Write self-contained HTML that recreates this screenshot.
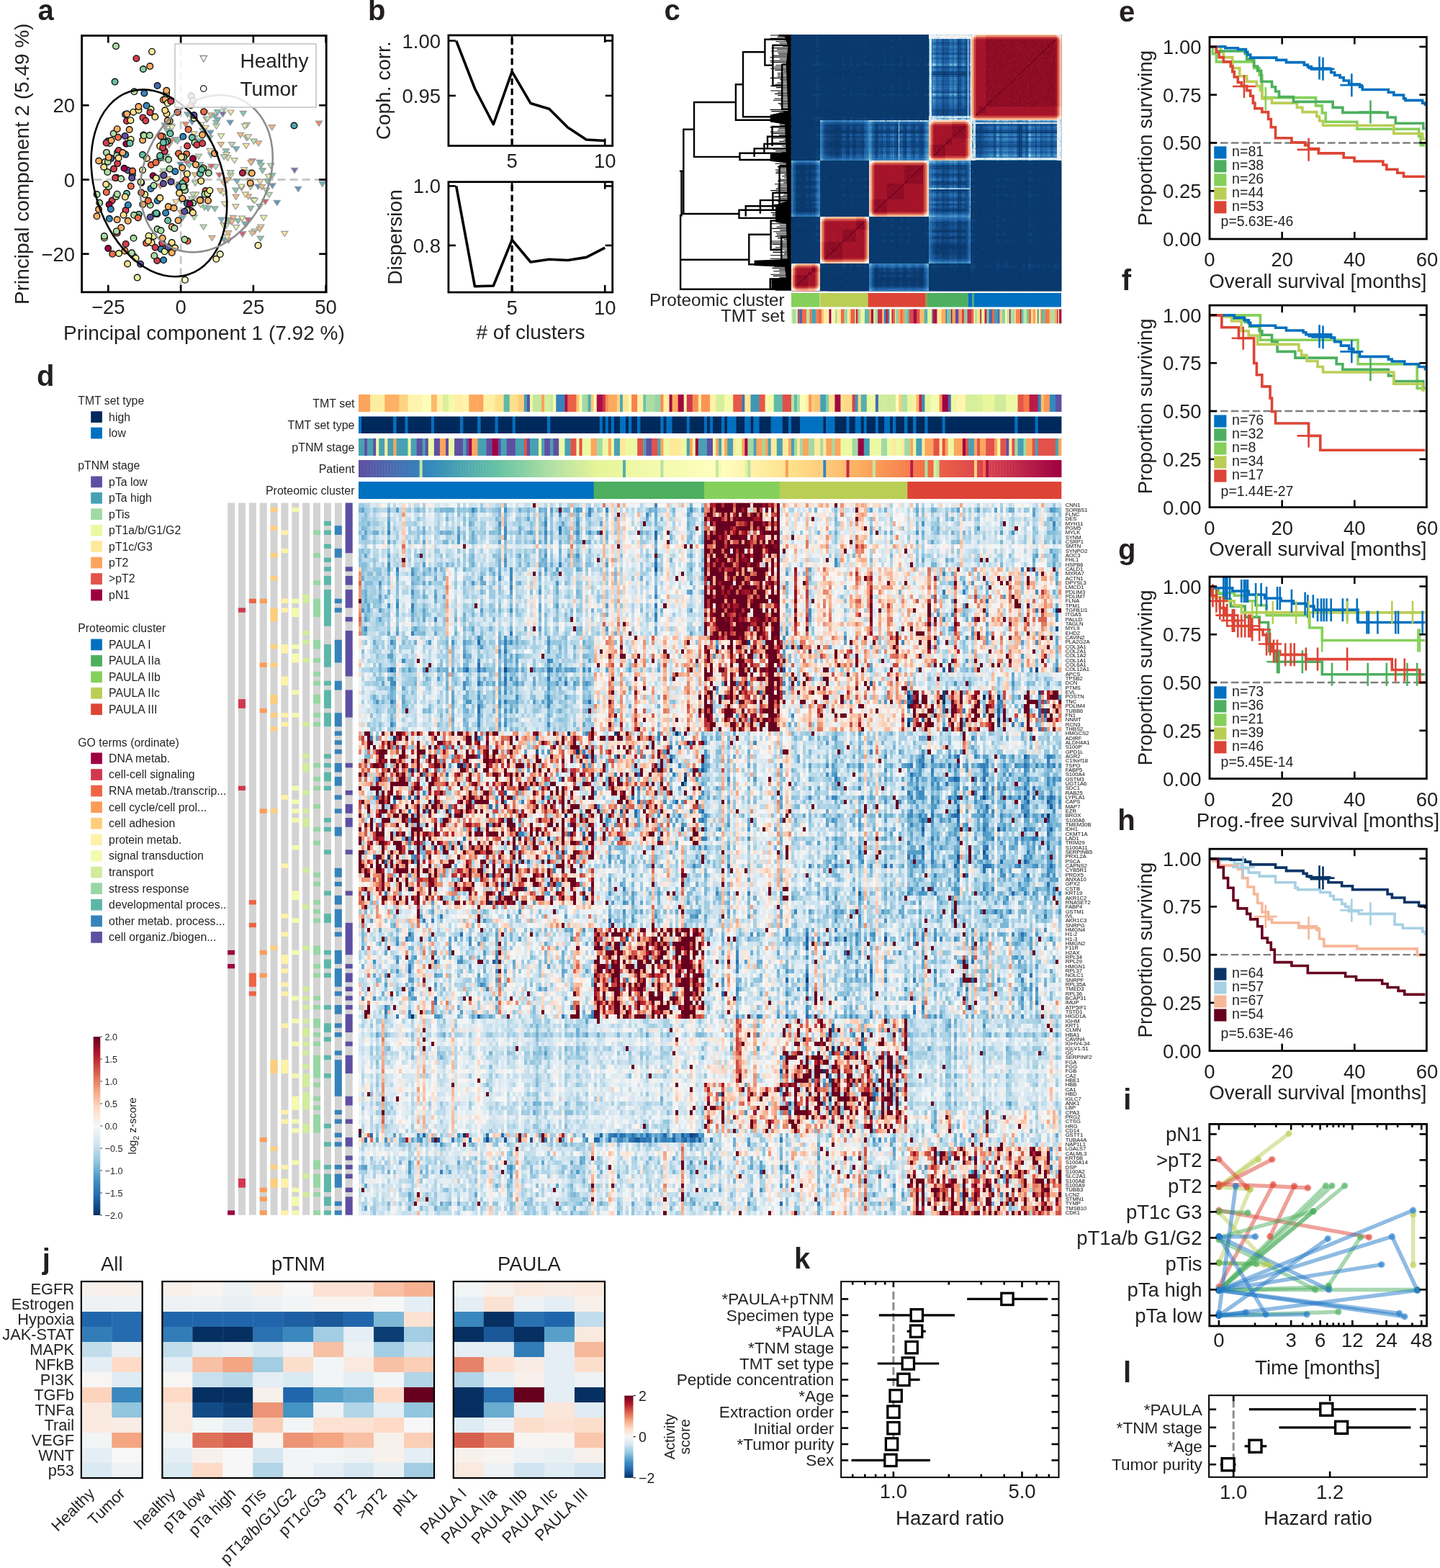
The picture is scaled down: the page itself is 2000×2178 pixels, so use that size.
<!DOCTYPE html>
<html><head><meta charset="utf-8"><title>Figure</title>
<style>html,body{margin:0;padding:0;background:#fff;}#wrap{position:relative;width:2000px;height:2178px;overflow:hidden;}
#wrap>svg{position:absolute;left:0;top:0;}</style></head>
<body><div id="wrap">
<svg width="2000" height="2178" viewBox="0 0 2000 2178" font-family='"Liberation Sans", Arial, Helvetica, sans-serif' fill="#231f20"><text x="52.6" y="27.7" font-size="40" font-weight="bold">a</text><svg x="113.6" y="49.5" width="339.6" height="356.3" viewBox="113.6 49.5 339.6 356.3" overflow="hidden"><line x1="251.10" y1="49.50" x2="251.10" y2="405.80" stroke="#c8c8c8" stroke-width="3" stroke-dasharray="11,6"/><line x1="113.60" y1="249.50" x2="453.20" y2="249.50" stroke="#c8c8c8" stroke-width="3" stroke-dasharray="11,6"/><g opacity="0.85"><path d="M315.0 167.1L324.2 167.1L319.6 174.2Z" fill="#3288bd" stroke="#8a8a8a" stroke-width="1.2"/><path d="M339.9 302.4L349.1 302.4L344.5 309.6Z" fill="#d53e4f" stroke="#8a8a8a" stroke-width="1.2"/><path d="M261.2 158.5L270.4 158.5L265.8 165.6Z" fill="#e6f598" stroke="#8a8a8a" stroke-width="1.2"/><path d="M343.5 256.6L352.7 256.6L348.1 263.7Z" fill="#abdda4" stroke="#8a8a8a" stroke-width="1.2"/><path d="M261.7 273.1L270.9 273.1L266.3 280.2Z" fill="#abdda4" stroke="#8a8a8a" stroke-width="1.2"/><path d="M253.7 239.1L262.9 239.1L258.3 246.2Z" fill="#f46d43" stroke="#8a8a8a" stroke-width="1.2"/><path d="M295.0 228.3L304.2 228.3L299.6 235.5Z" fill="#abdda4" stroke="#8a8a8a" stroke-width="1.2"/><path d="M247.1 292.3L256.3 292.3L251.7 299.4Z" fill="#fdae61" stroke="#8a8a8a" stroke-width="1.2"/><path d="M312.9 330.7L322.1 330.7L317.5 337.8Z" fill="#fdae61" stroke="#8a8a8a" stroke-width="1.2"/><path d="M217.4 216.8L226.6 216.8L222.0 224.0Z" fill="#4ca5b1" stroke="#8a8a8a" stroke-width="1.2"/><path d="M288.7 156.8L297.9 156.8L293.3 164.0Z" fill="#fdae61" stroke="#8a8a8a" stroke-width="1.2"/><path d="M315.7 240.9L324.9 240.9L320.3 248.1Z" fill="#e6f598" stroke="#8a8a8a" stroke-width="1.2"/><path d="M293.8 286.9L303.0 286.9L298.4 294.0Z" fill="#66c2a5" stroke="#8a8a8a" stroke-width="1.2"/><path d="M326.1 303.8L335.3 303.8L330.7 310.9Z" fill="#66c2a5" stroke="#8a8a8a" stroke-width="1.2"/><path d="M348.9 318.2L358.1 318.2L353.5 325.4Z" fill="#abdda4" stroke="#8a8a8a" stroke-width="1.2"/><path d="M255.8 155.9L265.0 155.9L260.4 163.0Z" fill="#4ca5b1" stroke="#8a8a8a" stroke-width="1.2"/><path d="M295.9 172.1L305.1 172.1L300.5 179.2Z" fill="#e6f598" stroke="#8a8a8a" stroke-width="1.2"/><path d="M317.4 197.6L326.6 197.6L322.0 204.7Z" fill="#abdda4" stroke="#8a8a8a" stroke-width="1.2"/><path d="M226.6 214.0L235.8 214.0L231.2 221.2Z" fill="#4ca5b1" stroke="#8a8a8a" stroke-width="1.2"/><path d="M295.6 167.3L304.8 167.3L300.2 174.5Z" fill="#66c2a5" stroke="#8a8a8a" stroke-width="1.2"/><path d="M271.3 214.0L280.5 214.0L275.9 221.1Z" fill="#abdda4" stroke="#8a8a8a" stroke-width="1.2"/><path d="M221.3 242.3L230.5 242.3L225.9 249.4Z" fill="#e6f598" stroke="#8a8a8a" stroke-width="1.2"/><path d="M265.0 298.6L274.2 298.6L269.6 305.7Z" fill="#abdda4" stroke="#8a8a8a" stroke-width="1.2"/><path d="M346.7 274.4L355.9 274.4L351.3 281.5Z" fill="#e6f598" stroke="#8a8a8a" stroke-width="1.2"/><path d="M373.6 240.5L382.8 240.5L378.2 247.6Z" fill="#66c2a5" stroke="#8a8a8a" stroke-width="1.2"/><path d="M311.7 216.1L320.9 216.1L316.3 223.3Z" fill="#fee08b" stroke="#8a8a8a" stroke-width="1.2"/><path d="M323.5 312.7L332.7 312.7L328.1 319.9Z" fill="#e6f598" stroke="#8a8a8a" stroke-width="1.2"/><path d="M284.4 286.1L293.6 286.1L289.0 293.3Z" fill="#66c2a5" stroke="#8a8a8a" stroke-width="1.2"/><path d="M278.1 312.1L287.3 312.1L282.7 319.2Z" fill="#abdda4" stroke="#8a8a8a" stroke-width="1.2"/><path d="M322.7 283.8L331.9 283.8L327.3 290.9Z" fill="#fee08b" stroke="#8a8a8a" stroke-width="1.2"/><path d="M356.2 222.3L365.4 222.3L360.8 229.5Z" fill="#4ca5b1" stroke="#8a8a8a" stroke-width="1.2"/><path d="M305.8 309.5L315.0 309.5L310.4 316.6Z" fill="#fee08b" stroke="#8a8a8a" stroke-width="1.2"/><path d="M303.0 302.0L312.2 302.0L307.6 309.1Z" fill="#4ca5b1" stroke="#8a8a8a" stroke-width="1.2"/><path d="M357.9 226.7L367.1 226.7L362.5 233.8Z" fill="#66c2a5" stroke="#8a8a8a" stroke-width="1.2"/><path d="M305.8 265.1L315.0 265.1L310.4 272.2Z" fill="#e6f598" stroke="#8a8a8a" stroke-width="1.2"/><path d="M279.5 285.0L288.7 285.0L284.1 292.1Z" fill="#66c2a5" stroke="#8a8a8a" stroke-width="1.2"/><path d="M288.9 228.0L298.1 228.0L293.5 235.1Z" fill="#d53e4f" stroke="#8a8a8a" stroke-width="1.2"/><path d="M264.8 182.9L274.0 182.9L269.4 190.0Z" fill="#fee08b" stroke="#8a8a8a" stroke-width="1.2"/><path d="M215.7 243.9L224.9 243.9L220.3 251.0Z" fill="#4ca5b1" stroke="#8a8a8a" stroke-width="1.2"/><path d="M371.6 227.0L380.8 227.0L376.2 234.1Z" fill="#abdda4" stroke="#8a8a8a" stroke-width="1.2"/><path d="M282.4 231.0L291.6 231.0L287.0 238.1Z" fill="#abdda4" stroke="#8a8a8a" stroke-width="1.2"/><path d="M356.0 283.5L365.2 283.5L360.6 290.6Z" fill="#66c2a5" stroke="#8a8a8a" stroke-width="1.2"/><path d="M309.2 206.8L318.4 206.8L313.8 213.9Z" fill="#66c2a5" stroke="#8a8a8a" stroke-width="1.2"/><path d="M270.3 228.9L279.5 228.9L274.9 236.1Z" fill="#abdda4" stroke="#8a8a8a" stroke-width="1.2"/><path d="M338.2 170.4L347.4 170.4L342.8 177.6Z" fill="#e6f598" stroke="#8a8a8a" stroke-width="1.2"/><path d="M345.7 320.9L354.9 320.9L350.3 328.0Z" fill="#fdae61" stroke="#8a8a8a" stroke-width="1.2"/><path d="M280.9 174.5L290.1 174.5L285.5 181.7Z" fill="#fee08b" stroke="#8a8a8a" stroke-width="1.2"/><path d="M342.8 247.8L352.0 247.8L347.4 254.9Z" fill="#fee08b" stroke="#8a8a8a" stroke-width="1.2"/><path d="M331.7 300.2L340.9 300.2L336.3 307.3Z" fill="#e6f598" stroke="#8a8a8a" stroke-width="1.2"/><path d="M244.4 252.6L253.6 252.6L249.0 259.7Z" fill="#5e4fa2" stroke="#8a8a8a" stroke-width="1.2"/><path d="M241.2 255.1L250.4 255.1L245.8 262.2Z" fill="#fee08b" stroke="#8a8a8a" stroke-width="1.2"/><path d="M368.5 242.4L377.7 242.4L373.1 249.6Z" fill="#e6f598" stroke="#8a8a8a" stroke-width="1.2"/><path d="M267.8 275.9L277.0 275.9L272.4 283.1Z" fill="#fee08b" stroke="#8a8a8a" stroke-width="1.2"/><path d="M369.1 267.4L378.3 267.4L373.7 274.5Z" fill="#abdda4" stroke="#8a8a8a" stroke-width="1.2"/><path d="M373.8 254.9L383.0 254.9L378.4 262.0Z" fill="#3288bd" stroke="#8a8a8a" stroke-width="1.2"/><path d="M297.8 163.0L307.0 163.0L302.4 170.1Z" fill="#4ca5b1" stroke="#8a8a8a" stroke-width="1.2"/><path d="M334.5 232.7L343.7 232.7L339.1 239.9Z" fill="#fee08b" stroke="#8a8a8a" stroke-width="1.2"/><path d="M282.1 162.7L291.3 162.7L286.7 169.9Z" fill="#fdae61" stroke="#8a8a8a" stroke-width="1.2"/><path d="M279.7 153.5L288.9 153.5L284.3 160.7Z" fill="#4ca5b1" stroke="#8a8a8a" stroke-width="1.2"/><path d="M222.9 234.5L232.1 234.5L227.5 241.6Z" fill="#abdda4" stroke="#8a8a8a" stroke-width="1.2"/><path d="M297.5 152.5L306.7 152.5L302.1 159.6Z" fill="#66c2a5" stroke="#8a8a8a" stroke-width="1.2"/><path d="M253.1 169.5L262.3 169.5L257.7 176.6Z" fill="#f46d43" stroke="#8a8a8a" stroke-width="1.2"/><path d="M323.5 203.8L332.7 203.8L328.1 210.9Z" fill="#4ca5b1" stroke="#8a8a8a" stroke-width="1.2"/><path d="M315.8 153.0L325.0 153.0L320.4 160.1Z" fill="#fee08b" stroke="#8a8a8a" stroke-width="1.2"/><path d="M266.6 251.3L275.8 251.3L271.2 258.4Z" fill="#abdda4" stroke="#8a8a8a" stroke-width="1.2"/><path d="M311.5 246.6L320.7 246.6L316.1 253.8Z" fill="#fdae61" stroke="#8a8a8a" stroke-width="1.2"/><path d="M310.0 211.6L319.2 211.6L314.6 218.8Z" fill="#e6f598" stroke="#8a8a8a" stroke-width="1.2"/><path d="M288.6 212.4L297.8 212.4L293.2 219.5Z" fill="#4ca5b1" stroke="#8a8a8a" stroke-width="1.2"/><path d="M316.7 304.7L325.9 304.7L321.3 311.8Z" fill="#4ca5b1" stroke="#8a8a8a" stroke-width="1.2"/><path d="M221.7 237.8L230.9 237.8L226.3 244.9Z" fill="#e6f598" stroke="#8a8a8a" stroke-width="1.2"/><path d="M338.0 188.5L347.2 188.5L342.6 195.6Z" fill="#66c2a5" stroke="#8a8a8a" stroke-width="1.2"/><path d="M332.4 322.1L341.6 322.1L337.0 329.3Z" fill="#e6f598" stroke="#8a8a8a" stroke-width="1.2"/><path d="M356.8 249.2L366.0 249.2L361.4 256.3Z" fill="#fee08b" stroke="#8a8a8a" stroke-width="1.2"/><path d="M253.3 276.8L262.5 276.8L257.9 284.0Z" fill="#abdda4" stroke="#8a8a8a" stroke-width="1.2"/><path d="M242.5 212.9L251.7 212.9L247.1 220.1Z" fill="#fdae61" stroke="#8a8a8a" stroke-width="1.2"/><path d="M217.9 202.4L227.1 202.4L222.5 209.6Z" fill="#fee08b" stroke="#8a8a8a" stroke-width="1.2"/><path d="M239.0 190.7L248.2 190.7L243.6 197.9Z" fill="#66c2a5" stroke="#8a8a8a" stroke-width="1.2"/><path d="M366.9 248.8L376.1 248.8L371.5 255.9Z" fill="#66c2a5" stroke="#8a8a8a" stroke-width="1.2"/><path d="M345.9 220.6L355.1 220.6L350.5 227.8Z" fill="#f46d43" stroke="#8a8a8a" stroke-width="1.2"/><path d="M312.6 302.3L321.8 302.3L317.2 309.4Z" fill="#66c2a5" stroke="#8a8a8a" stroke-width="1.2"/><path d="M306.6 330.0L315.8 330.0L311.2 337.1Z" fill="#4ca5b1" stroke="#8a8a8a" stroke-width="1.2"/><path d="M267.6 266.9L276.8 266.9L272.2 274.1Z" fill="#e6f598" stroke="#8a8a8a" stroke-width="1.2"/><path d="M230.2 198.4L239.4 198.4L234.8 205.6Z" fill="#f46d43" stroke="#8a8a8a" stroke-width="1.2"/><path d="M343.5 286.3L352.7 286.3L348.1 293.4Z" fill="#66c2a5" stroke="#8a8a8a" stroke-width="1.2"/><path d="M354.4 195.9L363.6 195.9L359.0 203.1Z" fill="#fdae61" stroke="#8a8a8a" stroke-width="1.2"/><path d="M232.9 172.1L242.1 172.1L237.5 179.3Z" fill="#abdda4" stroke="#8a8a8a" stroke-width="1.2"/><path d="M357.7 312.1L366.9 312.1L362.3 319.3Z" fill="#fee08b" stroke="#8a8a8a" stroke-width="1.2"/><path d="M306.5 214.7L315.7 214.7L311.1 221.9Z" fill="#abdda4" stroke="#8a8a8a" stroke-width="1.2"/><path d="M312.4 320.5L321.6 320.5L317.0 327.7Z" fill="#fdae61" stroke="#8a8a8a" stroke-width="1.2"/><path d="M321.0 219.6L330.2 219.6L325.6 226.7Z" fill="#e6f598" stroke="#8a8a8a" stroke-width="1.2"/><path d="M347.9 193.1L357.1 193.1L352.5 200.3Z" fill="#abdda4" stroke="#8a8a8a" stroke-width="1.2"/><path d="M265.7 188.7L274.9 188.7L270.3 195.9Z" fill="#abdda4" stroke="#8a8a8a" stroke-width="1.2"/><path d="M319.3 299.4L328.5 299.4L323.9 306.5Z" fill="#fdae61" stroke="#8a8a8a" stroke-width="1.2"/><path d="M304.8 155.4L314.0 155.4L309.4 162.6Z" fill="#5e4fa2" stroke="#8a8a8a" stroke-width="1.2"/><path d="M274.3 281.1L283.5 281.1L278.9 288.3Z" fill="#fee08b" stroke="#8a8a8a" stroke-width="1.2"/><path d="M287.1 206.4L296.3 206.4L291.7 213.6Z" fill="#fee08b" stroke="#8a8a8a" stroke-width="1.2"/><path d="M228.2 245.3L237.4 245.3L232.8 252.4Z" fill="#fdae61" stroke="#8a8a8a" stroke-width="1.2"/><path d="M233.6 192.4L242.8 192.4L238.2 199.5Z" fill="#f46d43" stroke="#8a8a8a" stroke-width="1.2"/><path d="M349.0 275.5L358.2 275.5L353.6 282.6Z" fill="#e6f598" stroke="#8a8a8a" stroke-width="1.2"/><path d="M273.0 225.7L282.2 225.7L277.6 232.8Z" fill="#66c2a5" stroke="#8a8a8a" stroke-width="1.2"/><path d="M247.1 275.5L256.3 275.5L251.7 282.7Z" fill="#66c2a5" stroke="#8a8a8a" stroke-width="1.2"/><path d="M266.1 239.8L275.3 239.8L270.7 246.9Z" fill="#fdae61" stroke="#8a8a8a" stroke-width="1.2"/><path d="M225.0 172.9L234.2 172.9L229.6 180.1Z" fill="#fdae61" stroke="#8a8a8a" stroke-width="1.2"/><path d="M307.4 280.2L316.6 280.2L312.0 287.3Z" fill="#fee08b" stroke="#8a8a8a" stroke-width="1.2"/><path d="M224.3 170.8L233.5 170.8L228.9 177.9Z" fill="#66c2a5" stroke="#8a8a8a" stroke-width="1.2"/><path d="M361.6 299.2L370.8 299.2L366.2 306.4Z" fill="#e6f598" stroke="#8a8a8a" stroke-width="1.2"/><path d="M262.2 166.6L271.4 166.6L266.8 173.7Z" fill="#3288bd" stroke="#8a8a8a" stroke-width="1.2"/><path d="M314.1 303.5L323.3 303.5L318.7 310.6Z" fill="#66c2a5" stroke="#8a8a8a" stroke-width="1.2"/><path d="M283.5 162.0L292.7 162.0L288.1 169.1Z" fill="#abdda4" stroke="#8a8a8a" stroke-width="1.2"/><path d="M273.7 192.8L282.9 192.8L278.3 200.0Z" fill="#66c2a5" stroke="#8a8a8a" stroke-width="1.2"/><path d="M227.5 178.4L236.7 178.4L232.1 185.6Z" fill="#66c2a5" stroke="#8a8a8a" stroke-width="1.2"/><path d="M340.1 186.9L349.3 186.9L344.7 194.1Z" fill="#fee08b" stroke="#8a8a8a" stroke-width="1.2"/><path d="M323.1 270.3L332.3 270.3L327.7 277.5Z" fill="#fdae61" stroke="#8a8a8a" stroke-width="1.2"/><path d="M222.1 217.2L231.3 217.2L226.7 224.4Z" fill="#e6f598" stroke="#8a8a8a" stroke-width="1.2"/><path d="M336.9 308.3L346.1 308.3L341.5 315.4Z" fill="#e6f598" stroke="#8a8a8a" stroke-width="1.2"/><path d="M255.6 222.1L264.8 222.1L260.2 229.2Z" fill="#fdae61" stroke="#8a8a8a" stroke-width="1.2"/><path d="M335.4 172.2L344.6 172.2L340.0 179.3Z" fill="#e6f598" stroke="#8a8a8a" stroke-width="1.2"/><path d="M232.3 284.1L241.5 284.1L236.9 291.2Z" fill="#abdda4" stroke="#8a8a8a" stroke-width="1.2"/><path d="M343.9 222.7L353.1 222.7L348.5 229.9Z" fill="#fdae61" stroke="#8a8a8a" stroke-width="1.2"/><path d="M340.2 269.8L349.4 269.8L344.8 277.0Z" fill="#fdae61" stroke="#8a8a8a" stroke-width="1.2"/><path d="M317.7 304.8L326.9 304.8L322.3 312.0Z" fill="#fdae61" stroke="#8a8a8a" stroke-width="1.2"/><path d="M337.3 199.3L346.5 199.3L341.9 206.5Z" fill="#fee08b" stroke="#8a8a8a" stroke-width="1.2"/><path d="M330.9 258.0L340.1 258.0L335.5 265.1Z" fill="#5e4fa2" stroke="#8a8a8a" stroke-width="1.2"/><path d="M274.1 249.0L283.3 249.0L278.7 256.1Z" fill="#d53e4f" stroke="#8a8a8a" stroke-width="1.2"/><path d="M301.3 261.8L310.5 261.8L305.9 268.9Z" fill="#fdae61" stroke="#8a8a8a" stroke-width="1.2"/><path d="M302.2 197.7L311.4 197.7L306.8 204.9Z" fill="#fdae61" stroke="#8a8a8a" stroke-width="1.2"/><path d="M274.7 170.0L283.9 170.0L279.3 177.2Z" fill="#e6f598" stroke="#8a8a8a" stroke-width="1.2"/><path d="M363.8 277.0L373.0 277.0L368.4 284.2Z" fill="#d53e4f" stroke="#8a8a8a" stroke-width="1.2"/><path d="M234.3 173.7L243.5 173.7L238.9 180.9Z" fill="#e6f598" stroke="#8a8a8a" stroke-width="1.2"/><path d="M329.5 184.4L338.7 184.4L334.1 191.6Z" fill="#fdae61" stroke="#8a8a8a" stroke-width="1.2"/><path d="M306.7 251.8L315.9 251.8L311.3 258.9Z" fill="#fdae61" stroke="#8a8a8a" stroke-width="1.2"/><path d="M335.8 308.1L345.0 308.1L340.4 315.2Z" fill="#4ca5b1" stroke="#8a8a8a" stroke-width="1.2"/><path d="M289.9 327.3L299.1 327.3L294.5 334.4Z" fill="#fdae61" stroke="#8a8a8a" stroke-width="1.2"/><path d="M263.5 267.0L272.7 267.0L268.1 274.2Z" fill="#abdda4" stroke="#8a8a8a" stroke-width="1.2"/><path d="M330.7 256.0L339.9 256.0L335.3 263.1Z" fill="#e6f598" stroke="#8a8a8a" stroke-width="1.2"/><path d="M252.3 248.6L261.5 248.6L256.9 255.7Z" fill="#e6f598" stroke="#8a8a8a" stroke-width="1.2"/><path d="M249.1 299.6L258.3 299.6L253.7 306.7Z" fill="#4ca5b1" stroke="#8a8a8a" stroke-width="1.2"/><path d="M217.0 218.9L226.2 218.9L221.6 226.1Z" fill="#fdae61" stroke="#8a8a8a" stroke-width="1.2"/><path d="M231.9 285.5L241.1 285.5L236.5 292.6Z" fill="#3288bd" stroke="#8a8a8a" stroke-width="1.2"/><path d="M354.0 256.0L363.2 256.0L358.6 263.2Z" fill="#3288bd" stroke="#8a8a8a" stroke-width="1.2"/><path d="M241.9 193.0L251.1 193.0L246.5 200.1Z" fill="#66c2a5" stroke="#8a8a8a" stroke-width="1.2"/><path d="M255.5 223.8L264.7 223.8L260.1 230.9Z" fill="#d53e4f" stroke="#8a8a8a" stroke-width="1.2"/><path d="M258.3 226.6L267.5 226.6L262.9 233.7Z" fill="#66c2a5" stroke="#8a8a8a" stroke-width="1.2"/><path d="M315.6 236.7L324.8 236.7L320.2 243.8Z" fill="#abdda4" stroke="#8a8a8a" stroke-width="1.2"/><path d="M277.0 178.3L286.2 178.3L281.6 185.4Z" fill="#66c2a5" stroke="#8a8a8a" stroke-width="1.2"/><path d="M356.1 315.2L365.3 315.2L360.7 322.3Z" fill="#fdae61" stroke="#8a8a8a" stroke-width="1.2"/><path d="M245.9 225.4L255.1 225.4L250.5 232.5Z" fill="#3288bd" stroke="#8a8a8a" stroke-width="1.2"/><path d="M293.9 158.5L303.1 158.5L298.5 165.6Z" fill="#4ca5b1" stroke="#8a8a8a" stroke-width="1.2"/><path d="M218.2 255.4L227.4 255.4L222.8 262.5Z" fill="#f46d43" stroke="#8a8a8a" stroke-width="1.2"/><path d="M310.8 325.9L320.0 325.9L315.4 333.0Z" fill="#fee08b" stroke="#8a8a8a" stroke-width="1.2"/><path d="M332.1 321.9L341.3 321.9L336.7 329.0Z" fill="#d53e4f" stroke="#8a8a8a" stroke-width="1.2"/><path d="M324.7 248.6L333.9 248.6L329.3 255.7Z" fill="#4ca5b1" stroke="#8a8a8a" stroke-width="1.2"/><path d="M380.1 278.4L389.3 278.4L384.7 285.5Z" fill="#3288bd" stroke="#8a8a8a" stroke-width="1.2"/><path d="M404.5 233.4L413.7 233.4L409.1 240.6Z" fill="#5e4fa2" stroke="#8a8a8a" stroke-width="1.2"/><path d="M306.4 147.8L315.6 147.8L311.0 154.9Z" fill="#abdda4" stroke="#8a8a8a" stroke-width="1.2"/><path d="M360.0 233.8L369.2 233.8L364.6 241.0Z" fill="#66c2a5" stroke="#8a8a8a" stroke-width="1.2"/><path d="M322.8 261.2L332.0 261.2L327.4 268.3Z" fill="#66c2a5" stroke="#8a8a8a" stroke-width="1.2"/><path d="M309.5 310.4L318.7 310.4L314.1 317.5Z" fill="#abdda4" stroke="#8a8a8a" stroke-width="1.2"/><path d="M409.6 259.3L418.8 259.3L414.2 266.4Z" fill="#3288bd" stroke="#8a8a8a" stroke-width="1.2"/><path d="M340.3 236.2L349.5 236.2L344.9 243.3Z" fill="#abdda4" stroke="#8a8a8a" stroke-width="1.2"/><path d="M239.9 277.3L249.1 277.3L244.5 284.5Z" fill="#fee08b" stroke="#8a8a8a" stroke-width="1.2"/><path d="M365.3 261.3L374.5 261.3L369.9 268.4Z" fill="#abdda4" stroke="#8a8a8a" stroke-width="1.2"/><path d="M300.0 240.1L309.2 240.1L304.6 247.2Z" fill="#d53e4f" stroke="#8a8a8a" stroke-width="1.2"/><path d="M286.4 188.5L295.6 188.5L291.0 195.7Z" fill="#66c2a5" stroke="#8a8a8a" stroke-width="1.2"/><path d="M357.1 328.1L366.3 328.1L361.7 335.2Z" fill="#66c2a5" stroke="#8a8a8a" stroke-width="1.2"/><path d="M302.5 185.9L311.7 185.9L307.1 193.0Z" fill="#e6f598" stroke="#8a8a8a" stroke-width="1.2"/><path d="M443.2 252.2L452.4 252.2L447.8 259.3Z" fill="#4ca5b1" stroke="#8a8a8a" stroke-width="1.2"/><path d="M333.2 154.3L342.4 154.3L337.8 161.5Z" fill="#66c2a5" stroke="#8a8a8a" stroke-width="1.2"/><path d="M336.2 266.8L345.4 266.8L340.8 274.0Z" fill="#fee08b" stroke="#8a8a8a" stroke-width="1.2"/><path d="M438.4 168.2L447.6 168.2L443.0 175.3Z" fill="#f46d43" stroke="#8a8a8a" stroke-width="1.2"/><path d="M373.2 173.7L382.4 173.7L377.8 180.8Z" fill="#fdae61" stroke="#8a8a8a" stroke-width="1.2"/><path d="M359.0 256.5L368.2 256.5L363.6 263.6Z" fill="#fdae61" stroke="#8a8a8a" stroke-width="1.2"/><path d="M390.7 321.3L399.9 321.3L395.3 328.5Z" fill="#fee08b" stroke="#8a8a8a" stroke-width="1.2"/><path d="M252.5 256.3L261.7 256.3L257.1 263.4Z" fill="#e6f598" stroke="#8a8a8a" stroke-width="1.2"/><path d="M287.6 181.1L296.8 181.1L292.2 188.3Z" fill="#3288bd" stroke="#8a8a8a" stroke-width="1.2"/></g><circle cx="176.0" cy="168.0" r="4.3" fill="#d53e4f" stroke="#111" stroke-width="1.4"/><circle cx="246.5" cy="155.9" r="4.3" fill="#f46d43" stroke="#111" stroke-width="1.4"/><circle cx="265.2" cy="292.8" r="4.3" fill="#d53e4f" stroke="#111" stroke-width="1.4"/><circle cx="152.1" cy="198.9" r="4.3" fill="#abdda4" stroke="#111" stroke-width="1.4"/><circle cx="247.5" cy="306.2" r="4.3" fill="#fdae61" stroke="#111" stroke-width="1.4"/><circle cx="174.1" cy="159.0" r="4.3" fill="#3288bd" stroke="#111" stroke-width="1.4"/><circle cx="174.3" cy="214.6" r="4.3" fill="#3288bd" stroke="#111" stroke-width="1.4"/><circle cx="149.9" cy="196.0" r="4.3" fill="#3288bd" stroke="#111" stroke-width="1.4"/><circle cx="147.8" cy="266.9" r="4.3" fill="#f46d43" stroke="#111" stroke-width="1.4"/><circle cx="175.3" cy="199.7" r="4.3" fill="#9e0142" stroke="#111" stroke-width="1.4"/><circle cx="233.8" cy="287.0" r="4.3" fill="#fdae61" stroke="#111" stroke-width="1.4"/><circle cx="237.5" cy="252.5" r="4.3" fill="#5e4fa2" stroke="#111" stroke-width="1.4"/><circle cx="278.4" cy="277.4" r="4.3" fill="#66c2a5" stroke="#111" stroke-width="1.4"/><circle cx="260.1" cy="202.7" r="4.3" fill="#d53e4f" stroke="#111" stroke-width="1.4"/><circle cx="257.0" cy="264.2" r="4.3" fill="#abdda4" stroke="#111" stroke-width="1.4"/><circle cx="254.3" cy="189.8" r="4.3" fill="#3288bd" stroke="#111" stroke-width="1.4"/><circle cx="195.1" cy="366.7" r="4.3" fill="#5e4fa2" stroke="#111" stroke-width="1.4"/><circle cx="163.1" cy="211.6" r="4.3" fill="#abdda4" stroke="#111" stroke-width="1.4"/><circle cx="176.0" cy="268.8" r="4.3" fill="#66c2a5" stroke="#111" stroke-width="1.4"/><circle cx="278.0" cy="241.1" r="4.3" fill="#66c2a5" stroke="#111" stroke-width="1.4"/><circle cx="177.7" cy="306.8" r="4.3" fill="#fdae61" stroke="#111" stroke-width="1.4"/><circle cx="174.7" cy="338.9" r="4.3" fill="#d53e4f" stroke="#111" stroke-width="1.4"/><circle cx="138.2" cy="281.8" r="4.3" fill="#abdda4" stroke="#111" stroke-width="1.4"/><circle cx="164.8" cy="209.1" r="4.3" fill="#d53e4f" stroke="#111" stroke-width="1.4"/><circle cx="289.0" cy="278.7" r="4.3" fill="#fdae61" stroke="#111" stroke-width="1.4"/><circle cx="227.5" cy="243.5" r="4.3" fill="#5e4fa2" stroke="#111" stroke-width="1.4"/><circle cx="282.3" cy="233.5" r="4.3" fill="#e6f598" stroke="#111" stroke-width="1.4"/><circle cx="231.5" cy="158.0" r="4.3" fill="#fee08b" stroke="#111" stroke-width="1.4"/><circle cx="218.7" cy="278.7" r="4.3" fill="#3288bd" stroke="#111" stroke-width="1.4"/><circle cx="260.5" cy="334.8" r="4.3" fill="#f46d43" stroke="#111" stroke-width="1.4"/><circle cx="173.6" cy="188.9" r="4.3" fill="#5e4fa2" stroke="#111" stroke-width="1.4"/><circle cx="209.5" cy="261.9" r="4.3" fill="#3288bd" stroke="#111" stroke-width="1.4"/><circle cx="134.5" cy="300.3" r="4.3" fill="#fdae61" stroke="#111" stroke-width="1.4"/><circle cx="226.8" cy="138.7" r="4.3" fill="#fdae61" stroke="#111" stroke-width="1.4"/><circle cx="228.8" cy="210.1" r="4.3" fill="#d53e4f" stroke="#111" stroke-width="1.4"/><circle cx="183.9" cy="242.4" r="4.3" fill="#3288bd" stroke="#111" stroke-width="1.4"/><circle cx="259.1" cy="213.9" r="4.3" fill="#f46d43" stroke="#111" stroke-width="1.4"/><circle cx="268.0" cy="220.2" r="4.3" fill="#9e0142" stroke="#111" stroke-width="1.4"/><circle cx="161.9" cy="246.7" r="4.3" fill="#3288bd" stroke="#111" stroke-width="1.4"/><circle cx="213.3" cy="328.1" r="4.3" fill="#e6f598" stroke="#111" stroke-width="1.4"/><circle cx="235.8" cy="168.0" r="4.3" fill="#abdda4" stroke="#111" stroke-width="1.4"/><circle cx="150.9" cy="259.2" r="4.3" fill="#abdda4" stroke="#111" stroke-width="1.4"/><circle cx="255.8" cy="258.8" r="4.3" fill="#9e0142" stroke="#111" stroke-width="1.4"/><circle cx="174.5" cy="292.1" r="4.3" fill="#d53e4f" stroke="#111" stroke-width="1.4"/><circle cx="222.2" cy="202.9" r="4.3" fill="#fee08b" stroke="#111" stroke-width="1.4"/><circle cx="225.2" cy="338.1" r="4.3" fill="#d53e4f" stroke="#111" stroke-width="1.4"/><circle cx="144.9" cy="330.5" r="4.3" fill="#fee08b" stroke="#111" stroke-width="1.4"/><circle cx="157.6" cy="185.5" r="4.3" fill="#abdda4" stroke="#111" stroke-width="1.4"/><circle cx="185.5" cy="330.8" r="4.3" fill="#abdda4" stroke="#111" stroke-width="1.4"/><circle cx="209.5" cy="151.8" r="4.3" fill="#e6f598" stroke="#111" stroke-width="1.4"/><circle cx="212.6" cy="244.2" r="4.3" fill="#9e0142" stroke="#111" stroke-width="1.4"/><circle cx="257.9" cy="249.9" r="4.3" fill="#f46d43" stroke="#111" stroke-width="1.4"/><circle cx="151.9" cy="303.8" r="4.3" fill="#3288bd" stroke="#111" stroke-width="1.4"/><circle cx="147.6" cy="198.4" r="4.3" fill="#d53e4f" stroke="#111" stroke-width="1.4"/><circle cx="181.7" cy="193.7" r="4.3" fill="#e6f598" stroke="#111" stroke-width="1.4"/><circle cx="155.6" cy="278.6" r="4.3" fill="#d53e4f" stroke="#111" stroke-width="1.4"/><circle cx="243.2" cy="238.2" r="4.3" fill="#3288bd" stroke="#111" stroke-width="1.4"/><circle cx="156.2" cy="352.8" r="4.3" fill="#f46d43" stroke="#111" stroke-width="1.4"/><circle cx="177.1" cy="366.5" r="4.3" fill="#fee08b" stroke="#111" stroke-width="1.4"/><circle cx="165.1" cy="352.0" r="4.3" fill="#e6f598" stroke="#111" stroke-width="1.4"/><circle cx="208.7" cy="284.8" r="4.3" fill="#abdda4" stroke="#111" stroke-width="1.4"/><circle cx="230.1" cy="295.7" r="4.3" fill="#3288bd" stroke="#111" stroke-width="1.4"/><circle cx="259.6" cy="292.1" r="4.3" fill="#abdda4" stroke="#111" stroke-width="1.4"/><circle cx="198.1" cy="194.6" r="4.3" fill="#fdae61" stroke="#111" stroke-width="1.4"/><circle cx="198.5" cy="163.4" r="4.3" fill="#d53e4f" stroke="#111" stroke-width="1.4"/><circle cx="288.2" cy="270.1" r="4.3" fill="#abdda4" stroke="#111" stroke-width="1.4"/><circle cx="256.2" cy="293.8" r="4.3" fill="#5e4fa2" stroke="#111" stroke-width="1.4"/><circle cx="151.6" cy="284.1" r="4.3" fill="#9e0142" stroke="#111" stroke-width="1.4"/><circle cx="232.8" cy="141.0" r="4.3" fill="#66c2a5" stroke="#111" stroke-width="1.4"/><circle cx="152.7" cy="219.2" r="4.3" fill="#f46d43" stroke="#111" stroke-width="1.4"/><circle cx="210.6" cy="337.1" r="4.3" fill="#fee08b" stroke="#111" stroke-width="1.4"/><circle cx="185.3" cy="155.7" r="4.3" fill="#fee08b" stroke="#111" stroke-width="1.4"/><circle cx="234.4" cy="344.6" r="4.3" fill="#e6f598" stroke="#111" stroke-width="1.4"/><circle cx="226.9" cy="255.0" r="4.3" fill="#5e4fa2" stroke="#111" stroke-width="1.4"/><circle cx="226.1" cy="189.8" r="4.3" fill="#abdda4" stroke="#111" stroke-width="1.4"/><circle cx="154.6" cy="195.0" r="4.3" fill="#fdae61" stroke="#111" stroke-width="1.4"/><circle cx="199.3" cy="187.6" r="4.3" fill="#abdda4" stroke="#111" stroke-width="1.4"/><circle cx="173.8" cy="273.4" r="4.3" fill="#fee08b" stroke="#111" stroke-width="1.4"/><circle cx="192.6" cy="152.9" r="4.3" fill="#fee08b" stroke="#111" stroke-width="1.4"/><circle cx="198.3" cy="283.9" r="4.3" fill="#fdae61" stroke="#111" stroke-width="1.4"/><circle cx="259.9" cy="241.4" r="4.3" fill="#fee08b" stroke="#111" stroke-width="1.4"/><circle cx="205.8" cy="278.8" r="4.3" fill="#f46d43" stroke="#111" stroke-width="1.4"/><circle cx="203.1" cy="337.6" r="4.3" fill="#f46d43" stroke="#111" stroke-width="1.4"/><circle cx="226.2" cy="205.1" r="4.3" fill="#d53e4f" stroke="#111" stroke-width="1.4"/><circle cx="267.9" cy="295.5" r="4.3" fill="#fee08b" stroke="#111" stroke-width="1.4"/><circle cx="168.2" cy="316.3" r="4.3" fill="#fdae61" stroke="#111" stroke-width="1.4"/><circle cx="180.5" cy="198.9" r="4.3" fill="#66c2a5" stroke="#111" stroke-width="1.4"/><circle cx="192.8" cy="297.8" r="4.3" fill="#66c2a5" stroke="#111" stroke-width="1.4"/><circle cx="238.8" cy="315.1" r="4.3" fill="#fdae61" stroke="#111" stroke-width="1.4"/><circle cx="145.8" cy="225.0" r="4.3" fill="#e6f598" stroke="#111" stroke-width="1.4"/><circle cx="259.8" cy="282.5" r="4.3" fill="#3288bd" stroke="#111" stroke-width="1.4"/><circle cx="238.7" cy="350.9" r="4.3" fill="#fdae61" stroke="#111" stroke-width="1.4"/><circle cx="198.1" cy="236.2" r="4.3" fill="#e6f598" stroke="#111" stroke-width="1.4"/><circle cx="171.6" cy="298.7" r="4.3" fill="#fee08b" stroke="#111" stroke-width="1.4"/><circle cx="234.1" cy="221.8" r="4.3" fill="#abdda4" stroke="#111" stroke-width="1.4"/><circle cx="154.2" cy="220.1" r="4.3" fill="#5e4fa2" stroke="#111" stroke-width="1.4"/><circle cx="162.7" cy="323.8" r="4.3" fill="#d53e4f" stroke="#111" stroke-width="1.4"/><circle cx="177.4" cy="236.4" r="4.3" fill="#5e4fa2" stroke="#111" stroke-width="1.4"/><circle cx="134.6" cy="270.0" r="4.3" fill="#abdda4" stroke="#111" stroke-width="1.4"/><circle cx="232.6" cy="195.9" r="4.3" fill="#66c2a5" stroke="#111" stroke-width="1.4"/><circle cx="186.1" cy="298.8" r="4.3" fill="#abdda4" stroke="#111" stroke-width="1.4"/><circle cx="223.6" cy="346.0" r="4.3" fill="#3288bd" stroke="#111" stroke-width="1.4"/><circle cx="162.7" cy="305.1" r="4.3" fill="#fdae61" stroke="#111" stroke-width="1.4"/><circle cx="289.7" cy="240.3" r="4.3" fill="#abdda4" stroke="#111" stroke-width="1.4"/><circle cx="163.1" cy="216.8" r="4.3" fill="#f46d43" stroke="#111" stroke-width="1.4"/><circle cx="238.7" cy="337.1" r="4.3" fill="#fee08b" stroke="#111" stroke-width="1.4"/><circle cx="149.3" cy="238.9" r="4.3" fill="#abdda4" stroke="#111" stroke-width="1.4"/><circle cx="285.5" cy="265.1" r="4.3" fill="#f46d43" stroke="#111" stroke-width="1.4"/><circle cx="185.6" cy="355.7" r="4.3" fill="#d53e4f" stroke="#111" stroke-width="1.4"/><circle cx="266.8" cy="191.0" r="4.3" fill="#66c2a5" stroke="#111" stroke-width="1.4"/><circle cx="223.1" cy="218.8" r="4.3" fill="#66c2a5" stroke="#111" stroke-width="1.4"/><circle cx="144.8" cy="328.0" r="4.3" fill="#abdda4" stroke="#111" stroke-width="1.4"/><circle cx="229.5" cy="138.2" r="4.3" fill="#fdae61" stroke="#111" stroke-width="1.4"/><circle cx="270.5" cy="198.2" r="4.3" fill="#abdda4" stroke="#111" stroke-width="1.4"/><circle cx="218.2" cy="362.0" r="4.3" fill="#d53e4f" stroke="#111" stroke-width="1.4"/><circle cx="149.8" cy="224.7" r="4.3" fill="#abdda4" stroke="#111" stroke-width="1.4"/><circle cx="269.6" cy="164.2" r="4.3" fill="#e6f598" stroke="#111" stroke-width="1.4"/><circle cx="206.5" cy="327.7" r="4.3" fill="#e6f598" stroke="#111" stroke-width="1.4"/><circle cx="279.1" cy="251.4" r="4.3" fill="#fee08b" stroke="#111" stroke-width="1.4"/><circle cx="181.8" cy="258.6" r="4.3" fill="#f46d43" stroke="#111" stroke-width="1.4"/><circle cx="162.2" cy="216.2" r="4.3" fill="#abdda4" stroke="#111" stroke-width="1.4"/><circle cx="215.3" cy="162.3" r="4.3" fill="#fee08b" stroke="#111" stroke-width="1.4"/><circle cx="284.4" cy="269.8" r="4.3" fill="#abdda4" stroke="#111" stroke-width="1.4"/><circle cx="176.3" cy="158.3" r="4.3" fill="#fdae61" stroke="#111" stroke-width="1.4"/><circle cx="215.6" cy="343.7" r="4.3" fill="#d53e4f" stroke="#111" stroke-width="1.4"/><circle cx="228.7" cy="349.3" r="4.3" fill="#e6f598" stroke="#111" stroke-width="1.4"/><circle cx="216.8" cy="247.5" r="4.3" fill="#e6f598" stroke="#111" stroke-width="1.4"/><circle cx="203.5" cy="146.8" r="4.3" fill="#3288bd" stroke="#111" stroke-width="1.4"/><circle cx="153.8" cy="290.5" r="4.3" fill="#3288bd" stroke="#111" stroke-width="1.4"/><circle cx="273.4" cy="201.2" r="4.3" fill="#d53e4f" stroke="#111" stroke-width="1.4"/><circle cx="255.2" cy="218.3" r="4.3" fill="#66c2a5" stroke="#111" stroke-width="1.4"/><circle cx="164.0" cy="190.8" r="4.3" fill="#f46d43" stroke="#111" stroke-width="1.4"/><circle cx="161.2" cy="273.2" r="4.3" fill="#abdda4" stroke="#111" stroke-width="1.4"/><circle cx="298.2" cy="213.2" r="4.3" fill="#fdae61" stroke="#111" stroke-width="1.4"/><circle cx="137.1" cy="290.8" r="4.3" fill="#fdae61" stroke="#111" stroke-width="1.4"/><circle cx="243.0" cy="344.3" r="4.3" fill="#fee08b" stroke="#111" stroke-width="1.4"/><circle cx="221.9" cy="274.7" r="4.3" fill="#e6f598" stroke="#111" stroke-width="1.4"/><circle cx="215.5" cy="296.9" r="4.3" fill="#abdda4" stroke="#111" stroke-width="1.4"/><circle cx="242.4" cy="317.1" r="4.3" fill="#abdda4" stroke="#111" stroke-width="1.4"/><circle cx="213.6" cy="257.7" r="4.3" fill="#abdda4" stroke="#111" stroke-width="1.4"/><circle cx="277.9" cy="278.2" r="4.3" fill="#fdae61" stroke="#111" stroke-width="1.4"/><circle cx="268.0" cy="282.0" r="4.3" fill="#abdda4" stroke="#111" stroke-width="1.4"/><circle cx="253.4" cy="275.7" r="4.3" fill="#fdae61" stroke="#111" stroke-width="1.4"/><circle cx="232.9" cy="143.3" r="4.3" fill="#e6f598" stroke="#111" stroke-width="1.4"/><circle cx="222.2" cy="275.2" r="4.3" fill="#fee08b" stroke="#111" stroke-width="1.4"/><circle cx="188.6" cy="358.7" r="4.3" fill="#e6f598" stroke="#111" stroke-width="1.4"/><circle cx="172.5" cy="233.8" r="4.3" fill="#9e0142" stroke="#111" stroke-width="1.4"/><circle cx="144.3" cy="232.0" r="4.3" fill="#fee08b" stroke="#111" stroke-width="1.4"/><circle cx="283.1" cy="155.2" r="4.3" fill="#f46d43" stroke="#111" stroke-width="1.4"/><circle cx="162.7" cy="179.2" r="4.3" fill="#fdae61" stroke="#111" stroke-width="1.4"/><circle cx="281.1" cy="199.2" r="4.3" fill="#d53e4f" stroke="#111" stroke-width="1.4"/><circle cx="218.6" cy="318.3" r="4.3" fill="#abdda4" stroke="#111" stroke-width="1.4"/><circle cx="218.3" cy="297.2" r="4.3" fill="#3288bd" stroke="#111" stroke-width="1.4"/><circle cx="173.4" cy="348.4" r="4.3" fill="#fdae61" stroke="#111" stroke-width="1.4"/><circle cx="160.2" cy="247.1" r="4.3" fill="#d53e4f" stroke="#111" stroke-width="1.4"/><circle cx="201.2" cy="270.1" r="4.3" fill="#e6f598" stroke="#111" stroke-width="1.4"/><circle cx="163.2" cy="227.1" r="4.3" fill="#d53e4f" stroke="#111" stroke-width="1.4"/><circle cx="177.9" cy="284.7" r="4.3" fill="#3288bd" stroke="#111" stroke-width="1.4"/><circle cx="208.4" cy="156.2" r="4.3" fill="#d53e4f" stroke="#111" stroke-width="1.4"/><circle cx="170.4" cy="212.1" r="4.3" fill="#fdae61" stroke="#111" stroke-width="1.4"/><circle cx="181.4" cy="167.2" r="4.3" fill="#fee08b" stroke="#111" stroke-width="1.4"/><circle cx="196.3" cy="253.9" r="4.3" fill="#d53e4f" stroke="#111" stroke-width="1.4"/><circle cx="281.0" cy="187.3" r="4.3" fill="#fdae61" stroke="#111" stroke-width="1.4"/><circle cx="209.9" cy="229.0" r="4.3" fill="#f46d43" stroke="#111" stroke-width="1.4"/><circle cx="183.0" cy="351.3" r="4.3" fill="#abdda4" stroke="#111" stroke-width="1.4"/><circle cx="269.4" cy="160.1" r="4.3" fill="#5e4fa2" stroke="#111" stroke-width="1.4"/><circle cx="225.7" cy="330.8" r="4.3" fill="#fdae61" stroke="#111" stroke-width="1.4"/><circle cx="222.2" cy="216.3" r="4.3" fill="#66c2a5" stroke="#111" stroke-width="1.4"/><circle cx="202.3" cy="167.7" r="4.3" fill="#d53e4f" stroke="#111" stroke-width="1.4"/><circle cx="195.6" cy="252.8" r="4.3" fill="#e6f598" stroke="#111" stroke-width="1.4"/><circle cx="147.2" cy="256.0" r="4.3" fill="#fee08b" stroke="#111" stroke-width="1.4"/><circle cx="261.6" cy="179.8" r="4.3" fill="#f46d43" stroke="#111" stroke-width="1.4"/><circle cx="253.4" cy="254.7" r="4.3" fill="#66c2a5" stroke="#111" stroke-width="1.4"/><circle cx="199.9" cy="188.3" r="4.3" fill="#abdda4" stroke="#111" stroke-width="1.4"/><circle cx="158.0" cy="234.6" r="4.3" fill="#d53e4f" stroke="#111" stroke-width="1.4"/><circle cx="253.2" cy="233.0" r="4.3" fill="#fdae61" stroke="#111" stroke-width="1.4"/><circle cx="280.3" cy="235.5" r="4.3" fill="#66c2a5" stroke="#111" stroke-width="1.4"/><circle cx="208.7" cy="301.7" r="4.3" fill="#5e4fa2" stroke="#111" stroke-width="1.4"/><circle cx="288.4" cy="268.7" r="4.3" fill="#e6f598" stroke="#111" stroke-width="1.4"/><circle cx="249.1" cy="259.4" r="4.3" fill="#3288bd" stroke="#111" stroke-width="1.4"/><circle cx="233.3" cy="343.3" r="4.3" fill="#5e4fa2" stroke="#111" stroke-width="1.4"/><circle cx="214.3" cy="355.2" r="4.3" fill="#abdda4" stroke="#111" stroke-width="1.4"/><circle cx="223.4" cy="320.3" r="4.3" fill="#abdda4" stroke="#111" stroke-width="1.4"/><circle cx="191.7" cy="302.5" r="4.3" fill="#f46d43" stroke="#111" stroke-width="1.4"/><circle cx="232.8" cy="167.6" r="4.3" fill="#fdae61" stroke="#111" stroke-width="1.4"/><circle cx="291.4" cy="264.7" r="4.3" fill="#e6f598" stroke="#111" stroke-width="1.4"/><circle cx="227.1" cy="361.3" r="4.3" fill="#3288bd" stroke="#111" stroke-width="1.4"/><circle cx="192.4" cy="148.1" r="4.3" fill="#fdae61" stroke="#111" stroke-width="1.4"/><circle cx="241.6" cy="289.0" r="4.3" fill="#fdae61" stroke="#111" stroke-width="1.4"/><circle cx="263.6" cy="283.0" r="4.3" fill="#9e0142" stroke="#111" stroke-width="1.4"/><circle cx="148.0" cy="211.9" r="4.3" fill="#abdda4" stroke="#111" stroke-width="1.4"/><circle cx="205.9" cy="334.8" r="4.3" fill="#fee08b" stroke="#111" stroke-width="1.4"/><circle cx="217.2" cy="296.1" r="4.3" fill="#66c2a5" stroke="#111" stroke-width="1.4"/><circle cx="223.5" cy="189.1" r="4.3" fill="#f46d43" stroke="#111" stroke-width="1.4"/><circle cx="231.1" cy="130.3" r="4.3" fill="#abdda4" stroke="#111" stroke-width="1.4"/><circle cx="207.8" cy="188.1" r="4.3" fill="#abdda4" stroke="#111" stroke-width="1.4"/><circle cx="229.2" cy="153.3" r="4.3" fill="#fee08b" stroke="#111" stroke-width="1.4"/><circle cx="265.2" cy="146.2" r="4.3" fill="#f46d43" stroke="#111" stroke-width="1.4"/><circle cx="137.2" cy="223.5" r="4.3" fill="#fdae61" stroke="#111" stroke-width="1.4"/><circle cx="161.7" cy="321.2" r="4.3" fill="#abdda4" stroke="#111" stroke-width="1.4"/><circle cx="184.1" cy="237.6" r="4.3" fill="#f46d43" stroke="#111" stroke-width="1.4"/><circle cx="237.3" cy="140.6" r="4.3" fill="#d53e4f" stroke="#111" stroke-width="1.4"/><circle cx="249.0" cy="268.1" r="4.3" fill="#fee08b" stroke="#111" stroke-width="1.4"/><circle cx="248.1" cy="213.2" r="4.3" fill="#f46d43" stroke="#111" stroke-width="1.4"/><circle cx="230.3" cy="197.5" r="4.3" fill="#66c2a5" stroke="#111" stroke-width="1.4"/><circle cx="198.1" cy="215.0" r="4.3" fill="#66c2a5" stroke="#111" stroke-width="1.4"/><circle cx="200.4" cy="129.5" r="4.3" fill="#3288bd" stroke="#111" stroke-width="1.4"/><circle cx="265.6" cy="133.3" r="4.3" fill="#66c2a5" stroke="#111" stroke-width="1.4"/><circle cx="168.1" cy="248.3" r="4.3" fill="#abdda4" stroke="#111" stroke-width="1.4"/><circle cx="196.2" cy="267.6" r="4.3" fill="#f46d43" stroke="#111" stroke-width="1.4"/><circle cx="233.1" cy="306.3" r="4.3" fill="#66c2a5" stroke="#111" stroke-width="1.4"/><circle cx="254.8" cy="259.7" r="4.3" fill="#abdda4" stroke="#111" stroke-width="1.4"/><circle cx="186.4" cy="127.3" r="4.3" fill="#abdda4" stroke="#111" stroke-width="1.4"/><circle cx="256.4" cy="332.6" r="4.3" fill="#abdda4" stroke="#111" stroke-width="1.4"/><circle cx="226.8" cy="197.9" r="4.3" fill="#66c2a5" stroke="#111" stroke-width="1.4"/><circle cx="349.8" cy="240.6" r="4.3" fill="#fdae61" stroke="#111" stroke-width="1.4"/><circle cx="268.1" cy="140.0" r="4.3" fill="#abdda4" stroke="#111" stroke-width="1.4"/><circle cx="252.1" cy="218.1" r="4.3" fill="#fee08b" stroke="#111" stroke-width="1.4"/><circle cx="150.8" cy="218.6" r="4.3" fill="#fdae61" stroke="#111" stroke-width="1.4"/><circle cx="179.7" cy="180.0" r="4.3" fill="#fdae61" stroke="#111" stroke-width="1.4"/><circle cx="216.4" cy="225.7" r="4.3" fill="#f46d43" stroke="#111" stroke-width="1.4"/><circle cx="203.9" cy="220.0" r="4.3" fill="#fee08b" stroke="#111" stroke-width="1.4"/><circle cx="271.9" cy="228.6" r="4.3" fill="#fdae61" stroke="#111" stroke-width="1.4"/><circle cx="164.6" cy="219.5" r="4.3" fill="#fee08b" stroke="#111" stroke-width="1.4"/><circle cx="236.4" cy="185.4" r="4.3" fill="#66c2a5" stroke="#111" stroke-width="1.4"/><circle cx="162.8" cy="269.7" r="4.3" fill="#abdda4" stroke="#111" stroke-width="1.4"/><circle cx="235.7" cy="234.7" r="4.3" fill="#abdda4" stroke="#111" stroke-width="1.4"/><circle cx="183.2" cy="247.1" r="4.3" fill="#5e4fa2" stroke="#111" stroke-width="1.4"/><ellipse cx="220.9" cy="254.3" rx="133.4" ry="89.3" transform="rotate(72.20 220.9 254.3)" fill="none" stroke="#000" stroke-width="2.6"/><ellipse cx="286.8" cy="241.2" rx="113.5" ry="86.6" transform="rotate(115.01 286.8 241.2)" fill="none" stroke="#8c8c8c" stroke-width="2.6"/><circle cx="161.0" cy="64.1" r="4.3" fill="#abdda4" stroke="#111" stroke-width="1.4"/><circle cx="211.0" cy="71.7" r="4.3" fill="#fef0a5" stroke="#111" stroke-width="1.4"/><circle cx="189.4" cy="81.2" r="4.3" fill="#d53e4f" stroke="#111" stroke-width="1.4"/><circle cx="208.3" cy="92.0" r="4.3" fill="#fdae61" stroke="#111" stroke-width="1.4"/><circle cx="198.9" cy="96.0" r="4.3" fill="#88d0a4" stroke="#111" stroke-width="1.4"/><circle cx="159.6" cy="113.6" r="4.3" fill="#66c2a5" stroke="#111" stroke-width="1.4"/><circle cx="218.6" cy="119.0" r="4.3" fill="#486cb0" stroke="#111" stroke-width="1.4"/><circle cx="231.3" cy="125.8" r="4.3" fill="#fdae61" stroke="#111" stroke-width="1.4"/><circle cx="408.5" cy="174.5" r="4.3" fill="#4ca5b1" stroke="#111" stroke-width="1.4"/><circle cx="336.9" cy="240.3" r="4.3" fill="#ba2048" stroke="#111" stroke-width="1.4"/><circle cx="347.7" cy="254.3" r="4.3" fill="#fdae61" stroke="#111" stroke-width="1.4"/><circle cx="358.5" cy="340.9" r="4.3" fill="#fef0a5" stroke="#111" stroke-width="1.4"/><circle cx="300.3" cy="359.8" r="4.3" fill="#fef0a5" stroke="#111" stroke-width="1.4"/><circle cx="305.7" cy="353.1" r="4.3" fill="#ffffbf" stroke="#111" stroke-width="1.4"/><circle cx="257.0" cy="388.8" r="4.3" fill="#ffffbf" stroke="#111" stroke-width="1.4"/><circle cx="190.7" cy="385.6" r="4.3" fill="#e6f598" stroke="#111" stroke-width="1.4"/><circle cx="150.2" cy="345.0" r="4.3" fill="#9e0142" stroke="#111" stroke-width="1.4"/><rect x="243" y="61" width="196" height="88" fill="#fff" fill-opacity="0.8" stroke="#cccccc" stroke-width="1.8"/><path d="M278 77.5L287.5 77.5L282.7 86Z" fill="#fff" stroke="#8a8a8a" stroke-width="1.3"/><circle cx="282.7" cy="123.1" r="4.2" fill="#fff" stroke="#111" stroke-width="1.2"/></svg><text x="333.5" y="93.6" font-size="28">Healthy</text><text x="333.5" y="132.8" font-size="28">Tumor</text><rect x="113.60" y="49.50" width="339.60" height="356.30" fill="none" stroke="#000" stroke-width="2.8"/><line x1="150.35" y1="405.80" x2="150.35" y2="395.80" stroke="#000" stroke-width="2.6"/><line x1="150.35" y1="49.50" x2="150.35" y2="59.50" stroke="#000" stroke-width="2.6"/><line x1="251.10" y1="405.80" x2="251.10" y2="395.80" stroke="#000" stroke-width="2.6"/><line x1="251.10" y1="49.50" x2="251.10" y2="59.50" stroke="#000" stroke-width="2.6"/><line x1="351.85" y1="405.80" x2="351.85" y2="395.80" stroke="#000" stroke-width="2.6"/><line x1="351.85" y1="49.50" x2="351.85" y2="59.50" stroke="#000" stroke-width="2.6"/><line x1="452.60" y1="405.80" x2="452.60" y2="395.80" stroke="#000" stroke-width="2.6"/><line x1="452.60" y1="49.50" x2="452.60" y2="59.50" stroke="#000" stroke-width="2.6"/><line x1="113.60" y1="352.70" x2="123.60" y2="352.70" stroke="#000" stroke-width="2.6"/><line x1="453.20" y1="352.70" x2="443.20" y2="352.70" stroke="#000" stroke-width="2.6"/><line x1="113.60" y1="249.50" x2="123.60" y2="249.50" stroke="#000" stroke-width="2.6"/><line x1="453.20" y1="249.50" x2="443.20" y2="249.50" stroke="#000" stroke-width="2.6"/><line x1="113.60" y1="146.30" x2="123.60" y2="146.30" stroke="#000" stroke-width="2.6"/><line x1="453.20" y1="146.30" x2="443.20" y2="146.30" stroke="#000" stroke-width="2.6"/><text x="150.3" y="436.0" font-size="27.5" text-anchor="middle">−25</text><text x="251.1" y="436.0" font-size="27.5" text-anchor="middle">0</text><text x="351.9" y="436.0" font-size="27.5" text-anchor="middle">25</text><text x="452.6" y="436.0" font-size="27.5" text-anchor="middle">50</text><text x="104.0" y="362.7" font-size="27.5" text-anchor="end">−20</text><text x="104.0" y="259.5" font-size="27.5" text-anchor="end">0</text><text x="104.0" y="156.3" font-size="27.5" text-anchor="end">20</text><text x="283.4" y="472.0" font-size="28" text-anchor="middle">Principal component 1 (7.92 %)</text><text x="40.0" y="227.7" font-size="28" text-anchor="middle" transform="rotate(-90 40.0 227.7)">Principal component 2 (5.49 %)</text><text x="511.0" y="28.2" font-size="40" font-weight="bold">b</text><line x1="711.10" y1="53.00" x2="711.10" y2="202.50" stroke="#000" stroke-width="3.2" stroke-dasharray="9,5"/><polyline points="633.64,56.60 659.46,122.98 685.28,172.73 711.10,99.33 736.92,143.43 762.74,151.21 788.56,177.00 814.38,193.94 840.20,195.47" stroke="#000" stroke-width="3.6" fill="none" stroke-linejoin="round"/><rect x="622.90" y="49.00" width="227.80" height="153.50" fill="none" stroke="#000" stroke-width="2.8"/><line x1="622.90" y1="56.60" x2="632.90" y2="56.60" stroke="#000" stroke-width="2.6"/><line x1="850.70" y1="56.60" x2="840.70" y2="56.60" stroke="#000" stroke-width="2.6"/><line x1="622.90" y1="132.90" x2="632.90" y2="132.90" stroke="#000" stroke-width="2.6"/><line x1="850.70" y1="132.90" x2="840.70" y2="132.90" stroke="#000" stroke-width="2.6"/><line x1="711.10" y1="202.50" x2="711.10" y2="192.50" stroke="#000" stroke-width="2.6"/><line x1="711.10" y1="49.00" x2="711.10" y2="59.00" stroke="#000" stroke-width="2.6"/><line x1="840.20" y1="202.50" x2="840.20" y2="192.50" stroke="#000" stroke-width="2.6"/><line x1="840.20" y1="49.00" x2="840.20" y2="59.00" stroke="#000" stroke-width="2.6"/><text x="612.0" y="66.6" font-size="27.5" text-anchor="end">1.00</text><text x="612.0" y="142.9" font-size="27.5" text-anchor="end">0.95</text><text x="711.1" y="233.0" font-size="27.5" text-anchor="middle">5</text><text x="840.2" y="233.0" font-size="27.5" text-anchor="middle">10</text><text x="542.0" y="125.8" font-size="28" text-anchor="middle" transform="rotate(-90 542.0 125.8)">Coph. corr.</text><line x1="711.10" y1="256.70" x2="711.10" y2="406.00" stroke="#000" stroke-width="3.2" stroke-dasharray="9,5"/><polyline points="633.64,258.40 659.46,397.82 685.28,397.00 711.10,333.06 736.92,364.00 762.74,360.29 788.56,361.52 814.38,357.40 840.20,344.20" stroke="#000" stroke-width="3.6" fill="none" stroke-linejoin="round"/><rect x="622.90" y="252.70" width="227.80" height="153.30" fill="none" stroke="#000" stroke-width="2.8"/><line x1="622.90" y1="258.40" x2="632.90" y2="258.40" stroke="#000" stroke-width="2.6"/><line x1="850.70" y1="258.40" x2="840.70" y2="258.40" stroke="#000" stroke-width="2.6"/><line x1="622.90" y1="340.90" x2="632.90" y2="340.90" stroke="#000" stroke-width="2.6"/><line x1="850.70" y1="340.90" x2="840.70" y2="340.90" stroke="#000" stroke-width="2.6"/><line x1="711.10" y1="406.00" x2="711.10" y2="396.00" stroke="#000" stroke-width="2.6"/><line x1="711.10" y1="252.70" x2="711.10" y2="262.70" stroke="#000" stroke-width="2.6"/><line x1="840.20" y1="406.00" x2="840.20" y2="396.00" stroke="#000" stroke-width="2.6"/><line x1="840.20" y1="252.70" x2="840.20" y2="262.70" stroke="#000" stroke-width="2.6"/><text x="612.0" y="268.4" font-size="27.5" text-anchor="end">1.0</text><text x="612.0" y="350.9" font-size="27.5" text-anchor="end">0.8</text><text x="711.1" y="437.0" font-size="27.5" text-anchor="middle">5</text><text x="840.2" y="437.0" font-size="27.5" text-anchor="middle">10</text><text x="558.0" y="329.4" font-size="28" text-anchor="middle" transform="rotate(-90 558.0 329.4)">Dispersion</text><text x="737.0" y="471.0" font-size="28" text-anchor="middle"># of clusters</text><text x="922.6" y="28.2" font-size="40" font-weight="bold">c</text><path d="M945.1 299.2L945.1 401.8M946.5 237.6L946.5 299.2M949.3 179.7L949.3 297.0M964.0 142.0L964.0 217.9M1021.9 117.2L1021.9 166.8M1032.0 72.2L1032.0 162.2M1062.4 54.7L1062.4 90.6M1073.4 63.0L1073.4 119.0M1086.2 89.6L1086.2 152.1M1027.4 212.8L1027.4 222.0M1026.5 291.8L1026.5 302.9M1035.7 286.3L1035.7 299.2M1055.9 278.1L1055.9 295.5M1073.4 267.9L1073.4 290.0M1082.6 231.2L1082.6 284.5M1040.3 325.8L1040.3 367.2M1070.6 306.5L1070.6 347.0M1085.3 328.6L1085.3 360.8M1047.6 206.4L1047.6 216.5M1061.4 199.9L1061.4 212.8M1066.0 189.8L1066.0 205.4M1072.5 176.0L1072.5 201.8M1069.7 387.4L1069.7 401.8M945.1 401.8L1098.8 401.8M945.1 360.8L1040.3 360.8M946.5 297.0L1026.5 297.0M949.3 179.7L964.0 179.7M964.0 142.0L1021.9 142.0M964.0 217.9L1027.4 217.9M1021.9 117.2L1032.0 117.2M1021.9 166.8L1098.8 166.8M1032.0 72.2L1062.4 72.2M1032.0 162.2L1098.8 162.2M1062.4 54.7L1098.8 54.7M1062.4 90.6L1073.4 90.6M1073.4 63.0L1098.8 63.0M1073.4 119.0L1086.2 119.0M1040.3 325.8L1070.6 325.8M1040.3 367.2L1098.8 367.2M1070.6 306.5L1098.8 306.5M1070.6 347.0L1085.3 347.0M945.1 237.6L948.4 237.6M1027.4 212.8L1098.8 212.8M1027.4 222.0L1098.8 222.0M1026.5 291.8L1098.8 291.8M1026.5 302.9L1098.8 302.9M1035.7 286.3L1098.8 286.3M1055.9 278.1L1098.8 278.1M1073.4 267.9L1098.8 267.9M1082.6 231.2L1098.8 231.2M1047.6 206.4L1098.8 206.4M1061.4 199.9L1098.8 199.9M1066.0 189.8L1098.8 189.8M1072.5 176.0L1098.8 176.0M1086.2 152.1L1098.8 152.1M1086.2 89.6L1098.8 89.6M1082.6 49.2L1098.8 49.2M1069.7 387.4L1098.8 387.4M1085.3 328.6L1098.8 328.6M1085.3 360.8L1098.8 360.8" stroke="#000" stroke-width="2.4" stroke-linecap="square" fill="none"/><path d="M1098.8 48.3 L1082.6 48.3 L1089.9 51.0 L1094.5 63.9 L1091.8 89.6 L1094.5 154.0 L1069.7 159.5 L1069.7 169.6 L1089.9 172.4 L1091.8 211.0 L1069.7 213.7 L1069.7 223.8 L1091.8 226.6 L1093.6 279.0 L1077.1 284.5 L1077.1 308.4 L1091.8 311.1 L1093.6 359.9 L1047.6 361.7 L1047.6 369.0 L1089.9 370.9 L1091.8 385.6 L1071.5 387.4 L1071.5 401.8 L1098.8 401.8 Z" fill="#000"/><path d="M1070.1 49.0L1098.8 49.0M1079.6 51.2L1098.8 51.2M1069.3 53.4L1098.8 53.4M1089.0 55.6L1098.8 55.6M1077.4 57.8L1098.8 57.8M1082.5 60.0L1098.8 60.0M1073.2 62.2L1098.8 62.2M1087.0 64.4L1098.8 64.4M1071.6 66.6L1098.8 66.6M1078.8 68.8L1098.8 68.8M1071.0 71.0L1098.8 71.0M1080.3 73.2L1098.8 73.2M1081.3 75.4L1098.8 75.4M1073.4 77.6L1098.8 77.6M1069.1 79.8L1098.8 79.8M1082.7 82.0L1098.8 82.0M1069.5 84.2L1098.8 84.2M1070.4 86.4L1098.8 86.4M1086.9 88.6L1098.8 88.6M1077.4 90.8L1098.8 90.8M1075.3 93.0L1098.8 93.0M1070.1 95.2L1098.8 95.2M1076.2 97.4L1098.8 97.4M1087.9 99.6L1098.8 99.6M1079.8 101.8L1098.8 101.8M1079.9 104.0L1098.8 104.0M1079.8 106.2L1098.8 106.2M1069.7 108.4L1098.8 108.4M1083.1 110.6L1098.8 110.6M1085.9 112.8L1098.8 112.8M1079.3 115.0L1098.8 115.0M1076.7 117.2L1098.8 117.2M1070.1 119.4L1098.8 119.4M1078.0 121.6L1098.8 121.6M1084.9 123.8L1098.8 123.8M1070.3 126.0L1098.8 126.0M1080.0 128.2L1098.8 128.2M1075.9 130.4L1098.8 130.4M1080.3 132.6L1098.8 132.6M1086.0 134.8L1098.8 134.8M1075.6 137.0L1098.8 137.0M1073.8 139.2L1098.8 139.2M1086.6 141.4L1098.8 141.4M1080.7 143.6L1098.8 143.6M1082.8 145.8L1098.8 145.8M1087.0 148.0L1098.8 148.0M1085.9 150.2L1098.8 150.2M1069.6 152.4L1098.8 152.4M1071.3 154.6L1098.8 154.6M1082.4 156.8L1098.8 156.8M1074.5 159.0L1098.8 159.0M1089.9 161.2L1098.8 161.2M1070.7 163.4L1098.8 163.4M1079.0 165.6L1098.8 165.6M1072.8 167.8L1098.8 167.8M1084.7 170.0L1098.8 170.0M1082.5 172.2L1098.8 172.2M1083.1 174.4L1098.8 174.4M1069.4 176.6L1098.8 176.6M1081.4 178.8L1098.8 178.8M1079.8 181.0L1098.8 181.0M1069.8 183.2L1098.8 183.2M1070.9 185.4L1098.8 185.4M1082.1 187.6L1098.8 187.6M1084.0 189.8L1098.8 189.8M1073.0 192.0L1098.8 192.0M1088.4 194.2L1098.8 194.2M1082.2 196.4L1098.8 196.4M1071.5 198.6L1098.8 198.6M1070.6 200.8L1098.8 200.8M1085.7 203.0L1098.8 203.0M1089.1 205.2L1098.8 205.2M1073.5 207.4L1098.8 207.4M1077.1 209.6L1098.8 209.6M1085.6 211.8L1098.8 211.8M1079.7 214.0L1098.8 214.0M1089.2 216.2L1098.8 216.2M1075.4 218.4L1098.8 218.4M1079.2 220.6L1098.8 220.6M1075.3 222.8L1098.8 222.8M1088.9 225.0L1098.8 225.0M1076.6 227.2L1098.8 227.2M1082.7 229.4L1098.8 229.4M1079.8 231.6L1098.8 231.6M1083.4 233.8L1098.8 233.8M1076.9 236.0L1098.8 236.0M1078.3 238.2L1098.8 238.2M1077.2 240.4L1098.8 240.4M1089.4 242.6L1098.8 242.6M1085.8 244.8L1098.8 244.8M1089.2 247.0L1098.8 247.0M1082.4 249.2L1098.8 249.2M1080.2 251.4L1098.8 251.4M1088.3 253.6L1098.8 253.6M1076.1 255.8L1098.8 255.8M1080.1 258.0L1098.8 258.0M1079.8 260.2L1098.8 260.2M1077.7 262.4L1098.8 262.4M1070.2 264.6L1098.8 264.6M1077.8 266.8L1098.8 266.8M1088.7 269.0L1098.8 269.0M1087.6 271.2L1098.8 271.2M1075.5 273.4L1098.8 273.4M1083.7 275.6L1098.8 275.6M1074.2 277.8L1098.8 277.8M1079.6 280.0L1098.8 280.0M1082.4 282.2L1098.8 282.2M1074.5 284.4L1098.8 284.4M1086.8 286.6L1098.8 286.6M1084.5 288.8L1098.8 288.8M1084.4 291.0L1098.8 291.0M1081.7 293.2L1098.8 293.2M1070.8 295.4L1098.8 295.4M1072.9 297.6L1098.8 297.6M1072.7 299.8L1098.8 299.8M1076.9 302.0L1098.8 302.0M1090.6 304.2L1098.8 304.2M1084.5 306.4L1098.8 306.4M1079.8 308.6L1098.8 308.6M1071.0 310.8L1098.8 310.8M1082.8 313.0L1098.8 313.0M1078.7 315.2L1098.8 315.2M1072.1 317.4L1098.8 317.4M1083.3 319.6L1098.8 319.6M1074.3 321.8L1098.8 321.8M1077.7 324.0L1098.8 324.0M1079.2 326.2L1098.8 326.2M1076.9 328.4L1098.8 328.4M1080.1 330.6L1098.8 330.6M1088.3 332.8L1098.8 332.8M1071.1 335.0L1098.8 335.0M1069.5 337.2L1098.8 337.2M1072.5 339.4L1098.8 339.4M1083.0 341.6L1098.8 341.6M1076.9 343.8L1098.8 343.8M1073.8 346.0L1098.8 346.0M1089.4 348.2L1098.8 348.2M1073.4 350.4L1098.8 350.4M1088.9 352.6L1098.8 352.6M1070.1 354.8L1098.8 354.8M1085.5 357.0L1098.8 357.0M1069.6 359.2L1098.8 359.2M1085.7 361.4L1098.8 361.4M1079.0 363.6L1098.8 363.6M1072.5 365.8L1098.8 365.8M1069.1 368.0L1098.8 368.0M1075.3 370.2L1098.8 370.2M1072.4 372.4L1098.8 372.4M1082.2 374.6L1098.8 374.6M1074.3 376.8L1098.8 376.8M1082.3 379.0L1098.8 379.0M1070.3 381.2L1098.8 381.2M1073.8 383.4L1098.8 383.4M1082.5 385.6L1098.8 385.6M1073.5 387.8L1098.8 387.8M1089.3 390.0L1098.8 390.0M1070.4 392.2L1098.8 392.2M1075.6 394.4L1098.8 394.4M1083.6 396.6L1098.8 396.6M1076.6 398.8L1098.8 398.8M1073.5 401.0L1098.8 401.0M1077.0 403.2L1098.8 403.2" stroke="#000" stroke-width="1.1" fill="none"/><text x="1089.7" y="425.0" font-size="24.3" text-anchor="end">Proteomic cluster</text><text x="1089.7" y="447.0" font-size="24.3" text-anchor="end">TMT set</text><rect x="1099.00" y="407.00" width="39.50" height="19.50" fill="#85d05a"/><rect x="1138.50" y="407.00" width="1.00" height="19.50" fill="#a8cf56"/><rect x="1139.50" y="407.00" width="66.00" height="19.50" fill="#bace55"/><rect x="1205.50" y="407.00" width="79.70" height="19.50" fill="#dd4435"/><rect x="1285.20" y="407.00" width="2.60" height="19.50" fill="#9a8a3a"/><rect x="1287.80" y="407.00" width="56.70" height="19.50" fill="#4daf5f"/><rect x="1344.50" y="407.00" width="6.10" height="19.50" fill="#0070c0"/><rect x="1350.60" y="407.00" width="2.40" height="19.50" fill="#4daf5f"/><rect x="1353.00" y="407.00" width="121.00" height="19.50" fill="#0070c0"/><rect x="1099.00" y="429.4" width="1.80" height="19.9" fill="#e3f499"/><rect x="1100.50" y="429.4" width="4.80" height="19.9" fill="#a4daa4"/><rect x="1105.00" y="429.4" width="3.30" height="19.9" fill="#d4ee9c"/><rect x="1108.00" y="429.4" width="1.80" height="19.9" fill="#565aa7"/><rect x="1109.50" y="429.4" width="1.80" height="19.9" fill="#d9444e"/><rect x="1111.00" y="429.4" width="3.30" height="19.9" fill="#4c67ad"/><rect x="1114.00" y="429.4" width="6.30" height="19.9" fill="#f36c43"/><rect x="1120.00" y="429.4" width="4.80" height="19.9" fill="#bbe4a1"/><rect x="1124.50" y="429.4" width="3.30" height="19.9" fill="#f57346"/><rect x="1127.50" y="429.4" width="6.30" height="19.9" fill="#4aa3b2"/><rect x="1133.50" y="429.4" width="3.30" height="19.9" fill="#f67b4a"/><rect x="1136.50" y="429.4" width="4.80" height="19.9" fill="#ef6645"/><rect x="1141.00" y="429.4" width="3.30" height="19.9" fill="#fdc272"/><rect x="1144.00" y="429.4" width="6.30" height="19.9" fill="#feeda1"/><rect x="1150.00" y="429.4" width="1.80" height="19.9" fill="#feeca0"/><rect x="1151.50" y="429.4" width="3.30" height="19.9" fill="#9e0142"/><rect x="1154.50" y="429.4" width="6.30" height="19.9" fill="#fff6b1"/><rect x="1160.50" y="429.4" width="1.80" height="19.9" fill="#81cca5"/><rect x="1162.00" y="429.4" width="6.30" height="19.9" fill="#fee99b"/><rect x="1168.00" y="429.4" width="3.30" height="19.9" fill="#f16944"/><rect x="1171.00" y="429.4" width="1.80" height="19.9" fill="#f06745"/><rect x="1172.50" y="429.4" width="4.80" height="19.9" fill="#9bd7a4"/><rect x="1177.00" y="429.4" width="1.80" height="19.9" fill="#f2faab"/><rect x="1178.50" y="429.4" width="3.30" height="19.9" fill="#fed884"/><rect x="1181.50" y="429.4" width="6.30" height="19.9" fill="#eb5f47"/><rect x="1187.50" y="429.4" width="1.80" height="19.9" fill="#ceeb9d"/><rect x="1189.00" y="429.4" width="1.80" height="19.9" fill="#a60a44"/><rect x="1190.50" y="429.4" width="1.80" height="19.9" fill="#f26a44"/><rect x="1192.00" y="429.4" width="3.30" height="19.9" fill="#a3daa4"/><rect x="1195.00" y="429.4" width="6.30" height="19.9" fill="#ebf7a0"/><rect x="1201.00" y="429.4" width="6.30" height="19.9" fill="#5db8a9"/><rect x="1207.00" y="429.4" width="3.30" height="19.9" fill="#fa9656"/><rect x="1210.00" y="429.4" width="3.30" height="19.9" fill="#a50844"/><rect x="1213.00" y="429.4" width="3.30" height="19.9" fill="#cbea9d"/><rect x="1216.00" y="429.4" width="3.30" height="19.9" fill="#a5dba4"/><rect x="1219.00" y="429.4" width="6.30" height="19.9" fill="#c8304c"/><rect x="1225.00" y="429.4" width="3.30" height="19.9" fill="#fdb668"/><rect x="1228.00" y="429.4" width="3.30" height="19.9" fill="#3b7db8"/><rect x="1231.00" y="429.4" width="1.80" height="19.9" fill="#a50844"/><rect x="1232.50" y="429.4" width="1.80" height="19.9" fill="#d33c4f"/><rect x="1234.00" y="429.4" width="1.80" height="19.9" fill="#3b92b9"/><rect x="1235.50" y="429.4" width="3.30" height="19.9" fill="#eff9a6"/><rect x="1238.50" y="429.4" width="1.80" height="19.9" fill="#b61c48"/><rect x="1240.00" y="429.4" width="3.30" height="19.9" fill="#ec6146"/><rect x="1243.00" y="429.4" width="1.80" height="19.9" fill="#d6ee9b"/><rect x="1244.50" y="429.4" width="3.30" height="19.9" fill="#87cfa5"/><rect x="1247.50" y="429.4" width="3.30" height="19.9" fill="#fba15b"/><rect x="1250.50" y="429.4" width="3.30" height="19.9" fill="#ee6345"/><rect x="1253.50" y="429.4" width="3.30" height="19.9" fill="#f99154"/><rect x="1256.50" y="429.4" width="3.30" height="19.9" fill="#82cda5"/><rect x="1259.50" y="429.4" width="3.30" height="19.9" fill="#64c0a6"/><rect x="1262.50" y="429.4" width="6.30" height="19.9" fill="#dc484c"/><rect x="1268.50" y="429.4" width="4.80" height="19.9" fill="#a60a44"/><rect x="1273.00" y="429.4" width="4.80" height="19.9" fill="#e04f4b"/><rect x="1277.50" y="429.4" width="6.30" height="19.9" fill="#fdb96a"/><rect x="1283.50" y="429.4" width="4.80" height="19.9" fill="#58b2ac"/><rect x="1288.00" y="429.4" width="1.80" height="19.9" fill="#ceeb9d"/><rect x="1289.50" y="429.4" width="4.80" height="19.9" fill="#e6f598"/><rect x="1294.00" y="429.4" width="1.80" height="19.9" fill="#55afad"/><rect x="1295.50" y="429.4" width="6.30" height="19.9" fill="#ae1346"/><rect x="1301.50" y="429.4" width="6.30" height="19.9" fill="#feea9b"/><rect x="1307.50" y="429.4" width="6.30" height="19.9" fill="#fdab60"/><rect x="1313.50" y="429.4" width="1.80" height="19.9" fill="#3a7db8"/><rect x="1315.00" y="429.4" width="6.30" height="19.9" fill="#79c9a5"/><rect x="1321.00" y="429.4" width="1.80" height="19.9" fill="#a40743"/><rect x="1322.50" y="429.4" width="4.80" height="19.9" fill="#fb9f5a"/><rect x="1327.00" y="429.4" width="4.80" height="19.9" fill="#5d50a2"/><rect x="1331.50" y="429.4" width="4.80" height="19.9" fill="#fba15b"/><rect x="1336.00" y="429.4" width="3.30" height="19.9" fill="#d9444d"/><rect x="1339.00" y="429.4" width="4.80" height="19.9" fill="#8ad0a4"/><rect x="1343.50" y="429.4" width="6.30" height="19.9" fill="#c9304c"/><rect x="1349.50" y="429.4" width="3.30" height="19.9" fill="#ed6246"/><rect x="1352.50" y="429.4" width="1.80" height="19.9" fill="#fff6b1"/><rect x="1354.00" y="429.4" width="3.30" height="19.9" fill="#b2e0a2"/><rect x="1357.00" y="429.4" width="1.80" height="19.9" fill="#e7f599"/><rect x="1358.50" y="429.4" width="3.30" height="19.9" fill="#fed481"/><rect x="1361.50" y="429.4" width="1.80" height="19.9" fill="#a20543"/><rect x="1363.00" y="429.4" width="4.80" height="19.9" fill="#e9f69c"/><rect x="1367.50" y="429.4" width="3.30" height="19.9" fill="#be244a"/><rect x="1370.50" y="429.4" width="3.30" height="19.9" fill="#7ecca5"/><rect x="1373.50" y="429.4" width="4.80" height="19.9" fill="#486baf"/><rect x="1378.00" y="429.4" width="3.30" height="19.9" fill="#f06745"/><rect x="1381.00" y="429.4" width="4.80" height="19.9" fill="#449cb5"/><rect x="1385.50" y="429.4" width="3.30" height="19.9" fill="#456fb1"/><rect x="1388.50" y="429.4" width="3.30" height="19.9" fill="#fec877"/><rect x="1391.50" y="429.4" width="4.80" height="19.9" fill="#8dd1a4"/><rect x="1396.00" y="429.4" width="3.30" height="19.9" fill="#f6fcb2"/><rect x="1399.00" y="429.4" width="3.30" height="19.9" fill="#b8e2a1"/><rect x="1402.00" y="429.4" width="1.80" height="19.9" fill="#a30643"/><rect x="1403.50" y="429.4" width="6.30" height="19.9" fill="#abdda4"/><rect x="1409.50" y="429.4" width="1.80" height="19.9" fill="#fed380"/><rect x="1411.00" y="429.4" width="6.30" height="19.9" fill="#f7854e"/><rect x="1417.00" y="429.4" width="1.80" height="19.9" fill="#af1346"/><rect x="1418.50" y="429.4" width="3.30" height="19.9" fill="#63bfa6"/><rect x="1421.50" y="429.4" width="4.80" height="19.9" fill="#c0e6a0"/><rect x="1426.00" y="429.4" width="3.30" height="19.9" fill="#74c7a5"/><rect x="1429.00" y="429.4" width="3.30" height="19.9" fill="#f16844"/><rect x="1432.00" y="429.4" width="1.80" height="19.9" fill="#fee594"/><rect x="1433.50" y="429.4" width="1.80" height="19.9" fill="#fecf7d"/><rect x="1435.00" y="429.4" width="3.30" height="19.9" fill="#fba05a"/><rect x="1438.00" y="429.4" width="3.30" height="19.9" fill="#fee899"/><rect x="1441.00" y="429.4" width="1.80" height="19.9" fill="#4371b2"/><rect x="1442.50" y="429.4" width="3.30" height="19.9" fill="#e6f598"/><rect x="1445.50" y="429.4" width="1.80" height="19.9" fill="#f47044"/><rect x="1447.00" y="429.4" width="4.80" height="19.9" fill="#63bea7"/><rect x="1451.50" y="429.4" width="6.30" height="19.9" fill="#f57748"/><rect x="1457.50" y="429.4" width="1.80" height="19.9" fill="#fdb466"/><rect x="1459.00" y="429.4" width="6.30" height="19.9" fill="#b1dfa3"/><rect x="1465.00" y="429.4" width="3.30" height="19.9" fill="#fca95f"/><rect x="1468.00" y="429.4" width="1.80" height="19.9" fill="#c1284a"/><rect x="1469.50" y="429.4" width="1.80" height="19.9" fill="#fee390"/><rect x="1471.00" y="429.4" width="1.80" height="19.9" fill="#ad1246"/><rect x="1472.50" y="429.4" width="1.80" height="19.9" fill="#a40743"/><svg x="1680.0" y="51.5" width="301.4" height="280.5" viewBox="1680.0 51.5 301.4 280.5" overflow="hidden"><line x1="1680.00" y1="198.45" x2="1981.40" y2="198.45" stroke="#7f7f7f" stroke-width="2.4" stroke-dasharray="10.6,4.3"/><polyline points="1680.65,64.72 1684.39,64.72 1684.39,74.68 1689.37,74.68 1689.37,85.88 1741.64,85.88 1741.64,94.60 1749.11,94.60 1749.11,104.56 1752.85,104.56 1752.85,135.67 1827.53,135.67 1827.53,146.88 1836.24,146.88 1836.24,156.83 1841.22,156.83 1841.22,169.28 1884.78,169.28 1884.78,179.24 1970.67,179.24 1970.67,189.20 1973.16,189.20 1973.16,201.64 1979.38,201.64" stroke="#85d05a" stroke-width="3.6" fill="none"/><polyline points="1680.65,64.72 1695.59,64.72 1695.59,72.19 1699.32,72.19 1699.32,79.66 1711.77,79.66 1711.77,94.60 1721.73,94.60 1721.73,105.80 1731.69,105.80 1731.69,113.27 1745.38,113.27 1745.38,119.49 1750.36,119.49 1750.36,125.72 1752.85,125.72 1752.85,136.92 1766.54,136.92 1766.54,143.14 1801.39,143.14 1801.39,149.37 1808.86,149.37 1808.86,155.59 1828.77,155.59 1828.77,161.81 1832.51,161.81 1832.51,168.04 1837.49,168.04 1837.49,174.26 1935.82,174.26 1935.82,185.46 1975.65,185.46 1975.65,192.93 1979.38,192.93" stroke="#bace55" stroke-width="3.6" fill="none"/><polyline points="1680.65,64.72 1689.37,64.72 1689.37,70.95 1729.20,70.95 1729.20,74.68 1731.69,74.68 1731.69,82.15 1741.64,82.15 1741.64,92.11 1746.62,92.11 1746.62,98.33 1751.60,98.33 1751.60,113.27 1766.54,113.27 1766.54,120.74 1771.52,120.74 1771.52,126.96 1776.49,126.96 1776.49,134.43 1796.41,134.43 1796.41,141.40 1851.18,141.40 1851.18,149.37 1864.87,149.37 1864.87,156.34 1927.10,156.34 1927.10,163.06 1938.31,163.06 1938.31,171.27 1976.89,171.27 1976.89,178.74 1979.38,178.74" stroke="#4daf5f" stroke-width="3.6" fill="none"/><polyline points="1680.65,64.72 1701.81,64.72 1701.81,66.72 1719.24,66.72 1719.24,68.46 1730.44,68.46 1730.44,72.19 1732.93,72.19 1732.93,75.93 1736.66,75.93 1736.66,80.16 1772.76,80.16 1772.76,83.40 1786.45,83.40 1786.45,86.63 1811.35,86.63 1811.35,90.12 1816.33,90.12 1816.33,92.61 1821.30,92.61 1821.30,95.84 1848.69,95.84 1848.69,100.82 1853.67,100.82 1853.67,104.56 1861.14,104.56 1861.14,107.79 1866.11,107.79 1866.11,112.02 1873.58,112.02 1873.58,117.00 1888.52,117.00 1888.52,120.74 1892.25,120.74 1892.25,124.47 1928.35,124.47 1928.35,128.21 1935.82,128.21 1935.82,131.94 1949.51,131.94 1949.51,136.92 1952.00,136.92 1952.00,139.41 1975.65,139.41 1975.65,143.14 1979.38,143.14 1979.38,146.88" stroke="#0070c0" stroke-width="3.6" fill="none"/><polyline points="1680.65,64.72 1689.37,64.72 1689.37,72.19 1693.10,72.19 1693.10,79.66 1699.32,79.66 1699.32,85.88 1709.28,85.88 1709.28,92.11 1711.77,92.11 1711.77,99.58 1714.26,99.58 1714.26,107.05 1719.24,107.05 1719.24,114.51 1724.22,114.51 1724.22,119.49 1731.69,119.49 1731.69,125.72 1736.66,125.72 1736.66,133.18 1740.40,133.18 1740.40,143.14 1742.89,143.14 1742.89,150.61 1752.85,150.61 1752.85,155.59 1761.56,155.59 1761.56,165.55 1765.29,165.55 1765.29,176.75 1771.52,176.75 1771.52,191.69 1793.92,191.69 1793.92,197.91 1812.59,197.91 1812.59,201.64 1817.57,201.64 1817.57,206.62 1831.26,206.62 1831.26,212.85 1866.11,212.85 1866.11,219.07 1881.05,219.07 1881.05,224.05 1920.88,224.05 1920.88,229.03 1925.86,229.03 1925.86,235.25 1940.80,235.25 1940.80,240.23 1949.51,240.23 1949.51,245.21 1979.38,245.21" stroke="#dd4435" stroke-width="3.6" fill="none"/><line x1="1832.51" y1="78.60" x2="1832.51" y2="110.60" stroke="#0070c0" stroke-width="2.6"/><line x1="1816.51" y1="94.60" x2="1848.51" y2="94.60" stroke="#0070c0" stroke-width="2.6"/><line x1="1837.49" y1="79.84" x2="1837.49" y2="111.84" stroke="#0070c0" stroke-width="2.6"/><line x1="1821.49" y1="95.84" x2="1853.49" y2="95.84" stroke="#0070c0" stroke-width="2.6"/><line x1="1877.32" y1="102.25" x2="1877.32" y2="134.25" stroke="#0070c0" stroke-width="2.6"/><line x1="1861.32" y1="118.25" x2="1893.32" y2="118.25" stroke="#0070c0" stroke-width="2.6"/><line x1="1903.46" y1="139.59" x2="1903.46" y2="171.59" stroke="#4daf5f" stroke-width="2.6"/><line x1="1887.46" y1="155.59" x2="1919.46" y2="155.59" stroke="#4daf5f" stroke-width="2.6"/><line x1="1757.82" y1="120.92" x2="1757.82" y2="152.92" stroke="#85d05a" stroke-width="2.6"/><line x1="1727.95" y1="103.99" x2="1727.95" y2="135.99" stroke="#dd4435" stroke-width="2.6"/><line x1="1711.95" y1="119.99" x2="1743.95" y2="119.99" stroke="#dd4435" stroke-width="2.6"/><line x1="1817.57" y1="191.87" x2="1817.57" y2="223.87" stroke="#dd4435" stroke-width="2.6"/><line x1="1801.57" y1="207.87" x2="1833.57" y2="207.87" stroke="#dd4435" stroke-width="2.6"/></svg><rect x="1680.00" y="51.50" width="301.40" height="280.50" fill="none" stroke="#000" stroke-width="2.8"/><line x1="1680.00" y1="265.23" x2="1690.00" y2="265.23" stroke="#000" stroke-width="2.6"/><line x1="1981.40" y1="265.23" x2="1971.40" y2="265.23" stroke="#000" stroke-width="2.6"/><line x1="1680.00" y1="198.45" x2="1690.00" y2="198.45" stroke="#000" stroke-width="2.6"/><line x1="1981.40" y1="198.45" x2="1971.40" y2="198.45" stroke="#000" stroke-width="2.6"/><line x1="1680.00" y1="131.67" x2="1690.00" y2="131.67" stroke="#000" stroke-width="2.6"/><line x1="1981.40" y1="131.67" x2="1971.40" y2="131.67" stroke="#000" stroke-width="2.6"/><line x1="1680.00" y1="64.90" x2="1690.00" y2="64.90" stroke="#000" stroke-width="2.6"/><line x1="1981.40" y1="64.90" x2="1971.40" y2="64.90" stroke="#000" stroke-width="2.6"/><line x1="1780.66" y1="332.00" x2="1780.66" y2="322.00" stroke="#000" stroke-width="2.6"/><line x1="1780.66" y1="51.50" x2="1780.66" y2="61.50" stroke="#000" stroke-width="2.6"/><line x1="1881.32" y1="332.00" x2="1881.32" y2="322.00" stroke="#000" stroke-width="2.6"/><line x1="1881.32" y1="51.50" x2="1881.32" y2="61.50" stroke="#000" stroke-width="2.6"/><text x="1668.5" y="342.0" font-size="27.5" text-anchor="end">0.00</text><text x="1668.5" y="275.2" font-size="27.5" text-anchor="end">0.25</text><text x="1668.5" y="208.4" font-size="27.5" text-anchor="end">0.50</text><text x="1668.5" y="141.7" font-size="27.5" text-anchor="end">0.75</text><text x="1668.5" y="74.9" font-size="27.5" text-anchor="end">1.00</text><text x="1680.0" y="370.0" font-size="27.5" text-anchor="middle">0</text><text x="1780.7" y="370.0" font-size="27.5" text-anchor="middle">20</text><text x="1881.3" y="370.0" font-size="27.5" text-anchor="middle">40</text><text x="1982.0" y="370.0" font-size="27.5" text-anchor="middle">60</text><text x="1830.4" y="399.5" font-size="27.6" text-anchor="middle">Overall survival [months]</text><text x="1600.0" y="191.8" font-size="27.6" text-anchor="middle" transform="rotate(-90 1600.0 191.8)">Proportion surviving</text><text x="1554.0" y="29.5" font-size="40" font-weight="bold">e</text><rect x="1686.20" y="203.30" width="17.20" height="17.10" fill="#0070c0"/><text x="1711.1" y="216.7" font-size="19.6">n=81</text><rect x="1686.20" y="222.30" width="17.20" height="17.10" fill="#4daf5f"/><text x="1711.1" y="235.7" font-size="19.6">n=38</text><rect x="1686.20" y="241.30" width="17.20" height="17.10" fill="#85d05a"/><text x="1711.1" y="254.7" font-size="19.6">n=26</text><rect x="1686.20" y="260.30" width="17.20" height="17.10" fill="#bace55"/><text x="1711.1" y="273.7" font-size="19.6">n=44</text><rect x="1686.20" y="279.30" width="17.20" height="17.10" fill="#dd4435"/><text x="1711.1" y="292.7" font-size="19.6">n=53</text><text x="1695.6" y="313.7" font-size="19.4">p=5.63E-46</text><svg x="1680.0" y="424.1" width="301.4" height="280.5" viewBox="1680.0 424.1 301.4 280.5" overflow="hidden"><line x1="1680.00" y1="571.05" x2="1981.40" y2="571.05" stroke="#7f7f7f" stroke-width="2.4" stroke-dasharray="10.6,4.3"/><polyline points="1680.65,437.84 1750.36,437.84 1750.36,472.19 1886.03,472.19 1886.03,505.80 1968.18,505.80 1968.18,539.41 1979.38,539.41" stroke="#85d05a" stroke-width="3.6" fill="none"/><polyline points="1680.65,437.84 1711.77,437.84 1711.77,442.32 1729.20,442.32 1729.20,447.30 1735.42,447.30 1735.42,453.52 1749.11,453.52 1749.11,459.75 1752.85,459.75 1752.85,465.22 1766.54,465.22 1766.54,474.68 1774.01,474.68 1774.01,488.37 1798.90,488.37 1798.90,497.09 1856.16,497.09 1856.16,505.80 1864.87,505.80 1864.87,513.27 1928.35,513.27 1928.35,521.98 1935.82,521.98 1935.82,529.45 1976.89,529.45 1976.89,539.41 1979.38,539.41" stroke="#4daf5f" stroke-width="3.6" fill="none"/><polyline points="1680.65,437.84 1699.32,437.84 1699.32,439.83 1710.53,439.83 1710.53,446.05 1724.22,446.05 1724.22,459.75 1734.17,459.75 1734.17,465.97 1746.62,465.97 1746.62,478.42 1803.88,478.42 1803.88,487.13 1807.61,487.13 1807.61,493.35 1815.08,493.35 1815.08,501.57 1830.02,501.57 1830.02,509.53 1837.49,509.53 1837.49,517.00 1935.82,517.00 1935.82,533.18 1975.65,533.18 1975.65,541.90 1979.38,541.90" stroke="#bace55" stroke-width="3.6" fill="none"/><polyline points="1680.65,437.84 1714.26,437.84 1714.26,441.08 1727.95,441.08 1727.95,444.81 1734.17,444.81 1734.17,448.54 1736.66,448.54 1736.66,452.28 1771.52,452.28 1771.52,455.27 1786.45,455.27 1786.45,459.00 1810.10,459.00 1810.10,461.74 1813.84,461.74 1813.84,464.72 1848.69,464.72 1848.69,468.96 1853.67,468.96 1853.67,474.68 1862.38,474.68 1862.38,480.16 1873.58,480.16 1873.58,484.64 1879.81,484.64 1879.81,489.12 1888.52,489.12 1888.52,495.34 1928.35,495.34 1928.35,499.08 1933.33,499.08 1933.33,502.07 1950.75,502.07 1950.75,505.80 1970.67,505.80 1970.67,509.53 1979.38,509.53 1979.38,514.51" stroke="#0070c0" stroke-width="3.6" fill="none"/><polyline points="1680.65,437.84 1696.83,437.84 1696.83,454.77 1720.48,454.77 1720.48,469.70 1741.64,469.70 1741.64,504.56 1745.38,504.56 1745.38,520.74 1752.85,520.74 1752.85,536.92 1764.05,536.92 1764.05,553.10 1766.54,553.10 1766.54,571.77 1771.52,571.77 1771.52,587.95 1817.57,587.95 1817.57,605.38 1833.75,605.38 1833.75,625.29 1979.38,625.29" stroke="#dd4435" stroke-width="3.6" fill="none"/><line x1="1832.51" y1="451.21" x2="1832.51" y2="483.21" stroke="#0070c0" stroke-width="2.6"/><line x1="1816.51" y1="467.21" x2="1848.51" y2="467.21" stroke="#0070c0" stroke-width="2.6"/><line x1="1837.49" y1="452.46" x2="1837.49" y2="484.46" stroke="#0070c0" stroke-width="2.6"/><line x1="1821.49" y1="468.46" x2="1853.49" y2="468.46" stroke="#0070c0" stroke-width="2.6"/><line x1="1877.32" y1="472.37" x2="1877.32" y2="504.37" stroke="#0070c0" stroke-width="2.6"/><line x1="1861.32" y1="488.37" x2="1893.32" y2="488.37" stroke="#0070c0" stroke-width="2.6"/><line x1="1903.46" y1="497.27" x2="1903.46" y2="529.27" stroke="#4daf5f" stroke-width="2.6"/><line x1="1726.71" y1="453.70" x2="1726.71" y2="485.70" stroke="#dd4435" stroke-width="2.6"/><line x1="1710.71" y1="469.70" x2="1742.71" y2="469.70" stroke="#dd4435" stroke-width="2.6"/><line x1="1817.57" y1="589.38" x2="1817.57" y2="621.38" stroke="#dd4435" stroke-width="2.6"/><line x1="1801.57" y1="605.38" x2="1833.57" y2="605.38" stroke="#dd4435" stroke-width="2.6"/></svg><rect x="1680.00" y="424.10" width="301.40" height="280.50" fill="none" stroke="#000" stroke-width="2.8"/><line x1="1680.00" y1="637.83" x2="1690.00" y2="637.83" stroke="#000" stroke-width="2.6"/><line x1="1981.40" y1="637.83" x2="1971.40" y2="637.83" stroke="#000" stroke-width="2.6"/><line x1="1680.00" y1="571.05" x2="1690.00" y2="571.05" stroke="#000" stroke-width="2.6"/><line x1="1981.40" y1="571.05" x2="1971.40" y2="571.05" stroke="#000" stroke-width="2.6"/><line x1="1680.00" y1="504.27" x2="1690.00" y2="504.27" stroke="#000" stroke-width="2.6"/><line x1="1981.40" y1="504.27" x2="1971.40" y2="504.27" stroke="#000" stroke-width="2.6"/><line x1="1680.00" y1="437.50" x2="1690.00" y2="437.50" stroke="#000" stroke-width="2.6"/><line x1="1981.40" y1="437.50" x2="1971.40" y2="437.50" stroke="#000" stroke-width="2.6"/><line x1="1780.66" y1="704.60" x2="1780.66" y2="694.60" stroke="#000" stroke-width="2.6"/><line x1="1780.66" y1="424.10" x2="1780.66" y2="434.10" stroke="#000" stroke-width="2.6"/><line x1="1881.32" y1="704.60" x2="1881.32" y2="694.60" stroke="#000" stroke-width="2.6"/><line x1="1881.32" y1="424.10" x2="1881.32" y2="434.10" stroke="#000" stroke-width="2.6"/><text x="1668.5" y="714.6" font-size="27.5" text-anchor="end">0.00</text><text x="1668.5" y="647.8" font-size="27.5" text-anchor="end">0.25</text><text x="1668.5" y="581.0" font-size="27.5" text-anchor="end">0.50</text><text x="1668.5" y="514.3" font-size="27.5" text-anchor="end">0.75</text><text x="1668.5" y="447.5" font-size="27.5" text-anchor="end">1.00</text><text x="1680.0" y="742.6" font-size="27.5" text-anchor="middle">0</text><text x="1780.7" y="742.6" font-size="27.5" text-anchor="middle">20</text><text x="1881.3" y="742.6" font-size="27.5" text-anchor="middle">40</text><text x="1982.0" y="742.6" font-size="27.5" text-anchor="middle">60</text><text x="1830.4" y="772.1" font-size="27.6" text-anchor="middle">Overall survival [months]</text><text x="1600.0" y="564.4" font-size="27.6" text-anchor="middle" transform="rotate(-90 1600.0 564.4)">Proportion surviving</text><text x="1557.7" y="402.6" font-size="40" font-weight="bold">f</text><rect x="1686.20" y="576.45" width="17.20" height="17.10" fill="#0070c0"/><text x="1711.1" y="589.8" font-size="19.6">n=76</text><rect x="1686.20" y="595.45" width="17.20" height="17.10" fill="#4daf5f"/><text x="1711.1" y="608.8" font-size="19.6">n=32</text><rect x="1686.20" y="614.45" width="17.20" height="17.10" fill="#85d05a"/><text x="1711.1" y="627.8" font-size="19.6">n=8</text><rect x="1686.20" y="633.45" width="17.20" height="17.10" fill="#bace55"/><text x="1711.1" y="646.8" font-size="19.6">n=34</text><rect x="1686.20" y="652.45" width="17.20" height="17.10" fill="#dd4435"/><text x="1711.1" y="665.8" font-size="19.6">n=17</text><text x="1695.6" y="688.8" font-size="19.4">p=1.44E-27</text><svg x="1680.0" y="801.1" width="301.4" height="280.5" viewBox="1680.0 801.1 301.4 280.5" overflow="hidden"><line x1="1680.00" y1="948.05" x2="1981.40" y2="948.05" stroke="#7f7f7f" stroke-width="2.4" stroke-dasharray="10.6,4.3"/><polyline points="1680.65,816.76 1691.85,816.76 1691.85,824.72 1699.32,824.72 1699.32,832.19 1709.28,832.19 1709.28,842.15 1729.20,842.15 1729.20,857.09 1749.11,857.09 1749.11,864.56 1761.56,864.56 1761.56,877.00 1762.80,877.00 1762.80,904.39 1771.52,904.39 1771.52,919.32 1836.24,919.32 1836.24,936.75 1979.38,936.75" stroke="#4daf5f" stroke-width="3.6" fill="none"/><polyline points="1680.65,816.76 1689.37,816.76 1689.37,823.48 1714.26,823.48 1714.26,827.21 1731.69,827.21 1731.69,834.68 1744.13,834.68 1744.13,840.91 1759.07,840.91 1759.07,854.60 1818.82,854.60 1818.82,872.02 1836.24,872.02 1836.24,889.45 1979.38,889.45" stroke="#85d05a" stroke-width="3.6" fill="none"/><polyline points="1680.65,816.76 1684.39,816.76 1684.39,829.70 1699.32,829.70 1699.32,834.68 1714.26,834.68 1714.26,840.91 1724.22,840.91 1724.22,850.86 1979.38,850.86" stroke="#bace55" stroke-width="3.6" fill="none"/><polyline points="1680.65,816.76 1711.77,816.76 1711.77,820.99 1734.17,820.99 1734.17,825.97 1756.58,825.97 1756.58,830.95 1778.98,830.95 1778.98,834.68 1796.41,834.68 1796.41,838.42 1813.84,838.42 1813.84,842.15 1825.04,842.15 1825.04,847.13 1886.03,847.13 1886.03,864.56 1979.38,864.56" stroke="#0070c0" stroke-width="3.6" fill="none"/><polyline points="1680.65,816.76 1683.14,816.76 1683.14,827.21 1689.37,827.21 1689.37,834.68 1694.34,834.68 1694.34,844.64 1701.81,844.64 1701.81,854.60 1711.77,854.60 1711.77,862.07 1719.24,862.07 1719.24,869.53 1739.15,869.53 1739.15,874.51 1754.09,874.51 1754.09,881.98 1759.07,881.98 1759.07,894.43 1766.54,894.43 1766.54,904.39 1777.74,904.39 1777.74,909.37 1813.84,909.37 1813.84,915.59 1933.33,915.59 1933.33,930.53 1971.91,930.53 1971.91,947.95 1979.38,947.95" stroke="#dd4435" stroke-width="3.6" fill="none"/><line x1="1699.32" y1="800.76" x2="1699.32" y2="832.76" stroke="#0070c0" stroke-width="2.6"/><line x1="1701.81" y1="800.76" x2="1701.81" y2="832.76" stroke="#0070c0" stroke-width="2.6"/><line x1="1704.30" y1="800.76" x2="1704.30" y2="832.76" stroke="#0070c0" stroke-width="2.6"/><line x1="1708.04" y1="800.76" x2="1708.04" y2="832.76" stroke="#0070c0" stroke-width="2.6"/><line x1="1724.22" y1="804.99" x2="1724.22" y2="836.99" stroke="#0070c0" stroke-width="2.6"/><line x1="1727.95" y1="804.99" x2="1727.95" y2="836.99" stroke="#0070c0" stroke-width="2.6"/><line x1="1730.44" y1="804.99" x2="1730.44" y2="836.99" stroke="#0070c0" stroke-width="2.6"/><line x1="1732.93" y1="804.99" x2="1732.93" y2="836.99" stroke="#0070c0" stroke-width="2.6"/><line x1="1744.13" y1="809.97" x2="1744.13" y2="841.97" stroke="#0070c0" stroke-width="2.6"/><line x1="1751.60" y1="809.97" x2="1751.60" y2="841.97" stroke="#0070c0" stroke-width="2.6"/><line x1="1759.07" y1="814.95" x2="1759.07" y2="846.95" stroke="#0070c0" stroke-width="2.6"/><line x1="1774.01" y1="814.95" x2="1774.01" y2="846.95" stroke="#0070c0" stroke-width="2.6"/><line x1="1777.74" y1="814.95" x2="1777.74" y2="846.95" stroke="#0070c0" stroke-width="2.6"/><line x1="1793.92" y1="818.68" x2="1793.92" y2="850.68" stroke="#0070c0" stroke-width="2.6"/><line x1="1812.59" y1="822.42" x2="1812.59" y2="854.42" stroke="#0070c0" stroke-width="2.6"/><line x1="1816.33" y1="826.15" x2="1816.33" y2="858.15" stroke="#0070c0" stroke-width="2.6"/><line x1="1823.79" y1="826.15" x2="1823.79" y2="858.15" stroke="#0070c0" stroke-width="2.6"/><line x1="1830.02" y1="831.13" x2="1830.02" y2="863.13" stroke="#0070c0" stroke-width="2.6"/><line x1="1835.00" y1="831.13" x2="1835.00" y2="863.13" stroke="#0070c0" stroke-width="2.6"/><line x1="1838.73" y1="831.13" x2="1838.73" y2="863.13" stroke="#0070c0" stroke-width="2.6"/><line x1="1842.46" y1="831.13" x2="1842.46" y2="863.13" stroke="#0070c0" stroke-width="2.6"/><line x1="1848.69" y1="831.13" x2="1848.69" y2="863.13" stroke="#0070c0" stroke-width="2.6"/><line x1="1864.87" y1="831.13" x2="1864.87" y2="863.13" stroke="#0070c0" stroke-width="2.6"/><line x1="1871.09" y1="831.13" x2="1871.09" y2="863.13" stroke="#0070c0" stroke-width="2.6"/><line x1="1884.78" y1="831.13" x2="1884.78" y2="863.13" stroke="#0070c0" stroke-width="2.6"/><line x1="1898.48" y1="848.56" x2="1898.48" y2="880.56" stroke="#0070c0" stroke-width="2.6"/><line x1="1900.97" y1="848.56" x2="1900.97" y2="880.56" stroke="#0070c0" stroke-width="2.6"/><line x1="1913.41" y1="848.56" x2="1913.41" y2="880.56" stroke="#0070c0" stroke-width="2.6"/><line x1="1938.31" y1="848.56" x2="1938.31" y2="880.56" stroke="#0070c0" stroke-width="2.6"/><line x1="1942.04" y1="848.56" x2="1942.04" y2="880.56" stroke="#0070c0" stroke-width="2.6"/><line x1="1975.65" y1="848.56" x2="1975.65" y2="880.56" stroke="#0070c0" stroke-width="2.6"/><line x1="1774.01" y1="903.32" x2="1774.01" y2="935.32" stroke="#4daf5f" stroke-width="2.6"/><line x1="1776.49" y1="903.32" x2="1776.49" y2="935.32" stroke="#4daf5f" stroke-width="2.6"/><line x1="1808.86" y1="903.32" x2="1808.86" y2="935.32" stroke="#4daf5f" stroke-width="2.6"/><line x1="1849.93" y1="920.75" x2="1849.93" y2="952.75" stroke="#4daf5f" stroke-width="2.6"/><line x1="1899.72" y1="920.75" x2="1899.72" y2="952.75" stroke="#4daf5f" stroke-width="2.6"/><line x1="1925.86" y1="920.75" x2="1925.86" y2="952.75" stroke="#4daf5f" stroke-width="2.6"/><line x1="1954.49" y1="920.75" x2="1954.49" y2="952.75" stroke="#4daf5f" stroke-width="2.6"/><line x1="1968.18" y1="920.75" x2="1968.18" y2="952.75" stroke="#4daf5f" stroke-width="2.6"/><line x1="1775.25" y1="903.32" x2="1775.25" y2="935.32" stroke="#4daf5f" stroke-width="2.6"/><line x1="1759.25" y1="919.32" x2="1791.25" y2="919.32" stroke="#4daf5f" stroke-width="2.6"/><line x1="1739.15" y1="834.86" x2="1739.15" y2="866.86" stroke="#bace55" stroke-width="2.6"/><line x1="1767.78" y1="834.86" x2="1767.78" y2="866.86" stroke="#bace55" stroke-width="2.6"/><line x1="1800.14" y1="834.86" x2="1800.14" y2="866.86" stroke="#bace55" stroke-width="2.6"/><line x1="1817.57" y1="834.86" x2="1817.57" y2="866.86" stroke="#bace55" stroke-width="2.6"/><line x1="1871.09" y1="834.86" x2="1871.09" y2="866.86" stroke="#bace55" stroke-width="2.6"/><line x1="1933.33" y1="834.86" x2="1933.33" y2="866.86" stroke="#bace55" stroke-width="2.6"/><line x1="1961.96" y1="834.86" x2="1961.96" y2="866.86" stroke="#bace55" stroke-width="2.6"/><line x1="1745.38" y1="824.91" x2="1745.38" y2="856.91" stroke="#85d05a" stroke-width="2.6"/><line x1="1836.24" y1="873.45" x2="1836.24" y2="905.45" stroke="#85d05a" stroke-width="2.6"/><line x1="1969.42" y1="873.45" x2="1969.42" y2="905.45" stroke="#85d05a" stroke-width="2.6"/><line x1="1971.91" y1="873.45" x2="1971.91" y2="905.45" stroke="#85d05a" stroke-width="2.6"/><line x1="1684.39" y1="811.21" x2="1684.39" y2="843.21" stroke="#dd4435" stroke-width="2.6"/><line x1="1689.37" y1="818.68" x2="1689.37" y2="850.68" stroke="#dd4435" stroke-width="2.6"/><line x1="1673.37" y1="834.68" x2="1705.37" y2="834.68" stroke="#dd4435" stroke-width="2.6"/><line x1="1694.34" y1="828.64" x2="1694.34" y2="860.64" stroke="#dd4435" stroke-width="2.6"/><line x1="1699.32" y1="828.64" x2="1699.32" y2="860.64" stroke="#dd4435" stroke-width="2.6"/><line x1="1704.30" y1="838.60" x2="1704.30" y2="870.60" stroke="#dd4435" stroke-width="2.6"/><line x1="1688.30" y1="854.60" x2="1720.30" y2="854.60" stroke="#dd4435" stroke-width="2.6"/><line x1="1711.77" y1="846.07" x2="1711.77" y2="878.07" stroke="#dd4435" stroke-width="2.6"/><line x1="1695.77" y1="862.07" x2="1727.77" y2="862.07" stroke="#dd4435" stroke-width="2.6"/><line x1="1714.26" y1="846.07" x2="1714.26" y2="878.07" stroke="#dd4435" stroke-width="2.6"/><line x1="1719.24" y1="853.53" x2="1719.24" y2="885.53" stroke="#dd4435" stroke-width="2.6"/><line x1="1703.24" y1="869.53" x2="1735.24" y2="869.53" stroke="#dd4435" stroke-width="2.6"/><line x1="1724.22" y1="853.53" x2="1724.22" y2="885.53" stroke="#dd4435" stroke-width="2.6"/><line x1="1729.20" y1="853.53" x2="1729.20" y2="885.53" stroke="#dd4435" stroke-width="2.6"/><line x1="1734.17" y1="853.53" x2="1734.17" y2="885.53" stroke="#dd4435" stroke-width="2.6"/><line x1="1718.17" y1="869.53" x2="1750.17" y2="869.53" stroke="#dd4435" stroke-width="2.6"/><line x1="1736.66" y1="853.53" x2="1736.66" y2="885.53" stroke="#dd4435" stroke-width="2.6"/><line x1="1739.15" y1="858.51" x2="1739.15" y2="890.51" stroke="#dd4435" stroke-width="2.6"/><line x1="1749.11" y1="858.51" x2="1749.11" y2="890.51" stroke="#dd4435" stroke-width="2.6"/><line x1="1733.11" y1="874.51" x2="1765.11" y2="874.51" stroke="#dd4435" stroke-width="2.6"/><line x1="1759.07" y1="878.43" x2="1759.07" y2="910.43" stroke="#dd4435" stroke-width="2.6"/><line x1="1764.05" y1="878.43" x2="1764.05" y2="910.43" stroke="#dd4435" stroke-width="2.6"/><line x1="1748.05" y1="894.43" x2="1780.05" y2="894.43" stroke="#dd4435" stroke-width="2.6"/><line x1="1769.03" y1="888.39" x2="1769.03" y2="920.39" stroke="#dd4435" stroke-width="2.6"/><line x1="1774.01" y1="888.39" x2="1774.01" y2="920.39" stroke="#dd4435" stroke-width="2.6"/><line x1="1785.21" y1="893.37" x2="1785.21" y2="925.37" stroke="#dd4435" stroke-width="2.6"/><line x1="1792.68" y1="893.37" x2="1792.68" y2="925.37" stroke="#dd4435" stroke-width="2.6"/><line x1="1797.65" y1="893.37" x2="1797.65" y2="925.37" stroke="#dd4435" stroke-width="2.6"/><line x1="1781.65" y1="909.37" x2="1813.65" y2="909.37" stroke="#dd4435" stroke-width="2.6"/><line x1="1813.84" y1="899.59" x2="1813.84" y2="931.59" stroke="#dd4435" stroke-width="2.6"/><line x1="1830.02" y1="899.59" x2="1830.02" y2="931.59" stroke="#dd4435" stroke-width="2.6"/><line x1="1871.09" y1="899.59" x2="1871.09" y2="931.59" stroke="#dd4435" stroke-width="2.6"/><line x1="1938.31" y1="914.53" x2="1938.31" y2="946.53" stroke="#dd4435" stroke-width="2.6"/><line x1="1950.75" y1="914.53" x2="1950.75" y2="946.53" stroke="#dd4435" stroke-width="2.6"/><line x1="1934.75" y1="930.53" x2="1966.75" y2="930.53" stroke="#dd4435" stroke-width="2.6"/></svg><rect x="1680.00" y="801.10" width="301.40" height="280.50" fill="none" stroke="#000" stroke-width="2.8"/><line x1="1680.00" y1="1014.82" x2="1690.00" y2="1014.82" stroke="#000" stroke-width="2.6"/><line x1="1981.40" y1="1014.82" x2="1971.40" y2="1014.82" stroke="#000" stroke-width="2.6"/><line x1="1680.00" y1="948.05" x2="1690.00" y2="948.05" stroke="#000" stroke-width="2.6"/><line x1="1981.40" y1="948.05" x2="1971.40" y2="948.05" stroke="#000" stroke-width="2.6"/><line x1="1680.00" y1="881.27" x2="1690.00" y2="881.27" stroke="#000" stroke-width="2.6"/><line x1="1981.40" y1="881.27" x2="1971.40" y2="881.27" stroke="#000" stroke-width="2.6"/><line x1="1680.00" y1="814.50" x2="1690.00" y2="814.50" stroke="#000" stroke-width="2.6"/><line x1="1981.40" y1="814.50" x2="1971.40" y2="814.50" stroke="#000" stroke-width="2.6"/><line x1="1780.66" y1="1081.60" x2="1780.66" y2="1071.60" stroke="#000" stroke-width="2.6"/><line x1="1780.66" y1="801.10" x2="1780.66" y2="811.10" stroke="#000" stroke-width="2.6"/><line x1="1881.32" y1="1081.60" x2="1881.32" y2="1071.60" stroke="#000" stroke-width="2.6"/><line x1="1881.32" y1="801.10" x2="1881.32" y2="811.10" stroke="#000" stroke-width="2.6"/><text x="1668.5" y="1091.6" font-size="27.5" text-anchor="end">0.00</text><text x="1668.5" y="1024.8" font-size="27.5" text-anchor="end">0.25</text><text x="1668.5" y="958.0" font-size="27.5" text-anchor="end">0.50</text><text x="1668.5" y="891.3" font-size="27.5" text-anchor="end">0.75</text><text x="1668.5" y="824.5" font-size="27.5" text-anchor="end">1.00</text><text x="1680.0" y="1119.6" font-size="27.5" text-anchor="middle">0</text><text x="1780.7" y="1119.6" font-size="27.5" text-anchor="middle">20</text><text x="1881.3" y="1119.6" font-size="27.5" text-anchor="middle">40</text><text x="1982.0" y="1119.6" font-size="27.5" text-anchor="middle">60</text><text x="1830.4" y="1149.1" font-size="27.6" text-anchor="middle">Prog.-free survival [months]</text><text x="1600.0" y="941.3" font-size="27.6" text-anchor="middle" transform="rotate(-90 1600.0 941.3)">Proportion surviving</text><text x="1553.0" y="777.3" font-size="40" font-weight="bold">g</text><rect x="1686.20" y="953.37" width="17.20" height="17.10" fill="#0070c0"/><text x="1711.1" y="966.8" font-size="19.6">n=73</text><rect x="1686.20" y="972.37" width="17.20" height="17.10" fill="#4daf5f"/><text x="1711.1" y="985.8" font-size="19.6">n=36</text><rect x="1686.20" y="991.37" width="17.20" height="17.10" fill="#85d05a"/><text x="1711.1" y="1004.8" font-size="19.6">n=21</text><rect x="1686.20" y="1010.37" width="17.20" height="17.10" fill="#bace55"/><text x="1711.1" y="1023.8" font-size="19.6">n=39</text><rect x="1686.20" y="1029.37" width="17.20" height="17.10" fill="#dd4435"/><text x="1711.1" y="1042.8" font-size="19.6">n=46</text><text x="1695.6" y="1065.0" font-size="19.4">p=5.45E-14</text><svg x="1680.0" y="1179.2" width="301.4" height="280.5" viewBox="1680.0 1179.2 301.4 280.5" overflow="hidden"><line x1="1680.00" y1="1326.15" x2="1981.40" y2="1326.15" stroke="#7f7f7f" stroke-width="2.4" stroke-dasharray="10.6,4.3"/><polyline points="1680.65,1192.94 1684.39,1192.94 1684.39,1195.93 1694.34,1195.93 1694.34,1202.15 1719.24,1202.15 1719.24,1207.13 1725.46,1207.13 1725.46,1219.58 1732.93,1219.58 1732.93,1232.02 1741.64,1232.02 1741.64,1241.98 1746.62,1241.98 1746.62,1254.43 1752.85,1254.43 1752.85,1266.88 1761.56,1266.88 1761.56,1276.83 1766.54,1276.83 1766.54,1281.81 1803.88,1281.81 1803.88,1286.79 1828.77,1286.79 1828.77,1291.77 1832.51,1291.77 1832.51,1304.22 1838.73,1304.22 1838.73,1314.17 1884.78,1314.17 1884.78,1317.91 1968.18,1317.91 1968.18,1326.62 1979.38,1326.62" stroke="#f7b799" stroke-width="3.6" fill="none"/><polyline points="1680.65,1192.94 1694.34,1192.94 1694.34,1194.68 1714.26,1194.68 1714.26,1199.66 1724.22,1199.66 1724.22,1205.88 1734.17,1205.88 1734.17,1212.11 1749.11,1212.11 1749.11,1217.09 1771.52,1217.09 1771.52,1225.80 1798.90,1225.80 1798.90,1233.27 1802.63,1233.27 1802.63,1235.76 1833.75,1235.76 1833.75,1239.49 1847.44,1239.49 1847.44,1244.47 1852.42,1244.47 1852.42,1249.45 1863.62,1249.45 1863.62,1255.67 1868.60,1255.67 1868.60,1259.41 1873.58,1259.41 1873.58,1265.63 1887.27,1265.63 1887.27,1269.37 1937.06,1269.37 1937.06,1284.30 1948.26,1284.30 1948.26,1289.28 1975.65,1289.28 1975.65,1294.26 1979.38,1294.26 1979.38,1299.24" stroke="#a7d0e4" stroke-width="3.6" fill="none"/><polyline points="1680.65,1192.94 1709.28,1192.94 1709.28,1194.18 1729.20,1194.18 1729.20,1197.17 1736.66,1197.17 1736.66,1200.91 1771.52,1200.91 1771.52,1205.14 1786.45,1205.14 1786.45,1209.62 1810.10,1209.62 1810.10,1213.35 1815.08,1213.35 1815.08,1217.09 1821.30,1217.09 1821.30,1220.82 1844.95,1220.82 1844.95,1225.80 1863.62,1225.80 1863.62,1230.78 1878.56,1230.78 1878.56,1235.76 1927.10,1235.76 1927.10,1241.98 1933.33,1241.98 1933.33,1246.96 1950.75,1246.96 1950.75,1253.18 1970.67,1253.18 1970.67,1258.16 1979.38,1258.16 1979.38,1261.90" stroke="#0b3466" stroke-width="3.6" fill="none"/><polyline points="1680.65,1192.94 1691.85,1192.94 1691.85,1204.64 1699.32,1204.64 1699.32,1219.58 1705.55,1219.58 1705.55,1233.27 1713.01,1233.27 1713.01,1250.69 1719.24,1250.69 1719.24,1261.90 1731.69,1261.90 1731.69,1269.37 1736.66,1269.37 1736.66,1276.83 1746.62,1276.83 1746.62,1286.79 1752.85,1286.79 1752.85,1302.97 1760.31,1302.97 1760.31,1309.20 1765.29,1309.20 1765.29,1319.15 1770.27,1319.15 1770.27,1336.58 1793.92,1336.58 1793.92,1341.56 1816.33,1341.56 1816.33,1351.52 1868.60,1351.52 1868.60,1356.49 1883.54,1356.49 1883.54,1361.47 1919.64,1361.47 1919.64,1366.45 1927.10,1366.45 1927.10,1371.43 1942.04,1371.43 1942.04,1376.41 1950.75,1376.41 1950.75,1381.39 1979.38,1381.39" stroke="#67001f" stroke-width="3.6" fill="none"/><line x1="1832.51" y1="1202.33" x2="1832.51" y2="1234.33" stroke="#0b3466" stroke-width="2.6"/><line x1="1816.51" y1="1218.33" x2="1848.51" y2="1218.33" stroke="#0b3466" stroke-width="2.6"/><line x1="1837.49" y1="1203.58" x2="1837.49" y2="1235.58" stroke="#0b3466" stroke-width="2.6"/><line x1="1821.49" y1="1219.58" x2="1853.49" y2="1219.58" stroke="#0b3466" stroke-width="2.6"/><line x1="1726.71" y1="1188.64" x2="1726.71" y2="1220.64" stroke="#a7d0e4" stroke-width="2.6"/><line x1="1710.71" y1="1204.64" x2="1742.71" y2="1204.64" stroke="#a7d0e4" stroke-width="2.6"/><line x1="1877.32" y1="1248.39" x2="1877.32" y2="1280.39" stroke="#a7d0e4" stroke-width="2.6"/><line x1="1861.32" y1="1264.39" x2="1893.32" y2="1264.39" stroke="#a7d0e4" stroke-width="2.6"/><line x1="1903.46" y1="1253.37" x2="1903.46" y2="1285.37" stroke="#a7d0e4" stroke-width="2.6"/><line x1="1757.82" y1="1257.10" x2="1757.82" y2="1289.10" stroke="#f7b799" stroke-width="2.6"/><line x1="1741.82" y1="1273.10" x2="1773.82" y2="1273.10" stroke="#f7b799" stroke-width="2.6"/><line x1="1817.57" y1="1273.28" x2="1817.57" y2="1305.28" stroke="#f7b799" stroke-width="2.6"/><line x1="1801.57" y1="1289.28" x2="1833.57" y2="1289.28" stroke="#f7b799" stroke-width="2.6"/></svg><rect x="1680.00" y="1179.20" width="301.40" height="280.50" fill="none" stroke="#000" stroke-width="2.8"/><line x1="1680.00" y1="1392.92" x2="1690.00" y2="1392.92" stroke="#000" stroke-width="2.6"/><line x1="1981.40" y1="1392.92" x2="1971.40" y2="1392.92" stroke="#000" stroke-width="2.6"/><line x1="1680.00" y1="1326.15" x2="1690.00" y2="1326.15" stroke="#000" stroke-width="2.6"/><line x1="1981.40" y1="1326.15" x2="1971.40" y2="1326.15" stroke="#000" stroke-width="2.6"/><line x1="1680.00" y1="1259.38" x2="1690.00" y2="1259.38" stroke="#000" stroke-width="2.6"/><line x1="1981.40" y1="1259.38" x2="1971.40" y2="1259.38" stroke="#000" stroke-width="2.6"/><line x1="1680.00" y1="1192.60" x2="1690.00" y2="1192.60" stroke="#000" stroke-width="2.6"/><line x1="1981.40" y1="1192.60" x2="1971.40" y2="1192.60" stroke="#000" stroke-width="2.6"/><line x1="1780.66" y1="1459.70" x2="1780.66" y2="1449.70" stroke="#000" stroke-width="2.6"/><line x1="1780.66" y1="1179.20" x2="1780.66" y2="1189.20" stroke="#000" stroke-width="2.6"/><line x1="1881.32" y1="1459.70" x2="1881.32" y2="1449.70" stroke="#000" stroke-width="2.6"/><line x1="1881.32" y1="1179.20" x2="1881.32" y2="1189.20" stroke="#000" stroke-width="2.6"/><text x="1668.5" y="1469.7" font-size="27.5" text-anchor="end">0.00</text><text x="1668.5" y="1402.9" font-size="27.5" text-anchor="end">0.25</text><text x="1668.5" y="1336.2" font-size="27.5" text-anchor="end">0.50</text><text x="1668.5" y="1269.4" font-size="27.5" text-anchor="end">0.75</text><text x="1668.5" y="1202.6" font-size="27.5" text-anchor="end">1.00</text><text x="1680.0" y="1497.7" font-size="27.5" text-anchor="middle">0</text><text x="1780.7" y="1497.7" font-size="27.5" text-anchor="middle">20</text><text x="1881.3" y="1497.7" font-size="27.5" text-anchor="middle">40</text><text x="1982.0" y="1497.7" font-size="27.5" text-anchor="middle">60</text><text x="1830.4" y="1527.2" font-size="27.6" text-anchor="middle">Overall survival [months]</text><text x="1600.0" y="1319.5" font-size="27.6" text-anchor="middle" transform="rotate(-90 1600.0 1319.5)">Proportion surviving</text><text x="1552.2" y="1153.4" font-size="40" font-weight="bold">h</text><rect x="1686.20" y="1344.49" width="17.20" height="17.10" fill="#0b3466"/><text x="1711.1" y="1357.9" font-size="19.6">n=64</text><rect x="1686.20" y="1363.49" width="17.20" height="17.10" fill="#a7d0e4"/><text x="1711.1" y="1376.9" font-size="19.6">n=57</text><rect x="1686.20" y="1382.49" width="17.20" height="17.10" fill="#f7b799"/><text x="1711.1" y="1395.9" font-size="19.6">n=67</text><rect x="1686.20" y="1401.49" width="17.20" height="17.10" fill="#67001f"/><text x="1711.1" y="1414.9" font-size="19.6">n=54</text><text x="1695.6" y="1442.4" font-size="19.4">p=5.63E-46</text><text x="1560.3" y="1541.0" font-size="40" font-weight="bold">i</text><polyline points="1692.9,1648.5 1790.2,1574.5" stroke="#bace55" stroke-width="5.5" fill="none" stroke-opacity="0.5" stroke-linecap="round"/><polyline points="1692.9,1648.5 1747.8,1610.5" stroke="#bace55" stroke-width="5.5" fill="none" stroke-opacity="0.5" stroke-linecap="round"/><polyline points="1692.9,1648.5 1736.2,1652.0" stroke="#bace55" stroke-width="5.5" fill="none" stroke-opacity="0.5" stroke-linecap="round"/><polyline points="1962.6,1687.0 1962.6,1757.2" stroke="#bace55" stroke-width="5.5" fill="none" stroke-opacity="0.5" stroke-linecap="round"/><polyline points="1692.9,1754.2 1756.6,1756.6" stroke="#bace55" stroke-width="5.5" fill="none" stroke-opacity="0.5" stroke-linecap="round"/><polyline points="1692.9,1684.1 1763.9,1757.2" stroke="#bace55" stroke-width="5.5" fill="none" stroke-opacity="0.5" stroke-linecap="round"/><polyline points="1692.9,1754.2 1736.2,1652.0" stroke="#bace55" stroke-width="5.5" fill="none" stroke-opacity="0.5" stroke-linecap="round"/><polyline points="1692.9,1610.2 1731.8,1649.0" stroke="#dd4435" stroke-width="5.5" fill="none" stroke-opacity="0.5" stroke-linecap="round"/><polyline points="1692.9,1644.7 1816.5,1649.9" stroke="#dd4435" stroke-width="5.5" fill="none" stroke-opacity="0.5" stroke-linecap="round"/><polyline points="1692.9,1681.2 1901.3,1718.6" stroke="#dd4435" stroke-width="5.5" fill="none" stroke-opacity="0.5" stroke-linecap="round"/><polyline points="1692.9,1787.8 1768.3,1645.2" stroke="#dd4435" stroke-width="5.5" fill="none" stroke-opacity="0.5" stroke-linecap="round"/><polyline points="1763.9,1717.7 1797.5,1647.6" stroke="#dd4435" stroke-width="5.5" fill="none" stroke-opacity="0.5" stroke-linecap="round"/><polyline points="1692.9,1648.5 1766.8,1610.5" stroke="#dd4435" stroke-width="5.5" fill="none" stroke-opacity="0.5" stroke-linecap="round"/><polyline points="1692.9,1682.6 1733.2,1684.7" stroke="#4daf5f" stroke-width="5.5" fill="none" stroke-opacity="0.5" stroke-linecap="round"/><polyline points="1692.9,1792.2 1841.4,1647.0" stroke="#4daf5f" stroke-width="5.5" fill="none" stroke-opacity="0.5" stroke-linecap="round"/><polyline points="1692.9,1792.2 1850.1,1647.0" stroke="#4daf5f" stroke-width="5.5" fill="none" stroke-opacity="0.5" stroke-linecap="round"/><polyline points="1692.9,1792.2 1867.7,1647.0" stroke="#4daf5f" stroke-width="5.5" fill="none" stroke-opacity="0.5" stroke-linecap="round"/><polyline points="1692.9,1719.2 1823.8,1682.6" stroke="#4daf5f" stroke-width="5.5" fill="none" stroke-opacity="0.5" stroke-linecap="round"/><polyline points="1692.9,1791.4 1968.5,1791.4" stroke="#4daf5f" stroke-width="5.5" fill="none" stroke-opacity="0.5" stroke-linecap="round"/><polyline points="1692.9,1792.2 1845.7,1787.8" stroke="#4daf5f" stroke-width="5.5" fill="none" stroke-opacity="0.5" stroke-linecap="round"/><polyline points="1844.9,1786.1 1889.6,1718.6" stroke="#4daf5f" stroke-width="5.5" fill="none" stroke-opacity="0.5" stroke-linecap="round"/><polyline points="1692.9,1754.2 1744.9,1755.7" stroke="#4daf5f" stroke-width="5.5" fill="none" stroke-opacity="0.5" stroke-linecap="round"/><polyline points="1692.9,1827.3 1858.9,1822.3" stroke="#4daf5f" stroke-width="5.5" fill="none" stroke-opacity="0.5" stroke-linecap="round"/><polyline points="1692.9,1722.1 1826.7,1791.4" stroke="#4daf5f" stroke-width="5.5" fill="none" stroke-opacity="0.5" stroke-linecap="round"/><polyline points="1692.9,1792.2 1823.8,1682.6" stroke="#4daf5f" stroke-width="5.5" fill="none" stroke-opacity="0.5" stroke-linecap="round"/><polyline points="1692.9,1827.3 1815.1,1825.8" stroke="#1f78c8" stroke-width="5.5" fill="none" stroke-opacity="0.5" stroke-linecap="round"/><polyline points="1692.9,1792.2 1962.6,1681.2" stroke="#1f78c8" stroke-width="5.5" fill="none" stroke-opacity="0.5" stroke-linecap="round"/><polyline points="1692.9,1792.2 1933.4,1717.7 1968.5,1792.2" stroke="#1f78c8" stroke-width="5.5" fill="none" stroke-opacity="0.5" stroke-linecap="round"/><polyline points="1692.9,1792.2 1918.8,1756.6" stroke="#1f78c8" stroke-width="5.5" fill="none" stroke-opacity="0.5" stroke-linecap="round"/><polyline points="1692.9,1792.2 1943.6,1824.4" stroke="#1f78c8" stroke-width="5.5" fill="none" stroke-opacity="0.5" stroke-linecap="round"/><polyline points="1692.9,1792.2 1950.9,1828.8" stroke="#1f78c8" stroke-width="5.5" fill="none" stroke-opacity="0.5" stroke-linecap="round"/><polyline points="1692.9,1827.3 1844.3,1720.6" stroke="#1f78c8" stroke-width="5.5" fill="none" stroke-opacity="0.5" stroke-linecap="round"/><polyline points="1692.9,1717.7 1758.1,1825.8" stroke="#1f78c8" stroke-width="5.5" fill="none" stroke-opacity="0.5" stroke-linecap="round"/><polyline points="1692.9,1824.4 1716.3,1647.6" stroke="#1f78c8" stroke-width="5.5" fill="none" stroke-opacity="0.5" stroke-linecap="round"/><polyline points="1692.9,1717.7 1743.5,1717.7" stroke="#1f78c8" stroke-width="5.5" fill="none" stroke-opacity="0.5" stroke-linecap="round"/><polyline points="1692.9,1827.3 1968.5,1792.2" stroke="#1f78c8" stroke-width="5.5" fill="none" stroke-opacity="0.5" stroke-linecap="round"/><polyline points="1692.9,1717.7 1845.7,1791.4" stroke="#1f78c8" stroke-width="5.5" fill="none" stroke-opacity="0.5" stroke-linecap="round"/><polyline points="1692.9,1827.3 1730.3,1822.9" stroke="#1f78c8" stroke-width="5.5" fill="none" stroke-opacity="0.5" stroke-linecap="round"/><circle cx="1692.9" cy="1648.5" r="4.6" fill="#bace55" fill-opacity="0.6"/><circle cx="1790.2" cy="1574.5" r="4.6" fill="#bace55" fill-opacity="0.6"/><circle cx="1692.9" cy="1648.5" r="4.6" fill="#bace55" fill-opacity="0.6"/><circle cx="1747.8" cy="1610.5" r="4.6" fill="#bace55" fill-opacity="0.6"/><circle cx="1692.9" cy="1648.5" r="4.6" fill="#bace55" fill-opacity="0.6"/><circle cx="1736.2" cy="1652.0" r="4.6" fill="#bace55" fill-opacity="0.6"/><circle cx="1962.6" cy="1687.0" r="4.6" fill="#bace55" fill-opacity="0.6"/><circle cx="1962.6" cy="1757.2" r="4.6" fill="#bace55" fill-opacity="0.6"/><circle cx="1692.9" cy="1754.2" r="4.6" fill="#bace55" fill-opacity="0.6"/><circle cx="1756.6" cy="1756.6" r="4.6" fill="#bace55" fill-opacity="0.6"/><circle cx="1692.9" cy="1684.1" r="4.6" fill="#bace55" fill-opacity="0.6"/><circle cx="1763.9" cy="1757.2" r="4.6" fill="#bace55" fill-opacity="0.6"/><circle cx="1692.9" cy="1754.2" r="4.6" fill="#bace55" fill-opacity="0.6"/><circle cx="1736.2" cy="1652.0" r="4.6" fill="#bace55" fill-opacity="0.6"/><circle cx="1692.9" cy="1610.2" r="4.6" fill="#dd4435" fill-opacity="0.6"/><circle cx="1731.8" cy="1649.0" r="4.6" fill="#dd4435" fill-opacity="0.6"/><circle cx="1692.9" cy="1644.7" r="4.6" fill="#dd4435" fill-opacity="0.6"/><circle cx="1816.5" cy="1649.9" r="4.6" fill="#dd4435" fill-opacity="0.6"/><circle cx="1692.9" cy="1681.2" r="4.6" fill="#dd4435" fill-opacity="0.6"/><circle cx="1901.3" cy="1718.6" r="4.6" fill="#dd4435" fill-opacity="0.6"/><circle cx="1692.9" cy="1787.8" r="4.6" fill="#dd4435" fill-opacity="0.6"/><circle cx="1768.3" cy="1645.2" r="4.6" fill="#dd4435" fill-opacity="0.6"/><circle cx="1763.9" cy="1717.7" r="4.6" fill="#dd4435" fill-opacity="0.6"/><circle cx="1797.5" cy="1647.6" r="4.6" fill="#dd4435" fill-opacity="0.6"/><circle cx="1692.9" cy="1648.5" r="4.6" fill="#dd4435" fill-opacity="0.6"/><circle cx="1766.8" cy="1610.5" r="4.6" fill="#dd4435" fill-opacity="0.6"/><circle cx="1692.9" cy="1682.6" r="4.6" fill="#4daf5f" fill-opacity="0.6"/><circle cx="1733.2" cy="1684.7" r="4.6" fill="#4daf5f" fill-opacity="0.6"/><circle cx="1692.9" cy="1792.2" r="4.6" fill="#4daf5f" fill-opacity="0.6"/><circle cx="1841.4" cy="1647.0" r="4.6" fill="#4daf5f" fill-opacity="0.6"/><circle cx="1692.9" cy="1792.2" r="4.6" fill="#4daf5f" fill-opacity="0.6"/><circle cx="1850.1" cy="1647.0" r="4.6" fill="#4daf5f" fill-opacity="0.6"/><circle cx="1692.9" cy="1792.2" r="4.6" fill="#4daf5f" fill-opacity="0.6"/><circle cx="1867.7" cy="1647.0" r="4.6" fill="#4daf5f" fill-opacity="0.6"/><circle cx="1692.9" cy="1719.2" r="4.6" fill="#4daf5f" fill-opacity="0.6"/><circle cx="1823.8" cy="1682.6" r="4.6" fill="#4daf5f" fill-opacity="0.6"/><circle cx="1692.9" cy="1791.4" r="4.6" fill="#4daf5f" fill-opacity="0.6"/><circle cx="1968.5" cy="1791.4" r="4.6" fill="#4daf5f" fill-opacity="0.6"/><circle cx="1692.9" cy="1792.2" r="4.6" fill="#4daf5f" fill-opacity="0.6"/><circle cx="1845.7" cy="1787.8" r="4.6" fill="#4daf5f" fill-opacity="0.6"/><circle cx="1844.9" cy="1786.1" r="4.6" fill="#4daf5f" fill-opacity="0.6"/><circle cx="1889.6" cy="1718.6" r="4.6" fill="#4daf5f" fill-opacity="0.6"/><circle cx="1692.9" cy="1754.2" r="4.6" fill="#4daf5f" fill-opacity="0.6"/><circle cx="1744.9" cy="1755.7" r="4.6" fill="#4daf5f" fill-opacity="0.6"/><circle cx="1692.9" cy="1827.3" r="4.6" fill="#4daf5f" fill-opacity="0.6"/><circle cx="1858.9" cy="1822.3" r="4.6" fill="#4daf5f" fill-opacity="0.6"/><circle cx="1692.9" cy="1722.1" r="4.6" fill="#4daf5f" fill-opacity="0.6"/><circle cx="1826.7" cy="1791.4" r="4.6" fill="#4daf5f" fill-opacity="0.6"/><circle cx="1692.9" cy="1792.2" r="4.6" fill="#4daf5f" fill-opacity="0.6"/><circle cx="1823.8" cy="1682.6" r="4.6" fill="#4daf5f" fill-opacity="0.6"/><circle cx="1692.9" cy="1827.3" r="4.6" fill="#1f78c8" fill-opacity="0.6"/><circle cx="1815.1" cy="1825.8" r="4.6" fill="#1f78c8" fill-opacity="0.6"/><circle cx="1692.9" cy="1792.2" r="4.6" fill="#1f78c8" fill-opacity="0.6"/><circle cx="1962.6" cy="1681.2" r="4.6" fill="#1f78c8" fill-opacity="0.6"/><circle cx="1692.9" cy="1792.2" r="4.6" fill="#1f78c8" fill-opacity="0.6"/><circle cx="1933.4" cy="1717.7" r="4.6" fill="#1f78c8" fill-opacity="0.6"/><circle cx="1968.5" cy="1792.2" r="4.6" fill="#1f78c8" fill-opacity="0.6"/><circle cx="1692.9" cy="1792.2" r="4.6" fill="#1f78c8" fill-opacity="0.6"/><circle cx="1918.8" cy="1756.6" r="4.6" fill="#1f78c8" fill-opacity="0.6"/><circle cx="1692.9" cy="1792.2" r="4.6" fill="#1f78c8" fill-opacity="0.6"/><circle cx="1943.6" cy="1824.4" r="4.6" fill="#1f78c8" fill-opacity="0.6"/><circle cx="1692.9" cy="1792.2" r="4.6" fill="#1f78c8" fill-opacity="0.6"/><circle cx="1950.9" cy="1828.8" r="4.6" fill="#1f78c8" fill-opacity="0.6"/><circle cx="1692.9" cy="1827.3" r="4.6" fill="#1f78c8" fill-opacity="0.6"/><circle cx="1844.3" cy="1720.6" r="4.6" fill="#1f78c8" fill-opacity="0.6"/><circle cx="1692.9" cy="1717.7" r="4.6" fill="#1f78c8" fill-opacity="0.6"/><circle cx="1758.1" cy="1825.8" r="4.6" fill="#1f78c8" fill-opacity="0.6"/><circle cx="1692.9" cy="1824.4" r="4.6" fill="#1f78c8" fill-opacity="0.6"/><circle cx="1716.3" cy="1647.6" r="4.6" fill="#1f78c8" fill-opacity="0.6"/><circle cx="1692.9" cy="1717.7" r="4.6" fill="#1f78c8" fill-opacity="0.6"/><circle cx="1743.5" cy="1717.7" r="4.6" fill="#1f78c8" fill-opacity="0.6"/><circle cx="1692.9" cy="1827.3" r="4.6" fill="#1f78c8" fill-opacity="0.6"/><circle cx="1968.5" cy="1792.2" r="4.6" fill="#1f78c8" fill-opacity="0.6"/><circle cx="1692.9" cy="1717.7" r="4.6" fill="#1f78c8" fill-opacity="0.6"/><circle cx="1845.7" cy="1791.4" r="4.6" fill="#1f78c8" fill-opacity="0.6"/><circle cx="1692.9" cy="1827.3" r="4.6" fill="#1f78c8" fill-opacity="0.6"/><circle cx="1730.3" cy="1822.9" r="4.6" fill="#1f78c8" fill-opacity="0.6"/><rect x="1679.80" y="1561.40" width="301.80" height="280.50" fill="none" stroke="#000" stroke-width="2.8"/><line x1="1679.80" y1="1827.30" x2="1689.80" y2="1827.30" stroke="#000" stroke-width="2.6"/><line x1="1981.60" y1="1827.30" x2="1971.60" y2="1827.30" stroke="#000" stroke-width="2.6"/><line x1="1679.80" y1="1791.31" x2="1689.80" y2="1791.31" stroke="#000" stroke-width="2.6"/><line x1="1981.60" y1="1791.31" x2="1971.60" y2="1791.31" stroke="#000" stroke-width="2.6"/><line x1="1679.80" y1="1755.32" x2="1689.80" y2="1755.32" stroke="#000" stroke-width="2.6"/><line x1="1981.60" y1="1755.32" x2="1971.60" y2="1755.32" stroke="#000" stroke-width="2.6"/><line x1="1679.80" y1="1719.33" x2="1689.80" y2="1719.33" stroke="#000" stroke-width="2.6"/><line x1="1981.60" y1="1719.33" x2="1971.60" y2="1719.33" stroke="#000" stroke-width="2.6"/><line x1="1679.80" y1="1683.34" x2="1689.80" y2="1683.34" stroke="#000" stroke-width="2.6"/><line x1="1981.60" y1="1683.34" x2="1971.60" y2="1683.34" stroke="#000" stroke-width="2.6"/><line x1="1679.80" y1="1647.35" x2="1689.80" y2="1647.35" stroke="#000" stroke-width="2.6"/><line x1="1981.60" y1="1647.35" x2="1971.60" y2="1647.35" stroke="#000" stroke-width="2.6"/><line x1="1679.80" y1="1611.36" x2="1689.80" y2="1611.36" stroke="#000" stroke-width="2.6"/><line x1="1981.60" y1="1611.36" x2="1971.60" y2="1611.36" stroke="#000" stroke-width="2.6"/><line x1="1679.80" y1="1575.37" x2="1689.80" y2="1575.37" stroke="#000" stroke-width="2.6"/><line x1="1981.60" y1="1575.37" x2="1971.60" y2="1575.37" stroke="#000" stroke-width="2.6"/><line x1="1692.90" y1="1841.90" x2="1692.90" y2="1833.90" stroke="#000" stroke-width="2.6"/><line x1="1692.90" y1="1561.40" x2="1692.90" y2="1569.40" stroke="#000" stroke-width="2.6"/><line x1="1793.13" y1="1841.90" x2="1793.13" y2="1833.90" stroke="#000" stroke-width="2.6"/><line x1="1793.13" y1="1561.40" x2="1793.13" y2="1569.40" stroke="#000" stroke-width="2.6"/><line x1="1833.59" y1="1841.90" x2="1833.59" y2="1833.90" stroke="#000" stroke-width="2.6"/><line x1="1833.59" y1="1561.40" x2="1833.59" y2="1569.40" stroke="#000" stroke-width="2.6"/><line x1="1878.35" y1="1841.90" x2="1878.35" y2="1833.90" stroke="#000" stroke-width="2.6"/><line x1="1878.35" y1="1561.40" x2="1878.35" y2="1569.40" stroke="#000" stroke-width="2.6"/><line x1="1925.62" y1="1841.90" x2="1925.62" y2="1833.90" stroke="#000" stroke-width="2.6"/><line x1="1925.62" y1="1561.40" x2="1925.62" y2="1569.40" stroke="#000" stroke-width="2.6"/><line x1="1974.28" y1="1841.90" x2="1974.28" y2="1833.90" stroke="#000" stroke-width="2.6"/><line x1="1974.28" y1="1561.40" x2="1974.28" y2="1569.40" stroke="#000" stroke-width="2.6"/><line x1="1743.01" y1="1841.90" x2="1743.01" y2="1837.40" stroke="#000" stroke-width="2.6"/><line x1="1743.01" y1="1561.40" x2="1743.01" y2="1565.90" stroke="#000" stroke-width="2.6"/><line x1="1772.33" y1="1841.90" x2="1772.33" y2="1837.40" stroke="#000" stroke-width="2.6"/><line x1="1772.33" y1="1561.40" x2="1772.33" y2="1565.90" stroke="#000" stroke-width="2.6"/><line x1="1809.26" y1="1841.90" x2="1809.26" y2="1837.40" stroke="#000" stroke-width="2.6"/><line x1="1809.26" y1="1561.40" x2="1809.26" y2="1565.90" stroke="#000" stroke-width="2.6"/><line x1="1822.44" y1="1841.90" x2="1822.44" y2="1837.40" stroke="#000" stroke-width="2.6"/><line x1="1822.44" y1="1561.40" x2="1822.44" y2="1565.90" stroke="#000" stroke-width="2.6"/><line x1="1843.24" y1="1841.90" x2="1843.24" y2="1837.40" stroke="#000" stroke-width="2.6"/><line x1="1843.24" y1="1561.40" x2="1843.24" y2="1565.90" stroke="#000" stroke-width="2.6"/><line x1="1851.76" y1="1841.90" x2="1851.76" y2="1837.40" stroke="#000" stroke-width="2.6"/><line x1="1851.76" y1="1561.40" x2="1851.76" y2="1565.90" stroke="#000" stroke-width="2.6"/><line x1="1859.38" y1="1841.90" x2="1859.38" y2="1837.40" stroke="#000" stroke-width="2.6"/><line x1="1859.38" y1="1561.40" x2="1859.38" y2="1565.90" stroke="#000" stroke-width="2.6"/><line x1="1866.27" y1="1841.90" x2="1866.27" y2="1837.40" stroke="#000" stroke-width="2.6"/><line x1="1866.27" y1="1561.40" x2="1866.27" y2="1565.90" stroke="#000" stroke-width="2.6"/><line x1="1913.02" y1="1841.90" x2="1913.02" y2="1837.40" stroke="#000" stroke-width="2.6"/><line x1="1913.02" y1="1561.40" x2="1913.02" y2="1565.90" stroke="#000" stroke-width="2.6"/><line x1="1941.18" y1="1841.90" x2="1941.18" y2="1837.40" stroke="#000" stroke-width="2.6"/><line x1="1941.18" y1="1561.40" x2="1941.18" y2="1565.90" stroke="#000" stroke-width="2.6"/><line x1="1961.39" y1="1841.90" x2="1961.39" y2="1837.40" stroke="#000" stroke-width="2.6"/><line x1="1961.39" y1="1561.40" x2="1961.39" y2="1565.90" stroke="#000" stroke-width="2.6"/><text x="1669.5" y="1837.3" font-size="27.5" text-anchor="end">pTa low</text><text x="1669.5" y="1801.3" font-size="27.5" text-anchor="end">pTa high</text><text x="1669.5" y="1765.3" font-size="27.5" text-anchor="end">pTis</text><text x="1669.5" y="1729.3" font-size="27.5" text-anchor="end">pT1a/b G1/G2</text><text x="1669.5" y="1693.3" font-size="27.5" text-anchor="end">pT1c G3</text><text x="1669.5" y="1657.3" font-size="27.5" text-anchor="end">pT2</text><text x="1669.5" y="1621.4" font-size="27.5" text-anchor="end">&gt;pT2</text><text x="1669.5" y="1585.4" font-size="27.5" text-anchor="end">pN1</text><text x="1692.9" y="1871.0" font-size="27.5" text-anchor="middle">0</text><text x="1793.1" y="1871.0" font-size="27.5" text-anchor="middle">3</text><text x="1833.6" y="1871.0" font-size="27.5" text-anchor="middle">6</text><text x="1878.3" y="1871.0" font-size="27.5" text-anchor="middle">12</text><text x="1925.6" y="1871.0" font-size="27.5" text-anchor="middle">24</text><text x="1974.3" y="1871.0" font-size="27.5" text-anchor="middle">48</text><text x="1830.0" y="1908.5" font-size="27.6" text-anchor="middle">Time [months]</text><text x="58.7" y="1763.0" font-size="40" font-weight="bold">j</text><rect x="112.90" y="1780.00" width="42.80" height="21.40" fill="#f8f0eb"/><rect x="155.30" y="1780.00" width="42.80" height="21.40" fill="#f8f0eb"/><rect x="112.90" y="1801.00" width="42.80" height="21.40" fill="#eef2f5"/><rect x="155.30" y="1801.00" width="42.80" height="21.40" fill="#eef2f5"/><rect x="112.90" y="1822.00" width="42.80" height="21.40" fill="#2166ac"/><rect x="155.30" y="1822.00" width="42.80" height="21.40" fill="#256caf"/><rect x="112.90" y="1843.00" width="42.80" height="21.40" fill="#327db8"/><rect x="155.30" y="1843.00" width="42.80" height="21.40" fill="#256caf"/><rect x="112.90" y="1864.00" width="42.80" height="21.40" fill="#c1ddec"/><rect x="155.30" y="1864.00" width="42.80" height="21.40" fill="#e9f0f4"/><rect x="112.90" y="1885.00" width="42.80" height="21.40" fill="#e4eef4"/><rect x="155.30" y="1885.00" width="42.80" height="21.40" fill="#fddbc7"/><rect x="112.90" y="1906.00" width="42.80" height="21.40" fill="#f7f6f5"/><rect x="155.30" y="1906.00" width="42.80" height="21.40" fill="#dfecf3"/><rect x="112.90" y="1927.00" width="42.80" height="21.40" fill="#fcd4be"/><rect x="155.30" y="1927.00" width="42.80" height="21.40" fill="#3a88bd"/><rect x="112.90" y="1948.00" width="42.80" height="21.40" fill="#fae9df"/><rect x="155.30" y="1948.00" width="42.80" height="21.40" fill="#92c5de"/><rect x="112.90" y="1969.00" width="42.80" height="21.40" fill="#fae9df"/><rect x="155.30" y="1969.00" width="42.80" height="21.40" fill="#f9ece5"/><rect x="112.90" y="1990.00" width="42.80" height="21.40" fill="#f2f5f6"/><rect x="155.30" y="1990.00" width="42.80" height="21.40" fill="#f4a582"/><rect x="112.90" y="2011.00" width="42.80" height="21.40" fill="#e4eef4"/><rect x="155.30" y="2011.00" width="42.80" height="21.40" fill="#f7f7f7"/><rect x="112.90" y="2032.00" width="42.80" height="21.40" fill="#daeaf2"/><rect x="155.30" y="2032.00" width="42.80" height="21.40" fill="#eef2f5"/><rect x="112.90" y="1780.00" width="84.80" height="273.00" fill="none" stroke="#000" stroke-width="2.2"/><text x="155.3" y="1764.5" font-size="27.4" text-anchor="middle">All</text><text x="132.6" y="2076.0" font-size="21.8" text-anchor="end" transform="rotate(-45 132.6 2076.0)">Healthy</text><text x="175.0" y="2076.0" font-size="21.8" text-anchor="end" transform="rotate(-45 175.0 2076.0)">Tumor</text><rect x="225.40" y="1780.00" width="42.36" height="21.40" fill="#f8f0eb"/><rect x="267.36" y="1780.00" width="42.36" height="21.40" fill="#f8f4f1"/><rect x="309.31" y="1780.00" width="42.36" height="21.40" fill="#eef2f5"/><rect x="351.27" y="1780.00" width="42.36" height="21.40" fill="#f8f0eb"/><rect x="393.22" y="1780.00" width="42.36" height="21.40" fill="#f7f7f7"/><rect x="435.18" y="1780.00" width="42.36" height="21.40" fill="#fce2d3"/><rect x="477.13" y="1780.00" width="42.36" height="21.40" fill="#fce2d3"/><rect x="519.09" y="1780.00" width="42.36" height="21.40" fill="#f8c0a4"/><rect x="561.04" y="1780.00" width="42.36" height="21.40" fill="#f6b293"/><rect x="225.40" y="1801.00" width="42.36" height="21.40" fill="#eef2f5"/><rect x="267.36" y="1801.00" width="42.36" height="21.40" fill="#eef2f5"/><rect x="309.31" y="1801.00" width="42.36" height="21.40" fill="#e9f0f4"/><rect x="351.27" y="1801.00" width="42.36" height="21.40" fill="#eef2f5"/><rect x="393.22" y="1801.00" width="42.36" height="21.40" fill="#f2f5f6"/><rect x="435.18" y="1801.00" width="42.36" height="21.40" fill="#f8f4f1"/><rect x="477.13" y="1801.00" width="42.36" height="21.40" fill="#f8f4f1"/><rect x="519.09" y="1801.00" width="42.36" height="21.40" fill="#f7f7f7"/><rect x="561.04" y="1801.00" width="42.36" height="21.40" fill="#e4eef4"/><rect x="225.40" y="1822.00" width="42.36" height="21.40" fill="#2166ac"/><rect x="267.36" y="1822.00" width="42.36" height="21.40" fill="#2166ac"/><rect x="309.31" y="1822.00" width="42.36" height="21.40" fill="#2166ac"/><rect x="351.27" y="1822.00" width="42.36" height="21.40" fill="#2166ac"/><rect x="393.22" y="1822.00" width="42.36" height="21.40" fill="#1e5fa3"/><rect x="435.18" y="1822.00" width="42.36" height="21.40" fill="#1a5899"/><rect x="477.13" y="1822.00" width="42.36" height="21.40" fill="#2166ac"/><rect x="519.09" y="1822.00" width="42.36" height="21.40" fill="#7eb8d7"/><rect x="561.04" y="1822.00" width="42.36" height="21.40" fill="#fce2d3"/><rect x="225.40" y="1843.00" width="42.36" height="21.40" fill="#327db8"/><rect x="267.36" y="1843.00" width="42.36" height="21.40" fill="#053061"/><rect x="309.31" y="1843.00" width="42.36" height="21.40" fill="#053061"/><rect x="351.27" y="1843.00" width="42.36" height="21.40" fill="#2a71b2"/><rect x="393.22" y="1843.00" width="42.36" height="21.40" fill="#3a88bd"/><rect x="435.18" y="1843.00" width="42.36" height="21.40" fill="#a2cde2"/><rect x="477.13" y="1843.00" width="42.36" height="21.40" fill="#e4eef4"/><rect x="519.09" y="1843.00" width="42.36" height="21.40" fill="#0c3e74"/><rect x="561.04" y="1843.00" width="42.36" height="21.40" fill="#a2cde2"/><rect x="225.40" y="1864.00" width="42.36" height="21.40" fill="#c1ddec"/><rect x="267.36" y="1864.00" width="42.36" height="21.40" fill="#dfecf3"/><rect x="309.31" y="1864.00" width="42.36" height="21.40" fill="#e4eef4"/><rect x="351.27" y="1864.00" width="42.36" height="21.40" fill="#d6e7f1"/><rect x="393.22" y="1864.00" width="42.36" height="21.40" fill="#eef2f5"/><rect x="435.18" y="1864.00" width="42.36" height="21.40" fill="#f8c0a4"/><rect x="477.13" y="1864.00" width="42.36" height="21.40" fill="#eef2f5"/><rect x="519.09" y="1864.00" width="42.36" height="21.40" fill="#a2cde2"/><rect x="561.04" y="1864.00" width="42.36" height="21.40" fill="#d1e5f0"/><rect x="225.40" y="1885.00" width="42.36" height="21.40" fill="#e4eef4"/><rect x="267.36" y="1885.00" width="42.36" height="21.40" fill="#f8c0a4"/><rect x="309.31" y="1885.00" width="42.36" height="21.40" fill="#f4a582"/><rect x="351.27" y="1885.00" width="42.36" height="21.40" fill="#a2cde2"/><rect x="393.22" y="1885.00" width="42.36" height="21.40" fill="#fcdecd"/><rect x="435.18" y="1885.00" width="42.36" height="21.40" fill="#f2f5f6"/><rect x="477.13" y="1885.00" width="42.36" height="21.40" fill="#fae9df"/><rect x="519.09" y="1885.00" width="42.36" height="21.40" fill="#f8c0a4"/><rect x="561.04" y="1885.00" width="42.36" height="21.40" fill="#fbceb6"/><rect x="225.40" y="1906.00" width="42.36" height="21.40" fill="#f7f6f5"/><rect x="267.36" y="1906.00" width="42.36" height="21.40" fill="#c9e1ee"/><rect x="309.31" y="1906.00" width="42.36" height="21.40" fill="#b9d9e9"/><rect x="351.27" y="1906.00" width="42.36" height="21.40" fill="#e4eef4"/><rect x="393.22" y="1906.00" width="42.36" height="21.40" fill="#daeaf2"/><rect x="435.18" y="1906.00" width="42.36" height="21.40" fill="#f2f5f6"/><rect x="477.13" y="1906.00" width="42.36" height="21.40" fill="#e4eef4"/><rect x="519.09" y="1906.00" width="42.36" height="21.40" fill="#f2f5f6"/><rect x="561.04" y="1906.00" width="42.36" height="21.40" fill="#b2d5e7"/><rect x="225.40" y="1927.00" width="42.36" height="21.40" fill="#fddbc7"/><rect x="267.36" y="1927.00" width="42.36" height="21.40" fill="#053061"/><rect x="309.31" y="1927.00" width="42.36" height="21.40" fill="#053061"/><rect x="351.27" y="1927.00" width="42.36" height="21.40" fill="#f8f0eb"/><rect x="393.22" y="1927.00" width="42.36" height="21.40" fill="#2166ac"/><rect x="435.18" y="1927.00" width="42.36" height="21.40" fill="#57a0ca"/><rect x="477.13" y="1927.00" width="42.36" height="21.40" fill="#6aacd0"/><rect x="519.09" y="1927.00" width="42.36" height="21.40" fill="#fddbc7"/><rect x="561.04" y="1927.00" width="42.36" height="21.40" fill="#67001f"/><rect x="225.40" y="1948.00" width="42.36" height="21.40" fill="#fae9df"/><rect x="267.36" y="1948.00" width="42.36" height="21.40" fill="#134b86"/><rect x="309.31" y="1948.00" width="42.36" height="21.40" fill="#0c3e74"/><rect x="351.27" y="1948.00" width="42.36" height="21.40" fill="#ec9475"/><rect x="393.22" y="1948.00" width="42.36" height="21.40" fill="#4393c3"/><rect x="435.18" y="1948.00" width="42.36" height="21.40" fill="#eef2f5"/><rect x="477.13" y="1948.00" width="42.36" height="21.40" fill="#b2d5e7"/><rect x="519.09" y="1948.00" width="42.36" height="21.40" fill="#e4eef4"/><rect x="561.04" y="1948.00" width="42.36" height="21.40" fill="#92c5de"/><rect x="225.40" y="1969.00" width="42.36" height="21.40" fill="#fae9df"/><rect x="267.36" y="1969.00" width="42.36" height="21.40" fill="#f2f5f6"/><rect x="309.31" y="1969.00" width="42.36" height="21.40" fill="#e4eef4"/><rect x="351.27" y="1969.00" width="42.36" height="21.40" fill="#fbceb6"/><rect x="393.22" y="1969.00" width="42.36" height="21.40" fill="#f2f5f6"/><rect x="435.18" y="1969.00" width="42.36" height="21.40" fill="#fce2d3"/><rect x="477.13" y="1969.00" width="42.36" height="21.40" fill="#fce2d3"/><rect x="519.09" y="1969.00" width="42.36" height="21.40" fill="#fddbc7"/><rect x="561.04" y="1969.00" width="42.36" height="21.40" fill="#f7f7f7"/><rect x="225.40" y="1990.00" width="42.36" height="21.40" fill="#f2f5f6"/><rect x="267.36" y="1990.00" width="42.36" height="21.40" fill="#de715a"/><rect x="309.31" y="1990.00" width="42.36" height="21.40" fill="#d6604d"/><rect x="351.27" y="1990.00" width="42.36" height="21.40" fill="#f8f4f1"/><rect x="393.22" y="1990.00" width="42.36" height="21.40" fill="#ec9475"/><rect x="435.18" y="1990.00" width="42.36" height="21.40" fill="#f4a582"/><rect x="477.13" y="1990.00" width="42.36" height="21.40" fill="#f8c0a4"/><rect x="519.09" y="1990.00" width="42.36" height="21.40" fill="#f8f0eb"/><rect x="561.04" y="1990.00" width="42.36" height="21.40" fill="#fbceb6"/><rect x="225.40" y="2011.00" width="42.36" height="21.40" fill="#e4eef4"/><rect x="267.36" y="2011.00" width="42.36" height="21.40" fill="#f8f0eb"/><rect x="309.31" y="2011.00" width="42.36" height="21.40" fill="#f7f7f7"/><rect x="351.27" y="2011.00" width="42.36" height="21.40" fill="#d6e7f1"/><rect x="393.22" y="2011.00" width="42.36" height="21.40" fill="#f2f5f6"/><rect x="435.18" y="2011.00" width="42.36" height="21.40" fill="#f2f5f6"/><rect x="477.13" y="2011.00" width="42.36" height="21.40" fill="#eef2f5"/><rect x="519.09" y="2011.00" width="42.36" height="21.40" fill="#f8f0eb"/><rect x="561.04" y="2011.00" width="42.36" height="21.40" fill="#e4eef4"/><rect x="225.40" y="2032.00" width="42.36" height="21.40" fill="#daeaf2"/><rect x="267.36" y="2032.00" width="42.36" height="21.40" fill="#fddbc7"/><rect x="309.31" y="2032.00" width="42.36" height="21.40" fill="#f7f7f7"/><rect x="351.27" y="2032.00" width="42.36" height="21.40" fill="#b2d5e7"/><rect x="393.22" y="2032.00" width="42.36" height="21.40" fill="#f2f5f6"/><rect x="435.18" y="2032.00" width="42.36" height="21.40" fill="#e4eef4"/><rect x="477.13" y="2032.00" width="42.36" height="21.40" fill="#d6e7f1"/><rect x="519.09" y="2032.00" width="42.36" height="21.40" fill="#e9f0f4"/><rect x="561.04" y="2032.00" width="42.36" height="21.40" fill="#a2cde2"/><rect x="225.40" y="1780.00" width="377.60" height="273.00" fill="none" stroke="#000" stroke-width="2.2"/><text x="414.2" y="1764.5" font-size="27.4" text-anchor="middle">pTNM</text><text x="244.9" y="2076.0" font-size="21.8" text-anchor="end" transform="rotate(-45 244.9 2076.0)">healthy</text><text x="286.8" y="2076.0" font-size="21.8" text-anchor="end" transform="rotate(-45 286.8 2076.0)">pTa low</text><text x="328.8" y="2076.0" font-size="21.8" text-anchor="end" transform="rotate(-45 328.8 2076.0)">pTa high</text><text x="370.7" y="2076.0" font-size="21.8" text-anchor="end" transform="rotate(-45 370.7 2076.0)">pTis</text><text x="412.7" y="2076.0" font-size="21.8" text-anchor="end" transform="rotate(-45 412.7 2076.0)">pT1a/b/G1/G2</text><text x="454.7" y="2076.0" font-size="21.8" text-anchor="end" transform="rotate(-45 454.7 2076.0)">pT1c/G3</text><text x="496.6" y="2076.0" font-size="21.8" text-anchor="end" transform="rotate(-45 496.6 2076.0)">pT2</text><text x="538.6" y="2076.0" font-size="21.8" text-anchor="end" transform="rotate(-45 538.6 2076.0)">&gt;pT2</text><text x="580.5" y="2076.0" font-size="21.8" text-anchor="end" transform="rotate(-45 580.5 2076.0)">pN1</text><rect x="629.80" y="1780.00" width="42.44" height="21.40" fill="#f2f5f6"/><rect x="671.84" y="1780.00" width="42.44" height="21.40" fill="#f8f0eb"/><rect x="713.88" y="1780.00" width="42.44" height="21.40" fill="#fae9df"/><rect x="755.92" y="1780.00" width="42.44" height="21.40" fill="#f9ece5"/><rect x="797.96" y="1780.00" width="42.44" height="21.40" fill="#fae9df"/><rect x="629.80" y="1801.00" width="42.44" height="21.40" fill="#e4eef4"/><rect x="671.84" y="1801.00" width="42.44" height="21.40" fill="#fce2d3"/><rect x="713.88" y="1801.00" width="42.44" height="21.40" fill="#eef2f5"/><rect x="755.92" y="1801.00" width="42.44" height="21.40" fill="#e4eef4"/><rect x="797.96" y="1801.00" width="42.44" height="21.40" fill="#f8f0eb"/><rect x="629.80" y="1822.00" width="42.44" height="21.40" fill="#3a88bd"/><rect x="671.84" y="1822.00" width="42.44" height="21.40" fill="#053061"/><rect x="713.88" y="1822.00" width="42.44" height="21.40" fill="#2a71b2"/><rect x="755.92" y="1822.00" width="42.44" height="21.40" fill="#2166ac"/><rect x="797.96" y="1822.00" width="42.44" height="21.40" fill="#c1ddec"/><rect x="629.80" y="1843.00" width="42.44" height="21.40" fill="#053061"/><rect x="671.84" y="1843.00" width="42.44" height="21.40" fill="#1a5899"/><rect x="713.88" y="1843.00" width="42.44" height="21.40" fill="#053061"/><rect x="755.92" y="1843.00" width="42.44" height="21.40" fill="#57a0ca"/><rect x="797.96" y="1843.00" width="42.44" height="21.40" fill="#fae9df"/><rect x="629.80" y="1864.00" width="42.44" height="21.40" fill="#e4eef4"/><rect x="671.84" y="1864.00" width="42.44" height="21.40" fill="#e4eef4"/><rect x="713.88" y="1864.00" width="42.44" height="21.40" fill="#327db8"/><rect x="755.92" y="1864.00" width="42.44" height="21.40" fill="#e4eef4"/><rect x="797.96" y="1864.00" width="42.44" height="21.40" fill="#f7b99c"/><rect x="629.80" y="1885.00" width="42.44" height="21.40" fill="#e58268"/><rect x="671.84" y="1885.00" width="42.44" height="21.40" fill="#fce2d3"/><rect x="713.88" y="1885.00" width="42.44" height="21.40" fill="#f9ece5"/><rect x="755.92" y="1885.00" width="42.44" height="21.40" fill="#e4eef4"/><rect x="797.96" y="1885.00" width="42.44" height="21.40" fill="#fcdecd"/><rect x="629.80" y="1906.00" width="42.44" height="21.40" fill="#b2d5e7"/><rect x="671.84" y="1906.00" width="42.44" height="21.40" fill="#e9f0f4"/><rect x="713.88" y="1906.00" width="42.44" height="21.40" fill="#f8f0eb"/><rect x="755.92" y="1906.00" width="42.44" height="21.40" fill="#e4eef4"/><rect x="797.96" y="1906.00" width="42.44" height="21.40" fill="#eef2f5"/><rect x="629.80" y="1927.00" width="42.44" height="21.40" fill="#053061"/><rect x="671.84" y="1927.00" width="42.44" height="21.40" fill="#2a71b2"/><rect x="713.88" y="1927.00" width="42.44" height="21.40" fill="#67001f"/><rect x="755.92" y="1927.00" width="42.44" height="21.40" fill="#e4eef4"/><rect x="797.96" y="1927.00" width="42.44" height="21.40" fill="#053061"/><rect x="629.80" y="1948.00" width="42.44" height="21.40" fill="#053061"/><rect x="671.84" y="1948.00" width="42.44" height="21.40" fill="#6aacd0"/><rect x="713.88" y="1948.00" width="42.44" height="21.40" fill="#e4eef4"/><rect x="755.92" y="1948.00" width="42.44" height="21.40" fill="#fbe6d9"/><rect x="797.96" y="1948.00" width="42.44" height="21.40" fill="#dfecf3"/><rect x="629.80" y="1969.00" width="42.44" height="21.40" fill="#dfecf3"/><rect x="671.84" y="1969.00" width="42.44" height="21.40" fill="#eef2f5"/><rect x="713.88" y="1969.00" width="42.44" height="21.40" fill="#fcdecd"/><rect x="755.92" y="1969.00" width="42.44" height="21.40" fill="#fce2d3"/><rect x="797.96" y="1969.00" width="42.44" height="21.40" fill="#fcdecd"/><rect x="629.80" y="1990.00" width="42.44" height="21.40" fill="#d6604d"/><rect x="671.84" y="1990.00" width="42.44" height="21.40" fill="#e58268"/><rect x="713.88" y="1990.00" width="42.44" height="21.40" fill="#f8f4f1"/><rect x="755.92" y="1990.00" width="42.44" height="21.40" fill="#f8f4f1"/><rect x="797.96" y="1990.00" width="42.44" height="21.40" fill="#fac7ad"/><rect x="629.80" y="2011.00" width="42.44" height="21.40" fill="#f8f0eb"/><rect x="671.84" y="2011.00" width="42.44" height="21.40" fill="#f8f4f1"/><rect x="713.88" y="2011.00" width="42.44" height="21.40" fill="#eef2f5"/><rect x="755.92" y="2011.00" width="42.44" height="21.40" fill="#e9f0f4"/><rect x="797.96" y="2011.00" width="42.44" height="21.40" fill="#f8f0eb"/><rect x="629.80" y="2032.00" width="42.44" height="21.40" fill="#fae9df"/><rect x="671.84" y="2032.00" width="42.44" height="21.40" fill="#eef2f5"/><rect x="713.88" y="2032.00" width="42.44" height="21.40" fill="#d1e5f0"/><rect x="755.92" y="2032.00" width="42.44" height="21.40" fill="#dfecf3"/><rect x="797.96" y="2032.00" width="42.44" height="21.40" fill="#d1e5f0"/><rect x="629.80" y="1780.00" width="210.20" height="273.00" fill="none" stroke="#000" stroke-width="2.2"/><text x="734.9" y="1764.5" font-size="27.4" text-anchor="middle">PAULA</text><text x="649.3" y="2076.0" font-size="21.8" text-anchor="end" transform="rotate(-45 649.3 2076.0)">PAULA I</text><text x="691.4" y="2076.0" font-size="21.8" text-anchor="end" transform="rotate(-45 691.4 2076.0)">PAULA IIa</text><text x="733.4" y="2076.0" font-size="21.8" text-anchor="end" transform="rotate(-45 733.4 2076.0)">PAULA IIb</text><text x="775.4" y="2076.0" font-size="21.8" text-anchor="end" transform="rotate(-45 775.4 2076.0)">PAULA IIc</text><text x="817.5" y="2076.0" font-size="21.8" text-anchor="end" transform="rotate(-45 817.5 2076.0)">PAULA III</text><text x="103.0" y="1798.3" font-size="21.8" text-anchor="end">EGFR</text><text x="103.0" y="1819.3" font-size="21.8" text-anchor="end">Estrogen</text><text x="103.0" y="1840.3" font-size="21.8" text-anchor="end">Hypoxia</text><text x="103.0" y="1861.3" font-size="21.8" text-anchor="end">JAK-STAT</text><text x="103.0" y="1882.3" font-size="21.8" text-anchor="end">MAPK</text><text x="103.0" y="1903.3" font-size="21.8" text-anchor="end">NFkB</text><text x="103.0" y="1924.3" font-size="21.8" text-anchor="end">PI3K</text><text x="103.0" y="1945.3" font-size="21.8" text-anchor="end">TGFb</text><text x="103.0" y="1966.3" font-size="21.8" text-anchor="end">TNFa</text><text x="103.0" y="1987.3" font-size="21.8" text-anchor="end">Trail</text><text x="103.0" y="2008.3" font-size="21.8" text-anchor="end">VEGF</text><text x="103.0" y="2029.3" font-size="21.8" text-anchor="end">WNT</text><text x="103.0" y="2050.3" font-size="21.8" text-anchor="end">p53</text><defs><linearGradient id="cbj" x1="0" y1="0" x2="0" y2="1"><stop offset="0.000" stop-color="#67001f"/><stop offset="0.100" stop-color="#b2182b"/><stop offset="0.200" stop-color="#d6604d"/><stop offset="0.300" stop-color="#f4a582"/><stop offset="0.400" stop-color="#fddbc7"/><stop offset="0.500" stop-color="#f7f7f7"/><stop offset="0.600" stop-color="#d1e5f0"/><stop offset="0.700" stop-color="#92c5de"/><stop offset="0.800" stop-color="#4393c3"/><stop offset="0.900" stop-color="#2166ac"/><stop offset="1.000" stop-color="#053061"/></linearGradient></defs><rect x="867.3" y="1938.6" width="12.2" height="114.2" fill="url(#cbj)"/><line x1="879.50" y1="1938.60" x2="883.00" y2="1938.60" stroke="#000" stroke-width="1"/><text x="887.0" y="1945.6" font-size="19.5">2</text><line x1="879.50" y1="1995.70" x2="883.00" y2="1995.70" stroke="#000" stroke-width="1"/><text x="887.0" y="2002.7" font-size="19.5">0</text><line x1="879.50" y1="2052.80" x2="883.00" y2="2052.80" stroke="#000" stroke-width="1"/><text x="887.0" y="2059.8" font-size="19.5">−2</text><text x="937.0" y="1995.7" font-size="20" text-anchor="middle" transform="rotate(-90 937.0 1995.7)">Activity</text><text x="958.0" y="1995.7" font-size="20" text-anchor="middle" transform="rotate(-90 958.0 1995.7)">score</text><text x="1103.0" y="1762.0" font-size="40" font-weight="bold">k</text><line x1="1240.90" y1="1794.10" x2="1240.90" y2="2012.10" stroke="#8c8c8c" stroke-width="3" stroke-dasharray="11,4"/><line x1="1343.20" y1="1804.40" x2="1455.20" y2="1804.40" stroke="#000" stroke-width="3.2"/><rect x="1390.8" y="1796.2" width="16.3" height="16.3" fill="#fff" stroke="#000" stroke-width="3.3"/><line x1="1220.80" y1="1826.80" x2="1326.00" y2="1826.80" stroke="#000" stroke-width="3.2"/><rect x="1265.2" y="1818.7" width="16.3" height="16.3" fill="#fff" stroke="#000" stroke-width="3.3"/><line x1="1259.70" y1="1849.20" x2="1285.70" y2="1849.20" stroke="#000" stroke-width="3.2"/><rect x="1264.5" y="1841.0" width="16.3" height="16.3" fill="#fff" stroke="#000" stroke-width="3.3"/><line x1="1262.00" y1="1871.60" x2="1270.00" y2="1871.60" stroke="#000" stroke-width="3.2"/><rect x="1258.0" y="1863.5" width="16.3" height="16.3" fill="#fff" stroke="#000" stroke-width="3.3"/><line x1="1218.80" y1="1894.00" x2="1304.20" y2="1894.00" stroke="#000" stroke-width="3.2"/><rect x="1253.2" y="1885.8" width="16.3" height="16.3" fill="#fff" stroke="#000" stroke-width="3.3"/><line x1="1231.80" y1="1916.40" x2="1277.60" y2="1916.40" stroke="#000" stroke-width="3.2"/><rect x="1246.8" y="1908.2" width="16.3" height="16.3" fill="#fff" stroke="#000" stroke-width="3.3"/><line x1="1240.00" y1="1938.80" x2="1248.00" y2="1938.80" stroke="#000" stroke-width="3.2"/><rect x="1236.0" y="1930.7" width="16.3" height="16.3" fill="#fff" stroke="#000" stroke-width="3.3"/><line x1="1238.00" y1="1961.20" x2="1244.00" y2="1961.20" stroke="#000" stroke-width="3.2"/><rect x="1232.8" y="1953.0" width="16.3" height="16.3" fill="#fff" stroke="#000" stroke-width="3.3"/><line x1="1238.00" y1="1983.60" x2="1244.00" y2="1983.60" stroke="#000" stroke-width="3.2"/><rect x="1232.8" y="1975.5" width="16.3" height="16.3" fill="#fff" stroke="#000" stroke-width="3.3"/><line x1="1236.00" y1="2006.00" x2="1242.00" y2="2006.00" stroke="#000" stroke-width="3.2"/><rect x="1230.4" y="1997.8" width="16.3" height="16.3" fill="#fff" stroke="#000" stroke-width="3.3"/><line x1="1182.50" y1="2028.40" x2="1291.90" y2="2028.40" stroke="#000" stroke-width="3.2"/><rect x="1228.8" y="2020.2" width="16.3" height="16.3" fill="#fff" stroke="#000" stroke-width="3.3"/><rect x="1168.20" y="1780.10" width="302.30" height="272.00" fill="none" stroke="#000" stroke-width="2"/><line x1="1168.20" y1="1804.40" x2="1178.20" y2="1804.40" stroke="#000" stroke-width="2.6"/><line x1="1470.50" y1="1804.40" x2="1460.50" y2="1804.40" stroke="#000" stroke-width="2.6"/><line x1="1168.20" y1="1826.80" x2="1178.20" y2="1826.80" stroke="#000" stroke-width="2.6"/><line x1="1470.50" y1="1826.80" x2="1460.50" y2="1826.80" stroke="#000" stroke-width="2.6"/><line x1="1168.20" y1="1849.20" x2="1178.20" y2="1849.20" stroke="#000" stroke-width="2.6"/><line x1="1470.50" y1="1849.20" x2="1460.50" y2="1849.20" stroke="#000" stroke-width="2.6"/><line x1="1168.20" y1="1871.60" x2="1178.20" y2="1871.60" stroke="#000" stroke-width="2.6"/><line x1="1470.50" y1="1871.60" x2="1460.50" y2="1871.60" stroke="#000" stroke-width="2.6"/><line x1="1168.20" y1="1894.00" x2="1178.20" y2="1894.00" stroke="#000" stroke-width="2.6"/><line x1="1470.50" y1="1894.00" x2="1460.50" y2="1894.00" stroke="#000" stroke-width="2.6"/><line x1="1168.20" y1="1916.40" x2="1178.20" y2="1916.40" stroke="#000" stroke-width="2.6"/><line x1="1470.50" y1="1916.40" x2="1460.50" y2="1916.40" stroke="#000" stroke-width="2.6"/><line x1="1168.20" y1="1938.80" x2="1178.20" y2="1938.80" stroke="#000" stroke-width="2.6"/><line x1="1470.50" y1="1938.80" x2="1460.50" y2="1938.80" stroke="#000" stroke-width="2.6"/><line x1="1168.20" y1="1961.20" x2="1178.20" y2="1961.20" stroke="#000" stroke-width="2.6"/><line x1="1470.50" y1="1961.20" x2="1460.50" y2="1961.20" stroke="#000" stroke-width="2.6"/><line x1="1168.20" y1="1983.60" x2="1178.20" y2="1983.60" stroke="#000" stroke-width="2.6"/><line x1="1470.50" y1="1983.60" x2="1460.50" y2="1983.60" stroke="#000" stroke-width="2.6"/><line x1="1168.20" y1="2006.00" x2="1178.20" y2="2006.00" stroke="#000" stroke-width="2.6"/><line x1="1470.50" y1="2006.00" x2="1460.50" y2="2006.00" stroke="#000" stroke-width="2.6"/><line x1="1168.20" y1="2028.40" x2="1178.20" y2="2028.40" stroke="#000" stroke-width="2.6"/><line x1="1470.50" y1="2028.40" x2="1460.50" y2="2028.40" stroke="#000" stroke-width="2.6"/><line x1="1240.90" y1="2052.10" x2="1240.90" y2="2044.10" stroke="#000" stroke-width="2.6"/><line x1="1240.90" y1="1780.10" x2="1240.90" y2="1788.10" stroke="#000" stroke-width="2.6"/><line x1="1419.49" y1="2052.10" x2="1419.49" y2="2044.10" stroke="#000" stroke-width="2.6"/><line x1="1419.49" y1="1780.10" x2="1419.49" y2="1788.10" stroke="#000" stroke-width="2.6"/><line x1="1184.22" y1="2052.10" x2="1184.22" y2="2047.60" stroke="#000" stroke-width="2.6"/><line x1="1184.22" y1="1780.10" x2="1184.22" y2="1784.60" stroke="#000" stroke-width="2.6"/><line x1="1201.32" y1="2052.10" x2="1201.32" y2="2047.60" stroke="#000" stroke-width="2.6"/><line x1="1201.32" y1="1780.10" x2="1201.32" y2="1784.60" stroke="#000" stroke-width="2.6"/><line x1="1216.14" y1="2052.10" x2="1216.14" y2="2047.60" stroke="#000" stroke-width="2.6"/><line x1="1216.14" y1="1780.10" x2="1216.14" y2="1784.60" stroke="#000" stroke-width="2.6"/><line x1="1229.21" y1="2052.10" x2="1229.21" y2="2047.60" stroke="#000" stroke-width="2.6"/><line x1="1229.21" y1="1780.10" x2="1229.21" y2="1784.60" stroke="#000" stroke-width="2.6"/><line x1="1317.81" y1="2052.10" x2="1317.81" y2="2047.60" stroke="#000" stroke-width="2.6"/><line x1="1317.81" y1="1780.10" x2="1317.81" y2="1784.60" stroke="#000" stroke-width="2.6"/><line x1="1362.80" y1="2052.10" x2="1362.80" y2="2047.60" stroke="#000" stroke-width="2.6"/><line x1="1362.80" y1="1780.10" x2="1362.80" y2="1784.60" stroke="#000" stroke-width="2.6"/><line x1="1394.73" y1="2052.10" x2="1394.73" y2="2047.60" stroke="#000" stroke-width="2.6"/><line x1="1394.73" y1="1780.10" x2="1394.73" y2="1784.60" stroke="#000" stroke-width="2.6"/><line x1="1439.72" y1="2052.10" x2="1439.72" y2="2047.60" stroke="#000" stroke-width="2.6"/><line x1="1439.72" y1="1780.10" x2="1439.72" y2="1784.60" stroke="#000" stroke-width="2.6"/><line x1="1456.82" y1="2052.10" x2="1456.82" y2="2047.60" stroke="#000" stroke-width="2.6"/><line x1="1456.82" y1="1780.10" x2="1456.82" y2="1784.60" stroke="#000" stroke-width="2.6"/><text x="1158.3" y="1812.4" font-size="22.6" text-anchor="end">*PAULA+pTNM</text><text x="1158.3" y="1834.8" font-size="22.6" text-anchor="end">Specimen type</text><text x="1158.3" y="1857.2" font-size="22.6" text-anchor="end">*PAULA</text><text x="1158.3" y="1879.6" font-size="22.6" text-anchor="end">*TNM stage</text><text x="1158.3" y="1902.0" font-size="22.6" text-anchor="end">TMT set type</text><text x="1158.3" y="1924.4" font-size="22.6" text-anchor="end">Peptide concentration</text><text x="1158.3" y="1946.8" font-size="22.6" text-anchor="end">*Age</text><text x="1158.3" y="1969.2" font-size="22.6" text-anchor="end">Extraction order</text><text x="1158.3" y="1991.6" font-size="22.6" text-anchor="end">Initial order</text><text x="1158.3" y="2014.0" font-size="22.6" text-anchor="end">*Tumor purity</text><text x="1158.3" y="2036.4" font-size="22.6" text-anchor="end">Sex</text><text x="1240.9" y="2081.0" font-size="27.5" text-anchor="middle">1.0</text><text x="1419.5" y="2081.0" font-size="27.5" text-anchor="middle">5.0</text><text x="1319.3" y="2117.5" font-size="27.7" text-anchor="middle">Hazard ratio</text><text x="1560.0" y="1920.0" font-size="40" font-weight="bold">l</text><line x1="1713.20" y1="1944.20" x2="1713.20" y2="2051.80" stroke="#8c8c8c" stroke-width="3" stroke-dasharray="11,4"/><line x1="1734.80" y1="1957.70" x2="1966.70" y2="1957.70" stroke="#000" stroke-width="3.2"/><rect x="1833.8" y="1949.2" width="17" height="17" fill="#fff" stroke="#000" stroke-width="3.4"/><line x1="1776.50" y1="1982.80" x2="1959.40" y2="1982.80" stroke="#000" stroke-width="3.2"/><rect x="1854.6" y="1974.3" width="17" height="17" fill="#fff" stroke="#000" stroke-width="3.4"/><line x1="1728.60" y1="2008.80" x2="1759.20" y2="2008.80" stroke="#000" stroke-width="3.2"/><rect x="1735.0" y="2000.3" width="17" height="17" fill="#fff" stroke="#000" stroke-width="3.4"/><line x1="1694.80" y1="2034.20" x2="1716.50" y2="2034.20" stroke="#000" stroke-width="3.2"/><rect x="1697.1" y="2025.7" width="17" height="17" fill="#fff" stroke="#000" stroke-width="3.4"/><rect x="1679.10" y="1938.20" width="302.80" height="113.60" fill="none" stroke="#000" stroke-width="2"/><line x1="1679.10" y1="1957.70" x2="1689.10" y2="1957.70" stroke="#000" stroke-width="2.6"/><line x1="1981.90" y1="1957.70" x2="1971.90" y2="1957.70" stroke="#000" stroke-width="2.6"/><line x1="1679.10" y1="1982.80" x2="1689.10" y2="1982.80" stroke="#000" stroke-width="2.6"/><line x1="1981.90" y1="1982.80" x2="1971.90" y2="1982.80" stroke="#000" stroke-width="2.6"/><line x1="1679.10" y1="2008.80" x2="1689.10" y2="2008.80" stroke="#000" stroke-width="2.6"/><line x1="1981.90" y1="2008.80" x2="1971.90" y2="2008.80" stroke="#000" stroke-width="2.6"/><line x1="1679.10" y1="2034.20" x2="1689.10" y2="2034.20" stroke="#000" stroke-width="2.6"/><line x1="1981.90" y1="2034.20" x2="1971.90" y2="2034.20" stroke="#000" stroke-width="2.6"/><line x1="1713.20" y1="2051.80" x2="1713.20" y2="2043.80" stroke="#000" stroke-width="2.6"/><line x1="1713.20" y1="1938.20" x2="1713.20" y2="1946.20" stroke="#000" stroke-width="2.6"/><line x1="1847.10" y1="2051.80" x2="1847.10" y2="2043.80" stroke="#000" stroke-width="2.6"/><line x1="1847.10" y1="1938.20" x2="1847.10" y2="1946.20" stroke="#000" stroke-width="2.6"/><text x="1669.9" y="1965.7" font-size="22.6" text-anchor="end">*PAULA</text><text x="1669.9" y="1990.8" font-size="22.6" text-anchor="end">*TNM stage</text><text x="1669.9" y="2016.8" font-size="22.6" text-anchor="end">*Age</text><text x="1669.9" y="2042.2" font-size="22.6" text-anchor="end">Tumor purity</text><text x="1713.2" y="2081.6" font-size="27.5" text-anchor="middle">1.0</text><text x="1847.1" y="2081.6" font-size="27.5" text-anchor="middle">1.2</text><text x="1830.6" y="2118.0" font-size="27.7" text-anchor="middle">Hazard ratio</text><text x="51.0" y="535.6" font-size="40" font-weight="bold">d</text><text x="108.3" y="562.1" font-size="15.8">TMT set type</text><rect x="126.20" y="571.30" width="15.70" height="15.70" fill="#00295c"/><text x="151.1" y="584.5" font-size="15.8">high</text><rect x="126.20" y="593.70" width="15.70" height="15.70" fill="#0070c0"/><text x="151.1" y="606.9" font-size="15.8">low</text><text x="108.3" y="652.0" font-size="15.8">pTNM stage</text><rect x="126.20" y="661.50" width="15.70" height="15.70" fill="#5e4fa2"/><text x="151.1" y="674.7" font-size="15.8">pTa low</text><rect x="126.20" y="683.95" width="15.70" height="15.70" fill="#48a1b3"/><text x="151.1" y="697.2" font-size="15.8">pTa high</text><rect x="126.20" y="706.40" width="15.70" height="15.70" fill="#a1d9a4"/><text x="151.1" y="719.6" font-size="15.8">pTis</text><rect x="126.20" y="728.85" width="15.70" height="15.70" fill="#edf8a3"/><text x="151.1" y="742.1" font-size="15.8">pT1a/b/G1/G2</text><rect x="126.20" y="751.30" width="15.70" height="15.70" fill="#fee99a"/><text x="151.1" y="764.5" font-size="15.8">pT1c/G3</text><rect x="126.20" y="773.75" width="15.70" height="15.70" fill="#fca55d"/><text x="151.1" y="787.0" font-size="15.8">pT2</text><rect x="126.20" y="796.20" width="15.70" height="15.70" fill="#e2524a"/><text x="151.1" y="809.4" font-size="15.8">&gt;pT2</text><rect x="126.20" y="818.65" width="15.70" height="15.70" fill="#9e0142"/><text x="151.1" y="831.9" font-size="15.8">pN1</text><text x="108.3" y="878.0" font-size="15.8">Proteomic cluster</text><rect x="126.20" y="887.60" width="15.70" height="15.70" fill="#0070c0"/><text x="151.1" y="900.8" font-size="15.8">PAULA I</text><rect x="126.20" y="910.05" width="15.70" height="15.70" fill="#4daf5f"/><text x="151.1" y="923.3" font-size="15.8">PAULA IIa</text><rect x="126.20" y="932.50" width="15.70" height="15.70" fill="#85d05a"/><text x="151.1" y="945.7" font-size="15.8">PAULA IIb</text><rect x="126.20" y="954.95" width="15.70" height="15.70" fill="#bace55"/><text x="151.1" y="968.2" font-size="15.8">PAULA IIc</text><rect x="126.20" y="977.40" width="15.70" height="15.70" fill="#dd4435"/><text x="151.1" y="990.6" font-size="15.8">PAULA III</text><text x="108.3" y="1037.0" font-size="15.8">GO terms (ordinate)</text><rect x="126.20" y="1045.50" width="15.70" height="15.70" fill="#9e0142"/><text x="151.1" y="1058.7" font-size="15.8">DNA metab.</text><rect x="126.20" y="1068.10" width="15.70" height="15.70" fill="#d0384e"/><text x="151.1" y="1081.3" font-size="15.8">cell-cell signaling</text><rect x="126.20" y="1090.70" width="15.70" height="15.70" fill="#ee6445"/><text x="151.1" y="1103.9" font-size="15.8">RNA metab./transcrip...</text><rect x="126.20" y="1113.30" width="15.70" height="15.70" fill="#fb9c59"/><text x="151.1" y="1126.5" font-size="15.8">cell cycle/cell prol...</text><rect x="126.20" y="1135.90" width="15.70" height="15.70" fill="#fece7c"/><text x="151.1" y="1149.1" font-size="15.8">cell adhesion</text><rect x="126.20" y="1158.50" width="15.70" height="15.70" fill="#fff1a7"/><text x="151.1" y="1171.7" font-size="15.8">protein metab.</text><rect x="126.20" y="1181.10" width="15.70" height="15.70" fill="#f4faad"/><text x="151.1" y="1194.3" font-size="15.8">signal transduction</text><rect x="126.20" y="1203.70" width="15.70" height="15.70" fill="#d1ec9c"/><text x="151.1" y="1216.9" font-size="15.8">transport</text><rect x="126.20" y="1226.30" width="15.70" height="15.70" fill="#98d6a4"/><text x="151.1" y="1239.5" font-size="15.8">stress response</text><rect x="126.20" y="1248.90" width="15.70" height="15.70" fill="#5db7a9"/><text x="151.1" y="1262.1" font-size="15.8">developmental proces...</text><rect x="126.20" y="1271.50" width="15.70" height="15.70" fill="#3683bb"/><text x="151.1" y="1284.7" font-size="15.8">other metab. process...</text><rect x="126.20" y="1294.10" width="15.70" height="15.70" fill="#5e4fa2"/><text x="151.1" y="1307.3" font-size="15.8">cell organiz./biogen...</text><defs><linearGradient id="cbd" x1="0" y1="0" x2="0" y2="1"><stop offset="0.000" stop-color="#67001f"/><stop offset="0.100" stop-color="#b2182b"/><stop offset="0.200" stop-color="#d6604d"/><stop offset="0.300" stop-color="#f4a582"/><stop offset="0.400" stop-color="#fddbc7"/><stop offset="0.500" stop-color="#f7f7f7"/><stop offset="0.600" stop-color="#d1e5f0"/><stop offset="0.700" stop-color="#92c5de"/><stop offset="0.800" stop-color="#4393c3"/><stop offset="0.900" stop-color="#2166ac"/><stop offset="1.000" stop-color="#053061"/></linearGradient></defs><rect x="129.7" y="1440" width="9.6" height="248" fill="url(#cbd)"/><line x1="139.30" y1="1440.00" x2="142.00" y2="1440.00" stroke="#000" stroke-width="0.8"/><text x="145.6" y="1444.6" font-size="12.6">2.0</text><line x1="139.30" y1="1471.00" x2="142.00" y2="1471.00" stroke="#000" stroke-width="0.8"/><text x="145.6" y="1475.6" font-size="12.6">1.5</text><line x1="139.30" y1="1502.00" x2="142.00" y2="1502.00" stroke="#000" stroke-width="0.8"/><text x="145.6" y="1506.6" font-size="12.6">1.0</text><line x1="139.30" y1="1533.00" x2="142.00" y2="1533.00" stroke="#000" stroke-width="0.8"/><text x="145.6" y="1537.6" font-size="12.6">0.5</text><line x1="139.30" y1="1564.00" x2="142.00" y2="1564.00" stroke="#000" stroke-width="0.8"/><text x="145.6" y="1568.6" font-size="12.6">0.0</text><line x1="139.30" y1="1595.00" x2="142.00" y2="1595.00" stroke="#000" stroke-width="0.8"/><text x="145.6" y="1599.6" font-size="12.6">−0.5</text><line x1="139.30" y1="1626.00" x2="142.00" y2="1626.00" stroke="#000" stroke-width="0.8"/><text x="145.6" y="1630.6" font-size="12.6">−1.0</text><line x1="139.30" y1="1657.00" x2="142.00" y2="1657.00" stroke="#000" stroke-width="0.8"/><text x="145.6" y="1661.6" font-size="12.6">−1.5</text><line x1="139.30" y1="1688.00" x2="142.00" y2="1688.00" stroke="#000" stroke-width="0.8"/><text x="145.6" y="1692.6" font-size="12.6">−2.0</text><text x="0" y="0" font-size="15" text-anchor="middle" transform="translate(189 1564) rotate(-90)">log<tspan font-size="10.5" dy="3.5">2</tspan><tspan dy="-3.5"> z-score</tspan></text><text x="492.5" y="565.5" font-size="16" text-anchor="end">TMT set</text><text x="492.5" y="595.8" font-size="16" text-anchor="end">TMT set type</text><text x="492.5" y="626.5" font-size="16" text-anchor="end">pTNM stage</text><text x="492.5" y="656.5" font-size="16" text-anchor="end">Patient</text><text x="492.5" y="686.5" font-size="16" text-anchor="end">Proteomic cluster</text><rect x="498.00" y="548" width="16.53" height="24" fill="#fca45c"/><rect x="514.13" y="548" width="20.57" height="24" fill="#feeda1"/><rect x="534.30" y="548" width="20.57" height="24" fill="#fdb164"/><rect x="554.46" y="548" width="12.50" height="24" fill="#fed380"/><rect x="566.56" y="548" width="20.57" height="24" fill="#fff4ad"/><rect x="586.73" y="548" width="12.50" height="24" fill="#fbfeb9"/><rect x="598.83" y="548" width="8.47" height="24" fill="#fdb96a"/><rect x="606.89" y="548" width="8.47" height="24" fill="#fff3ab"/><rect x="614.96" y="548" width="8.47" height="24" fill="#dbf09a"/><rect x="623.02" y="548" width="8.47" height="24" fill="#f2faaa"/><rect x="631.09" y="548" width="12.50" height="24" fill="#feefa3"/><rect x="643.19" y="548" width="8.47" height="24" fill="#fff4ac"/><rect x="651.26" y="548" width="12.50" height="24" fill="#fca95e"/><rect x="663.36" y="548" width="8.47" height="24" fill="#fca55d"/><rect x="671.42" y="548" width="16.53" height="24" fill="#feefa3"/><rect x="687.55" y="548" width="12.50" height="24" fill="#fee08b"/><rect x="699.65" y="548" width="8.47" height="24" fill="#5eb9a9"/><rect x="707.72" y="548" width="12.50" height="24" fill="#fee08c"/><rect x="719.82" y="548" width="8.47" height="24" fill="#fecb79"/><rect x="727.88" y="548" width="4.43" height="24" fill="#469eb4"/><rect x="731.92" y="548" width="4.43" height="24" fill="#5a54a4"/><rect x="735.95" y="548" width="4.43" height="24" fill="#eff8a5"/><rect x="739.98" y="548" width="8.47" height="24" fill="#c3e79f"/><rect x="748.05" y="548" width="4.43" height="24" fill="#c2e79f"/><rect x="752.08" y="548" width="4.43" height="24" fill="#fba05b"/><rect x="756.12" y="548" width="8.47" height="24" fill="#d4ee9c"/><rect x="764.18" y="548" width="4.43" height="24" fill="#c7e89e"/><rect x="768.21" y="548" width="4.43" height="24" fill="#f4fbaf"/><rect x="772.25" y="548" width="12.50" height="24" fill="#3683bb"/><rect x="784.35" y="548" width="4.43" height="24" fill="#a70c44"/><rect x="788.38" y="548" width="12.50" height="24" fill="#eb6046"/><rect x="800.48" y="548" width="4.43" height="24" fill="#fdc473"/><rect x="804.51" y="548" width="4.43" height="24" fill="#f2faab"/><rect x="808.55" y="548" width="8.47" height="24" fill="#a0d9a4"/><rect x="816.61" y="548" width="4.43" height="24" fill="#50aaaf"/><rect x="820.64" y="548" width="4.43" height="24" fill="#fdc675"/><rect x="824.68" y="548" width="4.43" height="24" fill="#feffbd"/><rect x="828.71" y="548" width="8.47" height="24" fill="#aa0e45"/><rect x="836.78" y="548" width="4.43" height="24" fill="#cc344d"/><rect x="840.81" y="548" width="4.43" height="24" fill="#f88d52"/><rect x="844.84" y="548" width="12.50" height="24" fill="#fcaa5f"/><rect x="856.94" y="548" width="4.43" height="24" fill="#fed380"/><rect x="860.98" y="548" width="4.43" height="24" fill="#4fa9af"/><rect x="865.01" y="548" width="8.47" height="24" fill="#fee593"/><rect x="873.07" y="548" width="4.43" height="24" fill="#fafdb7"/><rect x="877.11" y="548" width="8.47" height="24" fill="#f7814c"/><rect x="885.17" y="548" width="8.47" height="24" fill="#fff0a6"/><rect x="893.24" y="548" width="4.43" height="24" fill="#6ac4a5"/><rect x="897.27" y="548" width="12.50" height="24" fill="#abdda4"/><rect x="909.37" y="548" width="8.47" height="24" fill="#96d5a4"/><rect x="917.44" y="548" width="4.43" height="24" fill="#f88a50"/><rect x="921.47" y="548" width="8.47" height="24" fill="#feeda1"/><rect x="929.54" y="548" width="4.43" height="24" fill="#a40843"/><rect x="933.57" y="548" width="8.47" height="24" fill="#fdab60"/><rect x="941.64" y="548" width="8.47" height="24" fill="#a40743"/><rect x="949.70" y="548" width="4.43" height="24" fill="#eff9a7"/><rect x="953.74" y="548" width="8.47" height="24" fill="#cf384e"/><rect x="961.80" y="548" width="8.47" height="24" fill="#f88d52"/><rect x="969.87" y="548" width="4.43" height="24" fill="#feec9f"/><rect x="973.90" y="548" width="12.50" height="24" fill="#f99455"/><rect x="986.00" y="548" width="8.47" height="24" fill="#fff1a8"/><rect x="994.07" y="548" width="12.50" height="24" fill="#d7ef9b"/><rect x="1006.17" y="548" width="12.50" height="24" fill="#f4fbad"/><rect x="1018.26" y="548" width="12.50" height="24" fill="#e75948"/><rect x="1030.36" y="548" width="4.43" height="24" fill="#4274b3"/><rect x="1034.40" y="548" width="8.47" height="24" fill="#fee695"/><rect x="1042.46" y="548" width="12.50" height="24" fill="#3f97b7"/><rect x="1054.56" y="548" width="8.47" height="24" fill="#e65848"/><rect x="1062.63" y="548" width="4.43" height="24" fill="#fff7b1"/><rect x="1066.66" y="548" width="8.47" height="24" fill="#f2faaa"/><rect x="1074.73" y="548" width="12.50" height="24" fill="#5fbaa8"/><rect x="1086.83" y="548" width="12.50" height="24" fill="#e04e4b"/><rect x="1098.93" y="548" width="4.43" height="24" fill="#b9e3a1"/><rect x="1102.96" y="548" width="4.43" height="24" fill="#60bba8"/><rect x="1106.99" y="548" width="4.43" height="24" fill="#aadda4"/><rect x="1111.02" y="548" width="4.43" height="24" fill="#fafdb8"/><rect x="1115.06" y="548" width="4.43" height="24" fill="#fafdb7"/><rect x="1119.09" y="548" width="4.43" height="24" fill="#feefa4"/><rect x="1123.12" y="548" width="4.43" height="24" fill="#fa9957"/><rect x="1127.16" y="548" width="4.43" height="24" fill="#fecf7c"/><rect x="1131.19" y="548" width="8.47" height="24" fill="#fdc373"/><rect x="1139.26" y="548" width="8.47" height="24" fill="#47a0b3"/><rect x="1147.32" y="548" width="4.43" height="24" fill="#87cfa5"/><rect x="1151.36" y="548" width="8.47" height="24" fill="#fee18c"/><rect x="1159.42" y="548" width="8.47" height="24" fill="#a30743"/><rect x="1167.49" y="548" width="4.43" height="24" fill="#fee28f"/><rect x="1171.52" y="548" width="12.50" height="24" fill="#fed985"/><rect x="1183.62" y="548" width="4.43" height="24" fill="#d6404f"/><rect x="1187.65" y="548" width="4.43" height="24" fill="#3e95b8"/><rect x="1191.69" y="548" width="4.43" height="24" fill="#fedb87"/><rect x="1195.72" y="548" width="8.47" height="24" fill="#55afad"/><rect x="1203.79" y="548" width="12.50" height="24" fill="#ecf8a2"/><rect x="1215.88" y="548" width="4.43" height="24" fill="#496aaf"/><rect x="1219.92" y="548" width="12.50" height="24" fill="#d0ec9c"/><rect x="1232.02" y="548" width="12.50" height="24" fill="#ceeb9d"/><rect x="1244.12" y="548" width="4.43" height="24" fill="#fffdbc"/><rect x="1248.15" y="548" width="4.43" height="24" fill="#fecc7a"/><rect x="1252.18" y="548" width="8.47" height="24" fill="#afdfa3"/><rect x="1260.25" y="548" width="8.47" height="24" fill="#eaf79e"/><rect x="1268.31" y="548" width="4.43" height="24" fill="#fff0a6"/><rect x="1272.35" y="548" width="4.43" height="24" fill="#fdb86a"/><rect x="1276.38" y="548" width="4.43" height="24" fill="#c1284a"/><rect x="1280.41" y="548" width="4.43" height="24" fill="#368cbb"/><rect x="1284.45" y="548" width="8.47" height="24" fill="#e7f59a"/><rect x="1292.51" y="548" width="12.50" height="24" fill="#f5fbb0"/><rect x="1304.61" y="548" width="4.43" height="24" fill="#f99455"/><rect x="1308.64" y="548" width="8.47" height="24" fill="#9f0342"/><rect x="1316.71" y="548" width="4.43" height="24" fill="#4c66ad"/><rect x="1320.74" y="548" width="8.47" height="24" fill="#edf8a3"/><rect x="1328.81" y="548" width="12.50" height="24" fill="#fff5af"/><rect x="1340.91" y="548" width="16.53" height="24" fill="#d6ef9b"/><rect x="1357.04" y="548" width="8.47" height="24" fill="#dbf09a"/><rect x="1365.11" y="548" width="16.53" height="24" fill="#e9f69c"/><rect x="1381.24" y="548" width="16.53" height="24" fill="#d1ec9c"/><rect x="1397.37" y="548" width="16.53" height="24" fill="#edf8a4"/><rect x="1413.50" y="548" width="8.47" height="24" fill="#e45549"/><rect x="1421.57" y="548" width="8.47" height="24" fill="#f67949"/><rect x="1429.64" y="548" width="4.43" height="24" fill="#b61c48"/><rect x="1433.67" y="548" width="8.47" height="24" fill="#b71d48"/><rect x="1441.74" y="548" width="4.43" height="24" fill="#3683bb"/><rect x="1445.77" y="548" width="4.43" height="24" fill="#fdbf6f"/><rect x="1449.80" y="548" width="8.47" height="24" fill="#fa9756"/><rect x="1457.87" y="548" width="8.47" height="24" fill="#3389bd"/><rect x="1465.93" y="548" width="8.47" height="24" fill="#5c52a3"/><rect x="498.00" y="578.5" width="4.43" height="23.5" fill="#0070c0"/><rect x="502.03" y="578.5" width="44.76" height="23.5" fill="#00295c"/><rect x="546.40" y="578.5" width="4.43" height="23.5" fill="#0070c0"/><rect x="550.43" y="578.5" width="12.50" height="23.5" fill="#00295c"/><rect x="562.53" y="578.5" width="4.43" height="23.5" fill="#0070c0"/><rect x="566.56" y="578.5" width="32.66" height="23.5" fill="#00295c"/><rect x="598.83" y="578.5" width="4.43" height="23.5" fill="#0070c0"/><rect x="602.86" y="578.5" width="36.70" height="23.5" fill="#00295c"/><rect x="639.16" y="578.5" width="4.43" height="23.5" fill="#0070c0"/><rect x="643.19" y="578.5" width="20.57" height="23.5" fill="#00295c"/><rect x="663.36" y="578.5" width="4.43" height="23.5" fill="#0070c0"/><rect x="667.39" y="578.5" width="20.57" height="23.5" fill="#00295c"/><rect x="687.55" y="578.5" width="4.43" height="23.5" fill="#0070c0"/><rect x="691.59" y="578.5" width="20.57" height="23.5" fill="#00295c"/><rect x="711.75" y="578.5" width="4.43" height="23.5" fill="#0070c0"/><rect x="715.79" y="578.5" width="44.76" height="23.5" fill="#00295c"/><rect x="760.15" y="578.5" width="4.43" height="23.5" fill="#0070c0"/><rect x="764.18" y="578.5" width="68.96" height="23.5" fill="#00295c"/><rect x="832.74" y="578.5" width="4.43" height="23.5" fill="#0070c0"/><rect x="836.78" y="578.5" width="4.43" height="23.5" fill="#00295c"/><rect x="840.81" y="578.5" width="4.43" height="23.5" fill="#0070c0"/><rect x="844.84" y="578.5" width="4.43" height="23.5" fill="#00295c"/><rect x="848.88" y="578.5" width="4.43" height="23.5" fill="#0070c0"/><rect x="852.91" y="578.5" width="8.47" height="23.5" fill="#00295c"/><rect x="860.98" y="578.5" width="8.47" height="23.5" fill="#0070c0"/><rect x="869.04" y="578.5" width="4.43" height="23.5" fill="#00295c"/><rect x="873.07" y="578.5" width="4.43" height="23.5" fill="#0070c0"/><rect x="877.11" y="578.5" width="8.47" height="23.5" fill="#00295c"/><rect x="885.17" y="578.5" width="4.43" height="23.5" fill="#0070c0"/><rect x="889.21" y="578.5" width="28.63" height="23.5" fill="#00295c"/><rect x="917.44" y="578.5" width="4.43" height="23.5" fill="#0070c0"/><rect x="921.47" y="578.5" width="4.43" height="23.5" fill="#00295c"/><rect x="925.50" y="578.5" width="8.47" height="23.5" fill="#0070c0"/><rect x="933.57" y="578.5" width="20.57" height="23.5" fill="#00295c"/><rect x="953.74" y="578.5" width="4.43" height="23.5" fill="#0070c0"/><rect x="957.77" y="578.5" width="20.57" height="23.5" fill="#00295c"/><rect x="977.93" y="578.5" width="4.43" height="23.5" fill="#0070c0"/><rect x="981.97" y="578.5" width="4.43" height="23.5" fill="#00295c"/><rect x="986.00" y="578.5" width="4.43" height="23.5" fill="#0070c0"/><rect x="990.03" y="578.5" width="12.50" height="23.5" fill="#00295c"/><rect x="1002.13" y="578.5" width="4.43" height="23.5" fill="#0070c0"/><rect x="1006.17" y="578.5" width="4.43" height="23.5" fill="#00295c"/><rect x="1010.20" y="578.5" width="12.50" height="23.5" fill="#0070c0"/><rect x="1022.30" y="578.5" width="12.50" height="23.5" fill="#00295c"/><rect x="1034.40" y="578.5" width="8.47" height="23.5" fill="#0070c0"/><rect x="1042.46" y="578.5" width="4.43" height="23.5" fill="#00295c"/><rect x="1046.50" y="578.5" width="8.47" height="23.5" fill="#0070c0"/><rect x="1054.56" y="578.5" width="16.53" height="23.5" fill="#00295c"/><rect x="1070.69" y="578.5" width="16.53" height="23.5" fill="#0070c0"/><rect x="1086.83" y="578.5" width="8.47" height="23.5" fill="#00295c"/><rect x="1094.89" y="578.5" width="4.43" height="23.5" fill="#0070c0"/><rect x="1098.93" y="578.5" width="12.50" height="23.5" fill="#00295c"/><rect x="1111.02" y="578.5" width="32.66" height="23.5" fill="#0070c0"/><rect x="1143.29" y="578.5" width="4.43" height="23.5" fill="#00295c"/><rect x="1147.32" y="578.5" width="12.50" height="23.5" fill="#0070c0"/><rect x="1159.42" y="578.5" width="16.53" height="23.5" fill="#00295c"/><rect x="1175.55" y="578.5" width="4.43" height="23.5" fill="#0070c0"/><rect x="1179.59" y="578.5" width="8.47" height="23.5" fill="#00295c"/><rect x="1187.65" y="578.5" width="8.47" height="23.5" fill="#0070c0"/><rect x="1195.72" y="578.5" width="4.43" height="23.5" fill="#00295c"/><rect x="1199.75" y="578.5" width="4.43" height="23.5" fill="#0070c0"/><rect x="1203.79" y="578.5" width="12.50" height="23.5" fill="#00295c"/><rect x="1215.88" y="578.5" width="4.43" height="23.5" fill="#0070c0"/><rect x="1219.92" y="578.5" width="8.47" height="23.5" fill="#00295c"/><rect x="1227.98" y="578.5" width="8.47" height="23.5" fill="#0070c0"/><rect x="1236.05" y="578.5" width="4.43" height="23.5" fill="#00295c"/><rect x="1240.08" y="578.5" width="4.43" height="23.5" fill="#0070c0"/><rect x="1244.12" y="578.5" width="12.50" height="23.5" fill="#00295c"/><rect x="1256.21" y="578.5" width="4.43" height="23.5" fill="#0070c0"/><rect x="1260.25" y="578.5" width="8.47" height="23.5" fill="#00295c"/><rect x="1268.31" y="578.5" width="4.43" height="23.5" fill="#0070c0"/><rect x="1272.35" y="578.5" width="12.50" height="23.5" fill="#00295c"/><rect x="1284.45" y="578.5" width="4.43" height="23.5" fill="#0070c0"/><rect x="1288.48" y="578.5" width="20.57" height="23.5" fill="#00295c"/><rect x="1308.64" y="578.5" width="4.43" height="23.5" fill="#0070c0"/><rect x="1312.68" y="578.5" width="97.19" height="23.5" fill="#00295c"/><rect x="1409.47" y="578.5" width="4.43" height="23.5" fill="#0070c0"/><rect x="1413.50" y="578.5" width="24.60" height="23.5" fill="#00295c"/><rect x="1437.70" y="578.5" width="4.43" height="23.5" fill="#0070c0"/><rect x="1441.74" y="578.5" width="32.66" height="23.5" fill="#00295c"/><rect x="498.00" y="609" width="8.47" height="24" fill="#48a1b3"/><rect x="506.07" y="609" width="4.43" height="24" fill="#5e4fa2"/><rect x="510.10" y="609" width="8.47" height="24" fill="#48a1b3"/><rect x="518.17" y="609" width="4.43" height="24" fill="#5e4fa2"/><rect x="522.20" y="609" width="4.43" height="24" fill="#edf8a3"/><rect x="526.23" y="609" width="8.47" height="24" fill="#48a1b3"/><rect x="534.30" y="609" width="4.43" height="24" fill="#fee99a"/><rect x="538.33" y="609" width="8.47" height="24" fill="#48a1b3"/><rect x="546.40" y="609" width="4.43" height="24" fill="#fca55d"/><rect x="550.43" y="609" width="16.53" height="24" fill="#48a1b3"/><rect x="566.56" y="609" width="4.43" height="24" fill="#edf8a3"/><rect x="570.60" y="609" width="8.47" height="24" fill="#48a1b3"/><rect x="578.66" y="609" width="8.47" height="24" fill="#5e4fa2"/><rect x="586.73" y="609" width="4.43" height="24" fill="#48a1b3"/><rect x="590.76" y="609" width="4.43" height="24" fill="#5e4fa2"/><rect x="594.79" y="609" width="8.47" height="24" fill="#edf8a3"/><rect x="602.86" y="609" width="8.47" height="24" fill="#5e4fa2"/><rect x="610.93" y="609" width="8.47" height="24" fill="#fca55d"/><rect x="618.99" y="609" width="4.43" height="24" fill="#5e4fa2"/><rect x="623.02" y="609" width="8.47" height="24" fill="#edf8a3"/><rect x="631.09" y="609" width="12.50" height="24" fill="#5e4fa2"/><rect x="643.19" y="609" width="4.43" height="24" fill="#48a1b3"/><rect x="647.22" y="609" width="4.43" height="24" fill="#5e4fa2"/><rect x="651.26" y="609" width="4.43" height="24" fill="#9e0142"/><rect x="655.29" y="609" width="8.47" height="24" fill="#fca55d"/><rect x="663.36" y="609" width="12.50" height="24" fill="#48a1b3"/><rect x="675.45" y="609" width="8.47" height="24" fill="#5e4fa2"/><rect x="683.52" y="609" width="8.47" height="24" fill="#9e0142"/><rect x="691.59" y="609" width="4.43" height="24" fill="#5e4fa2"/><rect x="695.62" y="609" width="8.47" height="24" fill="#48a1b3"/><rect x="703.69" y="609" width="12.50" height="24" fill="#5e4fa2"/><rect x="715.79" y="609" width="12.50" height="24" fill="#48a1b3"/><rect x="727.88" y="609" width="4.43" height="24" fill="#e2524a"/><rect x="731.92" y="609" width="4.43" height="24" fill="#5e4fa2"/><rect x="735.95" y="609" width="12.50" height="24" fill="#48a1b3"/><rect x="748.05" y="609" width="4.43" height="24" fill="#edf8a3"/><rect x="752.08" y="609" width="4.43" height="24" fill="#48a1b3"/><rect x="756.12" y="609" width="8.47" height="24" fill="#5e4fa2"/><rect x="764.18" y="609" width="4.43" height="24" fill="#48a1b3"/><rect x="768.21" y="609" width="8.47" height="24" fill="#5e4fa2"/><rect x="776.28" y="609" width="8.47" height="24" fill="#edf8a3"/><rect x="784.35" y="609" width="8.47" height="24" fill="#48a1b3"/><rect x="792.41" y="609" width="8.47" height="24" fill="#e2524a"/><rect x="800.48" y="609" width="4.43" height="24" fill="#edf8a3"/><rect x="804.51" y="609" width="4.43" height="24" fill="#e2524a"/><rect x="808.55" y="609" width="12.50" height="24" fill="#edf8a3"/><rect x="820.64" y="609" width="8.47" height="24" fill="#fca55d"/><rect x="828.71" y="609" width="8.47" height="24" fill="#a1d9a4"/><rect x="836.78" y="609" width="8.47" height="24" fill="#edf8a3"/><rect x="844.84" y="609" width="4.43" height="24" fill="#fca55d"/><rect x="848.88" y="609" width="4.43" height="24" fill="#edf8a3"/><rect x="852.91" y="609" width="8.47" height="24" fill="#48a1b3"/><rect x="860.98" y="609" width="8.47" height="24" fill="#fee99a"/><rect x="869.04" y="609" width="16.53" height="24" fill="#edf8a3"/><rect x="885.17" y="609" width="8.47" height="24" fill="#e2524a"/><rect x="893.24" y="609" width="4.43" height="24" fill="#48a1b3"/><rect x="897.27" y="609" width="8.47" height="24" fill="#5e4fa2"/><rect x="905.34" y="609" width="8.47" height="24" fill="#e2524a"/><rect x="913.40" y="609" width="4.43" height="24" fill="#48a1b3"/><rect x="917.44" y="609" width="4.43" height="24" fill="#fca55d"/><rect x="921.47" y="609" width="8.47" height="24" fill="#edf8a3"/><rect x="929.54" y="609" width="16.53" height="24" fill="#fee99a"/><rect x="945.67" y="609" width="8.47" height="24" fill="#edf8a3"/><rect x="953.74" y="609" width="4.43" height="24" fill="#48a1b3"/><rect x="957.77" y="609" width="4.43" height="24" fill="#fca55d"/><rect x="961.80" y="609" width="4.43" height="24" fill="#edf8a3"/><rect x="965.83" y="609" width="4.43" height="24" fill="#9e0142"/><rect x="969.87" y="609" width="12.50" height="24" fill="#48a1b3"/><rect x="981.97" y="609" width="8.47" height="24" fill="#5e4fa2"/><rect x="990.03" y="609" width="4.43" height="24" fill="#edf8a3"/><rect x="994.07" y="609" width="4.43" height="24" fill="#fca55d"/><rect x="998.10" y="609" width="4.43" height="24" fill="#48a1b3"/><rect x="1002.13" y="609" width="4.43" height="24" fill="#fee99a"/><rect x="1006.17" y="609" width="4.43" height="24" fill="#fca55d"/><rect x="1010.20" y="609" width="8.47" height="24" fill="#48a1b3"/><rect x="1018.26" y="609" width="4.43" height="24" fill="#fee99a"/><rect x="1022.30" y="609" width="8.47" height="24" fill="#edf8a3"/><rect x="1030.36" y="609" width="4.43" height="24" fill="#fca55d"/><rect x="1034.40" y="609" width="4.43" height="24" fill="#9e0142"/><rect x="1038.43" y="609" width="8.47" height="24" fill="#a1d9a4"/><rect x="1046.50" y="609" width="4.43" height="24" fill="#48a1b3"/><rect x="1050.53" y="609" width="8.47" height="24" fill="#fca55d"/><rect x="1058.60" y="609" width="4.43" height="24" fill="#a1d9a4"/><rect x="1062.63" y="609" width="4.43" height="24" fill="#fca55d"/><rect x="1066.66" y="609" width="4.43" height="24" fill="#48a1b3"/><rect x="1070.69" y="609" width="8.47" height="24" fill="#fee99a"/><rect x="1078.76" y="609" width="8.47" height="24" fill="#48a1b3"/><rect x="1086.83" y="609" width="8.47" height="24" fill="#fee99a"/><rect x="1094.89" y="609" width="4.43" height="24" fill="#fca55d"/><rect x="1098.93" y="609" width="4.43" height="24" fill="#48a1b3"/><rect x="1102.96" y="609" width="4.43" height="24" fill="#a1d9a4"/><rect x="1106.99" y="609" width="4.43" height="24" fill="#fee99a"/><rect x="1111.02" y="609" width="4.43" height="24" fill="#a1d9a4"/><rect x="1115.06" y="609" width="8.47" height="24" fill="#fca55d"/><rect x="1123.12" y="609" width="8.47" height="24" fill="#a1d9a4"/><rect x="1131.19" y="609" width="8.47" height="24" fill="#fee99a"/><rect x="1139.26" y="609" width="4.43" height="24" fill="#a1d9a4"/><rect x="1143.29" y="609" width="4.43" height="24" fill="#fee99a"/><rect x="1147.32" y="609" width="8.47" height="24" fill="#fca55d"/><rect x="1155.39" y="609" width="4.43" height="24" fill="#a1d9a4"/><rect x="1159.42" y="609" width="8.47" height="24" fill="#fca55d"/><rect x="1167.49" y="609" width="16.53" height="24" fill="#edf8a3"/><rect x="1183.62" y="609" width="8.47" height="24" fill="#a1d9a4"/><rect x="1191.69" y="609" width="8.47" height="24" fill="#9e0142"/><rect x="1199.75" y="609" width="8.47" height="24" fill="#48a1b3"/><rect x="1207.82" y="609" width="16.53" height="24" fill="#edf8a3"/><rect x="1223.95" y="609" width="8.47" height="24" fill="#a1d9a4"/><rect x="1232.02" y="609" width="8.47" height="24" fill="#edf8a3"/><rect x="1240.08" y="609" width="4.43" height="24" fill="#fee99a"/><rect x="1244.12" y="609" width="8.47" height="24" fill="#edf8a3"/><rect x="1252.18" y="609" width="4.43" height="24" fill="#fee99a"/><rect x="1256.21" y="609" width="8.47" height="24" fill="#a1d9a4"/><rect x="1264.28" y="609" width="4.43" height="24" fill="#fca55d"/><rect x="1268.31" y="609" width="4.43" height="24" fill="#edf8a3"/><rect x="1272.35" y="609" width="8.47" height="24" fill="#48a1b3"/><rect x="1280.41" y="609" width="4.43" height="24" fill="#fee99a"/><rect x="1284.45" y="609" width="12.50" height="24" fill="#fca55d"/><rect x="1296.55" y="609" width="8.47" height="24" fill="#e2524a"/><rect x="1304.61" y="609" width="4.43" height="24" fill="#fee99a"/><rect x="1308.64" y="609" width="4.43" height="24" fill="#e2524a"/><rect x="1312.68" y="609" width="4.43" height="24" fill="#fca55d"/><rect x="1316.71" y="609" width="8.47" height="24" fill="#edf8a3"/><rect x="1324.78" y="609" width="12.50" height="24" fill="#fca55d"/><rect x="1336.88" y="609" width="4.43" height="24" fill="#9e0142"/><rect x="1340.91" y="609" width="4.43" height="24" fill="#e2524a"/><rect x="1344.94" y="609" width="8.47" height="24" fill="#48a1b3"/><rect x="1353.01" y="609" width="4.43" height="24" fill="#fca55d"/><rect x="1357.04" y="609" width="4.43" height="24" fill="#e2524a"/><rect x="1361.07" y="609" width="8.47" height="24" fill="#fca55d"/><rect x="1369.14" y="609" width="12.50" height="24" fill="#e2524a"/><rect x="1381.24" y="609" width="4.43" height="24" fill="#fca55d"/><rect x="1385.27" y="609" width="4.43" height="24" fill="#edf8a3"/><rect x="1389.31" y="609" width="8.47" height="24" fill="#e2524a"/><rect x="1397.37" y="609" width="4.43" height="24" fill="#5e4fa2"/><rect x="1401.40" y="609" width="4.43" height="24" fill="#fee99a"/><rect x="1405.44" y="609" width="4.43" height="24" fill="#e2524a"/><rect x="1409.47" y="609" width="4.43" height="24" fill="#a1d9a4"/><rect x="1413.50" y="609" width="8.47" height="24" fill="#48a1b3"/><rect x="1421.57" y="609" width="4.43" height="24" fill="#a1d9a4"/><rect x="1425.60" y="609" width="8.47" height="24" fill="#fca55d"/><rect x="1433.67" y="609" width="4.43" height="24" fill="#e2524a"/><rect x="1437.70" y="609" width="4.43" height="24" fill="#48a1b3"/><rect x="1441.74" y="609" width="24.60" height="24" fill="#e2524a"/><rect x="1465.93" y="609" width="4.43" height="24" fill="#48a1b3"/><rect x="1469.97" y="609" width="4.43" height="24" fill="#fca55d"/><rect x="498.00" y="639" width="4.43" height="24" fill="#5d50a3"/><rect x="502.03" y="639" width="4.43" height="24" fill="#5b53a4"/><rect x="506.07" y="639" width="4.43" height="24" fill="#5955a5"/><rect x="510.10" y="639" width="4.43" height="24" fill="#5857a6"/><rect x="514.13" y="639" width="4.43" height="24" fill="#565aa7"/><rect x="518.17" y="639" width="4.43" height="24" fill="#545ca8"/><rect x="522.20" y="639" width="4.43" height="24" fill="#525fa9"/><rect x="526.23" y="639" width="4.43" height="24" fill="#5061ab"/><rect x="530.26" y="639" width="4.43" height="24" fill="#4e63ac"/><rect x="534.30" y="639" width="4.43" height="24" fill="#4c66ad"/><rect x="538.33" y="639" width="4.43" height="24" fill="#4b68ae"/><rect x="542.36" y="639" width="4.43" height="24" fill="#496baf"/><rect x="546.40" y="639" width="4.43" height="24" fill="#476db0"/><rect x="550.43" y="639" width="4.43" height="24" fill="#456fb1"/><rect x="554.46" y="639" width="4.43" height="24" fill="#4372b2"/><rect x="558.50" y="639" width="4.43" height="24" fill="#4174b4"/><rect x="562.53" y="639" width="4.43" height="24" fill="#3f77b5"/><rect x="566.56" y="639" width="4.43" height="24" fill="#3e79b6"/><rect x="570.60" y="639" width="4.43" height="24" fill="#3c7bb7"/><rect x="574.63" y="639" width="4.43" height="24" fill="#3a7eb8"/><rect x="578.66" y="639" width="4.43" height="24" fill="#3880b9"/><rect x="582.69" y="639" width="4.43" height="24" fill="#bfe5a0"/><rect x="586.73" y="639" width="4.43" height="24" fill="#3485bc"/><rect x="590.76" y="639" width="4.43" height="24" fill="#3387bd"/><rect x="594.79" y="639" width="4.43" height="24" fill="#348abc"/><rect x="598.83" y="639" width="4.43" height="24" fill="#368cbb"/><rect x="602.86" y="639" width="4.43" height="24" fill="#388fba"/><rect x="606.89" y="639" width="4.43" height="24" fill="#3a91b9"/><rect x="610.93" y="639" width="4.43" height="24" fill="#3c93b8"/><rect x="614.96" y="639" width="4.43" height="24" fill="#3e96b7"/><rect x="618.99" y="639" width="4.43" height="24" fill="#4198b6"/><rect x="623.02" y="639" width="4.43" height="24" fill="#439bb5"/><rect x="627.06" y="639" width="4.43" height="24" fill="#459db4"/><rect x="631.09" y="639" width="4.43" height="24" fill="#47a0b3"/><rect x="635.12" y="639" width="4.43" height="24" fill="#49a2b2"/><rect x="639.16" y="639" width="4.43" height="24" fill="#4ca5b1"/><rect x="643.19" y="639" width="4.43" height="24" fill="#4ea7b0"/><rect x="647.22" y="639" width="4.43" height="24" fill="#50a9af"/><rect x="651.26" y="639" width="4.43" height="24" fill="#52acae"/><rect x="655.29" y="639" width="4.43" height="24" fill="#54aead"/><rect x="659.32" y="639" width="4.43" height="24" fill="#56b1ac"/><rect x="663.36" y="639" width="4.43" height="24" fill="#59b3ab"/><rect x="667.39" y="639" width="4.43" height="24" fill="#5bb6aa"/><rect x="671.42" y="639" width="4.43" height="24" fill="#5db8a9"/><rect x="675.45" y="639" width="4.43" height="24" fill="#5fbaa8"/><rect x="679.49" y="639" width="4.43" height="24" fill="#61bda7"/><rect x="683.52" y="639" width="4.43" height="24" fill="#64bfa6"/><rect x="687.55" y="639" width="4.43" height="24" fill="#66c2a5"/><rect x="691.59" y="639" width="4.43" height="24" fill="#6ac3a5"/><rect x="695.62" y="639" width="4.43" height="24" fill="#6ec5a5"/><rect x="699.65" y="639" width="4.43" height="24" fill="#72c7a5"/><rect x="703.69" y="639" width="4.43" height="24" fill="#75c8a5"/><rect x="707.72" y="639" width="4.43" height="24" fill="#79caa5"/><rect x="711.75" y="639" width="4.43" height="24" fill="#7dcba5"/><rect x="715.79" y="639" width="4.43" height="24" fill="#81cda5"/><rect x="719.82" y="639" width="4.43" height="24" fill="#85cea5"/><rect x="723.85" y="639" width="4.43" height="24" fill="#89d0a4"/><rect x="727.88" y="639" width="4.43" height="24" fill="#8dd1a4"/><rect x="731.92" y="639" width="4.43" height="24" fill="#91d3a4"/><rect x="735.95" y="639" width="4.43" height="24" fill="#95d5a4"/><rect x="739.98" y="639" width="4.43" height="24" fill="#99d6a4"/><rect x="744.02" y="639" width="4.43" height="24" fill="#9dd8a4"/><rect x="748.05" y="639" width="4.43" height="24" fill="#a1d9a4"/><rect x="752.08" y="639" width="4.43" height="24" fill="#a5dba4"/><rect x="756.12" y="639" width="4.43" height="24" fill="#a9dca4"/><rect x="760.15" y="639" width="4.43" height="24" fill="#addea4"/><rect x="764.18" y="639" width="4.43" height="24" fill="#b0dfa3"/><rect x="768.21" y="639" width="4.43" height="24" fill="#b4e1a2"/><rect x="772.25" y="639" width="4.43" height="24" fill="#b7e2a2"/><rect x="776.28" y="639" width="4.43" height="24" fill="#bae3a1"/><rect x="780.31" y="639" width="4.43" height="24" fill="#bee5a0"/><rect x="784.35" y="639" width="4.43" height="24" fill="#c1e69f"/><rect x="788.38" y="639" width="4.43" height="24" fill="#c5e79f"/><rect x="792.41" y="639" width="4.43" height="24" fill="#c8e99e"/><rect x="796.45" y="639" width="4.43" height="24" fill="#cbea9d"/><rect x="800.48" y="639" width="4.43" height="24" fill="#cfec9d"/><rect x="804.51" y="639" width="4.43" height="24" fill="#d2ed9c"/><rect x="808.55" y="639" width="4.43" height="24" fill="#d6ee9b"/><rect x="812.58" y="639" width="4.43" height="24" fill="#d9f09b"/><rect x="816.61" y="639" width="4.43" height="24" fill="#dcf19a"/><rect x="820.64" y="639" width="4.43" height="24" fill="#e0f299"/><rect x="824.68" y="639" width="4.43" height="24" fill="#e3f499"/><rect x="828.71" y="639" width="4.43" height="24" fill="#e6f598"/><rect x="832.74" y="639" width="4.43" height="24" fill="#e7f599"/><rect x="836.78" y="639" width="4.43" height="24" fill="#e7f69a"/><rect x="840.81" y="639" width="4.43" height="24" fill="#e8f69b"/><rect x="844.84" y="639" width="4.43" height="24" fill="#e8f69c"/><rect x="848.88" y="639" width="4.43" height="24" fill="#e9f69d"/><rect x="852.91" y="639" width="4.43" height="24" fill="#eaf69e"/><rect x="856.94" y="639" width="4.43" height="24" fill="#eaf79f"/><rect x="860.98" y="639" width="4.43" height="24" fill="#ebf7a0"/><rect x="865.01" y="639" width="4.43" height="24" fill="#55afad"/><rect x="869.04" y="639" width="4.43" height="24" fill="#ecf7a1"/><rect x="873.07" y="639" width="4.43" height="24" fill="#edf8a2"/><rect x="877.11" y="639" width="4.43" height="24" fill="#edf8a3"/><rect x="881.14" y="639" width="4.43" height="24" fill="#eef8a4"/><rect x="885.17" y="639" width="4.43" height="24" fill="#eef8a5"/><rect x="889.21" y="639" width="4.43" height="24" fill="#eff9a6"/><rect x="893.24" y="639" width="4.43" height="24" fill="#f0f9a7"/><rect x="897.27" y="639" width="4.43" height="24" fill="#f0f9a8"/><rect x="901.31" y="639" width="4.43" height="24" fill="#f1f9a9"/><rect x="905.34" y="639" width="4.43" height="24" fill="#f1faaa"/><rect x="909.37" y="639" width="4.43" height="24" fill="#f2faab"/><rect x="913.40" y="639" width="4.43" height="24" fill="#f3faac"/><rect x="917.44" y="639" width="4.43" height="24" fill="#b6e2a2"/><rect x="921.47" y="639" width="4.43" height="24" fill="#f4faad"/><rect x="925.50" y="639" width="4.43" height="24" fill="#f4fbae"/><rect x="929.54" y="639" width="4.43" height="24" fill="#f5fbaf"/><rect x="933.57" y="639" width="4.43" height="24" fill="#f6fbb0"/><rect x="937.60" y="639" width="4.43" height="24" fill="#f6fbb1"/><rect x="941.64" y="639" width="4.43" height="24" fill="#f7fcb2"/><rect x="945.67" y="639" width="4.43" height="24" fill="#f7fcb3"/><rect x="949.70" y="639" width="4.43" height="24" fill="#f8fcb4"/><rect x="953.74" y="639" width="4.43" height="24" fill="#f8fcb5"/><rect x="957.77" y="639" width="4.43" height="24" fill="#f9fdb6"/><rect x="961.80" y="639" width="4.43" height="24" fill="#fafdb7"/><rect x="965.83" y="639" width="4.43" height="24" fill="#fafdb8"/><rect x="969.87" y="639" width="4.43" height="24" fill="#fbfdb9"/><rect x="973.90" y="639" width="4.43" height="24" fill="#fbfeb9"/><rect x="977.93" y="639" width="4.43" height="24" fill="#fcfeba"/><rect x="981.97" y="639" width="4.43" height="24" fill="#fdfebb"/><rect x="986.00" y="639" width="4.43" height="24" fill="#fdfebc"/><rect x="990.03" y="639" width="4.43" height="24" fill="#feffbd"/><rect x="994.07" y="639" width="4.43" height="24" fill="#c4e79f"/><rect x="998.10" y="639" width="4.43" height="24" fill="#f8fcb4"/><rect x="1002.13" y="639" width="4.43" height="24" fill="#fffebd"/><rect x="1006.17" y="639" width="4.43" height="24" fill="#fffcbb"/><rect x="1010.20" y="639" width="4.43" height="24" fill="#fffbb9"/><rect x="1014.23" y="639" width="4.43" height="24" fill="#fffab7"/><rect x="1018.26" y="639" width="4.43" height="24" fill="#fff9b4"/><rect x="1022.30" y="639" width="4.43" height="24" fill="#fff7b2"/><rect x="1026.33" y="639" width="4.43" height="24" fill="#fff6b0"/><rect x="1030.36" y="639" width="4.43" height="24" fill="#fff5ae"/><rect x="1034.40" y="639" width="4.43" height="24" fill="#e4f498"/><rect x="1038.43" y="639" width="4.43" height="24" fill="#b5e1a2"/><rect x="1042.46" y="639" width="4.43" height="24" fill="#fff1a8"/><rect x="1046.50" y="639" width="4.43" height="24" fill="#fff0a6"/><rect x="1050.53" y="639" width="4.43" height="24" fill="#feefa4"/><rect x="1054.56" y="639" width="4.43" height="24" fill="#feeda2"/><rect x="1058.60" y="639" width="4.43" height="24" fill="#feec9f"/><rect x="1062.63" y="639" width="4.43" height="24" fill="#feeb9d"/><rect x="1066.66" y="639" width="4.43" height="24" fill="#feea9b"/><rect x="1070.69" y="639" width="4.43" height="24" fill="#fee796"/><rect x="1074.73" y="639" width="4.43" height="24" fill="#fee797"/><rect x="1078.76" y="639" width="4.43" height="24" fill="#fee695"/><rect x="1082.79" y="639" width="4.43" height="24" fill="#fee593"/><rect x="1086.83" y="639" width="4.43" height="24" fill="#fee391"/><rect x="1090.86" y="639" width="4.43" height="24" fill="#fb9f5a"/><rect x="1094.89" y="639" width="4.43" height="24" fill="#fee18d"/><rect x="1098.93" y="639" width="4.43" height="24" fill="#fee08b"/><rect x="1102.96" y="639" width="4.43" height="24" fill="#fede89"/><rect x="1106.99" y="639" width="4.43" height="24" fill="#fedb87"/><rect x="1111.02" y="639" width="4.43" height="24" fill="#fed986"/><rect x="1115.06" y="639" width="4.43" height="24" fill="#fed784"/><rect x="1119.09" y="639" width="4.43" height="24" fill="#fed582"/><rect x="1123.12" y="639" width="4.43" height="24" fill="#fed380"/><rect x="1127.16" y="639" width="4.43" height="24" fill="#fed17f"/><rect x="1131.19" y="639" width="4.43" height="24" fill="#fecf7d"/><rect x="1135.22" y="639" width="4.43" height="24" fill="#fecd7b"/><rect x="1139.26" y="639" width="4.43" height="24" fill="#fed27f"/><rect x="1143.29" y="639" width="4.43" height="24" fill="#3585bb"/><rect x="1147.32" y="639" width="4.43" height="24" fill="#fec776"/><rect x="1151.36" y="639" width="4.43" height="24" fill="#fdc574"/><rect x="1155.39" y="639" width="4.43" height="24" fill="#fdc372"/><rect x="1159.42" y="639" width="4.43" height="24" fill="#fdc171"/><rect x="1163.45" y="639" width="4.43" height="24" fill="#fdbe6f"/><rect x="1167.49" y="639" width="4.43" height="24" fill="#fdbc6d"/><rect x="1171.52" y="639" width="4.43" height="24" fill="#fdba6b"/><rect x="1175.55" y="639" width="4.43" height="24" fill="#c3294b"/><rect x="1179.59" y="639" width="4.43" height="24" fill="#fdb567"/><rect x="1183.62" y="639" width="4.43" height="24" fill="#fdb365"/><rect x="1187.65" y="639" width="4.43" height="24" fill="#fdb163"/><rect x="1191.69" y="639" width="4.43" height="24" fill="#fdae61"/><rect x="1195.72" y="639" width="4.43" height="24" fill="#fdab60"/><rect x="1199.75" y="639" width="4.43" height="24" fill="#fca85e"/><rect x="1203.79" y="639" width="4.43" height="24" fill="#fca55d"/><rect x="1207.82" y="639" width="4.43" height="24" fill="#fba25c"/><rect x="1211.85" y="639" width="4.43" height="24" fill="#c3e79f"/><rect x="1215.88" y="639" width="4.43" height="24" fill="#fb9c59"/><rect x="1219.92" y="639" width="4.43" height="24" fill="#fa9a58"/><rect x="1223.95" y="639" width="4.43" height="24" fill="#fa9756"/><rect x="1227.98" y="639" width="4.43" height="24" fill="#f99455"/><rect x="1232.02" y="639" width="4.43" height="24" fill="#f99153"/><rect x="1236.05" y="639" width="4.43" height="24" fill="#f98e52"/><rect x="1240.08" y="639" width="4.43" height="24" fill="#f88b51"/><rect x="1244.12" y="639" width="4.43" height="24" fill="#f8884f"/><rect x="1248.15" y="639" width="4.43" height="24" fill="#f7854e"/><rect x="1252.18" y="639" width="4.43" height="24" fill="#f7824d"/><rect x="1256.21" y="639" width="4.43" height="24" fill="#f67f4b"/><rect x="1260.25" y="639" width="4.43" height="24" fill="#f67c4a"/><rect x="1264.28" y="639" width="4.43" height="24" fill="#b51b48"/><rect x="1268.31" y="639" width="4.43" height="24" fill="#f57647"/><rect x="1272.35" y="639" width="4.43" height="24" fill="#f57346"/><rect x="1276.38" y="639" width="4.43" height="24" fill="#f47044"/><rect x="1280.41" y="639" width="4.43" height="24" fill="#f46d43"/><rect x="1284.45" y="639" width="4.43" height="24" fill="#abdda4"/><rect x="1288.48" y="639" width="4.43" height="24" fill="#f16944"/><rect x="1292.51" y="639" width="4.43" height="24" fill="#f06745"/><rect x="1296.55" y="639" width="4.43" height="24" fill="#d7ef9b"/><rect x="1300.58" y="639" width="4.43" height="24" fill="#bde4a0"/><rect x="1304.61" y="639" width="4.43" height="24" fill="#ec6046"/><rect x="1308.64" y="639" width="4.43" height="24" fill="#ea5e47"/><rect x="1312.68" y="639" width="4.43" height="24" fill="#e95c47"/><rect x="1316.71" y="639" width="4.43" height="24" fill="#e85a48"/><rect x="1320.74" y="639" width="4.43" height="24" fill="#e75948"/><rect x="1324.78" y="639" width="4.43" height="24" fill="#e55749"/><rect x="1328.81" y="639" width="4.43" height="24" fill="#e45549"/><rect x="1332.84" y="639" width="4.43" height="24" fill="#e3534a"/><rect x="1336.88" y="639" width="4.43" height="24" fill="#e1514a"/><rect x="1340.91" y="639" width="4.43" height="24" fill="#e04f4b"/><rect x="1344.94" y="639" width="4.43" height="24" fill="#df4d4b"/><rect x="1348.98" y="639" width="4.43" height="24" fill="#dd4b4c"/><rect x="1353.01" y="639" width="4.43" height="24" fill="#fed380"/><rect x="1357.04" y="639" width="4.43" height="24" fill="#db474d"/><rect x="1361.07" y="639" width="4.43" height="24" fill="#da454d"/><rect x="1365.11" y="639" width="4.43" height="24" fill="#f26a44"/><rect x="1369.14" y="639" width="4.43" height="24" fill="#ab0f45"/><rect x="1373.17" y="639" width="4.43" height="24" fill="#d63f4f"/><rect x="1377.21" y="639" width="4.43" height="24" fill="#d43d4f"/><rect x="1381.24" y="639" width="4.43" height="24" fill="#d23a4e"/><rect x="1385.27" y="639" width="4.43" height="24" fill="#cf384e"/><rect x="1389.31" y="639" width="4.43" height="24" fill="#cd354d"/><rect x="1393.34" y="639" width="4.43" height="24" fill="#cb334d"/><rect x="1397.37" y="639" width="4.43" height="24" fill="#c8304c"/><rect x="1401.40" y="639" width="4.43" height="24" fill="#c62e4b"/><rect x="1405.44" y="639" width="4.43" height="24" fill="#c42b4b"/><rect x="1409.47" y="639" width="4.43" height="24" fill="#c2284a"/><rect x="1413.50" y="639" width="4.43" height="24" fill="#bf264a"/><rect x="1417.54" y="639" width="4.43" height="24" fill="#bd2349"/><rect x="1421.57" y="639" width="4.43" height="24" fill="#bb2149"/><rect x="1425.60" y="639" width="4.43" height="24" fill="#b81e48"/><rect x="1429.64" y="639" width="4.43" height="24" fill="#b61c48"/><rect x="1433.67" y="639" width="4.43" height="24" fill="#b41947"/><rect x="1437.70" y="639" width="4.43" height="24" fill="#b21747"/><rect x="1441.74" y="639" width="4.43" height="24" fill="#af1446"/><rect x="1445.77" y="639" width="4.43" height="24" fill="#ad1246"/><rect x="1449.80" y="639" width="4.43" height="24" fill="#ab0f45"/><rect x="1453.83" y="639" width="4.43" height="24" fill="#a80c44"/><rect x="1457.87" y="639" width="4.43" height="24" fill="#a60a44"/><rect x="1461.90" y="639" width="4.43" height="24" fill="#a40743"/><rect x="1465.93" y="639" width="4.43" height="24" fill="#a10543"/><rect x="1469.97" y="639" width="4.43" height="24" fill="#9f0242"/><rect x="498.00" y="669.00" width="326.98" height="24.00" fill="#0070c0"/><rect x="824.68" y="669.00" width="153.56" height="24.00" fill="#4daf5f"/><rect x="977.93" y="669.00" width="105.16" height="24.00" fill="#85d05a"/><rect x="1082.79" y="669.00" width="177.75" height="24.00" fill="#bace55"/><rect x="1260.25" y="669.00" width="214.05" height="24.00" fill="#dd4435"/><rect x="316.10" y="698.50" width="10" height="989.20" fill="#d3d3d3"/><rect x="316.10" y="1319.92" width="10" height="6.34" fill="#9e0142"/><rect x="316.10" y="1338.94" width="10" height="6.34" fill="#9e0142"/><rect x="316.10" y="1681.36" width="10" height="6.34" fill="#9e0142"/><rect x="330.97" y="698.50" width="10" height="989.20" fill="#d3d3d3"/><rect x="330.97" y="844.34" width="10" height="6.34" fill="#d0384e"/><rect x="330.97" y="971.16" width="10" height="12.68" fill="#d0384e"/><rect x="330.97" y="1091.64" width="10" height="6.34" fill="#d0384e"/><rect x="330.97" y="1636.97" width="10" height="12.68" fill="#d0384e"/><rect x="345.84" y="698.50" width="10" height="989.20" fill="#d3d3d3"/><rect x="345.84" y="831.66" width="10" height="6.34" fill="#ee6445"/><rect x="345.84" y="1250.17" width="10" height="6.34" fill="#ee6445"/><rect x="345.84" y="1281.87" width="10" height="6.34" fill="#ee6445"/><rect x="345.84" y="1351.63" width="10" height="19.02" fill="#ee6445"/><rect x="345.84" y="1376.99" width="10" height="6.34" fill="#ee6445"/><rect x="360.71" y="698.50" width="10" height="989.20" fill="#d3d3d3"/><rect x="360.71" y="831.66" width="10" height="6.34" fill="#fb9c59"/><rect x="360.71" y="920.44" width="10" height="6.34" fill="#fb9c59"/><rect x="360.71" y="983.85" width="10" height="6.34" fill="#fb9c59"/><rect x="360.71" y="1123.35" width="10" height="6.34" fill="#fb9c59"/><rect x="360.71" y="1319.92" width="10" height="6.34" fill="#fb9c59"/><rect x="360.71" y="1351.63" width="10" height="6.34" fill="#fb9c59"/><rect x="360.71" y="1579.90" width="10" height="6.34" fill="#fb9c59"/><rect x="360.71" y="1649.65" width="10" height="6.34" fill="#fb9c59"/><rect x="360.71" y="1662.34" width="10" height="6.34" fill="#fb9c59"/><rect x="360.71" y="1681.36" width="10" height="6.34" fill="#fb9c59"/><rect x="375.58" y="698.50" width="10" height="989.20" fill="#d3d3d3"/><rect x="375.58" y="704.84" width="10" height="6.34" fill="#fece7c"/><rect x="375.58" y="730.21" width="10" height="6.34" fill="#fece7c"/><rect x="375.58" y="768.25" width="10" height="6.34" fill="#fece7c"/><rect x="375.58" y="799.96" width="10" height="6.34" fill="#fece7c"/><rect x="375.58" y="844.34" width="10" height="19.02" fill="#fece7c"/><rect x="375.58" y="895.07" width="10" height="6.34" fill="#fece7c"/><rect x="375.58" y="920.44" width="10" height="6.34" fill="#fece7c"/><rect x="375.58" y="964.82" width="10" height="12.68" fill="#fece7c"/><rect x="375.58" y="990.19" width="10" height="6.34" fill="#fece7c"/><rect x="375.58" y="1009.21" width="10" height="6.34" fill="#fece7c"/><rect x="375.58" y="1123.35" width="10" height="6.34" fill="#fece7c"/><rect x="375.58" y="1313.58" width="10" height="6.34" fill="#fece7c"/><rect x="375.58" y="1472.11" width="10" height="19.02" fill="#fece7c"/><rect x="375.58" y="1592.58" width="10" height="6.34" fill="#fece7c"/><rect x="375.58" y="1617.95" width="10" height="6.34" fill="#fece7c"/><rect x="375.58" y="1636.97" width="10" height="12.68" fill="#fece7c"/><rect x="390.45" y="698.50" width="10" height="989.20" fill="#d3d3d3"/><rect x="390.45" y="736.55" width="10" height="6.34" fill="#fff1a7"/><rect x="390.45" y="761.91" width="10" height="6.34" fill="#fff1a7"/><rect x="390.45" y="831.66" width="10" height="6.34" fill="#fff1a7"/><rect x="390.45" y="844.34" width="10" height="6.34" fill="#fff1a7"/><rect x="390.45" y="895.07" width="10" height="12.68" fill="#fff1a7"/><rect x="390.45" y="939.46" width="10" height="12.68" fill="#fff1a7"/><rect x="390.45" y="990.19" width="10" height="6.34" fill="#fff1a7"/><rect x="390.45" y="1002.87" width="10" height="6.34" fill="#fff1a7"/><rect x="390.45" y="1104.33" width="10" height="6.34" fill="#fff1a7"/><rect x="390.45" y="1199.44" width="10" height="6.34" fill="#fff1a7"/><rect x="390.45" y="1269.19" width="10" height="6.34" fill="#fff1a7"/><rect x="390.45" y="1294.56" width="10" height="6.34" fill="#fff1a7"/><rect x="390.45" y="1326.26" width="10" height="12.68" fill="#fff1a7"/><rect x="390.45" y="1345.28" width="10" height="6.34" fill="#fff1a7"/><rect x="390.45" y="1364.31" width="10" height="6.34" fill="#fff1a7"/><rect x="390.45" y="1376.99" width="10" height="6.34" fill="#fff1a7"/><rect x="390.45" y="1421.38" width="10" height="6.34" fill="#fff1a7"/><rect x="390.45" y="1472.11" width="10" height="19.02" fill="#fff1a7"/><rect x="390.45" y="1541.86" width="10" height="6.34" fill="#fff1a7"/><rect x="390.45" y="1554.54" width="10" height="6.34" fill="#fff1a7"/><rect x="390.45" y="1617.95" width="10" height="6.34" fill="#fff1a7"/><rect x="390.45" y="1636.97" width="10" height="12.68" fill="#fff1a7"/><rect x="390.45" y="1681.36" width="10" height="6.34" fill="#fff1a7"/><rect x="405.32" y="698.50" width="10" height="989.20" fill="#d3d3d3"/><rect x="405.32" y="704.84" width="10" height="6.34" fill="#f4faad"/><rect x="405.32" y="831.66" width="10" height="6.34" fill="#f4faad"/><rect x="405.32" y="844.34" width="10" height="12.68" fill="#f4faad"/><rect x="405.32" y="895.07" width="10" height="6.34" fill="#f4faad"/><rect x="405.32" y="907.75" width="10" height="12.68" fill="#f4faad"/><rect x="405.32" y="958.48" width="10" height="6.34" fill="#f4faad"/><rect x="405.32" y="990.19" width="10" height="6.34" fill="#f4faad"/><rect x="405.32" y="1091.64" width="10" height="6.34" fill="#f4faad"/><rect x="405.32" y="1110.67" width="10" height="6.34" fill="#f4faad"/><rect x="405.32" y="1123.35" width="10" height="6.34" fill="#f4faad"/><rect x="405.32" y="1136.03" width="10" height="6.34" fill="#f4faad"/><rect x="405.32" y="1174.08" width="10" height="6.34" fill="#f4faad"/><rect x="405.32" y="1237.49" width="10" height="12.68" fill="#f4faad"/><rect x="405.32" y="1275.53" width="10" height="6.34" fill="#f4faad"/><rect x="405.32" y="1319.92" width="10" height="6.34" fill="#f4faad"/><rect x="405.32" y="1383.33" width="10" height="6.34" fill="#f4faad"/><rect x="405.32" y="1415.04" width="10" height="6.34" fill="#f4faad"/><rect x="405.32" y="1446.74" width="10" height="6.34" fill="#f4faad"/><rect x="405.32" y="1491.13" width="10" height="6.34" fill="#f4faad"/><rect x="405.32" y="1522.83" width="10" height="19.02" fill="#f4faad"/><rect x="405.32" y="1554.54" width="10" height="6.34" fill="#f4faad"/><rect x="405.32" y="1567.22" width="10" height="6.34" fill="#f4faad"/><rect x="405.32" y="1611.61" width="10" height="6.34" fill="#f4faad"/><rect x="405.32" y="1649.65" width="10" height="6.34" fill="#f4faad"/><rect x="405.32" y="1662.34" width="10" height="12.68" fill="#f4faad"/><rect x="405.32" y="1681.36" width="10" height="6.34" fill="#f4faad"/><rect x="420.19" y="698.50" width="10" height="989.20" fill="#d3d3d3"/><rect x="420.19" y="825.32" width="10" height="12.68" fill="#d1ec9c"/><rect x="420.19" y="876.05" width="10" height="6.34" fill="#d1ec9c"/><rect x="420.19" y="888.73" width="10" height="6.34" fill="#d1ec9c"/><rect x="420.19" y="914.09" width="10" height="6.34" fill="#d1ec9c"/><rect x="420.19" y="1002.87" width="10" height="6.34" fill="#d1ec9c"/><rect x="420.19" y="1047.26" width="10" height="6.34" fill="#d1ec9c"/><rect x="420.19" y="1059.94" width="10" height="12.68" fill="#d1ec9c"/><rect x="420.19" y="1097.98" width="10" height="6.34" fill="#d1ec9c"/><rect x="420.19" y="1123.35" width="10" height="6.34" fill="#d1ec9c"/><rect x="420.19" y="1136.03" width="10" height="12.68" fill="#d1ec9c"/><rect x="420.19" y="1205.78" width="10" height="6.34" fill="#d1ec9c"/><rect x="420.19" y="1256.51" width="10" height="6.34" fill="#d1ec9c"/><rect x="420.19" y="1313.58" width="10" height="6.34" fill="#d1ec9c"/><rect x="420.19" y="1370.65" width="10" height="6.34" fill="#d1ec9c"/><rect x="420.19" y="1383.33" width="10" height="6.34" fill="#d1ec9c"/><rect x="420.19" y="1396.01" width="10" height="6.34" fill="#d1ec9c"/><rect x="420.19" y="1415.04" width="10" height="6.34" fill="#d1ec9c"/><rect x="420.19" y="1427.72" width="10" height="12.68" fill="#d1ec9c"/><rect x="420.19" y="1446.74" width="10" height="6.34" fill="#d1ec9c"/><rect x="420.19" y="1459.42" width="10" height="6.34" fill="#d1ec9c"/><rect x="420.19" y="1478.45" width="10" height="6.34" fill="#d1ec9c"/><rect x="420.19" y="1491.13" width="10" height="19.02" fill="#d1ec9c"/><rect x="420.19" y="1516.49" width="10" height="25.36" fill="#d1ec9c"/><rect x="420.19" y="1560.88" width="10" height="12.68" fill="#d1ec9c"/><rect x="420.19" y="1630.63" width="10" height="6.34" fill="#d1ec9c"/><rect x="420.19" y="1655.99" width="10" height="6.34" fill="#d1ec9c"/><rect x="435.06" y="698.50" width="10" height="989.20" fill="#d3d3d3"/><rect x="435.06" y="736.55" width="10" height="6.34" fill="#98d6a4"/><rect x="435.06" y="768.25" width="10" height="6.34" fill="#98d6a4"/><rect x="435.06" y="806.30" width="10" height="6.34" fill="#98d6a4"/><rect x="435.06" y="831.66" width="10" height="25.36" fill="#98d6a4"/><rect x="435.06" y="888.73" width="10" height="12.68" fill="#98d6a4"/><rect x="435.06" y="914.09" width="10" height="6.34" fill="#98d6a4"/><rect x="435.06" y="933.12" width="10" height="6.34" fill="#98d6a4"/><rect x="435.06" y="945.80" width="10" height="6.34" fill="#98d6a4"/><rect x="435.06" y="964.82" width="10" height="12.68" fill="#98d6a4"/><rect x="435.06" y="990.19" width="10" height="6.34" fill="#98d6a4"/><rect x="435.06" y="1002.87" width="10" height="6.34" fill="#98d6a4"/><rect x="435.06" y="1059.94" width="10" height="6.34" fill="#98d6a4"/><rect x="435.06" y="1078.96" width="10" height="6.34" fill="#98d6a4"/><rect x="435.06" y="1091.64" width="10" height="6.34" fill="#98d6a4"/><rect x="435.06" y="1117.01" width="10" height="6.34" fill="#98d6a4"/><rect x="435.06" y="1148.71" width="10" height="6.34" fill="#98d6a4"/><rect x="435.06" y="1167.74" width="10" height="6.34" fill="#98d6a4"/><rect x="435.06" y="1212.12" width="10" height="6.34" fill="#98d6a4"/><rect x="435.06" y="1224.81" width="10" height="6.34" fill="#98d6a4"/><rect x="435.06" y="1250.17" width="10" height="6.34" fill="#98d6a4"/><rect x="435.06" y="1262.85" width="10" height="6.34" fill="#98d6a4"/><rect x="435.06" y="1275.53" width="10" height="6.34" fill="#98d6a4"/><rect x="435.06" y="1313.58" width="10" height="12.68" fill="#98d6a4"/><rect x="435.06" y="1338.94" width="10" height="6.34" fill="#98d6a4"/><rect x="435.06" y="1351.63" width="10" height="6.34" fill="#98d6a4"/><rect x="435.06" y="1383.33" width="10" height="6.34" fill="#98d6a4"/><rect x="435.06" y="1396.01" width="10" height="6.34" fill="#98d6a4"/><rect x="435.06" y="1415.04" width="10" height="12.68" fill="#98d6a4"/><rect x="435.06" y="1434.06" width="10" height="6.34" fill="#98d6a4"/><rect x="435.06" y="1446.74" width="10" height="6.34" fill="#98d6a4"/><rect x="435.06" y="1465.76" width="10" height="31.71" fill="#98d6a4"/><rect x="435.06" y="1503.81" width="10" height="6.34" fill="#98d6a4"/><rect x="435.06" y="1522.83" width="10" height="6.34" fill="#98d6a4"/><rect x="435.06" y="1535.52" width="10" height="6.34" fill="#98d6a4"/><rect x="435.06" y="1548.20" width="10" height="25.36" fill="#98d6a4"/><rect x="435.06" y="1611.61" width="10" height="12.68" fill="#98d6a4"/><rect x="435.06" y="1630.63" width="10" height="19.02" fill="#98d6a4"/><rect x="435.06" y="1655.99" width="10" height="6.34" fill="#98d6a4"/><rect x="435.06" y="1681.36" width="10" height="6.34" fill="#98d6a4"/><rect x="449.93" y="698.50" width="10" height="989.20" fill="#d3d3d3"/><rect x="449.93" y="723.86" width="10" height="6.34" fill="#5db7a9"/><rect x="449.93" y="736.55" width="10" height="6.34" fill="#5db7a9"/><rect x="449.93" y="755.57" width="10" height="6.34" fill="#5db7a9"/><rect x="449.93" y="774.59" width="10" height="6.34" fill="#5db7a9"/><rect x="449.93" y="787.27" width="10" height="6.34" fill="#5db7a9"/><rect x="449.93" y="799.96" width="10" height="12.68" fill="#5db7a9"/><rect x="449.93" y="818.98" width="10" height="50.73" fill="#5db7a9"/><rect x="449.93" y="895.07" width="10" height="31.71" fill="#5db7a9"/><rect x="449.93" y="945.80" width="10" height="6.34" fill="#5db7a9"/><rect x="449.93" y="958.48" width="10" height="25.36" fill="#5db7a9"/><rect x="449.93" y="990.19" width="10" height="19.02" fill="#5db7a9"/><rect x="449.93" y="1047.26" width="10" height="6.34" fill="#5db7a9"/><rect x="449.93" y="1059.94" width="10" height="6.34" fill="#5db7a9"/><rect x="449.93" y="1072.62" width="10" height="12.68" fill="#5db7a9"/><rect x="449.93" y="1091.64" width="10" height="6.34" fill="#5db7a9"/><rect x="449.93" y="1136.03" width="10" height="6.34" fill="#5db7a9"/><rect x="449.93" y="1148.71" width="10" height="6.34" fill="#5db7a9"/><rect x="449.93" y="1180.42" width="10" height="6.34" fill="#5db7a9"/><rect x="449.93" y="1237.49" width="10" height="6.34" fill="#5db7a9"/><rect x="449.93" y="1269.19" width="10" height="12.68" fill="#5db7a9"/><rect x="449.93" y="1319.92" width="10" height="6.34" fill="#5db7a9"/><rect x="449.93" y="1332.60" width="10" height="12.68" fill="#5db7a9"/><rect x="449.93" y="1351.63" width="10" height="6.34" fill="#5db7a9"/><rect x="449.93" y="1396.01" width="10" height="6.34" fill="#5db7a9"/><rect x="449.93" y="1421.38" width="10" height="12.68" fill="#5db7a9"/><rect x="449.93" y="1440.40" width="10" height="6.34" fill="#5db7a9"/><rect x="449.93" y="1465.76" width="10" height="6.34" fill="#5db7a9"/><rect x="449.93" y="1491.13" width="10" height="6.34" fill="#5db7a9"/><rect x="449.93" y="1560.88" width="10" height="6.34" fill="#5db7a9"/><rect x="449.93" y="1586.24" width="10" height="6.34" fill="#5db7a9"/><rect x="449.93" y="1617.95" width="10" height="6.34" fill="#5db7a9"/><rect x="449.93" y="1630.63" width="10" height="25.36" fill="#5db7a9"/><rect x="449.93" y="1662.34" width="10" height="12.68" fill="#5db7a9"/><rect x="449.93" y="1681.36" width="10" height="6.34" fill="#5db7a9"/><rect x="464.80" y="698.50" width="10" height="989.20" fill="#d3d3d3"/><rect x="464.80" y="730.21" width="10" height="12.68" fill="#3683bb"/><rect x="464.80" y="761.91" width="10" height="12.68" fill="#3683bb"/><rect x="464.80" y="831.66" width="10" height="6.34" fill="#3683bb"/><rect x="464.80" y="844.34" width="10" height="6.34" fill="#3683bb"/><rect x="464.80" y="888.73" width="10" height="31.71" fill="#3683bb"/><rect x="464.80" y="945.80" width="10" height="12.68" fill="#3683bb"/><rect x="464.80" y="990.19" width="10" height="19.02" fill="#3683bb"/><rect x="464.80" y="1015.55" width="10" height="6.34" fill="#3683bb"/><rect x="464.80" y="1028.23" width="10" height="6.34" fill="#3683bb"/><rect x="464.80" y="1040.92" width="10" height="6.34" fill="#3683bb"/><rect x="464.80" y="1059.94" width="10" height="12.68" fill="#3683bb"/><rect x="464.80" y="1078.96" width="10" height="12.68" fill="#3683bb"/><rect x="464.80" y="1104.33" width="10" height="6.34" fill="#3683bb"/><rect x="464.80" y="1123.35" width="10" height="6.34" fill="#3683bb"/><rect x="464.80" y="1148.71" width="10" height="12.68" fill="#3683bb"/><rect x="464.80" y="1205.78" width="10" height="12.68" fill="#3683bb"/><rect x="464.80" y="1224.81" width="10" height="6.34" fill="#3683bb"/><rect x="464.80" y="1243.83" width="10" height="12.68" fill="#3683bb"/><rect x="464.80" y="1262.85" width="10" height="25.36" fill="#3683bb"/><rect x="464.80" y="1294.56" width="10" height="6.34" fill="#3683bb"/><rect x="464.80" y="1319.92" width="10" height="19.02" fill="#3683bb"/><rect x="464.80" y="1345.28" width="10" height="25.36" fill="#3683bb"/><rect x="464.80" y="1376.99" width="10" height="6.34" fill="#3683bb"/><rect x="464.80" y="1396.01" width="10" height="12.68" fill="#3683bb"/><rect x="464.80" y="1421.38" width="10" height="6.34" fill="#3683bb"/><rect x="464.80" y="1434.06" width="10" height="6.34" fill="#3683bb"/><rect x="464.80" y="1459.42" width="10" height="6.34" fill="#3683bb"/><rect x="464.80" y="1472.11" width="10" height="50.73" fill="#3683bb"/><rect x="464.80" y="1541.86" width="10" height="6.34" fill="#3683bb"/><rect x="464.80" y="1554.54" width="10" height="6.34" fill="#3683bb"/><rect x="464.80" y="1573.56" width="10" height="6.34" fill="#3683bb"/><rect x="464.80" y="1586.24" width="10" height="6.34" fill="#3683bb"/><rect x="464.80" y="1617.95" width="10" height="6.34" fill="#3683bb"/><rect x="464.80" y="1630.63" width="10" height="19.02" fill="#3683bb"/><rect x="464.80" y="1668.68" width="10" height="6.34" fill="#3683bb"/><rect x="464.80" y="1681.36" width="10" height="6.34" fill="#3683bb"/><rect x="479.67" y="698.50" width="10" height="989.20" fill="#d3d3d3"/><rect x="479.67" y="698.50" width="10" height="69.75" fill="#5e4fa2"/><rect x="479.67" y="787.27" width="10" height="6.34" fill="#5e4fa2"/><rect x="479.67" y="799.96" width="10" height="12.68" fill="#5e4fa2"/><rect x="479.67" y="818.98" width="10" height="25.36" fill="#5e4fa2"/><rect x="479.67" y="857.03" width="10" height="6.34" fill="#5e4fa2"/><rect x="479.67" y="876.05" width="10" height="63.41" fill="#5e4fa2"/><rect x="479.67" y="958.48" width="10" height="38.05" fill="#5e4fa2"/><rect x="479.67" y="1059.94" width="10" height="6.34" fill="#5e4fa2"/><rect x="479.67" y="1097.98" width="10" height="6.34" fill="#5e4fa2"/><rect x="479.67" y="1117.01" width="10" height="12.68" fill="#5e4fa2"/><rect x="479.67" y="1136.03" width="10" height="12.68" fill="#5e4fa2"/><rect x="479.67" y="1180.42" width="10" height="6.34" fill="#5e4fa2"/><rect x="479.67" y="1237.49" width="10" height="6.34" fill="#5e4fa2"/><rect x="479.67" y="1281.87" width="10" height="44.39" fill="#5e4fa2"/><rect x="479.67" y="1338.94" width="10" height="6.34" fill="#5e4fa2"/><rect x="479.67" y="1351.63" width="10" height="12.68" fill="#5e4fa2"/><rect x="479.67" y="1370.65" width="10" height="6.34" fill="#5e4fa2"/><rect x="479.67" y="1383.33" width="10" height="6.34" fill="#5e4fa2"/><rect x="479.67" y="1396.01" width="10" height="6.34" fill="#5e4fa2"/><rect x="479.67" y="1408.69" width="10" height="25.36" fill="#5e4fa2"/><rect x="479.67" y="1446.74" width="10" height="6.34" fill="#5e4fa2"/><rect x="479.67" y="1465.76" width="10" height="25.36" fill="#5e4fa2"/><rect x="479.67" y="1522.83" width="10" height="12.68" fill="#5e4fa2"/><rect x="479.67" y="1554.54" width="10" height="6.34" fill="#5e4fa2"/><rect x="479.67" y="1579.90" width="10" height="12.68" fill="#5e4fa2"/><rect x="479.67" y="1605.27" width="10" height="6.34" fill="#5e4fa2"/><rect x="479.67" y="1617.95" width="10" height="6.34" fill="#5e4fa2"/><rect x="479.67" y="1630.63" width="10" height="6.34" fill="#5e4fa2"/><rect x="479.67" y="1649.65" width="10" height="6.34" fill="#5e4fa2"/><rect x="479.67" y="1662.34" width="10" height="25.36" fill="#5e4fa2"/><rect x="498.0" y="698.5" width="44.9" height="51.2" fill="#aed2e4"/><rect x="542.4" y="698.5" width="44.9" height="51.2" fill="#c6dee4"/><rect x="586.7" y="698.5" width="44.9" height="51.2" fill="#c0d8ea"/><rect x="631.1" y="698.5" width="89.2" height="51.2" fill="#b4d2e4"/><rect x="719.8" y="698.5" width="44.9" height="51.2" fill="#aeccde"/><rect x="764.2" y="698.5" width="44.9" height="51.2" fill="#a8c6d8"/><rect x="808.5" y="698.5" width="44.9" height="51.2" fill="#c6d2de"/><rect x="852.9" y="698.5" width="44.9" height="51.2" fill="#d2d8d8"/><rect x="897.3" y="698.5" width="44.9" height="51.2" fill="#c0d2de"/><rect x="941.6" y="698.5" width="44.9" height="51.2" fill="#c0c0cc"/><rect x="986.0" y="698.5" width="44.9" height="51.2" fill="#902436"/><rect x="1030.4" y="698.5" width="44.9" height="51.2" fill="#a2424e"/><rect x="1074.7" y="698.5" width="44.9" height="51.2" fill="#d8c6c6"/><rect x="1119.1" y="698.5" width="44.9" height="51.2" fill="#ded8d8"/><rect x="1163.5" y="698.5" width="44.9" height="51.2" fill="#e4d2cc"/><rect x="1207.8" y="698.5" width="44.9" height="51.2" fill="#d8dee4"/><rect x="1252.2" y="698.5" width="44.9" height="51.2" fill="#c6deea"/><rect x="1296.5" y="698.5" width="44.9" height="51.2" fill="#c6d8e4"/><rect x="1340.9" y="698.5" width="44.9" height="51.2" fill="#cce4ea"/><rect x="1385.3" y="698.5" width="44.9" height="51.2" fill="#ccdeea"/><rect x="1429.6" y="698.5" width="44.9" height="51.2" fill="#bad2e4"/><rect x="498.0" y="749.2" width="44.9" height="51.2" fill="#b4d2e4"/><rect x="542.4" y="749.2" width="44.9" height="51.2" fill="#c0d2de"/><rect x="586.7" y="749.2" width="89.2" height="51.2" fill="#c0d8e4"/><rect x="675.5" y="749.2" width="44.9" height="51.2" fill="#bad8e4"/><rect x="719.8" y="749.2" width="44.9" height="51.2" fill="#b4d2de"/><rect x="764.2" y="749.2" width="44.9" height="51.2" fill="#aeccde"/><rect x="808.5" y="749.2" width="44.9" height="51.2" fill="#ccd8d8"/><rect x="852.9" y="749.2" width="44.9" height="51.2" fill="#d8dee4"/><rect x="897.3" y="749.2" width="44.9" height="51.2" fill="#c6d8de"/><rect x="941.6" y="749.2" width="44.9" height="51.2" fill="#bab4c0"/><rect x="986.0" y="749.2" width="44.9" height="51.2" fill="#8a1e30"/><rect x="1030.4" y="749.2" width="44.9" height="51.2" fill="#9c3c48"/><rect x="1074.7" y="749.2" width="44.9" height="51.2" fill="#d2c0c0"/><rect x="1119.1" y="749.2" width="44.9" height="51.2" fill="#ded8d2"/><rect x="1163.5" y="749.2" width="44.9" height="51.2" fill="#e4ccc0"/><rect x="1207.8" y="749.2" width="44.9" height="51.2" fill="#e4dede"/><rect x="1252.2" y="749.2" width="89.2" height="51.2" fill="#d2d8de"/><rect x="1340.9" y="749.2" width="44.9" height="51.2" fill="#d2d8e4"/><rect x="1385.3" y="749.2" width="44.9" height="51.2" fill="#d8dee4"/><rect x="1429.6" y="749.2" width="44.9" height="51.2" fill="#c0d2d8"/><rect x="498.0" y="800.0" width="44.9" height="51.2" fill="#a2c6d8"/><rect x="542.4" y="800.0" width="44.9" height="51.2" fill="#c0d8ea"/><rect x="586.7" y="800.0" width="44.9" height="51.2" fill="#c0d2de"/><rect x="631.1" y="800.0" width="89.2" height="51.2" fill="#bad8e4"/><rect x="719.8" y="800.0" width="44.9" height="51.2" fill="#ccdeea"/><rect x="764.2" y="800.0" width="44.9" height="51.2" fill="#c0d8ea"/><rect x="808.5" y="800.0" width="44.9" height="51.2" fill="#d8dede"/><rect x="852.9" y="800.0" width="44.9" height="51.2" fill="#dedee4"/><rect x="897.3" y="800.0" width="44.9" height="51.2" fill="#d2dee4"/><rect x="941.6" y="800.0" width="44.9" height="51.2" fill="#c6c0cc"/><rect x="986.0" y="800.0" width="44.9" height="51.2" fill="#841e30"/><rect x="1030.4" y="800.0" width="44.9" height="51.2" fill="#963642"/><rect x="1074.7" y="800.0" width="44.9" height="51.2" fill="#ccaeae"/><rect x="1119.1" y="800.0" width="44.9" height="51.2" fill="#e4c6c0"/><rect x="1163.5" y="800.0" width="44.9" height="51.2" fill="#e4ccc6"/><rect x="1207.8" y="800.0" width="44.9" height="51.2" fill="#e4c0ba"/><rect x="1252.2" y="800.0" width="44.9" height="51.2" fill="#eaccc6"/><rect x="1296.5" y="800.0" width="44.9" height="51.2" fill="#c6c0c6"/><rect x="1340.9" y="800.0" width="44.9" height="51.2" fill="#d2c6cc"/><rect x="1385.3" y="800.0" width="44.9" height="51.2" fill="#d8b4ae"/><rect x="1429.6" y="800.0" width="44.9" height="51.2" fill="#d8c6c0"/><rect x="498.0" y="850.7" width="44.9" height="51.2" fill="#b4d2de"/><rect x="542.4" y="850.7" width="44.9" height="51.2" fill="#bad8e4"/><rect x="586.7" y="850.7" width="44.9" height="51.2" fill="#c0d8e4"/><rect x="631.1" y="850.7" width="44.9" height="51.2" fill="#aed2e4"/><rect x="675.5" y="850.7" width="44.9" height="51.2" fill="#b4d2e4"/><rect x="719.8" y="850.7" width="44.9" height="51.2" fill="#c0d8e4"/><rect x="764.2" y="850.7" width="44.9" height="51.2" fill="#bad2e4"/><rect x="808.5" y="850.7" width="44.9" height="51.2" fill="#d8d8d8"/><rect x="852.9" y="850.7" width="44.9" height="51.2" fill="#ded2d2"/><rect x="897.3" y="850.7" width="44.9" height="51.2" fill="#d8dede"/><rect x="941.6" y="850.7" width="44.9" height="51.2" fill="#d2c6cc"/><rect x="986.0" y="850.7" width="44.9" height="51.2" fill="#9c3c48"/><rect x="1030.4" y="850.7" width="44.9" height="51.2" fill="#a24854"/><rect x="1074.7" y="850.7" width="44.9" height="51.2" fill="#c09ca2"/><rect x="1119.1" y="850.7" width="44.9" height="51.2" fill="#e4c6c0"/><rect x="1163.5" y="850.7" width="44.9" height="51.2" fill="#e4d2cc"/><rect x="1207.8" y="850.7" width="44.9" height="51.2" fill="#d8b4ae"/><rect x="1252.2" y="850.7" width="44.9" height="51.2" fill="#debab4"/><rect x="1296.5" y="850.7" width="44.9" height="51.2" fill="#c0bac0"/><rect x="1340.9" y="850.7" width="44.9" height="51.2" fill="#d2c6c6"/><rect x="1385.3" y="850.7" width="44.9" height="51.2" fill="#dec0b4"/><rect x="1429.6" y="850.7" width="44.9" height="51.2" fill="#d8c6c0"/><rect x="498.0" y="901.4" width="44.9" height="51.2" fill="#c0d8ea"/><rect x="542.4" y="901.4" width="44.9" height="51.2" fill="#b4d2e4"/><rect x="586.7" y="901.4" width="44.9" height="51.2" fill="#b4ccde"/><rect x="631.1" y="901.4" width="44.9" height="51.2" fill="#a8cce4"/><rect x="675.5" y="901.4" width="44.9" height="51.2" fill="#96c0d8"/><rect x="719.8" y="901.4" width="44.9" height="51.2" fill="#aeccde"/><rect x="764.2" y="901.4" width="44.9" height="51.2" fill="#a8cce4"/><rect x="808.5" y="901.4" width="44.9" height="51.2" fill="#c6c0c6"/><rect x="852.9" y="901.4" width="44.9" height="51.2" fill="#d8c6c0"/><rect x="897.3" y="901.4" width="44.9" height="51.2" fill="#d8cccc"/><rect x="941.6" y="901.4" width="44.9" height="51.2" fill="#d8aea8"/><rect x="986.0" y="901.4" width="44.9" height="51.2" fill="#c68a8a"/><rect x="1030.4" y="901.4" width="44.9" height="51.2" fill="#ae5a60"/><rect x="1074.7" y="901.4" width="44.9" height="51.2" fill="#ba9ca2"/><rect x="1119.1" y="901.4" width="44.9" height="51.2" fill="#d8baba"/><rect x="1163.5" y="901.4" width="44.9" height="51.2" fill="#debaae"/><rect x="1207.8" y="901.4" width="44.9" height="51.2" fill="#d2c0c0"/><rect x="1252.2" y="901.4" width="44.9" height="51.2" fill="#ded2cc"/><rect x="1296.5" y="901.4" width="44.9" height="51.2" fill="#c6c6cc"/><rect x="1340.9" y="901.4" width="44.9" height="51.2" fill="#ccccd2"/><rect x="1385.3" y="901.4" width="44.9" height="51.2" fill="#d8cccc"/><rect x="1429.6" y="901.4" width="44.9" height="51.2" fill="#c6ccd2"/><rect x="498.0" y="952.1" width="44.9" height="51.2" fill="#c6deea"/><rect x="542.4" y="952.1" width="44.9" height="51.2" fill="#bad8e4"/><rect x="586.7" y="952.1" width="44.9" height="51.2" fill="#c0d8e4"/><rect x="631.1" y="952.1" width="44.9" height="51.2" fill="#aed2e4"/><rect x="675.5" y="952.1" width="44.9" height="51.2" fill="#a2ccde"/><rect x="719.8" y="952.1" width="44.9" height="51.2" fill="#b4d8ea"/><rect x="764.2" y="952.1" width="44.9" height="51.2" fill="#bad8e4"/><rect x="808.5" y="952.1" width="44.9" height="51.2" fill="#ccc0c6"/><rect x="852.9" y="952.1" width="44.9" height="51.2" fill="#dec6c0"/><rect x="897.3" y="952.1" width="44.9" height="51.2" fill="#ded8d2"/><rect x="941.6" y="952.1" width="44.9" height="51.2" fill="#d8aea8"/><rect x="986.0" y="952.1" width="44.9" height="51.2" fill="#b4848a"/><rect x="1030.4" y="952.1" width="44.9" height="51.2" fill="#ae6066"/><rect x="1074.7" y="952.1" width="44.9" height="51.2" fill="#d2aeae"/><rect x="1119.1" y="952.1" width="44.9" height="51.2" fill="#deb4ae"/><rect x="1163.5" y="952.1" width="44.9" height="51.2" fill="#debab4"/><rect x="1207.8" y="952.1" width="44.9" height="51.2" fill="#e4d2cc"/><rect x="1252.2" y="952.1" width="44.9" height="51.2" fill="#a88490"/><rect x="1296.5" y="952.1" width="44.9" height="51.2" fill="#ba969c"/><rect x="1340.9" y="952.1" width="44.9" height="51.2" fill="#c09696"/><rect x="1385.3" y="952.1" width="44.9" height="51.2" fill="#a8a8b4"/><rect x="1429.6" y="952.1" width="44.9" height="51.2" fill="#b49096"/><rect x="498.0" y="1002.9" width="44.9" height="51.2" fill="#c0a2a8"/><rect x="542.4" y="1002.9" width="44.9" height="51.2" fill="#c09ca2"/><rect x="586.7" y="1002.9" width="44.9" height="51.2" fill="#c0a2a8"/><rect x="631.1" y="1002.9" width="44.9" height="51.2" fill="#ba96a2"/><rect x="675.5" y="1002.9" width="44.9" height="51.2" fill="#c69c9c"/><rect x="719.8" y="1002.9" width="44.9" height="51.2" fill="#ccc0c0"/><rect x="764.2" y="1002.9" width="44.9" height="51.2" fill="#c6a2a2"/><rect x="808.5" y="1002.9" width="44.9" height="51.2" fill="#c0a8ae"/><rect x="852.9" y="1002.9" width="44.9" height="51.2" fill="#cca8a8"/><rect x="897.3" y="1002.9" width="44.9" height="51.2" fill="#c0b4ba"/><rect x="941.6" y="1002.9" width="44.9" height="51.2" fill="#ccbaba"/><rect x="986.0" y="1002.9" width="44.9" height="51.2" fill="#c0bac6"/><rect x="1030.4" y="1002.9" width="44.9" height="51.2" fill="#d2c6c6"/><rect x="1074.7" y="1002.9" width="44.9" height="51.2" fill="#ccccd2"/><rect x="1119.1" y="1002.9" width="44.9" height="51.2" fill="#c6d2d8"/><rect x="1163.5" y="1002.9" width="44.9" height="51.2" fill="#c6ccd2"/><rect x="1207.8" y="1002.9" width="44.9" height="51.2" fill="#ccd8de"/><rect x="1252.2" y="1002.9" width="44.9" height="51.2" fill="#b4bac6"/><rect x="1296.5" y="1002.9" width="44.9" height="51.2" fill="#babac6"/><rect x="1340.9" y="1002.9" width="44.9" height="51.2" fill="#c0c0cc"/><rect x="1385.3" y="1002.9" width="44.9" height="51.2" fill="#baccde"/><rect x="1429.6" y="1002.9" width="44.9" height="51.2" fill="#baccd8"/><rect x="498.0" y="1053.6" width="44.9" height="51.2" fill="#c68a8a"/><rect x="542.4" y="1053.6" width="44.9" height="51.2" fill="#b47278"/><rect x="586.7" y="1053.6" width="44.9" height="51.2" fill="#c09090"/><rect x="631.1" y="1053.6" width="44.9" height="51.2" fill="#c69696"/><rect x="675.5" y="1053.6" width="44.9" height="51.2" fill="#c67e7e"/><rect x="719.8" y="1053.6" width="44.9" height="51.2" fill="#c08a90"/><rect x="764.2" y="1053.6" width="44.9" height="51.2" fill="#c69c9c"/><rect x="808.5" y="1053.6" width="44.9" height="51.2" fill="#ba9ca2"/><rect x="852.9" y="1053.6" width="44.9" height="51.2" fill="#c6a8a8"/><rect x="897.3" y="1053.6" width="44.9" height="51.2" fill="#c0a8a8"/><rect x="941.6" y="1053.6" width="44.9" height="51.2" fill="#b4b4c0"/><rect x="986.0" y="1053.6" width="44.9" height="51.2" fill="#ccd8de"/><rect x="1030.4" y="1053.6" width="44.9" height="51.2" fill="#d8dee4"/><rect x="1074.7" y="1053.6" width="44.9" height="51.2" fill="#ccd2d8"/><rect x="1119.1" y="1053.6" width="44.9" height="51.2" fill="#aed2e4"/><rect x="1163.5" y="1053.6" width="44.9" height="51.2" fill="#bad2de"/><rect x="1207.8" y="1053.6" width="44.9" height="51.2" fill="#c0d2de"/><rect x="1252.2" y="1053.6" width="44.9" height="51.2" fill="#8abad8"/><rect x="1296.5" y="1053.6" width="44.9" height="51.2" fill="#96c0d8"/><rect x="1340.9" y="1053.6" width="44.9" height="51.2" fill="#9cbad2"/><rect x="1385.3" y="1053.6" width="44.9" height="51.2" fill="#84bad8"/><rect x="1429.6" y="1053.6" width="44.9" height="51.2" fill="#96c0de"/><rect x="498.0" y="1104.3" width="44.9" height="51.2" fill="#ba848a"/><rect x="542.4" y="1104.3" width="44.9" height="51.2" fill="#b4848a"/><rect x="586.7" y="1104.3" width="44.9" height="51.2" fill="#c69c9c"/><rect x="631.1" y="1104.3" width="44.9" height="51.2" fill="#c68484"/><rect x="675.5" y="1104.3" width="44.9" height="51.2" fill="#c08a8a"/><rect x="719.8" y="1104.3" width="44.9" height="51.2" fill="#c69696"/><rect x="764.2" y="1104.3" width="44.9" height="51.2" fill="#ba848a"/><rect x="808.5" y="1104.3" width="44.9" height="51.2" fill="#c0a2a8"/><rect x="852.9" y="1104.3" width="44.9" height="51.2" fill="#baa8ae"/><rect x="897.3" y="1104.3" width="44.9" height="51.2" fill="#c6aeb4"/><rect x="941.6" y="1104.3" width="44.9" height="51.2" fill="#b4bac6"/><rect x="986.0" y="1104.3" width="44.9" height="51.2" fill="#c6d2de"/><rect x="1030.4" y="1104.3" width="44.9" height="51.2" fill="#d2d8de"/><rect x="1074.7" y="1104.3" width="44.9" height="51.2" fill="#c6ccd2"/><rect x="1119.1" y="1104.3" width="44.9" height="51.2" fill="#b4d2e4"/><rect x="1163.5" y="1104.3" width="44.9" height="51.2" fill="#b4ccde"/><rect x="1207.8" y="1104.3" width="44.9" height="51.2" fill="#b4ccd8"/><rect x="1252.2" y="1104.3" width="44.9" height="51.2" fill="#84b4d8"/><rect x="1296.5" y="1104.3" width="44.9" height="51.2" fill="#96b4d2"/><rect x="1340.9" y="1104.3" width="44.9" height="51.2" fill="#96bad8"/><rect x="1385.3" y="1104.3" width="44.9" height="51.2" fill="#84b4d2"/><rect x="1429.6" y="1104.3" width="44.9" height="51.2" fill="#8abad8"/><rect x="498.0" y="1155.1" width="44.9" height="51.2" fill="#ba7e84"/><rect x="542.4" y="1155.1" width="44.9" height="51.2" fill="#a8787e"/><rect x="586.7" y="1155.1" width="44.9" height="51.2" fill="#c08a90"/><rect x="631.1" y="1155.1" width="44.9" height="51.2" fill="#c69c9c"/><rect x="675.5" y="1155.1" width="44.9" height="51.2" fill="#ba8a8a"/><rect x="719.8" y="1155.1" width="44.9" height="51.2" fill="#c0a2a2"/><rect x="764.2" y="1155.1" width="44.9" height="51.2" fill="#ba9096"/><rect x="808.5" y="1155.1" width="44.9" height="51.2" fill="#c0b4ba"/><rect x="852.9" y="1155.1" width="44.9" height="51.2" fill="#c0c6cc"/><rect x="897.3" y="1155.1" width="44.9" height="51.2" fill="#c6c0c6"/><rect x="941.6" y="1155.1" width="44.9" height="51.2" fill="#bac0cc"/><rect x="986.0" y="1155.1" width="44.9" height="51.2" fill="#ccd8de"/><rect x="1030.4" y="1155.1" width="44.9" height="51.2" fill="#dee4ea"/><rect x="1074.7" y="1155.1" width="44.9" height="51.2" fill="#ccd2d8"/><rect x="1119.1" y="1155.1" width="44.9" height="51.2" fill="#bad8e4"/><rect x="1163.5" y="1155.1" width="44.9" height="51.2" fill="#b4ccde"/><rect x="1207.8" y="1155.1" width="44.9" height="51.2" fill="#b4c6d8"/><rect x="1252.2" y="1155.1" width="44.9" height="51.2" fill="#90bad8"/><rect x="1296.5" y="1155.1" width="44.9" height="51.2" fill="#9cc0d8"/><rect x="1340.9" y="1155.1" width="44.9" height="51.2" fill="#9cbad2"/><rect x="1385.3" y="1155.1" width="44.9" height="51.2" fill="#96c0d8"/><rect x="1429.6" y="1155.1" width="44.9" height="51.2" fill="#90bad2"/><rect x="498.0" y="1205.8" width="44.9" height="51.2" fill="#cc8a84"/><rect x="542.4" y="1205.8" width="44.9" height="51.2" fill="#c0848a"/><rect x="586.7" y="1205.8" width="44.9" height="51.2" fill="#c69c9c"/><rect x="631.1" y="1205.8" width="44.9" height="51.2" fill="#c68a8a"/><rect x="675.5" y="1205.8" width="44.9" height="51.2" fill="#ae7278"/><rect x="719.8" y="1205.8" width="44.9" height="51.2" fill="#c69090"/><rect x="764.2" y="1205.8" width="44.9" height="51.2" fill="#c09096"/><rect x="808.5" y="1205.8" width="44.9" height="51.2" fill="#c6c0cc"/><rect x="852.9" y="1205.8" width="44.9" height="51.2" fill="#c0d8e4"/><rect x="897.3" y="1205.8" width="44.9" height="51.2" fill="#ccd2d8"/><rect x="941.6" y="1205.8" width="44.9" height="51.2" fill="#baccd8"/><rect x="986.0" y="1205.8" width="44.9" height="51.2" fill="#ccd2d8"/><rect x="1030.4" y="1205.8" width="44.9" height="51.2" fill="#d8dede"/><rect x="1074.7" y="1205.8" width="44.9" height="51.2" fill="#ccd2d8"/><rect x="1119.1" y="1205.8" width="44.9" height="51.2" fill="#bad2e4"/><rect x="1163.5" y="1205.8" width="44.9" height="51.2" fill="#c0d8e4"/><rect x="1207.8" y="1205.8" width="44.9" height="51.2" fill="#c6d8e4"/><rect x="1252.2" y="1205.8" width="89.2" height="51.2" fill="#a2c6d8"/><rect x="1340.9" y="1205.8" width="44.9" height="51.2" fill="#aeccde"/><rect x="1385.3" y="1205.8" width="44.9" height="51.2" fill="#9cc6de"/><rect x="1429.6" y="1205.8" width="44.9" height="51.2" fill="#9cc0d8"/><rect x="498.0" y="1256.5" width="44.9" height="51.2" fill="#d2cccc"/><rect x="542.4" y="1256.5" width="44.9" height="51.2" fill="#c6c6d2"/><rect x="586.7" y="1256.5" width="44.9" height="51.2" fill="#ccd8e4"/><rect x="631.1" y="1256.5" width="44.9" height="51.2" fill="#c6d2d8"/><rect x="675.5" y="1256.5" width="44.9" height="51.2" fill="#ccd8de"/><rect x="719.8" y="1256.5" width="44.9" height="51.2" fill="#d2dede"/><rect x="764.2" y="1256.5" width="44.9" height="51.2" fill="#d2d2d8"/><rect x="808.5" y="1256.5" width="44.9" height="51.2" fill="#ccc0c6"/><rect x="852.9" y="1256.5" width="44.9" height="51.2" fill="#bab4c0"/><rect x="897.3" y="1256.5" width="44.9" height="51.2" fill="#c6b4ba"/><rect x="941.6" y="1256.5" width="44.9" height="51.2" fill="#aea2ae"/><rect x="986.0" y="1256.5" width="44.9" height="51.2" fill="#ccd2d8"/><rect x="1030.4" y="1256.5" width="44.9" height="51.2" fill="#d2dee4"/><rect x="1074.7" y="1256.5" width="44.9" height="51.2" fill="#c0d2de"/><rect x="1119.1" y="1256.5" width="44.9" height="51.2" fill="#b4d2e4"/><rect x="1163.5" y="1256.5" width="44.9" height="51.2" fill="#aeccde"/><rect x="1207.8" y="1256.5" width="44.9" height="51.2" fill="#bad2e4"/><rect x="1252.2" y="1256.5" width="44.9" height="51.2" fill="#b4d2de"/><rect x="1296.5" y="1256.5" width="44.9" height="51.2" fill="#aec6d8"/><rect x="1340.9" y="1256.5" width="44.9" height="51.2" fill="#b4d2de"/><rect x="1385.3" y="1256.5" width="44.9" height="51.2" fill="#aed2e4"/><rect x="1429.6" y="1256.5" width="44.9" height="51.2" fill="#bad2e4"/><rect x="498.0" y="1307.2" width="44.9" height="51.2" fill="#d2d8de"/><rect x="542.4" y="1307.2" width="44.9" height="51.2" fill="#c0d2de"/><rect x="586.7" y="1307.2" width="44.9" height="51.2" fill="#ccccd2"/><rect x="631.1" y="1307.2" width="44.9" height="51.2" fill="#c0d2de"/><rect x="675.5" y="1307.2" width="44.9" height="51.2" fill="#c6ccd8"/><rect x="719.8" y="1307.2" width="44.9" height="51.2" fill="#d8dee4"/><rect x="764.2" y="1307.2" width="44.9" height="51.2" fill="#d2d8d8"/><rect x="808.5" y="1307.2" width="44.9" height="51.2" fill="#b48a96"/><rect x="852.9" y="1307.2" width="44.9" height="51.2" fill="#ba6c72"/><rect x="897.3" y="1307.2" width="44.9" height="51.2" fill="#ae6066"/><rect x="941.6" y="1307.2" width="44.9" height="51.2" fill="#a8606c"/><rect x="986.0" y="1307.2" width="44.9" height="51.2" fill="#ccd8de"/><rect x="1030.4" y="1307.2" width="44.9" height="51.2" fill="#d8e4e4"/><rect x="1074.7" y="1307.2" width="44.9" height="51.2" fill="#c0deea"/><rect x="1119.1" y="1307.2" width="44.9" height="51.2" fill="#c0ccd8"/><rect x="1163.5" y="1307.2" width="44.9" height="51.2" fill="#b4ccde"/><rect x="1207.8" y="1307.2" width="44.9" height="51.2" fill="#ccd8de"/><rect x="1252.2" y="1307.2" width="44.9" height="51.2" fill="#c0d2de"/><rect x="1296.5" y="1307.2" width="44.9" height="51.2" fill="#c6d2de"/><rect x="1340.9" y="1307.2" width="44.9" height="51.2" fill="#c0c6d2"/><rect x="1385.3" y="1307.2" width="44.9" height="51.2" fill="#bad2e4"/><rect x="1429.6" y="1307.2" width="44.9" height="51.2" fill="#ccd8e4"/><rect x="498.0" y="1358.0" width="44.9" height="51.2" fill="#c6ccd8"/><rect x="542.4" y="1358.0" width="44.9" height="51.2" fill="#c6d2d8"/><rect x="586.7" y="1358.0" width="44.9" height="51.2" fill="#d2d2d8"/><rect x="631.1" y="1358.0" width="44.9" height="51.2" fill="#ccd8de"/><rect x="675.5" y="1358.0" width="44.9" height="51.2" fill="#d2d2d2"/><rect x="719.8" y="1358.0" width="44.9" height="51.2" fill="#d2d8e4"/><rect x="764.2" y="1358.0" width="44.9" height="51.2" fill="#ded2d2"/><rect x="808.5" y="1358.0" width="44.9" height="51.2" fill="#c69096"/><rect x="852.9" y="1358.0" width="44.9" height="51.2" fill="#b4666c"/><rect x="897.3" y="1358.0" width="44.9" height="51.2" fill="#ba7e7e"/><rect x="941.6" y="1358.0" width="44.9" height="51.2" fill="#a86672"/><rect x="986.0" y="1358.0" width="44.9" height="51.2" fill="#c6ccd8"/><rect x="1030.4" y="1358.0" width="44.9" height="51.2" fill="#d2dee4"/><rect x="1074.7" y="1358.0" width="44.9" height="51.2" fill="#c6d8ea"/><rect x="1119.1" y="1358.0" width="44.9" height="51.2" fill="#c0c6d2"/><rect x="1163.5" y="1358.0" width="44.9" height="51.2" fill="#bad8e4"/><rect x="1207.8" y="1358.0" width="44.9" height="51.2" fill="#ccdee4"/><rect x="1252.2" y="1358.0" width="44.9" height="51.2" fill="#c6d2de"/><rect x="1296.5" y="1358.0" width="44.9" height="51.2" fill="#c0d2de"/><rect x="1340.9" y="1358.0" width="44.9" height="51.2" fill="#bac6cc"/><rect x="1385.3" y="1358.0" width="44.9" height="51.2" fill="#c0d8e4"/><rect x="1429.6" y="1358.0" width="44.9" height="51.2" fill="#c6d8e4"/><rect x="498.0" y="1408.7" width="44.9" height="51.2" fill="#ccd8e4"/><rect x="542.4" y="1408.7" width="44.9" height="51.2" fill="#d8e4e4"/><rect x="586.7" y="1408.7" width="44.9" height="51.2" fill="#d2d8de"/><rect x="631.1" y="1408.7" width="44.9" height="51.2" fill="#d2e4ea"/><rect x="675.5" y="1408.7" width="44.9" height="51.2" fill="#ccdeea"/><rect x="719.8" y="1408.7" width="44.9" height="51.2" fill="#c0d8ea"/><rect x="764.2" y="1408.7" width="44.9" height="51.2" fill="#c0d8e4"/><rect x="808.5" y="1408.7" width="44.9" height="51.2" fill="#c6d2e4"/><rect x="852.9" y="1408.7" width="44.9" height="51.2" fill="#ccccd8"/><rect x="897.3" y="1408.7" width="44.9" height="51.2" fill="#ccd2d8"/><rect x="941.6" y="1408.7" width="44.9" height="51.2" fill="#d2d2d8"/><rect x="986.0" y="1408.7" width="44.9" height="51.2" fill="#d8cccc"/><rect x="1030.4" y="1408.7" width="44.9" height="51.2" fill="#ded2d2"/><rect x="1074.7" y="1408.7" width="44.9" height="51.2" fill="#d2c0c0"/><rect x="1119.1" y="1408.7" width="44.9" height="51.2" fill="#c0a2a8"/><rect x="1163.5" y="1408.7" width="44.9" height="51.2" fill="#c0c0c6"/><rect x="1207.8" y="1408.7" width="44.9" height="51.2" fill="#ccc0c6"/><rect x="1252.2" y="1408.7" width="44.9" height="51.2" fill="#b4c0d2"/><rect x="1296.5" y="1408.7" width="44.9" height="51.2" fill="#bad8ea"/><rect x="1340.9" y="1408.7" width="89.2" height="51.2" fill="#c6deea"/><rect x="1429.6" y="1408.7" width="44.9" height="51.2" fill="#c0d2de"/><rect x="498.0" y="1459.4" width="44.9" height="51.2" fill="#d8dee4"/><rect x="542.4" y="1459.4" width="44.9" height="51.2" fill="#deeaea"/><rect x="586.7" y="1459.4" width="44.9" height="51.2" fill="#d8dede"/><rect x="631.1" y="1459.4" width="44.9" height="51.2" fill="#deeaf0"/><rect x="675.5" y="1459.4" width="44.9" height="51.2" fill="#cce4f0"/><rect x="719.8" y="1459.4" width="44.9" height="51.2" fill="#c0deea"/><rect x="764.2" y="1459.4" width="44.9" height="51.2" fill="#cce4ea"/><rect x="808.5" y="1459.4" width="44.9" height="51.2" fill="#d2e4f0"/><rect x="852.9" y="1459.4" width="44.9" height="51.2" fill="#d8e4f0"/><rect x="897.3" y="1459.4" width="44.9" height="51.2" fill="#d2d8e4"/><rect x="941.6" y="1459.4" width="44.9" height="51.2" fill="#dee4ea"/><rect x="986.0" y="1459.4" width="44.9" height="51.2" fill="#e4c6c0"/><rect x="1030.4" y="1459.4" width="44.9" height="51.2" fill="#eadede"/><rect x="1074.7" y="1459.4" width="44.9" height="51.2" fill="#c08a90"/><rect x="1119.1" y="1459.4" width="44.9" height="51.2" fill="#a2727e"/><rect x="1163.5" y="1459.4" width="44.9" height="51.2" fill="#c07e7e"/><rect x="1207.8" y="1459.4" width="44.9" height="51.2" fill="#ae8a96"/><rect x="1252.2" y="1459.4" width="44.9" height="51.2" fill="#c0ccd8"/><rect x="1296.5" y="1459.4" width="44.9" height="51.2" fill="#c6deea"/><rect x="1340.9" y="1459.4" width="44.9" height="51.2" fill="#d2deea"/><rect x="1385.3" y="1459.4" width="44.9" height="51.2" fill="#cce4ea"/><rect x="1429.6" y="1459.4" width="44.9" height="51.2" fill="#d2deea"/><rect x="498.0" y="1510.2" width="44.9" height="51.2" fill="#d2d8de"/><rect x="542.4" y="1510.2" width="44.9" height="51.2" fill="#dee4e4"/><rect x="586.7" y="1510.2" width="44.9" height="51.2" fill="#e4e4e4"/><rect x="631.1" y="1510.2" width="44.9" height="51.2" fill="#e4eaf0"/><rect x="675.5" y="1510.2" width="44.9" height="51.2" fill="#d2e4f0"/><rect x="719.8" y="1510.2" width="44.9" height="51.2" fill="#c6deea"/><rect x="764.2" y="1510.2" width="44.9" height="51.2" fill="#cce4ea"/><rect x="808.5" y="1510.2" width="44.9" height="51.2" fill="#d8e4f0"/><rect x="852.9" y="1510.2" width="44.9" height="51.2" fill="#d8eaf0"/><rect x="897.3" y="1510.2" width="44.9" height="51.2" fill="#d2e4ea"/><rect x="941.6" y="1510.2" width="44.9" height="51.2" fill="#d8ccd2"/><rect x="986.0" y="1510.2" width="44.9" height="51.2" fill="#d8bab4"/><rect x="1030.4" y="1510.2" width="44.9" height="51.2" fill="#deaea8"/><rect x="1074.7" y="1510.2" width="44.9" height="51.2" fill="#c09090"/><rect x="1119.1" y="1510.2" width="44.9" height="51.2" fill="#b47e84"/><rect x="1163.5" y="1510.2" width="44.9" height="51.2" fill="#c07e84"/><rect x="1207.8" y="1510.2" width="44.9" height="51.2" fill="#a87e8a"/><rect x="1252.2" y="1510.2" width="44.9" height="51.2" fill="#d2d2d8"/><rect x="1296.5" y="1510.2" width="44.9" height="51.2" fill="#ccd8e4"/><rect x="1340.9" y="1510.2" width="44.9" height="51.2" fill="#ccdee4"/><rect x="1385.3" y="1510.2" width="44.9" height="51.2" fill="#d8dee4"/><rect x="1429.6" y="1510.2" width="44.9" height="51.2" fill="#dee4e4"/><rect x="498.0" y="1560.9" width="44.9" height="51.2" fill="#ccd8de"/><rect x="542.4" y="1560.9" width="44.9" height="51.2" fill="#c6d8e4"/><rect x="586.7" y="1560.9" width="44.9" height="51.2" fill="#c6d8de"/><rect x="631.1" y="1560.9" width="44.9" height="51.2" fill="#ccd8e4"/><rect x="675.5" y="1560.9" width="89.2" height="51.2" fill="#c6d2de"/><rect x="764.2" y="1560.9" width="44.9" height="51.2" fill="#c6d8e4"/><rect x="808.5" y="1560.9" width="44.9" height="51.2" fill="#c0d2de"/><rect x="852.9" y="1560.9" width="89.2" height="51.2" fill="#aeccde"/><rect x="941.6" y="1560.9" width="44.9" height="51.2" fill="#aec6d8"/><rect x="986.0" y="1560.9" width="44.9" height="51.2" fill="#d2d8de"/><rect x="1030.4" y="1560.9" width="44.9" height="51.2" fill="#d2d2d8"/><rect x="1074.7" y="1560.9" width="44.9" height="51.2" fill="#d8d2d2"/><rect x="1119.1" y="1560.9" width="44.9" height="51.2" fill="#ded2d2"/><rect x="1163.5" y="1560.9" width="44.9" height="51.2" fill="#d8c0c0"/><rect x="1207.8" y="1560.9" width="44.9" height="51.2" fill="#c6c6d2"/><rect x="1252.2" y="1560.9" width="44.9" height="51.2" fill="#d2cccc"/><rect x="1296.5" y="1560.9" width="44.9" height="51.2" fill="#c0aeba"/><rect x="1340.9" y="1560.9" width="44.9" height="51.2" fill="#ccc0c0"/><rect x="1385.3" y="1560.9" width="44.9" height="51.2" fill="#dec6c6"/><rect x="1429.6" y="1560.9" width="44.9" height="51.2" fill="#ccc0c6"/><rect x="498.0" y="1611.6" width="44.9" height="51.2" fill="#ccdeea"/><rect x="542.4" y="1611.6" width="44.9" height="51.2" fill="#ccd8e4"/><rect x="586.7" y="1611.6" width="89.2" height="51.2" fill="#c6deea"/><rect x="675.5" y="1611.6" width="44.9" height="51.2" fill="#ccd2de"/><rect x="719.8" y="1611.6" width="44.9" height="51.2" fill="#ccdeea"/><rect x="764.2" y="1611.6" width="44.9" height="51.2" fill="#c0d8ea"/><rect x="808.5" y="1611.6" width="44.9" height="51.2" fill="#ccd8de"/><rect x="852.9" y="1611.6" width="44.9" height="51.2" fill="#d2e4f0"/><rect x="897.3" y="1611.6" width="44.9" height="51.2" fill="#d2deea"/><rect x="941.6" y="1611.6" width="44.9" height="51.2" fill="#c0ccd8"/><rect x="986.0" y="1611.6" width="44.9" height="51.2" fill="#ccdee4"/><rect x="1030.4" y="1611.6" width="44.9" height="51.2" fill="#c6d8e4"/><rect x="1074.7" y="1611.6" width="44.9" height="51.2" fill="#d2d8de"/><rect x="1119.1" y="1611.6" width="44.9" height="51.2" fill="#d8dede"/><rect x="1163.5" y="1611.6" width="44.9" height="51.2" fill="#d8c6c6"/><rect x="1207.8" y="1611.6" width="44.9" height="51.2" fill="#c6dee4"/><rect x="1252.2" y="1611.6" width="44.9" height="51.2" fill="#c6a2a8"/><rect x="1296.5" y="1611.6" width="44.9" height="51.2" fill="#c68a8a"/><rect x="1340.9" y="1611.6" width="44.9" height="51.2" fill="#c09090"/><rect x="1385.3" y="1611.6" width="44.9" height="51.2" fill="#cc9c9c"/><rect x="1429.6" y="1611.6" width="44.9" height="51.2" fill="#c68484"/><rect x="498.0" y="1662.3" width="44.9" height="25.9" fill="#c6deea"/><rect x="542.4" y="1662.3" width="44.9" height="25.9" fill="#ccd8e4"/><rect x="586.7" y="1662.3" width="44.9" height="25.9" fill="#bad8e4"/><rect x="631.1" y="1662.3" width="44.9" height="25.9" fill="#c6d8e4"/><rect x="675.5" y="1662.3" width="44.9" height="25.9" fill="#d2dee4"/><rect x="719.8" y="1662.3" width="44.9" height="25.9" fill="#c0deea"/><rect x="764.2" y="1662.3" width="44.9" height="25.9" fill="#bad2e4"/><rect x="808.5" y="1662.3" width="44.9" height="25.9" fill="#ccd8de"/><rect x="852.9" y="1662.3" width="44.9" height="25.9" fill="#ccdeea"/><rect x="897.3" y="1662.3" width="44.9" height="25.9" fill="#c6d8de"/><rect x="941.6" y="1662.3" width="44.9" height="25.9" fill="#c0d2de"/><rect x="986.0" y="1662.3" width="44.9" height="25.9" fill="#ccdee4"/><rect x="1030.4" y="1662.3" width="44.9" height="25.9" fill="#d2dee4"/><rect x="1074.7" y="1662.3" width="44.9" height="25.9" fill="#d2d8e4"/><rect x="1119.1" y="1662.3" width="44.9" height="25.9" fill="#d2d8de"/><rect x="1163.5" y="1662.3" width="44.9" height="25.9" fill="#d8d2d2"/><rect x="1207.8" y="1662.3" width="44.9" height="25.9" fill="#c6dee4"/><rect x="1252.2" y="1662.3" width="44.9" height="25.9" fill="#c6a2a8"/><rect x="1296.5" y="1662.3" width="44.9" height="25.9" fill="#b46666"/><rect x="1340.9" y="1662.3" width="44.9" height="25.9" fill="#c08484"/><rect x="1385.3" y="1662.3" width="44.9" height="25.9" fill="#c08a8a"/><rect x="1429.6" y="1662.3" width="44.9" height="25.9" fill="#d2847e"/><g font-size="7.6" fill="#000"><text x="1479.7" y="704.17">CNN1</text><text x="1479.7" y="710.51">SORBS1</text><text x="1479.7" y="716.85">FLNC</text><text x="1479.7" y="723.19">DES</text><text x="1479.7" y="729.53">MYH11</text><text x="1479.7" y="735.88">PGM5</text><text x="1479.7" y="742.22">MYLK</text><text x="1479.7" y="748.56">SYNM</text><text x="1479.7" y="754.90">CSRP1</text><text x="1479.7" y="761.24">SMTN</text><text x="1479.7" y="767.58">SYNPO2</text><text x="1479.7" y="773.92">AOC3</text><text x="1479.7" y="780.26">FHL1</text><text x="1479.7" y="786.60">HSPB6</text><text x="1479.7" y="792.94">CALD1</text><text x="1479.7" y="799.29">MXRA7</text><text x="1479.7" y="805.63">ACTN1</text><text x="1479.7" y="811.97">DPYSL3</text><text x="1479.7" y="818.31">LMCD1</text><text x="1479.7" y="824.65">PDLIM3</text><text x="1479.7" y="830.99">PDLIM7</text><text x="1479.7" y="837.33">FLNA</text><text x="1479.7" y="843.67">TPM1</text><text x="1479.7" y="850.01">TGFB1I1</text><text x="1479.7" y="856.36">ITGA5</text><text x="1479.7" y="862.70">PALLD</text><text x="1479.7" y="869.04">TAGLN</text><text x="1479.7" y="875.38">MYL9</text><text x="1479.7" y="881.72">EHD2</text><text x="1479.7" y="888.06">CAVIN2</text><text x="1479.7" y="894.40">PLA2G2A</text><text x="1479.7" y="900.74">COL3A1</text><text x="1479.7" y="907.08">COL2A1</text><text x="1479.7" y="913.42">COL1A2</text><text x="1479.7" y="919.77">COL1A1</text><text x="1479.7" y="926.11">COL6A1</text><text x="1479.7" y="932.45">COL12A1</text><text x="1479.7" y="938.79">APCS</text><text x="1479.7" y="945.13">TPSB2</text><text x="1479.7" y="951.47">DCN</text><text x="1479.7" y="957.81">PTMS</text><text x="1479.7" y="964.15">EVL</text><text x="1479.7" y="970.49">POSTN</text><text x="1479.7" y="976.83">TNC</text><text x="1479.7" y="983.18">PDLIM4</text><text x="1479.7" y="989.52">TUBB6</text><text x="1479.7" y="995.86">FN1</text><text x="1479.7" y="1002.20">NNMT</text><text x="1479.7" y="1008.54">RCN3</text><text x="1479.7" y="1014.88">THBS2</text><text x="1479.7" y="1021.22">HMGCS2</text><text x="1479.7" y="1027.56">ADIRF</text><text x="1479.7" y="1033.90">ALDH4A1</text><text x="1479.7" y="1040.24">S100P</text><text x="1479.7" y="1046.59">GPD1L</text><text x="1479.7" y="1052.93">AGR2</text><text x="1479.7" y="1059.27">C19orf18</text><text x="1479.7" y="1065.61">TSPO</text><text x="1479.7" y="1071.95">FABP5</text><text x="1479.7" y="1078.29">S100A4</text><text x="1479.7" y="1084.63">GSTM3</text><text x="1479.7" y="1090.97">UGT1A6</text><text x="1479.7" y="1097.31">SDC1</text><text x="1479.7" y="1103.66">RAB25</text><text x="1479.7" y="1110.00">LYPLA1</text><text x="1479.7" y="1116.34">CAPS</text><text x="1479.7" y="1122.68">MAP7</text><text x="1479.7" y="1129.02">EZR</text><text x="1479.7" y="1135.36">BROX</text><text x="1479.7" y="1141.70">S100A6</text><text x="1479.7" y="1148.04">TMEM30B</text><text x="1479.7" y="1154.38">IDH1</text><text x="1479.7" y="1160.72">CKMT1A</text><text x="1479.7" y="1167.07">LAD1</text><text x="1479.7" y="1173.41">TRIM29</text><text x="1479.7" y="1179.75">S100A11</text><text x="1479.7" y="1186.09">SERPINB5</text><text x="1479.7" y="1192.43">PRXL2A</text><text x="1479.7" y="1198.77">PSCA</text><text x="1479.7" y="1205.11">CAPNS2</text><text x="1479.7" y="1211.45">CYB5R1</text><text x="1479.7" y="1217.79">PRDX5</text><text x="1479.7" y="1224.13">ANXA10</text><text x="1479.7" y="1230.48">GPX2</text><text x="1479.7" y="1236.82">CSTB</text><text x="1479.7" y="1243.16">KRT19</text><text x="1479.7" y="1249.50">AKR1C2</text><text x="1479.7" y="1255.84">RNASET2</text><text x="1479.7" y="1262.18">FABP4</text><text x="1479.7" y="1268.52">GSTM1</text><text x="1479.7" y="1274.86">IVL</text><text x="1479.7" y="1281.20">AKR1C3</text><text x="1479.7" y="1287.54">SNRPG</text><text x="1479.7" y="1293.89">HMGN4</text><text x="1479.7" y="1300.23">H1-2</text><text x="1479.7" y="1306.57">H1-3</text><text x="1479.7" y="1312.91">HMGN2</text><text x="1479.7" y="1319.25">F11R</text><text x="1479.7" y="1325.59">H2AX</text><text x="1479.7" y="1331.93">RPL34</text><text x="1479.7" y="1338.27">RPL29</text><text x="1479.7" y="1344.61">HMGN1</text><text x="1479.7" y="1350.96">RPL37</text><text x="1479.7" y="1357.30">NOLC1</text><text x="1479.7" y="1363.64">SNRPF</text><text x="1479.7" y="1369.98">RPL35A</text><text x="1479.7" y="1376.32">TMED3</text><text x="1479.7" y="1382.66">RPL36</text><text x="1479.7" y="1389.00">BCAP31</text><text x="1479.7" y="1395.34">IMUP</text><text x="1479.7" y="1401.68">ATP5IF1</text><text x="1479.7" y="1408.02">TSTD1</text><text x="1479.7" y="1414.37">HIGD1A</text><text x="1479.7" y="1420.71">IGHM</text><text x="1479.7" y="1427.05">KRT1</text><text x="1479.7" y="1433.39">CLMN</text><text x="1479.7" y="1439.73">HBA1</text><text x="1479.7" y="1446.07">CAVIN4</text><text x="1479.7" y="1452.41">IGHV4-34</text><text x="1479.7" y="1458.75">IGLV1-51</text><text x="1479.7" y="1465.09">GC</text><text x="1479.7" y="1471.43">SERPINF2</text><text x="1479.7" y="1477.78">FGA</text><text x="1479.7" y="1484.12">FGG</text><text x="1479.7" y="1490.46">FGB</text><text x="1479.7" y="1496.80">CA2</text><text x="1479.7" y="1503.14">HBE1</text><text x="1479.7" y="1509.48">HBB</text><text x="1479.7" y="1515.82">CA1</text><text x="1479.7" y="1522.16">HBD</text><text x="1479.7" y="1528.50">IGLC7</text><text x="1479.7" y="1534.84">ANK1</text><text x="1479.7" y="1541.19">LBP</text><text x="1479.7" y="1547.53">CPA3</text><text x="1479.7" y="1553.87">PRG2</text><text x="1479.7" y="1560.21">CTSG</text><text x="1479.7" y="1566.55">HRG</text><text x="1479.7" y="1572.89">CD14</text><text x="1479.7" y="1579.23">GSTT1</text><text x="1479.7" y="1585.57">TUBA4A</text><text x="1479.7" y="1591.91">NAP1L1</text><text x="1479.7" y="1598.26">LGALS7</text><text x="1479.7" y="1604.60">CALML3</text><text x="1479.7" y="1610.94">KRT6B</text><text x="1479.7" y="1617.28">S100A14</text><text x="1479.7" y="1623.62">DSP</text><text x="1479.7" y="1629.96">S100A2</text><text x="1479.7" y="1636.30">SLC2A1</text><text x="1479.7" y="1642.64">S100A8</text><text x="1479.7" y="1648.98">S100A9</text><text x="1479.7" y="1655.32">TUBB3</text><text x="1479.7" y="1661.67">LCN2</text><text x="1479.7" y="1668.01">STMN1</text><text x="1479.7" y="1674.35">TYMP</text><text x="1479.7" y="1680.69">TMSB10</text><text x="1479.7" y="1687.03">CDK1</text></g><rect x="1098.8" y="48.0" width="17.6" height="16.7" fill="#06366c"/><rect x="1115.9" y="48.0" width="17.6" height="16.7" fill="#0c366c"/><rect x="1132.9" y="48.0" width="17.6" height="16.7" fill="#0c3c6c"/><rect x="1150.0" y="48.0" width="17.6" height="16.7" fill="#06366c"/><rect x="1167.0" y="48.0" width="119.9" height="16.7" fill="#0c3c6c"/><rect x="1286.4" y="48.0" width="17.6" height="16.7" fill="#729cc0"/><rect x="1303.5" y="48.0" width="34.6" height="16.7" fill="#6690ba"/><rect x="1337.6" y="48.0" width="17.6" height="16.7" fill="#a2a2b4"/><rect x="1354.6" y="48.0" width="17.6" height="16.7" fill="#ba3c42"/><rect x="1371.7" y="48.0" width="85.8" height="16.7" fill="#ae363c"/><rect x="1456.9" y="48.0" width="17.6" height="16.7" fill="#c05a5a"/><rect x="1098.8" y="64.2" width="17.6" height="16.7" fill="#06366c"/><rect x="1115.9" y="64.2" width="34.6" height="16.7" fill="#0c3c6c"/><rect x="1150.0" y="64.2" width="17.6" height="16.7" fill="#06366c"/><rect x="1167.0" y="64.2" width="119.9" height="16.7" fill="#0c3c6c"/><rect x="1286.4" y="64.2" width="17.6" height="16.7" fill="#487eb4"/><rect x="1303.5" y="64.2" width="34.6" height="16.7" fill="#1e609c"/><rect x="1337.6" y="64.2" width="17.6" height="16.7" fill="#7e7e9c"/><rect x="1354.6" y="64.2" width="17.6" height="16.7" fill="#a2122a"/><rect x="1371.7" y="64.2" width="68.7" height="16.7" fill="#900c24"/><rect x="1439.9" y="64.2" width="17.6" height="16.7" fill="#8a0c24"/><rect x="1456.9" y="64.2" width="17.6" height="16.7" fill="#ae363c"/><rect x="1098.8" y="80.4" width="34.6" height="16.7" fill="#0c3c6c"/><rect x="1132.9" y="80.4" width="17.6" height="16.7" fill="#0c3c72"/><rect x="1150.0" y="80.4" width="17.6" height="16.7" fill="#0c3c6c"/><rect x="1167.0" y="80.4" width="17.6" height="16.7" fill="#0c3c72"/><rect x="1184.1" y="80.4" width="51.7" height="16.7" fill="#0c3c6c"/><rect x="1235.2" y="80.4" width="17.6" height="16.7" fill="#0c3c72"/><rect x="1252.3" y="80.4" width="34.6" height="16.7" fill="#0c3c6c"/><rect x="1286.4" y="80.4" width="17.6" height="16.7" fill="#4e8ab4"/><rect x="1303.5" y="80.4" width="34.6" height="16.7" fill="#2466a2"/><rect x="1337.6" y="80.4" width="17.6" height="16.7" fill="#7e849c"/><rect x="1354.6" y="80.4" width="17.6" height="16.7" fill="#a2122a"/><rect x="1371.7" y="80.4" width="51.7" height="16.7" fill="#900c24"/><rect x="1422.8" y="80.4" width="17.6" height="16.7" fill="#8a0c24"/><rect x="1439.9" y="80.4" width="17.6" height="16.7" fill="#900c24"/><rect x="1456.9" y="80.4" width="17.6" height="16.7" fill="#ae363c"/><rect x="1098.8" y="96.6" width="51.7" height="16.7" fill="#0c3c6c"/><rect x="1150.0" y="96.6" width="17.6" height="16.7" fill="#06366c"/><rect x="1167.0" y="96.6" width="119.9" height="16.7" fill="#0c3c6c"/><rect x="1286.4" y="96.6" width="17.6" height="16.7" fill="#4278ae"/><rect x="1303.5" y="96.6" width="17.6" height="16.7" fill="#185496"/><rect x="1320.5" y="96.6" width="17.6" height="16.7" fill="#185a96"/><rect x="1337.6" y="96.6" width="17.6" height="16.7" fill="#787e96"/><rect x="1354.6" y="96.6" width="17.6" height="16.7" fill="#a2122a"/><rect x="1371.7" y="96.6" width="34.6" height="16.7" fill="#900c24"/><rect x="1405.8" y="96.6" width="17.6" height="16.7" fill="#8a0c24"/><rect x="1422.8" y="96.6" width="34.6" height="16.7" fill="#900c24"/><rect x="1456.9" y="96.6" width="17.6" height="16.7" fill="#ae363c"/><rect x="1098.8" y="112.8" width="17.6" height="16.7" fill="#06366c"/><rect x="1115.9" y="112.8" width="17.6" height="16.7" fill="#0c3c6c"/><rect x="1132.9" y="112.8" width="17.6" height="16.7" fill="#0c3c72"/><rect x="1150.0" y="112.8" width="85.8" height="16.7" fill="#0c3c6c"/><rect x="1235.2" y="112.8" width="17.6" height="16.7" fill="#0c3c72"/><rect x="1252.3" y="112.8" width="34.6" height="16.7" fill="#0c3c6c"/><rect x="1286.4" y="112.8" width="17.6" height="16.7" fill="#4884b4"/><rect x="1303.5" y="112.8" width="17.6" height="16.7" fill="#1e60a2"/><rect x="1320.5" y="112.8" width="17.6" height="16.7" fill="#2466a2"/><rect x="1337.6" y="112.8" width="17.6" height="16.7" fill="#7e849c"/><rect x="1354.6" y="112.8" width="17.6" height="16.7" fill="#a2122a"/><rect x="1371.7" y="112.8" width="17.6" height="16.7" fill="#900c24"/><rect x="1388.7" y="112.8" width="17.6" height="16.7" fill="#8a0c24"/><rect x="1405.8" y="112.8" width="51.7" height="16.7" fill="#900c24"/><rect x="1456.9" y="112.8" width="17.6" height="16.7" fill="#ae303c"/><rect x="1098.8" y="129.0" width="34.6" height="16.7" fill="#0c3c6c"/><rect x="1132.9" y="129.0" width="17.6" height="16.7" fill="#0c3c72"/><rect x="1150.0" y="129.0" width="85.8" height="16.7" fill="#0c3c6c"/><rect x="1235.2" y="129.0" width="17.6" height="16.7" fill="#0c3c72"/><rect x="1252.3" y="129.0" width="34.6" height="16.7" fill="#0c3c6c"/><rect x="1286.4" y="129.0" width="17.6" height="16.7" fill="#4e84b4"/><rect x="1303.5" y="129.0" width="17.6" height="16.7" fill="#2460a2"/><rect x="1320.5" y="129.0" width="17.6" height="16.7" fill="#2466a2"/><rect x="1337.6" y="129.0" width="17.6" height="16.7" fill="#7e849c"/><rect x="1354.6" y="129.0" width="17.6" height="16.7" fill="#a2122a"/><rect x="1371.7" y="129.0" width="17.6" height="16.7" fill="#8a0c24"/><rect x="1388.7" y="129.0" width="68.7" height="16.7" fill="#900c24"/><rect x="1456.9" y="129.0" width="17.6" height="16.7" fill="#ae363c"/><rect x="1098.8" y="145.1" width="34.6" height="16.7" fill="#06366c"/><rect x="1132.9" y="145.1" width="17.6" height="16.7" fill="#0c3c6c"/><rect x="1150.0" y="145.1" width="34.6" height="16.7" fill="#06366c"/><rect x="1184.1" y="145.1" width="17.6" height="16.7" fill="#0c3c6c"/><rect x="1201.1" y="145.1" width="34.6" height="16.7" fill="#06366c"/><rect x="1235.2" y="145.1" width="17.6" height="16.7" fill="#0c3c6c"/><rect x="1252.3" y="145.1" width="17.6" height="16.7" fill="#06366c"/><rect x="1269.3" y="145.1" width="17.6" height="16.7" fill="#0c3c6c"/><rect x="1286.4" y="145.1" width="17.6" height="16.7" fill="#3c72a8"/><rect x="1303.5" y="145.1" width="34.6" height="16.7" fill="#124e8a"/><rect x="1337.6" y="145.1" width="17.6" height="16.7" fill="#787896"/><rect x="1354.6" y="145.1" width="17.6" height="16.7" fill="#9c122a"/><rect x="1371.7" y="145.1" width="85.8" height="16.7" fill="#a2122a"/><rect x="1456.9" y="145.1" width="17.6" height="16.7" fill="#ba3c42"/><rect x="1098.8" y="161.3" width="17.6" height="16.7" fill="#06366c"/><rect x="1115.9" y="161.3" width="17.6" height="16.7" fill="#0c3c6c"/><rect x="1132.9" y="161.3" width="17.6" height="16.7" fill="#184e8a"/><rect x="1150.0" y="161.3" width="17.6" height="16.7" fill="#124884"/><rect x="1167.0" y="161.3" width="17.6" height="16.7" fill="#124e8a"/><rect x="1184.1" y="161.3" width="17.6" height="16.7" fill="#184e8a"/><rect x="1201.1" y="161.3" width="17.6" height="16.7" fill="#246096"/><rect x="1218.2" y="161.3" width="17.6" height="16.7" fill="#1e5490"/><rect x="1235.2" y="161.3" width="17.6" height="16.7" fill="#246096"/><rect x="1252.3" y="161.3" width="17.6" height="16.7" fill="#1e5490"/><rect x="1269.3" y="161.3" width="17.6" height="16.7" fill="#1e5a90"/><rect x="1286.4" y="161.3" width="17.6" height="16.7" fill="#ba9ca2"/><rect x="1303.5" y="161.3" width="17.6" height="16.7" fill="#c6848a"/><rect x="1320.5" y="161.3" width="17.6" height="16.7" fill="#c07e84"/><rect x="1337.6" y="161.3" width="17.6" height="16.7" fill="#d2b4b4"/><rect x="1354.6" y="161.3" width="17.6" height="16.7" fill="#787e96"/><rect x="1371.7" y="161.3" width="34.6" height="16.7" fill="#7e849c"/><rect x="1405.8" y="161.3" width="17.6" height="16.7" fill="#787e96"/><rect x="1422.8" y="161.3" width="34.6" height="16.7" fill="#7e849c"/><rect x="1456.9" y="161.3" width="17.6" height="16.7" fill="#a2a2b4"/><rect x="1098.8" y="177.5" width="17.6" height="16.7" fill="#06366c"/><rect x="1115.9" y="177.5" width="17.6" height="16.7" fill="#0c3c6c"/><rect x="1132.9" y="177.5" width="17.6" height="16.7" fill="#184e8a"/><rect x="1150.0" y="177.5" width="17.6" height="16.7" fill="#0c3c72"/><rect x="1167.0" y="177.5" width="34.6" height="16.7" fill="#12487e"/><rect x="1201.1" y="177.5" width="17.6" height="16.7" fill="#2466a2"/><rect x="1218.2" y="177.5" width="17.6" height="16.7" fill="#184e8a"/><rect x="1235.2" y="177.5" width="17.6" height="16.7" fill="#24609c"/><rect x="1252.3" y="177.5" width="17.6" height="16.7" fill="#184e8a"/><rect x="1269.3" y="177.5" width="17.6" height="16.7" fill="#185490"/><rect x="1286.4" y="177.5" width="17.6" height="16.7" fill="#a85460"/><rect x="1303.5" y="177.5" width="17.6" height="16.7" fill="#a2122a"/><rect x="1320.5" y="177.5" width="17.6" height="16.7" fill="#900c24"/><rect x="1337.6" y="177.5" width="17.6" height="16.7" fill="#c07e84"/><rect x="1354.6" y="177.5" width="17.6" height="16.7" fill="#184e8a"/><rect x="1371.7" y="177.5" width="34.6" height="16.7" fill="#2466a2"/><rect x="1405.8" y="177.5" width="17.6" height="16.7" fill="#185a96"/><rect x="1422.8" y="177.5" width="17.6" height="16.7" fill="#2466a2"/><rect x="1439.9" y="177.5" width="17.6" height="16.7" fill="#1e609c"/><rect x="1456.9" y="177.5" width="17.6" height="16.7" fill="#6690ba"/><rect x="1098.8" y="193.7" width="34.6" height="16.7" fill="#0c3c6c"/><rect x="1132.9" y="193.7" width="17.6" height="16.7" fill="#184e8a"/><rect x="1150.0" y="193.7" width="17.6" height="16.7" fill="#0c3c72"/><rect x="1167.0" y="193.7" width="34.6" height="16.7" fill="#12487e"/><rect x="1201.1" y="193.7" width="17.6" height="16.7" fill="#2466a2"/><rect x="1218.2" y="193.7" width="17.6" height="16.7" fill="#124e8a"/><rect x="1235.2" y="193.7" width="17.6" height="16.7" fill="#246096"/><rect x="1252.3" y="193.7" width="17.6" height="16.7" fill="#124e8a"/><rect x="1269.3" y="193.7" width="17.6" height="16.7" fill="#185490"/><rect x="1286.4" y="193.7" width="17.6" height="16.7" fill="#a24e5a"/><rect x="1303.5" y="193.7" width="17.6" height="16.7" fill="#960c24"/><rect x="1320.5" y="193.7" width="17.6" height="16.7" fill="#a2122a"/><rect x="1337.6" y="193.7" width="17.6" height="16.7" fill="#c6848a"/><rect x="1354.6" y="193.7" width="17.6" height="16.7" fill="#124e8a"/><rect x="1371.7" y="193.7" width="17.6" height="16.7" fill="#2460a2"/><rect x="1388.7" y="193.7" width="17.6" height="16.7" fill="#1e60a2"/><rect x="1405.8" y="193.7" width="17.6" height="16.7" fill="#185496"/><rect x="1422.8" y="193.7" width="17.6" height="16.7" fill="#2466a2"/><rect x="1439.9" y="193.7" width="17.6" height="16.7" fill="#1e609c"/><rect x="1456.9" y="193.7" width="17.6" height="16.7" fill="#6690ba"/><rect x="1098.8" y="209.9" width="17.6" height="16.7" fill="#124878"/><rect x="1115.9" y="209.9" width="17.6" height="16.7" fill="#124278"/><rect x="1132.9" y="209.9" width="17.6" height="16.7" fill="#246096"/><rect x="1150.0" y="209.9" width="17.6" height="16.7" fill="#124e84"/><rect x="1167.0" y="209.9" width="34.6" height="16.7" fill="#185490"/><rect x="1201.1" y="209.9" width="17.6" height="16.7" fill="#487eae"/><rect x="1218.2" y="209.9" width="17.6" height="16.7" fill="#4878a2"/><rect x="1235.2" y="209.9" width="17.6" height="16.7" fill="#5a84ae"/><rect x="1252.3" y="209.9" width="17.6" height="16.7" fill="#4e78a2"/><rect x="1269.3" y="209.9" width="17.6" height="16.7" fill="#4e78a8"/><rect x="1286.4" y="209.9" width="17.6" height="16.7" fill="#a87e8a"/><rect x="1303.5" y="209.9" width="17.6" height="16.7" fill="#a24e5a"/><rect x="1320.5" y="209.9" width="17.6" height="16.7" fill="#a85460"/><rect x="1337.6" y="209.9" width="17.6" height="16.7" fill="#ba9ca2"/><rect x="1354.6" y="209.9" width="17.6" height="16.7" fill="#3c72a8"/><rect x="1371.7" y="209.9" width="17.6" height="16.7" fill="#4e84b4"/><rect x="1388.7" y="209.9" width="17.6" height="16.7" fill="#4884b4"/><rect x="1405.8" y="209.9" width="17.6" height="16.7" fill="#4278ae"/><rect x="1422.8" y="209.9" width="17.6" height="16.7" fill="#4e8ab4"/><rect x="1439.9" y="209.9" width="17.6" height="16.7" fill="#487eb4"/><rect x="1456.9" y="209.9" width="17.6" height="16.7" fill="#729cc0"/><rect x="1098.8" y="226.1" width="17.6" height="16.7" fill="#124e8a"/><rect x="1115.9" y="226.1" width="17.6" height="16.7" fill="#0c427e"/><rect x="1132.9" y="226.1" width="17.6" height="16.7" fill="#184e84"/><rect x="1150.0" y="226.1" width="51.7" height="16.7" fill="#0c3c6c"/><rect x="1201.1" y="226.1" width="17.6" height="16.7" fill="#8a5466"/><rect x="1218.2" y="226.1" width="34.6" height="16.7" fill="#ae2430"/><rect x="1252.3" y="226.1" width="17.6" height="16.7" fill="#a21e30"/><rect x="1269.3" y="226.1" width="17.6" height="16.7" fill="#a82a36"/><rect x="1286.4" y="226.1" width="17.6" height="16.7" fill="#4e78a8"/><rect x="1303.5" y="226.1" width="17.6" height="16.7" fill="#184e8a"/><rect x="1320.5" y="226.1" width="17.6" height="16.7" fill="#185490"/><rect x="1337.6" y="226.1" width="17.6" height="16.7" fill="#1e5a90"/><rect x="1354.6" y="226.1" width="17.6" height="16.7" fill="#0c366c"/><rect x="1371.7" y="226.1" width="102.8" height="16.7" fill="#0c3c6c"/><rect x="1098.8" y="242.3" width="17.6" height="16.7" fill="#124884"/><rect x="1115.9" y="242.3" width="17.6" height="16.7" fill="#0c3c72"/><rect x="1132.9" y="242.3" width="17.6" height="16.7" fill="#184e84"/><rect x="1150.0" y="242.3" width="17.6" height="16.7" fill="#06366c"/><rect x="1167.0" y="242.3" width="34.6" height="16.7" fill="#0c3c6c"/><rect x="1201.1" y="242.3" width="17.6" height="16.7" fill="#844e60"/><rect x="1218.2" y="242.3" width="34.6" height="16.7" fill="#a2122a"/><rect x="1252.3" y="242.3" width="17.6" height="16.7" fill="#900c24"/><rect x="1269.3" y="242.3" width="17.6" height="16.7" fill="#a21e30"/><rect x="1286.4" y="242.3" width="17.6" height="16.7" fill="#4e78a2"/><rect x="1303.5" y="242.3" width="17.6" height="16.7" fill="#124e8a"/><rect x="1320.5" y="242.3" width="17.6" height="16.7" fill="#184e8a"/><rect x="1337.6" y="242.3" width="17.6" height="16.7" fill="#1e5490"/><rect x="1354.6" y="242.3" width="17.6" height="16.7" fill="#06366c"/><rect x="1371.7" y="242.3" width="102.8" height="16.7" fill="#0c3c6c"/><rect x="1098.8" y="258.5" width="17.6" height="16.7" fill="#124884"/><rect x="1115.9" y="258.5" width="17.6" height="16.7" fill="#0c4278"/><rect x="1132.9" y="258.5" width="17.6" height="16.7" fill="#184e84"/><rect x="1150.0" y="258.5" width="17.6" height="16.7" fill="#06366c"/><rect x="1167.0" y="258.5" width="17.6" height="16.7" fill="#0c3c72"/><rect x="1184.1" y="258.5" width="17.6" height="16.7" fill="#0c3c6c"/><rect x="1201.1" y="258.5" width="17.6" height="16.7" fill="#844e60"/><rect x="1218.2" y="258.5" width="17.6" height="16.7" fill="#a2122a"/><rect x="1235.2" y="258.5" width="17.6" height="16.7" fill="#8a0c24"/><rect x="1252.3" y="258.5" width="17.6" height="16.7" fill="#a2122a"/><rect x="1269.3" y="258.5" width="17.6" height="16.7" fill="#ae2430"/><rect x="1286.4" y="258.5" width="17.6" height="16.7" fill="#5a84ae"/><rect x="1303.5" y="258.5" width="17.6" height="16.7" fill="#246096"/><rect x="1320.5" y="258.5" width="17.6" height="16.7" fill="#24609c"/><rect x="1337.6" y="258.5" width="17.6" height="16.7" fill="#246096"/><rect x="1354.6" y="258.5" width="17.6" height="16.7" fill="#0c3c6c"/><rect x="1371.7" y="258.5" width="34.6" height="16.7" fill="#0c3c72"/><rect x="1405.8" y="258.5" width="17.6" height="16.7" fill="#0c3c6c"/><rect x="1422.8" y="258.5" width="17.6" height="16.7" fill="#0c3c72"/><rect x="1439.9" y="258.5" width="34.6" height="16.7" fill="#0c3c6c"/><rect x="1098.8" y="274.7" width="17.6" height="16.7" fill="#124884"/><rect x="1115.9" y="274.7" width="17.6" height="16.7" fill="#0c3c78"/><rect x="1132.9" y="274.7" width="17.6" height="16.7" fill="#124e84"/><rect x="1150.0" y="274.7" width="17.6" height="16.7" fill="#06366c"/><rect x="1167.0" y="274.7" width="34.6" height="16.7" fill="#0c3c6c"/><rect x="1201.1" y="274.7" width="17.6" height="16.7" fill="#7e485a"/><rect x="1218.2" y="274.7" width="17.6" height="16.7" fill="#900c24"/><rect x="1235.2" y="274.7" width="34.6" height="16.7" fill="#a2122a"/><rect x="1269.3" y="274.7" width="17.6" height="16.7" fill="#ae2430"/><rect x="1286.4" y="274.7" width="17.6" height="16.7" fill="#4878a2"/><rect x="1303.5" y="274.7" width="17.6" height="16.7" fill="#124e8a"/><rect x="1320.5" y="274.7" width="17.6" height="16.7" fill="#184e8a"/><rect x="1337.6" y="274.7" width="17.6" height="16.7" fill="#1e5490"/><rect x="1354.6" y="274.7" width="17.6" height="16.7" fill="#06366c"/><rect x="1371.7" y="274.7" width="102.8" height="16.7" fill="#0c3c6c"/><rect x="1098.8" y="290.9" width="17.6" height="16.7" fill="#184e8a"/><rect x="1115.9" y="290.9" width="17.6" height="16.7" fill="#124884"/><rect x="1132.9" y="290.9" width="17.6" height="16.7" fill="#48668a"/><rect x="1150.0" y="290.9" width="34.6" height="16.7" fill="#5a5472"/><rect x="1184.1" y="290.9" width="17.6" height="16.7" fill="#5a546c"/><rect x="1201.1" y="290.9" width="17.6" height="16.7" fill="#78667e"/><rect x="1218.2" y="290.9" width="17.6" height="16.7" fill="#7e485a"/><rect x="1235.2" y="290.9" width="34.6" height="16.7" fill="#844e60"/><rect x="1269.3" y="290.9" width="17.6" height="16.7" fill="#8a5466"/><rect x="1286.4" y="290.9" width="17.6" height="16.7" fill="#487eae"/><rect x="1303.5" y="290.9" width="17.6" height="16.7" fill="#2460a2"/><rect x="1320.5" y="290.9" width="17.6" height="16.7" fill="#2466a2"/><rect x="1337.6" y="290.9" width="17.6" height="16.7" fill="#246096"/><rect x="1354.6" y="290.9" width="17.6" height="16.7" fill="#06366c"/><rect x="1371.7" y="290.9" width="102.8" height="16.7" fill="#0c3c6c"/><rect x="1098.8" y="307.1" width="17.6" height="16.7" fill="#06366c"/><rect x="1115.9" y="307.1" width="17.6" height="16.7" fill="#0c3c6c"/><rect x="1132.9" y="307.1" width="17.6" height="16.7" fill="#844e60"/><rect x="1150.0" y="307.1" width="17.6" height="16.7" fill="#a8122a"/><rect x="1167.0" y="307.1" width="17.6" height="16.7" fill="#a2122a"/><rect x="1184.1" y="307.1" width="17.6" height="16.7" fill="#96122a"/><rect x="1201.1" y="307.1" width="17.6" height="16.7" fill="#5a546c"/><rect x="1218.2" y="307.1" width="68.7" height="16.7" fill="#0c3c6c"/><rect x="1286.4" y="307.1" width="17.6" height="16.7" fill="#185490"/><rect x="1303.5" y="307.1" width="34.6" height="16.7" fill="#12487e"/><rect x="1337.6" y="307.1" width="17.6" height="16.7" fill="#184e8a"/><rect x="1354.6" y="307.1" width="68.7" height="16.7" fill="#0c3c6c"/><rect x="1422.8" y="307.1" width="17.6" height="16.7" fill="#0c3c72"/><rect x="1439.9" y="307.1" width="34.6" height="16.7" fill="#0c3c6c"/><rect x="1098.8" y="323.2" width="17.6" height="16.7" fill="#06366c"/><rect x="1115.9" y="323.2" width="17.6" height="16.7" fill="#0c3c6c"/><rect x="1132.9" y="323.2" width="17.6" height="16.7" fill="#844e60"/><rect x="1150.0" y="323.2" width="17.6" height="16.7" fill="#a2122a"/><rect x="1167.0" y="323.2" width="17.6" height="16.7" fill="#900c24"/><rect x="1184.1" y="323.2" width="17.6" height="16.7" fill="#a2122a"/><rect x="1201.1" y="323.2" width="17.6" height="16.7" fill="#5a5472"/><rect x="1218.2" y="323.2" width="17.6" height="16.7" fill="#0c3c6c"/><rect x="1235.2" y="323.2" width="17.6" height="16.7" fill="#0c3c72"/><rect x="1252.3" y="323.2" width="34.6" height="16.7" fill="#0c3c6c"/><rect x="1286.4" y="323.2" width="17.6" height="16.7" fill="#185490"/><rect x="1303.5" y="323.2" width="34.6" height="16.7" fill="#12487e"/><rect x="1337.6" y="323.2" width="17.6" height="16.7" fill="#184e8a"/><rect x="1354.6" y="323.2" width="17.6" height="16.7" fill="#06366c"/><rect x="1371.7" y="323.2" width="17.6" height="16.7" fill="#0c3c72"/><rect x="1388.7" y="323.2" width="34.6" height="16.7" fill="#0c3c6c"/><rect x="1422.8" y="323.2" width="17.6" height="16.7" fill="#0c3c72"/><rect x="1439.9" y="323.2" width="34.6" height="16.7" fill="#0c3c6c"/><rect x="1098.8" y="339.4" width="34.6" height="16.7" fill="#06366c"/><rect x="1132.9" y="339.4" width="17.6" height="16.7" fill="#7e425a"/><rect x="1150.0" y="339.4" width="17.6" height="16.7" fill="#8a0c24"/><rect x="1167.0" y="339.4" width="17.6" height="16.7" fill="#a2122a"/><rect x="1184.1" y="339.4" width="17.6" height="16.7" fill="#a8122a"/><rect x="1201.1" y="339.4" width="17.6" height="16.7" fill="#5a5472"/><rect x="1218.2" y="339.4" width="17.6" height="16.7" fill="#0c3c6c"/><rect x="1235.2" y="339.4" width="17.6" height="16.7" fill="#06366c"/><rect x="1252.3" y="339.4" width="17.6" height="16.7" fill="#0c3c6c"/><rect x="1269.3" y="339.4" width="17.6" height="16.7" fill="#06366c"/><rect x="1286.4" y="339.4" width="17.6" height="16.7" fill="#124e8a"/><rect x="1303.5" y="339.4" width="34.6" height="16.7" fill="#0c3c72"/><rect x="1337.6" y="339.4" width="17.6" height="16.7" fill="#124884"/><rect x="1354.6" y="339.4" width="17.6" height="16.7" fill="#06366c"/><rect x="1371.7" y="339.4" width="17.6" height="16.7" fill="#0c3c6c"/><rect x="1388.7" y="339.4" width="85.8" height="16.7" fill="#06366c"/><rect x="1098.8" y="355.6" width="17.6" height="16.7" fill="#5a607e"/><rect x="1115.9" y="355.6" width="17.6" height="16.7" fill="#5a546c"/><rect x="1132.9" y="355.6" width="17.6" height="16.7" fill="#7e6c7e"/><rect x="1150.0" y="355.6" width="17.6" height="16.7" fill="#7e425a"/><rect x="1167.0" y="355.6" width="34.6" height="16.7" fill="#844e60"/><rect x="1201.1" y="355.6" width="17.6" height="16.7" fill="#486690"/><rect x="1218.2" y="355.6" width="17.6" height="16.7" fill="#124e84"/><rect x="1235.2" y="355.6" width="17.6" height="16.7" fill="#184e84"/><rect x="1252.3" y="355.6" width="17.6" height="16.7" fill="#124e84"/><rect x="1269.3" y="355.6" width="17.6" height="16.7" fill="#184e84"/><rect x="1286.4" y="355.6" width="17.6" height="16.7" fill="#246096"/><rect x="1303.5" y="355.6" width="51.7" height="16.7" fill="#184e8a"/><rect x="1354.6" y="355.6" width="17.6" height="16.7" fill="#0c3c6c"/><rect x="1371.7" y="355.6" width="34.6" height="16.7" fill="#0c3c72"/><rect x="1405.8" y="355.6" width="17.6" height="16.7" fill="#0c3c6c"/><rect x="1422.8" y="355.6" width="34.6" height="16.7" fill="#0c3c72"/><rect x="1456.9" y="355.6" width="17.6" height="16.7" fill="#0c3c6c"/><rect x="1098.8" y="371.8" width="17.6" height="16.7" fill="#ba3c42"/><rect x="1115.9" y="371.8" width="17.6" height="16.7" fill="#9c122a"/><rect x="1132.9" y="371.8" width="17.6" height="16.7" fill="#5a546c"/><rect x="1150.0" y="371.8" width="17.6" height="16.7" fill="#06366c"/><rect x="1167.0" y="371.8" width="34.6" height="16.7" fill="#0c3c6c"/><rect x="1201.1" y="371.8" width="17.6" height="16.7" fill="#124884"/><rect x="1218.2" y="371.8" width="17.6" height="16.7" fill="#0c3c78"/><rect x="1235.2" y="371.8" width="51.7" height="16.7" fill="#0c4278"/><rect x="1286.4" y="371.8" width="17.6" height="16.7" fill="#124278"/><rect x="1303.5" y="371.8" width="17.6" height="16.7" fill="#06366c"/><rect x="1320.5" y="371.8" width="34.6" height="16.7" fill="#0c3c6c"/><rect x="1354.6" y="371.8" width="17.6" height="16.7" fill="#06366c"/><rect x="1371.7" y="371.8" width="34.6" height="16.7" fill="#0c3c6c"/><rect x="1405.8" y="371.8" width="17.6" height="16.7" fill="#06366c"/><rect x="1422.8" y="371.8" width="51.7" height="16.7" fill="#0c3c6c"/><rect x="1098.8" y="388.0" width="17.6" height="16.7" fill="#c05a5a"/><rect x="1115.9" y="388.0" width="17.6" height="16.7" fill="#ba3c42"/><rect x="1132.9" y="388.0" width="17.6" height="16.7" fill="#5a607e"/><rect x="1150.0" y="388.0" width="51.7" height="16.7" fill="#06366c"/><rect x="1201.1" y="388.0" width="17.6" height="16.7" fill="#184e8a"/><rect x="1218.2" y="388.0" width="51.7" height="16.7" fill="#124884"/><rect x="1269.3" y="388.0" width="17.6" height="16.7" fill="#124e8a"/><rect x="1286.4" y="388.0" width="17.6" height="16.7" fill="#124878"/><rect x="1303.5" y="388.0" width="85.8" height="16.7" fill="#06366c"/><rect x="1388.7" y="388.0" width="17.6" height="16.7" fill="#0c3c6c"/><rect x="1405.8" y="388.0" width="17.6" height="16.7" fill="#06366c"/><rect x="1422.8" y="388.0" width="17.6" height="16.7" fill="#0c3c6c"/><rect x="1439.9" y="388.0" width="34.6" height="16.7" fill="#06366c"/></svg>
<canvas id="hm" width="242" height="156" style="position:absolute;left:498.00px;top:698.50px;width:976.00px;height:989.20px;image-rendering:pixelated"></canvas>
<canvas id="cm" width="242" height="242" style="position:absolute;left:1098.80px;top:48.00px;width:375.20px;height:356.20px;image-rendering:pixelated"></canvas>
</div>
<script>
var A="ABCDEFGHIJKLMNOPQRSTUVWXYZabcdefghijklmnopqrstuvwxyz0123456789+/";
function D(id,w,h,s,p){var c=document.getElementById(id);if(!c||!c.getContext)return;var x=c.getContext("2d");var im=x.createImageData(w,h);var d=im.data;
for(var i=0;i<w*h;i++){var q=p[A.indexOf(s.charAt(i))];d[4*i]=q[0];d[4*i+1]=q[1];d[4*i+2]=q[2];d[4*i+3]=255;}x.putImageData(im,0,0);}
D("hm",242,156,"UUWWbaZkfeVeXdbmgZjXXhVihiaZdbadgfVgXgYZZdUakZZWWoRebgYccYYa/mabWjWZfVbbVrWXakXVgXYawZkoavaqhedgeWbdekLffgpYdkYqiaQfffUwo64//3///z/////k///7926t/dtnjgqljiukkdosmsci/dukikcrosqlfmlnebmVfflZfbpeSfWeeWfcngcgblbsddceaVhcZiYdeVecXZgfigfdZXhsZaaTbZRPUVYTVXXXPWWOXoWUaTRVTdXbTURSRRRZSUTUSLQYSTXVTSQfMUWZWQUTRVUeQSQgOXS/TQRgRNPgWLRbSUgKamXkXhWbWdVXZUQSQWXXjWRcddfRMTWbLuw/x//////v//6/mXs/2a/h/p/YmgWVeZcaiVgQfgcigXSZpYYcY/mjqUOcdUZQaZgbdbdWhVPaSbYQRWYZUYSVOhUZTbTOaUWXdOfTeVPQcWcTUfPWZiYVNORTWWSWaWZbehSdZaXtbcdYYeWeceYWZfUZXfSZVeVSWccaeaWWRmRXagXWZYTcWnVWQhRabMbZUsURblSLXYYciSflY/YobaYeqadMTePZaknaThejbOSccZWy//vjx/x/n4/o//v8/z/jsg01/ZiqcalmWgnihcjjkhbjTewaecfpqtqdfliaccmYeigfcYgaRhTkdVaZcZSjZdXpWdXbdWbYfbfZjZfagWdehcfdOYajeZYTZSWTTWXVXaZaQYYdXkYXeYTXXbcdYWYbRYWcXZSZTUUcXYYXYRToRZcdTTXUPYUjTXObTdaTXUWlXPWeUUZYWVjVgkRqZngeYeiYXPZcQcRcmWYlchfSUUXeX/08/+/3x/w+9/+///659nhl/m/cglZgmXeaqZ/ZajgpXaRdhfXmd/rpeYSrgYYacUgfgfkXjaXXVYdXYSfbSWQbXkSbWiUSfbhddXiWccXVYYbVZaVWZlcSPTUXUTURWUUXYcOdXaZoWWWUYdXbbcYVZfWdXbXeTcQSZZVVdZYWNoQYYVWTYYXSVjUSLeTaWUPVYnVNZeXSWXYPmXhmWqdjfhWiZV/VUaRXZYjdVgZhhQUUcbS1a/2///////y216/x///5/x/1/ffocZmegdrfibehdnaeSUohZqavkmhdUeldeZjWrgieeYlbSbNbZVUTbZZfaXUlddeeXWecabgcdS/eYVcahYVeWYdmUUXLXUWRSVYWYZXbObUYZncUcZTZRdWdVVbaWYWaQaYdTWWZUWccXTPkMZYbYQUYZTXjVWOeTaWIVSUqWPWkVVabeYnWhlWqYpeigXfVaaYcVTTbkaWlggdRVX/dUxyht/////629////v/1//tl/s/bjhaamghdpYcYgjgtfdVZndalbkkq/jQoeUicgXdcoThYkfSaXccSVQYjXXZYZkdZXhTNbZcacZZVddZX/faWffSWehbVWOUZSWPVUQQYUaKZXVbodUVWTUQXXZXUQSQQTZPWTdVQWVVTbSSTPeMWUVUQYTQOTjRVLXRYaJVSSkRMWfSNTVL/lRZmTpXldXYa/QURVZHVWg/UcabjdWSVdfS/s/0///2/y6/x58wYyi8//////UgjdUdfTeiYiXRjelTYQXdbbkZiigkhPb/XaRdQbfecaXZYNbQabWTRZWVdQWUkRbUeTWYWaYdVbObdUMZdcXbcUTbcZRSSTVXQSXcVYbbcTaZUcmWYaXTdVbbgVXcbVWYYNZSgUQUbVXcYYWUpMfXeVVYVYYUjWYOdSYYUWWRrZQXgbVXedVmQfkboZmgcddfUcUWbIeVigRWieojSRagWR/1///5/4p////+/j6u966jm/n/bmoa/hmiipYcgildunYTZlhgnaxmoqcVggjhZfXlucbgThcYcSaZYWYcdYcZYUkVXVbaZdUbZbYgaeYWXfZaUbiTYaiWUWSWVWVUVXTXYWhOXSYbpbSaTVaPlXeYWXRRZTZNcVZTRTYXZeXVWOgSXWbTUYTWUQiQXPbRddQXUSoUQS/SQbVaUmTffWrYjgfXcnUUXacPddj/UZYflbRWXeVP///x///0/r00/s/82x/v/m/2//VkkcXedccwYjYigjpeXTbnef/ZsprfbUiaaaYkSecjZeXicQeXhVPXVafabSTRqZXXdbVaZbZaYZRcbcVdYXUdiRYajSVaPXScYVdgXefijXgYcdxdZjefiWiekXbdcagckch/hdXbhbfkdddYmTidbZZbbcdZqeZYlageTfecwdVYneYafdgqcjob/YkllhdlXkhgmRgdmqgflkn/d/dqfc/yyr///3////////0///4///8/ekvjknhifwejijqpuYbahtnfoa3u0tihnphgaidtpkZpfqjWmVfhcadghhiXfgocecdacgcehfffaieZegifcejcZfmideaceTSVTaXXdXYSeZYcrYWeVcWUiZcUUcbXXZdTaWgVUdZVceYZWTkTXVbWWYUXWThSVQgVgfQcaTqYSZjZSaabZqYdnanYlhdchgWeVchNdcbmbZiYkeYUaibT//z///y//c/3//e3m///t4////b/cgfscZilcldblfqZbXYn/dfXvtwihVqgcZblWcYlf/ciXUdVdZYbYehZjUiTlcZYXVYhXcicWiXagcWeeeWicWTehaZPTTWTWPWcWWbXaOZXVcmYXfUR/UbXcXXTfUXYcadTbTRZYbYcaSTSkQaVaTPbSUaZiSWNfTbdRbaOqSNXfWVXaVaqaijZmSifabdmWZSWc/SVejXWbflgTQYfZU/u/o///v///z/3//4///0b/pu/bXkfcndefkZddejcgViVXpdVlRnthjeVgefaceRjfnchXneUcSXUXfWZcXeZcWkZZXjXUmbjZdbWUcgSYfiecdbROcpUVXOSaSWXXWTWebeSZWYX/bUeXZXViccXZXabYWaTeUZSSZYZXdZZUQmNZYdWTYTVYXhTQRcTYbRZTVnTRVgVTZd/VlTltTnXecjXbkcZVaeKbVgmQchZlhcVcebR/n//5///q3/y/87/h///lsq/k/VnmfcneaZqXYZZgZ/ciMVtiWdfmpsrdRkjWaagVihhhadmcSePbaVXaeiQVRaanXXYaUU/X/dcTaVdaYVZafbeePaZleXWRSZTSSWcUZZVdMaXVYvaXdVVZOhXbXUTZRVSZUaUdTQWdWZbXXVQiOZYcWRZVRYXnQSQYQXYKWYToTTWjSSVdXaoOgnZiYgbfbceUcYYVIVVhiWXfYfcTSWfVV/0/1//3///v2///5//7nW/k/t/gjkYeebUckhjbiejkedMSkYZnZkgnndVlefXedWhhqhcZ/bUZUcbRRYcfUdYYUqbbaeaVdVbXZYiRcYaXffbWbfRggfeUVPXUnSTWXTTTYWNWeKcaibOSUaTUQYOZRUmeeTadQVUXYZVVYQUbQZUZLZUYUUccjbUdNWVZNaXUVWcPRdThWXXTkWghTkUebbXaeVcTVeEWSjlZXgecbVPafbN/v///4/244/4/t/lq/////q/g/bjSWg7fcawOYbogyokmiieeZjgvmcdpqeiqeplofkVldcntWgkfxXnYrSgpZm/fYVaSvhomckoesqeUjYnkKf/O/Ynpeck/UkuTWSSYTSYXQfcOZYWZMSWWQUTXTYXThkeWefaYbVaYSTbUQZPcZZMbYVZdmZ/bPjRZURT/aVUWeXYiVfYbaWpTbrRpWjcZaZmVUWbfOaWhobXga/bTUaZaT/p/////t///r/t//wz///ug/n/eiOZd4YiRuUXcgmprgghnkXnvi3nfkryccnjoqqikfjmqabfnYdwdmXpLXaPtjibetWhTknXdlojibhqomqVpgbfNl/nhnZMktQWVVUUWUZUjfQcdecSTRWVdaZQZYRsheWfgWVVXbVOahZUeMWedLiYZZZeZnZSeYdUXWaaXUZlXZlbkbdabqXjmSjXlabTiZQdZYeTZhinZb/blhVVYjWQ4//r///p4/x///x0/////l8vp/bjgdk3jfjxQbffhtejhgffXimgzvj/y6gdsjdnqjkddobbmijcmta7RlVmkYweSThhYoSb/amld/opb/cooXi/hkTdstiqYRfyYSSSWWNWYSbiSZXdeQSTWPZQWVUTashZTbbRZVNVYQPdXSaUbYaOfSQYYiVnbUdYZaXNXeSUZkTUeVlYbZWmUgqTnXkfkbbjYhSafTbVchZagYkadQadZV2W/r/6////d//v/6hwz/j48/0/ZmPad1ie/zUWXknopsnhdmbhefwraivxginjh/ppeXj/jcWeiimtethUVXRS/kZOapNhebkNYphk/g/rfrsTm/ssYihlfngPruXTWVVZQafXlbScZXaTWZdWXZcXXXVvlcUfZUXXVcjVaZTZjSZfbLjXZYdlXmbQdVZfWRgdbYchUWjZnVZfbjbjnZpgoecYZiXZXcdQeYhlZhfWgddfUibd/w69//2//4//y///9/1/r/z/h/XyTbi3kgnxZcqblogvgjdiPglptlgjt3opjrrstijhrYokdcmphxewXZdZkV2liVQdZqXTiU/kcfjbj2pmnTdwmrchmpgfgXntSQWVUXSYbQacSeWWaNUUaScYaQYZXtgdZdcTWYXaYRUgUUbTWbdOfWYXZeSgYNdYWbVQYbYVXgRUibfVcVbnUZnYqWnebbYhXgZdfPdabjefnfccPObcWR+o/p//6/6//y/766/w///sh/p/irSad7phd2UZbmjvunbfdeaYiboehmt5ggvofajglQkfijdedjfqfrYaJkmZsbYKVeeuYZeReYmpfbkvfsqUikikMj2upcQXutTQVUWXOXRWgbTdbddQUUXQTcbOYXPnigXgdWUZVWZYceUUbXWYVRfVUYcdYkcUhWedWTYaVTYcSTiWkcZTUpUZkXnZjghaciafXUhLXfgsZZZamheWbibX///2///5///////0v/1//l////gkUfe6fpd2XXelkioshhYTZctjpqcks/ZXmhinmakYqgaugeWnjnQ1fWRRaYrfffYsW2SXqUweajvOkx/prdbialcpuosnYTn/UPUVTTQWeYddObcddUUaZXZadQXYWsiaWfcZccXZhUaeZXcUagaUiZXbWkblfUfabjVTcddZaoaWkVlfbTanYkoVtdkkfaljcgZihXfUbmcincmjaXZjeW/2/////s//y////w6/////b///irjbo9mgkzV/ilevkqhjklSkrqyzlcu6gbuokqopgZvndeq0djp2e1WrWdhO/kgbafeykxqHkmahlljxj/palpcyYgmujpeckrSTPaTUTaaNZeLdYehKUXXSVYbWcWTtbYXjbUVYU/aUZaTVfScdZReUZcYhYmgPgWcfTObWcVYiWUiajeibenOjjUmTmbaVbcUdUYdJfc/kaZjajiWWYdZW/3/j//4/2/56///s///0kyyt69fkPbj1gdcyWfjqfwfsjefacdrlutndv/digsm3sdkcqkjekfhoi/hofsabeXwfkO/kdhvlnWlehgqjfqn//Yf/ZmjnouqsaPjtNTPVbYOTXUaeQcZfYMUWUPUZWVYWVqjbUebVWVTdcOXXUSbRWaVMaSXVYgZjdPeWVaYSZeWZRgSUkWhQdVViWdiWoZlecWhfScXZZQbQggeceYidTOeeYYym9v///y//7//3//g///d/e/r/hhUUc/jiZwMYblnneuYeieSXjYskfUr9ae/ZmwqklWlcup/jfhi/euQjZebU/rqSUWZajo/ShherlWgthlpXftkuIo/scdSA/vYRTWYXYUUSgbQbWZXQTWWQTUbZUVXnjaTebQZXRXaRXcVXYUZfZSdTTXaeXmeSiRYbYTYZSYTgXWdXhXaiVsQdkcoZdYfYggZaSdXKcUdibUbZdfWXXZXY/s8+//r/62z/8//kb////1r///hpYWi1koh0MahmjvkwdhgiYdiiw4gik7adrgitohfaoetdZhmkl/UhMoXSaKxhVQTadongoKlikosXemjctWh0inVczrppYNcyWOSYXTPVXUcfUZZgcQWTYPaXZLaZTtccQkWRWaWbZaWbbRbXaYaWeZXYekckcRgUZeTSaZUV/gTZeakVdfYnbelZsamhhYhlcZUWaLbgfmXahdldaaYeZXxi5s///8/3+/683r879//3/3y/kkUmk/jbd5OYjnnlhycgfcVamkikaWp/gdrljwxdeYinkZikseZ4j/csLYWd4fhYQiP6/ktbhuoun/awptoV/shxbyyydlhMfvWYaXWUVUaUhiThchhXZVXXeZgVZaUokbXfYUcUVYWZcbXaiWddbUgaYaaldnbUfUcfZXhfZbakZXgZlakYZzamndxa/rkafkXbXeiVcdkjddhcigXWejcW/4s3/////2p/////43//0/p///YnYWm4ufkwTdfndurpljmrdpnpvqnch8fithiwrkcdnhtvirjpw/W4draodX/4efjoaucfhOlnpntce8qqjct1dpfiwwlplgerRMWXWVXXXTcdQeZZdSPSVUXaWTVVWogdTfiRWTPaZUYXRWcWXcXQdXZaQgX/bOcTXeWSdfWWX/SRiYlVYXboNglYrbqhgVihaZYedPeXanVXmfidUVWfSW/jwx6////5/////2X/z/3mh5//SnQco2hgc/ZTehflbrkkdbadhcnnfot0ZZrdishjbV/gm/hpnhk0dreXUbPM5laWXmPmfqfTkbeieaXwiphkxnakgcupkTZDgvRQYYYbVUXPdaOaVheKTSSRYZbPWYWqieQYgUaYSYZSWZYWgRXdaJfWUXWkZkeScSXcVVcZTVeeSTlXgWWTZnScqQpVlb/YZfWaYWeQZchgZbmaieZPVZXV/by//u/1/2z///vs3p//6ze///XlMae1qhbybTdjenmnfnhiRdgdsqfgu7eeqhYvwj/Ylecrc///hugnfvUbUW1uUaffMt/mhOUwgfnUgkhvnWi/koQpohkoZbgiedbYWXWdeYTTkbVUdcciYYdaYhaWXTdUXZcTZUZUMQaYXZiQYMWSYQWcaacTbUbZOYXaWTSeaYYoXYTWicgnfvpehvdjbh/kjnXezlbgolfqpafnqpiirqqu/9/37x////7/0myl/y91j/8/jNdmrkirqsneXpqciiwrnmLibgxYm/kfvzTpZo3w/vgucsjmnpoxm/SfZjjUqydZLoPq/urPg/hixfc+prtciomscq/wZ/aPnlXUeZQVWVdXMQhcSXUYQdiZUNbgWVURfNVbbORRVYHUTZTUgPSKRMUQVSUWbVbYcVMUTUTWTaVWXfQVTUjbifwusSgxbVZqlcguWduacksfcjjYkv/bkTrinbymPpiil/fty//Cj2rsT///m/3UpWtWaxwgoodiobnbnjlgPi/qncsuda/nShXrpp/iLlnekc/mm/ipOaf/VTtbWSacWoehuPWnkbufbnYqqOYogoMrgkokbPfkbfeZUSZUcVVRfUWVWVaefVZZaiWbXSlRYYfQWXZYSNVXYVmRcMWXVTVYVbWVVXZdOWbXQXTabQXnUSRVmmekirred/fZWmkgcsiaibZcmjbpiaZqjhghtg/wvpJd/h//m//uqXy/nw/q//x4/pNU/rM/tuwhm/bvvOaddZghWeuenYhRomnVWls/zjieddpqckn/U3Whgdkb3aXTVfWlgrnblnVeqeVpprgVdohibnno/hYStgSfaXUWWcaYRXhWbbbTcfcWdWcdZVcUsSacfPUXcaTaXVYYpNYJUXfWaYffcVYZfXOXWYSYTccVZjYYVUob/inprue0iaWdogeobejgVi/gacqd/durmcwj7/jm/tinv/jw0q/h/0vrq////5gOffkYriuZ/bUpqhkdj/mriz3epmavpaovUevdln/hplshlggqn6eqVaWUoin4hUVkRrffic/contiYvnnqkekh/YcumlqmRqfWbdYZTWWYPOVbeXVaXYihaaXdbVXVUlSZXiNRQacTTZVXYgPXPYPXPSUWWXZZb/XVXXSTYUZcSXiRRTUrbokn/uka//gctp/brdXyjiqx/ekfVlnpnmYxdu/tNpXylt9vg/zj//Sp/j1///t0PmRkWcrnlsnqX1voXl/mf/wYY/aesoZljbfWZwxyps1jijt/XmnZhckXYiUpieZbkZtXYbVkjemme/tmfmNZmkgbku5WmjTZlYdVXYVXXZWRTeZMVVUZ/eUZXcebTaUnTXZgVRVYdMZbXeVjSXOSRXObZYbcTaYWXKMXVZVWVXVZiWYPVsljfgvpcappaVg/eouUb/eVlqoXnjjdhpxf/kn2/tleosgh3v///wz4dewxg////t/oSgWXhycnjSdUiphlxhlgqpk9odvhYebT/ZVigrngogqZefjsov1hgPTe/3lgXNmW/mcdVpYgwwaf/mnoVjuinRj/iTciPgpfaafUbRXYYVUkfaXUUbgiXY/ZfWSfVmTZWfRRZacIbVVXTiSeOWUYQfUXgaTafaUPXUWOZVZZbcnSYZbf/jhqv0ef0kYStxmjvhageRn0cYesdqutmsRrfwo/gm0bvi/ja/8/j60zaez//f70UmbzaZnsuolnflkjphr/swoxZ/jXl1PilekcfZ10hbqkrkgjaoxU/d/cb/XrpZSbkXpZ/aem/k/mVk2lmlPjtnnTak2efUPkbWWWTWWRVUNGLhXRUOSTdaN/TXWOSRQfNaRTMHTWUIQNSSTgOWDOQROXPUa/OUSQUILVNPTOQOPVaMULdXUcdOqsaVgZTPZoZTmXTkYPbscXkcgVey/nXqg/l/ni//1ktpt//v/a/o9/7///S/FeShcVrlfacrnb//YTlcTlsgTci/mTPYddbUa/hlRbYgkiR/bhhZZgeHe/JodUTRXQt/ZbZeZkfqbZcanhSccMhBfqlemTHslYfcdTZUZgXWSkaVWVWXkfUWYZhVUdQtRWcgXWUZbRZabSVpPaNWSSVcWTaXZZUYdOUWSXTWceXZkUYUYthogapvcYujgZetrmjgckcbjqiXx/srpudnong//+bjc01j/0g///l/ig2n1//lujTrm+kUi/vkfYinmmj0fmqV/ipudrbiYXpZgd2pkypbtbrWdgaiWaYoWbXjbiZbXaZYbjjcdZqdehlpePfXiaTWaUaZaZcidffWebYZSSTbPMSabXVUUSbeYQTbcOVZSjTTWbbPWcaOXQXUYkPYIWMVQaVUadQbUWUIYWUOXPbTWScRWUTqekhgq/aerVYcg/gVrdejeWmudS/fcadppdYsf/0rpjiq1h/sYlvzb0x///r////0UhOs/Vck/zQYaR//khvjhhnrivjsioUjcirXXpe/glhXiUhdblSXb/VYZWWaYaTXTXWZWebbpdSXclcQbWbcYXbSXaSVVbddeaWVWUTXPZZMLhaVUUURjYTUWdaWWdQjVSWZMQTZZJPXQTPdOSJWVQNTQZZYPYVWVOSSOVVJWaORjPNQUkehlbxqXXukTXjnhgtdahXbbogYjikedvjiasZqf/iakO/i//K0w/MuhauYr//q/1McU/dMn/mlXgjoZ/aahqZZpifymf/lFtfQcirwbunetQqUcYZgXXYpZZUYVNXVX/QWZcbbVhkbTZloXNVVgYRTScXcWPaZWRgYdbdaXUVTVPQifPWaVVjgdWUbhbcYQoVbdZNZWYcUWcYdWoQbOUTZSYZdaXTZdWaNTUYSbaWWRbgRSXYifjmeuvhgqllPntdh/ZfsbbilrYoYZftuniVjb2re/Mgkjt/qza+0gyYoqq///1/sbYPyakmthpnk/m3klemknitnl/hbj/dvjgaVhqmtg//YvdfifgVaZmYfTbhZTbYYTciZmjcfsWWanocQWYigTbZZbdVVZdbZlWbcYXbZaaVQScaVUZSWeiYYWceaVcThPcXbaQWVYPVdVWSlOZMXRYTXYZcVaaabTQXVXTUXbcWehUVTYnpZZlz/YjpvaTh8oiiheuahdoobbYbmqxmobugw//kQjiu0/rd/05wzo/Iv///i/4MnVul/kol1/jqsvnunnWag3pfometjdphfeXyqaulcvHS/9b0hlSlzgC/i8sn/Qxnj68gTS1inQW1jcTbicY/logD5i5w//ifbcaUQVaUWSQSgaQXXXWcfWebddYWbThPYaaQRWWXNWSVWTlRWUWXYMUXZbTSZaZRLTUWWZPTVUYdSURWhogoZqpZbugWdfzgYsWYoaRhyoalbjgbnjkb/h/u/Zi/O/6/v/lr24hxdt/b////3aYZnmWkqskjhhk//aZnk/nwmZznczbUspbXRwsiuqnbAH3/d/+jeow/DVu2pq+fnt4/phAY/scAT1foRTOe//WgZNrf5///NeVfYYSNVRWWKPifPUVZUfYXbXabRXaTfOWcfTNNXYQQYUXSgMWJRRRPVUZVdOUYPUMPYYSUUZXTdhQQIUeUcnj/wdXveXYdupjliWoYdfrmTSYdniuijfqk/b1Td/nnl/qS//tv2/i/ll//z/n/edtgc//cer/gansamtf/UmPforeZpgooRmNe/couNtIE//W//hUn/oAUU/yr/jozjw/VSjz2lMKpWaRaaai////O2Kwfrf9jaceYWVVXYYRSmdRSYVbfgZbSXbYXfYpQYbYQYbTZJPUZZWoNYSXQTSZYXaYVWTYUKWWZYVSWWaagXWUUvmdokztjfsnZPkogfcbchYQdnoZpihlh1pkcsb///UWWcu/qfizvwiloY2xs//w3iXdlbblRoawqbxx/Vjsdnpjmqmd//lheeidjmbnZcqmgA/71/hyn/etpLaY8/sycgcq//eR/72WJNweXgRbS//eg/Nqfdn/sxbcaXZXSVXaTURjaT/WYYgdRTRYeVUZRkSfXaRQXUfIUZYZQmRdNVOYPacVaYTTWZaRUYTQVWaVXXkSR/VpajkevxWSrkcYl2eezXXjdagwuaccekeylra/u/0/Sgn1///4po/f0rxU4////p/jgiWfWoeffsjj4weYk/jcihd1ffflbirh/kehlhhlesgQe/mese//VjpJ/V/91xKht//omS/psTGR/WgakPc//RYeI8C9hp/sldbiSbXWdcXRVkhaXZYXedZbXeaYRaYnRaacUTUXcMSbXVZkPYRZXXbZVZWZWbdcXPTcXXXTXZWdiWZVacghhc0t/gudVYqwpkklhziXjjlenkffiothY4g//6iYjh///cMs1/k78jyng///1mhhWLgieomrihz/lcjd/m//ippoul/lmcdnnkbmqhfxilY/s///pS/vrToi/ukubqzg+/gLn//ZHZ/Zcb1hdq/v0kHvFo/laxdccgZVXXdaXQUicVbdZWgfabWelaUZYqPdfhQUacZMWaWYbpReOVSVSZfciYZZUbWReXVSTUXcWblXSRbpifknrkRXtmgdq4kh/fnmhZkppWl/dngwpgYpl4/7pPhs/3n1W/u1R/z/v//6/0womkgTgdlpnrkaqolYdkxelhkqknzmbnsfckndpflic7cFKx2eGr/ccvmSe/pug/R/q//nqfn/kmAX/R/kPeaj/qgxRwP//s3smYkTXVXSXbZLQeeaaWYXdbXYZbmSVYUoSiagSRdWVLWbXXWnNaMXUaYYVZaaYZaZWLXWYWVUYaSajPWUTkhpgl/sWY6iWdnyoVedgmhSmhndmigidsimZln32//ldjro//xm/qw/oW//j///sltYPeRnebmxTbutlajidcnnk0mp6mdqkcjmnninZeevdAZw8/m7//bphPay/js/Mpqbqbxu04/kDZtaeJlTJl/jdQSoellveihdgeUUZUbfUTWjbVWfbcggbZXefXWXWkSZXfWRWZaPXXbTUoQcTcRWSYZUcbbWbZWRZTYUXUZaYTmVVV/cfprYyrghzZXbo4/mukZxgXhqnS/amgo/nmfthw1/mW/hhay/o/3mp/6l/ja///+jfmWYcnkYjpXmxwkenqtgtihsmlw/djqcdjdpqlhgn1mYj/iUt/pdduiC/W/sz/Xl/tz/dbZ6/bWV/cccaXlo//mkJ0Ntc/nssY//UfTh/om/l//4tX3q/yii/6n/lxnw/i//p3qb/fxU/t//amdcguvdanqc7/rafvc/wXrgApvkhQL1/tfeZWefC/ln/uVkXxjhTmeMvapYRAOb/WcYsbRXXXdRUoWVcPiZZaUhcgbcgqdXoTelqRXaVVTU/dYdaWYURUVYfXUhOUgUcVkSYVUQXeWVZUTaZcXXpbcfTZXVdcgU/gZVTkYWeSTXWWiWhckdRXcTghcaVVXfUbv1c/KlPvgnbVA4/o/bndYhYdlw/dYxepnmknw//Z/IRj6gsfnywy/e/hswrotKnpkkblpj/uix/ytgj1/gn//U6/k//Yxyne/wqw/wVKf/YUiZgRcggvqePQbRaQRmgRnX/bdWWiYgWgYlggnYfdeWRWUfcRUcRYSTcROYZZfYYfScpUXUjXWTYYafVVVdZXdQQR/UYcWYWSbYYW/jcLRgTVbaZYVSeQeZZZRVkK/eUVWSeVVWiyr//bal5v/x/pjkufwf/jlUasg//2v0mh/ii//l3/gc/inyo1hq/ddsrpVmVlu/2umQ/p/ksx/ZueitYafklYmjlmldrosokhniW/iSiinQfRnqw/J/d4/MWicYapaT/ZgdabTnMcieegkXsWffjZWbiXZYYbWUbOabRUUkeSYbSTkSPanaRaaYTdVfYaeSYYXXmZgcUaaRdeebxqUhUeeXdgTYWYabedifbTcUcnbUdUYaVTpjq/e/gs2m/zR5R7uUSq/lsb/Y/zUMzP4aVyXfwVk3vv5Vf3spipm/svdlTVuxZXce1/jvaVq///Yp/U3TpybXlpd/h7l/wbQjq/W/hjbq2IedHhUY3oknWbdcdYUrYRmUkWgfYofjecepfWnVkhjSVbeVbaafTYZYZURUUZ/cWjQajaXctbeXYaRcYWaWdWYSgbmglhYs/WZeebvpTPVWfWZcZVZdkbfdbdaXcRenWYZXfSaTvcUxZv6///itr0k/je4m///gtkuRr6tkj/amh/l1kOs7/j//ZvX0/rtmePjgiFcPgMtfkvzfnr0AuKWv/eixby5ofmjh/xfqQxbiiuZ/wN/YcYrlhVfnsZbNWjbSRnYXfaqcZgQeYZffhldYiR//lZUbhVaRYZabbWdWY/SbbYWXRVlVKcxbVRZTWePSbWYZdVNV/feTUgXPcSaO/nZUPYhVcYYXSTgbbagWUVkbZlYdTTfUUeegRQshu//jfpbj//yZlh/sPZ/1/cousWOz2vj///6Ib6/r/lrvvdzrcfp/ekp/gcXl/srn1ef/Wvm5CQ/QmSaaugL/oPlnb4gzMkU0l/quWIOYlcdegYui/NQcbTWrdTgPkUgaSrVddefhZUoVdpkXWPgXWUdaTcWTfUUTZVZYQeUSsYWbkWVLeUbaZUXYRWSPJYaMTUdUWMULHfZVkbLPYOPXa/YONXRNYSaGMUTTbbQJLOWTaq/secy/58g//x6tbc/v/dZy/j/zP0ag1wyW5/nghlm//7/1/wh/myYzXnvWl//hri0ryg/jf8Vo/mqX8PbnhQz0TqrmqnvZVebcnneW/VyAXUdYqVkcjr/QVgWUTubRpdkfemThZbabaqVbjdnqjbVPdWeYZcbdbSdVPZTaeYXaTamZbep/cTZZbbRfdXRYPKMWXIWYUWRUWW/gaRkbYadTKUWiaVRbSQXTUNPaRWUYbJXUXYzrzY3//6/SjTv/p/3hur/qfe12//w/kOZgB/Iy/eyLim/4qvd2d4mo///X2o/oU0ujjWpd2ZfbbgpHrOtgYk/RewgoljsoU/Yprnh0/R/UoYgbKVUsjwibJOPXZTZkWVkThbbfPcSecZcabVjHeljZZZaTbOXWTXVMZOSXXbOTRVMPdTTVhWfRSPWaZPOMJcQNHRWPPRMPVHTQGiPNbPSNKKMWQiUSMQTbMOPIMSTLSOTKPKXNlyrzhitf1x/l/2czsG/R/f0/Xf2PXwXWmin//yjT/jh//hwtlo/mebvRqeOf/p/lk/jmyc/2W23xc0yuvpms8ScndnnlemVSU/ldh/yA/vmHikbinWQ//OFNUcXVW1YSnUqjUiXgTebYfmdYqTaojRUbdYgRaaXgUabQQXdYTaWcOTiXVeibeMZUbb/ahPXTSNUacKXZXbXPWNTmZMnWXYSJQbX/aTRPbSaTeMObQaXZTRRaVU/v/VpXqw/rf0r/0/qS4ep/Lyry/nvpHjn39ven/rnwXg2u//0f/2/r/o/hcvunyj/cvjQZfaa/3c/5lw/bR/dXoqKh6Y/mj/H/hl/lnswiYgKTnkFrd/k1XVYYdbWoXTgYggaWXsUfgcdhaVuRgrfXWUgbeXXXZVZLXOMdYbXb/eWanbSanVUSgTbfdgZSIOQNXZXLZVYT/bYPSifYoWSUULLWTiUTNYMSVWTNTYYZXURQaSSYxZxcoUI/0yRwbw//vPia2Yb/a/6yjoUgfzqpZ1/hlxWhiek/jgkq/extcavs/Wdq20XobN/ew1/noQuh/QZodP/un/SdxPpjTgrtWopm1UjRWbocAcorNYSTSZZUVrYLhTdgcdShOZacd/aYmTShhUbTcfbQTWXYVUSYJPWSabgbOUoUVYjRcOURZVbPYVNWMUPQXOMQRUYMLGIXWTa/KaQHXSReURWPXTVNRSKRSQXeTMRLQNmoqsxW6rspm//////Xt4/cXf//ywwz8ltn/bUlx7/ulj5c5tw5/u/ek/p6r/w/upQT//bhhmhi0YW//5aXne/T/6f//q0tm1mwv/X/aV/gvVgegAMefloVPSdYcfZrcQkTpeemcdSeXahtedsUek/aQXbYjbaYYgaVYSQ/VfgbXZVWjRZTmVZTZWWdbbmQPTOWTTXLTMaUIUTQPcWefVQeWSNXVeOVObXT/bVOOcWZWXTLSNXY/jdd////Yqk/jlqnnT0//1an/kZxndTzmee9psZl1V9ibuY2g/lyy0s//1JaofR7x/hc/d/0mi//Vpik/ZTUeSz/sqoisa/ZJpRnykjTv/nRebPblfY/o/fWVcWPStWVjTkZfeQibaSfcgXVlRdlkQXfaWZPdYPbaTkRPTS/aXTVKZjdUYoY/VgYYaZLYVTQKVNVYPRMQUVZWPMeQNhSTQWINdLoNQKVVVPPRJRZJUQVUQQVWSptfaYd/V/l6/g1thfv+XzcMV5n42/yUUbqvker/rtbp//wTe33FfgqzQunak/ykzkb/n/m/rd/kfZYXj/Nipeih//m6/hn/gPkavpp/UsV1/bdVZ/herhnMUSZiXUleXnasgdYVnhgXbmpmV/VdnhYXWdbZYfTUXWVfZXcTZeacieZiZRbpfXZfVcgabdJPYOLMbYRVSWeZgTNWlRYp/JYbMQXNkWPUbTdUSWRHYQ/RQaVNTaTYkmVrQG0/y/eA//RnImJ/amuld/regonYilr/t//yu/n5oqNb9o//OrmWapgulm/TNwXox/lY3lmW/e//alcUfdYab//tWIcPeWeYsUkcSndVibhZULneNSWPbRUVmYQeZmaTiUiTZUedgRVhNipeSTUcWTLVYSebQWLLUYYWXUXQLbTPRhURPUT/dVRVQKXOMMRbLQPXgUJPNC/UOcbOZMDNSSbVL/SKQRJTFPaGaPMVLHLVP1/qsXXu//1/hJhsjod/kwjbd/T/7sXmkdc5/n3/R/////glzZ/MfkwlUKhs3/oWQl7Z/Z3/a/ataqiehlbhehXXpb//i/uncHvOw2thlqMdWPGeN0jmk/doWYcaZX/hNlTkfWaSfSdccciaWvQeqcaWbXSZUcYWVZXYbQZR/dRalRVgWTVkUXNVYZ/MVdRQNVWQUbMSMUWa/WJRaXSYXMRRUYaPbRRQaaV/eRNGVWXXTXFMQXM0bt/baqZ/UV/1tmi/lqz/Yu/n//v/orKz5dob//1cormtHkKmk/vcxnhknvry/iw+m/1gZ/bo///Xncru/KVpjvtyfrPuyzbqtW/vp/mwhSPfatWegm11PsYXbibVojTlThcZbYkbhXXojhYsObmmWSRehWb/dUWWWVWVRbccXWeTa/XcQ/efVcUX/XbaZTXPXVXTONUYbWYVVJliUpcSTORHTXgUTMZYXSbJNPZTQZYYQFQaPwhb/obx8//o3xg/rmIht/c/N/n/VjX/Ni22/r/4s/k/joZ01Xtjwx/zV5ims/kiu2ts7yh9s//cjQk//ma/Rtpb9VkEs/hbHQi/isuuR/nigSrflbmKrkMHXadbYUrdWoZ/bjbYuaeffdjdXsaet/YbaffeUkZbiePiXWcbWbaYrQX/fWbqXZThWdcdSaRMXVROZZLWYab/SWRDnfOldYNVOLbLmYRWXUVYbPNLXVYagWWWMZb/pjQni5/Xfyq//o//m/Q/rXk8nhhdZq/W///areqijlh/jSgpjtjvgs/2/nYifcjyVWowpgAho/o/RXz/nc/cQ/0bpPxdZkIRka6uTbMho/YRVKXqamkldRLQXZVWoYRgWlVRcWhdiZabnSZgSf/fSWVWPhRZTZUPVTXUPTgWWPXQRnTRRiNYPSQUcTRXMMSQJQNcITPPZUPJHHcXXgQPQNKSSNdWLQSPUVOXFMUOPTISASQXUovVg/WdZ///ZZno/2M///kpkmv2YP//whkvZweyjnqlaqwvo4/S//Vc2Ukeadv/xyu/pak/lp64Y/z/npag/XMQbW/iv/dnZQoh/e/vdlVtPcOZTZgg/hMJPZkVlUsaQcajfaaQ/TgecfgbcoN/lqZQXYZcSZcbZfPTNPWVYaQTfOfkWTUieZOaaZmUXUPQUTNIM/MYWNQTNVXIgdUnZVPaOPUYaZOVZV/TYgPPaSOTU/GRRTZsi/t/c1L6rluv/ki/XuT/TV/gk/l3/tZoyjjz78x10mi/O/1/nc///bQuep/gnYgp//b/h/fO//sXsS/6Xdh/OZnNyyg/ooxOVawioqRxdzfPfkMPmjnvibRcUcWYoTNiYmhkgQjRffjmpdWqYgkeWTVkcgTWeWfaObaQYWWfaRZNSmUXSlfaWbdWibRfSKRQULWbOWVVcVUTSLnOMdZUPVLMYWgRROUQeVXZSQSTWfUbOPSQR/c0m/d/o/fjhZnuelZ////glfT/gxikqoogpRt1cN/Tp/isnkugu/6h6a3e/t/7n4ld/sm/oag/eOWwe/ahtV2ewjcwkpeYSUXnojtyOVsTiWmWEhUt/uT/MXabRMlUWcZkcXiNeZVi/njePnVeijVbec/fUbZaXYcWXUWSabYYgOVhcaQhTWOaUQdeUZQSVRSFXYQSVYVdTTNP/SO/VVOTIPTQiDQLVQTTcUGPMOYRXXMGRZSurzap1///gk/T/1/hX/u/q791v/6cx2k4nlpiq/k/8/e7///i/iqzu/KKSp/f/k/tylhlb/xI/2fqHj//QfZ/bzqp4yrXVTcaunu//hU/juhaZuWoai//jiUZlWgdsYZlWljheYhZgcefkchuUoovfXdkehZbfVcXbfcVdXUidfeYdsYVdudhTWOegRWZUPXWUKcaPSQWhVPROTndVkdRWXNOPTkWhVUbUbW/SYYV/dZeJQVbZ/uisY2844bj/qllP/L9j/j/k/nqlndkjkafeIlrdranhxfw00jlTf/W/f3vR9oTagAYSyp/hn1nik/xm/Rmt/TkiST//ndicio/kipdJpkpcjYedSW/qlsJKVfZOUmgVcaqYUbMnYbdbdcZVmQhhmWSVWUXWUZZdaQZSOSRVeQZiRTjUVW/WQPYSVc/UdWQWRVTaVJTOYXPSWTHlWThZOaZROPJgPWSVSVNVLPPNILUPYPRRYR/Um18bu//5zi///nwKt6/1OYa/d/5tvOsV/Rmf/gf/ouk/lsb/W9p/hvk/pu/ZvydW/rmp/pn//4Nrq//liqYYnQfzzsxukWbphocqm//ooWnOhhggi//laYbYgcamXRlWldacXfXcYgXtagtRhdfTWXhbRRZfOaeVZaSURXcWUjSU/dYZpcdXgWWhYWaLSZTWWXSOXTWVQUVVQ/cUgbdVTOSWTbUNUeTUOfPTPWOXV/ULUUUOjuk8sghZ/uaiZ//2lRiV/Q/kmQ/kP/tR/pbDqb0/wx/p/xgjaYTld/KZvrQr//Zepi1Y/gvVblsaeXHj5XbbjePYSRRRZdWYVXgTT/WYZagaYQerWbUQXNWNUWYTTnYPdTgidgShVacZbkbRfVj/oXXVbYhYYZYaZUbWMWWSXVZXNWvWUYqYSQUTSXRYdTPQbRFbWPRVNRSWUQPjhT/XSUZKHZSgTVOfQORgZWPSOcOYaHVRcT//Qpmran/fq/ro/2Z//d/RR00n4tV//ebrfo/vrr//2z//sUv/eZ/wW8yplroeirzjqoLU8Ohl/8ztwp/bnccpRjhcVSVecYec/beqYbUZpPYdctUebaWUlaUYbVa/aXmdpkchVhldeoXpde/Sf/hWeahfcXhaUciYdUZYZfiVVbIR/fbYq/dWXYVhWUbOOOOOJYbMYSZeXYZPNlaX/bUQdESVYfVZRbVaTcZXKSQcWgXSQRgU/YphfI//ujAvh/lWmhNK3aPp/ghnabUokf/rqfvsxfgW3nwd7tmex/c/Ygnkl6pkeJYayMyhs//rRrX//fkTdYMUXPcSbZSXcTeeXtRVXakfUbhnWYYYPV/SZgcXVpXPjZmaacWbeXhcgkegtRa/iVdbebZVXeWbYRUTNeXafWXWNQfaXW/ZbRYQTaXXiJUKTWKdbMYUbTYQQREtVT/WOXbKIZThXROZWTWgXMQMUXVQWO/RcU/wo3vj/k/Is/arw//s/O/Z4fzqhjzpp//jXcn50Vlj//nR3pV0srzRnL/WJWmWU/X/xtVn/g4f0QpynbfagZYcNhTdQPcaPjVcSkWvSYhdpchTguWZVTZS/YQZTXUtZRkYggegVjXaZmYnfVpXcjkWXbbXecWachTQPbSYUZ/XagQLhWUUnWYRYaZdYXaSO/QNPYXKQXZPYYWPGdZQ/UXQOTPRZjUHTTUSW/UGLSTSTUZPNVjT//si/g//f/V/r/qu/jgZ/pcg/asWn///cPgip/yWlb3T/g/dd/ZP5b/fgiTXmrbpeXfR///Ys/dc/UhVeVVZRbSgWXaSbTVVafXSS/YUPdnWYUfqYUTLRRdXXaSXUhaJmcibWcSkbUVfjiaenWfbgcUZdUfKTdPVVQaRJSQXXQVaRVhSMbmZRGYKaXSPeRQMPWLSZOPSTLWcWFPkRUgZRWUHIJOXQUTTRUNKWSRRNMWQVOHOZT/w/3lp//4eVc1////l/t/l//un/spxTmSv63rv/ws//Tnh/h0m///Z/wpx6lw2lvn/yLeb/cc//dUfXs2ZbicgfdiZgReaXXceXYexdghWrkZWh6hgZTdbkRffbXY/fS/dnij/VmbiklomgbsUplkchZfhaZbbYiQW/RUfZbhQYjUXmaRZhcYYiaceVacTPUWVOYiTXXaVTVXRNicUilbaTHXfOgVMSYPeegURZZWagWWMOQaXpb//luvw/lwxTa8ltOqr/jdZ/q/tQwVc32i18x/quu/r/O/xz/dn/aqxpjah/50/f/wkngxzljmj1ynetddjaeSWZdbbYdPZbTgcbrZijguaaVZ//TaXTUdPUbcdapcUdYlleiYibbYkfokYqSekndTbbW/WfaSbgUXSQRZdkbYdUZkVSclYXRZTbYVXdSOWeTb/XTLTTTVaZPPn/HgaaYYVUeXdWNMiUNUXTTGdUbYPRKVNcWluttY1py/h2/i/gq/dpT33zz/7zmUhaiSWQ/ki/jRU5yuc3tfyYu/Yqv//l//riuVX/s0p/t///fZcgt7beVhaOhVeaRdhZYZbdcYuafaZmYVXg1VRYZXbcSZiZcdvcdjhplecOkZdedejcWrQpmhVXcdZaQcfdaZdedWRUaeaRhWblZagjaWXbYVidXdVVQUQTZcSRUUYYPbULeZUecQVZVUZRkRVQXRXaUXONSXdSTWUOPOdgighmrvz8rtdZu/e/ruk5qUu8/ytuicrp/rm1uu/eenu/nu7X/M/Wvn20nen//0nYGz/NMoml//5Qrmd/hgaYeRcbaPRgZRdeUffb/UckijbZdf/UUdfQZWUciYYa/aRrdlmajZoageejqdZsXipecZdfdXVfVRhgWXebabfeWXcUbjbhgkccVcSXlYViSWTQXWWWPRdSgUQXPThaVhXUVXOQUTiVTXYYUXNURQYWjaaTIVTYct2/qqk5z/n/mlt/eoA/krxog/c/cbhdXR2/u8//wfhiVpVexg4Ulg////EnfWcos7dvgPl/ja7qcfPjL7chYfkSW/ZbKXZUdfTeTZnWRfXZceTcvYfURZZfRTbYQYoYVjfichiWdbahae/aZmW//eYUbcQaVbeTZTPaWSTXcZZNiRXnZXapYVRWWZWTZbPMSTVIZ/FWTUWUaQNNnfUkaTTYMRTKhbaaVOXWQNPVYUORSRNVJ/ZzaV6Wmm2dJqevtRieZkm/urc/ltbheotvwUYTa/o2fes//1d/Khhxx3egno1yYlvQOen/6zlZh/cz/en/aYbbXNVYaYRSlOSZakZQoUOUd/Z/VYyeRSaXYdRZcaLSqUOgV/gagKjYaigY/WVfOefhSUUebSUXXPcWQZWQXdYgVTjFTraRTkeWPdOWfTRYLPWRNNOYSJXYWaZaPNmUXeR/TOTLTTjRQVaSGRUXKRZNQbUWPUNXMw/f/Wfpk//ss7k/m8c/2/fo/s1ey/UVYOWrhdXyoqaop/plR/x///b/juufpt97/be7Sn2/pp4/kdI/l2cpdcVVdVSaScUPXcXdXWqaQccloTPbnXRaXRVaXaeXSRpcUnWkhXgScQeaienZYlP//ePSWVYYXddVZXOXaNcXbUWYcMRpWZblcVRYXUbRX/accXSabYXePTVa/OrTZTaUbabZOTZUWRXRMdUbbWTaRVQbeORZ/ZVywpnRsUg7pgnv/qq/bc4/hyZoOmhf/xna//j+lr0Woys/Av/6/w/7/bT//gjOnutoq/ihluekm/ilTmm/bZZf/YOZYYMPaOZaPeTWjaQadhagZalWOWhRaZUVcTYTqSQfYjafZRfdTbaikdgmTYmfZeacUbZYaYfddYSUUYYkSVbPUgRZZoeaTbUXcWXVXSQdOgaabeTPTTcS/PUUVQZScYZUYYPXZNRYahQRXfYUUUZPbSg/Vly/XYZufdYedVqaghpcd3YcifTjVdgbmgppligeme/lbij0ShUwialfTtZWpidcekcgbeUWXeignlqiqihihfdTgaeZcekRWabfdaycWWhmgaZ/sZhUcaTaUViZZYlZTodmdjfUtaacdkfhX/XglhbYaZaebgaYabSXbTRZWejbmRapYUVnXeVeTVbYQdcZhfUadZZfTWXYdS/YcYYWbYVadYTZaYdZVZdeaVXZgSUiXWdXlbTUnRgVethgbuTZ/Xbaaef/UiZTPlaXkTaZaedbmZUUoVRUceYfbhXdYbMkgeWjbScZcZ/VddVffmYedeeddgeYcQaVUYNbXTQWPcUZrQTdSjTZPk/WSSSPPaWUXZZYqZOeSbfaiUdRZececaYiPhhlULbbUcOSaVXZRZTMROTdRP/RWiVWbpWORQVZaPQeTTRYOZVTXcSV/XgN/YZWUSeVVK/QSPKRPXQLVdSRQhVUWWUPUTaTOpuYpchurgjolSYccbifl/OajhTcVJaacgdfifenbm/UlXbgfWXfOYgRbmdhagXeTvadihffOecYVdYcyZWjZfhPVYUZPWaPYcXYZftNVZZjeeWduaaOOMcZPYaYaV/fQiWhfdgOpYcccflcYrQjljRZcbZcUYgXbTTWVQTUgX/XeMXhWVWcSYVaTYUYPWaYbfUcTdQZVMbcaMkSVThWcVXYWUXZaTNUWebdSfXaWaPUWJVTeYTn/aXOminkTdWWoZmWrokyUJahKdXSgbcZbYmTodbU/XNTUmolcfcWaTUhaqSnabggmcqmidXYmfedebikUccUiGbRRVRaeNTbZebavXRThkYhWlnXUSUUWZRacdaRlXXmWsZWZXiVbdhiiZUmUepgbUZbagTRYSWVXfVNXVZUbaeNXfTUboacMdXUaYYbeVZaSe/YWVRTabbR/bVRWWeaWXSQYWTWYRSZVXUbTaWfSWSSUXhfTXyWhcflphhgSQohccXrYxddThaeYjddWfagijsnSfqeeXbUXflnnWbbZZaffhgdiZmsmvm/arbnmajhroidYbdO/aWcNbVWYfUgYb/aVdkiUfVhrQXVbUdbVacaYWsXVodpmdiagVjfhapUVrRhlgTRZZcXYdbWZVYcUYTaWdRZkOVuYUZlTVWcYfdYUcYVUaQcZbZeaUcagU/UY/bUeUaXXTRYXdRRRdVcaaZeTbZfeWfcnbVlSi/fYkPbZlZZRXjhSVbjepZrbcVabmYfXZVjhTXee/VbUhRpjSiqUdieSiSaXTjReVeVlYPROilrNcWW/uxht4j/k12a/yeo//cj/0j/o9/p/y///n6/s/YVPlggUjphkYTZkcYWUXZ/gefWfbLWYWbfVNaQiXga/WjKaaQXVZWRdWbUToZgYeedbVaZVbQXZS/YdOcXUcWhbddkUbMnYXYWhcdWbahibWTSWVTkSXjMgcfkWYRVjXZdWYdXTcVeikIPceemkV/YWVVfZXVVHeYUidWTXTXaOo/YZRYXfUYh/ZQZaUpaVhYbXYRiwWScfZ2/vw/b////m/ymbxk2ifrb/n7l/b//iw/h//5uYWRdZeRbigcXSUZZMfOVTgjoTVdaLWcYVZUJYcrUaTaUdYTXXURTLRbSZNMkZfOVaceXdWQlNUaMrVaNVVTUabYVa/TZUqaRWNjSfQPQVgLYPIOVXgNXYgcVafciRnbZVdX/QmWUObkJPOcZ/ZYObSeZbgOcOdSdVMcVbTOTddPoZTbRZXOaWkdeWbeiZVddcbXcMvqWcbWZ/02Wqiyfg1yFfva/sxt1//d/qpXpfx/////ofzVRcXadQh/Y/RWcXQTUTYbdbaaWdPROUUSVXGWQiMZacSYKQUEWRaORbPdSOeWfEbSSeXPYTgQVXLlXYMeKbUUaMQbjQhNlWMSSiVZXeRfkVUQLUVObX/YYTNVaWcSWgjfVQhUjZXMXrbfYaWUlfotZYedrQhcVYebMfhNqWdZlQ/dSjfVfgaYnZehYlPVYfncnXWecofYQfU1/ap1/o//P/iufjqro/2/0/z/zQ//////z/m/2h/ZbdfSYoTfSWcfZZaYUcgVpYWVYOYYUUePIc/sSpN/UdWWeRZSaNTaa/XYebnQiX/ZbfZVhL/hVmagXiYacZiZjbqRgQ/fRaXuVhceVOnRPRWYSPmTfdXigQgjiNbybehadV/ehalkaRRcnTrbUjXadXhNgeeXacVTZaoVVccUtVTcTejcfakbfbetduloRadSejh/ifgcc///uKQt//Wmowno/8v/gt2//p/fv//5//3/m/nidbchpXbmVbQaaaaZiVadsenkWdcUZdYWeXFbhufhTgfcccaVgQYTXjWhQYtXfdjjcieZbSVhchSmZ/YZZebZeYUXpXpKwYVZSsgmcYbhoeSYVXZObabeRggXleWaVnaWZfZPfWXZejucUajWwdWxNioapQ/egZcTXWdZcOWZoN/oWlggidhaiUafYiRnbhkfQXgVprjhWfXhvyo+//t//wks0zotv5/1p1//qbU//o2/m//h/bSameaPcpkgMcjjdQbTdahebZPgbXieQYffUiSrcdKbcYVgZH/PZWNlTeUeoiiYofRYNYWefSZjPmfSUanTTVeiiejanUpcWSSoTlbaWfrXXUaZkT/YakfcYfbeVahojejYfeiaUOWf/aQNgbpXc/cXdTgScYUOadRrXReSfgiKokWqdfcgbbeSUYcfSmYjpZRemXqghZfjek/cxy+ri/lpr/1/tq4/Twy//erc1/c///i/hk0fadhhYXitfhMckhlYdWagcdkbUWYXZTXWcVMcYhcpagWZSiZWOQbbShX/SambnQdZjabbTYbYXaS/cfSbXbXbhPWX0RhMzaakRkabUVYYlPNUOZXVeWbihaeReaZfXjbMaZjYefbMgccQQZoXdYZoFRfehjfbNMTVXag//YRiFN/XiaaPihUfTZchSaRlUbdTRYScpudeZWT//icyl/3/k/jvcZ//s//f//Y//rm/t///7rh2raYVg/XQg/ccIcbOmbcQPhhYjdgodRcYabbZXeT/ZlYVVgTTfPYWXNaecYQZoeePSRVbabYYdWegPoWSSYUSXXddON/NaIlUSbVmWYVVbXjTdOZTdUdUSdlYWT/efQdkmUaVhebWXXcjXJSgkbte/qUpacoXehXbYbPgdZaSbbjVpfVZfQmdWYmdkZSdjNZWjcScaSpymUWWht///4P///it/+/X///an/k4xu/2Z64////zo/sYdYbkdVhvbhMWdZoZpRUcnefWcXSRiWccddPdcoVbWdehdYYTVddVVeReMcnfgUZddhYaSbdSXXPsXfXaZdcbhbmV//abnhUZUqWkZVVXuXUQSRYTZOZZaefbibbcmnfkYcXVhSWNXkWHWgqniZbaWbXeZagZVSiZSXfXgQdZgM/cOkjWgTfdlYeaUlfhZcXdPQbayplYOUez//c4/x//zlq/x//t/ng/fm/3inh2/xb/2/l5ybQaeZfZghhXLcgidaYfbXeeadQeZNSQcZWaMgcrckZaWjXVaWTUWOTTYaGZolkMccZYYYWUfRaaWl/aKcUVYb/bcaoUfVqTSSOjThYbZbhYZWSPYSbUZaVbPYhecfYxbPbVlN/abUVYiSWaklqamkOQQhsTidSahcgbiOgYVajUrkVeiWicfcleZYToXlbiecQgZYmmYUZYW/2txnx///Zaiop0/row4/242q/cj//e1/i9///WQanheVnseeXebceZfZRdlbfdRaYVdeabgUHbboXoTeZcTWZRXXeNcaRfKYeikUcfiggdUYZTbWXqdYSfTbbdefea/TnUneUVaoTiUebdoeZMZceHhWchfeWTZgXWZhbaRSeTkbYadgiOOZVe/aaeXafYbVgbaZVUUfVQUQVahOzeVymYcabXcVZZahaahikmUdYVjhjifgQz/r3uS/3/czKofp/1/hnRq1ik/hf3y///y//k2gVSfcZNfvgkQQdWeYTTSghXkaWXiHaUeQYXCaXhZkReXUUbhPUQVQRWOhMYjZnLYfaWfbPXfJbUSjYbNeabXaeZYN///G/cTWXkTgMWUaffUVKYgYbSWdRbVRfXpXXahYsbbOaoYVacRYTepZwadfObUckYeVXVVbYmYRLOVkhSuWQgigcceVeSfWUhYkTahfeoaUpqpedgO/lo2/h11/x/o/q/z//iY/r/wsp0Z4////u/30/ZXVj/jOdshgPVaVgSXXcfjflccWaTgTUZlYKYaubmTVieWgVVSYbaVWUWQbedkXaabcfXaYeYRbWllaPXQRbXVfYNnTlUmgUcQuQYYeWYtdbWQTeNYUghQdccdcjVZ/dYhbaTdgYTV/kRJYcijZ/jRbWShWheXXsVVcZcmUKpbXxWdjecafoVebfWOTPaYamjaeaRsujfelY7+qzt////P3g+05//3Xnbp/vqzqaWjp//j//tufMVibeTfnegLQWYYdfYVXgaTaTgZRUVbMbTIeVwZnXcXhVbZUTSYUTaXdOdcdeTdihWdYMWbTgiTnVbYZZVVYadTTgJlXsUSPSoWeTTgdoWPcROUNhMehZdaZjXodWkmYfcQcm/fPZcfNSeiXmbokfYTaXanefbeSbhdXcZZYqZvlYgfWjcWc/WaifjYkehabXYfe/vjbbab60j/lgp//wkk/iu0/ip//d9+ijoHwlv///2/q/hWidghH/hZeNdeeYYiZQYrcieXiXNSYbZaeQfY/bhVjbcaTSTRZUeWahdRX/cXYbYdchcVVuXYZVmZaQgVdXgZcMWiRkWpXZZamX/WWaakXXVSZVRfPcjYdSYgdcKkglMYTaUcTdcgooSOOhciVdjHcbXlakhXV/g/jflgTbTfMoaWc/gcXoWZeUYYmefYdhiaRbbiiciVZi/1s/Wnr/upigryY2zuh/////gb//9tm//d1s/eYaZWgjSfoc/QSgWbaYWYckTaYXfdXaZSVhZ/RW/f/VZkeMhaNbYhSUcXeOUladReXVhSUQX/QXjTsccThXcSWdXad/OkWneXWSlXmZWYVlPaSLdYPgOWgcYSaZYmmfyedlfebiYffWlfWaecmpddxKgpfwVfgbXggvijUhbZlZXylirmhvcWYsXkZZmZZmljfYegXywibWhlx/5v/s3//unWkm0/43ry/mn/n/o/0wj///h/h/UVYhebYexlpUXfYaZdehZm/ZhYllOcShZgYVhY/hqXh/mheecYVfXXWYdXaccbcjghbgfejeaiiPxagYakVeSXffa0SlW/dcdTlglabbeqZeRPafRlJXigeahujWpb/fdaXWLPb/ajjcUaercoigwVYeZqZpfQYjdcmcUlcgjmPtcgfiddVghhZSacodfjXklXdcLx8dWeXXq/r6e5z//o/n4a0/ho0l4r////eXc/5//y/r4/mRYfieXhjogUbfhhZkSWepbkiTbYSfbchcaMRdpfjZeWgciYSWQdRkiThVecddRXbcVgbZfeNdfJldWWdVVZdlfXmfO/RkfaZbmUgaTblhTdWOZcRhWd/cjgZkefY//eYbUhKqZhgYpbKZcl/rRUwTbUXmSbgaOjYYSqhkXUkaSxlZhlTXnbdlVSZi/efagbmXfdcm/cQdiL//o5rww//so/4mhztwno/43+tp/iki/////lhnbUdeXbVl/dkQfehcYXcZbfelYQndSWaSdfZLgYhXpagahTggQZRUZZdcXMZqZdUVgccdZSdfHjaOlWYYdRUZaalcfuYZVqgURUkYbcXkinYWVeXaYdTYlZkZbkfZW/qdXZZZOZacKfiYMAUhnicegNNQbecdeQUedUPTGPSTPTejTU/eZeUbacWUWYkUciXpdJUc///bSTOK//bq9ggd/n/+zp/+//Su/k/i/kijr39//r/z1yTgZdcUQZfdYKVQZ/SXKMZpXgcNaXHURPadeHOU/SdRYccPWSPUMTNUWXWJWjTbNVVYXaPNQbTbgRuOTMXOVXYdWVbiQcOdUWVRlQlUdUTgNYYMadUZQT/YlRUXTfXYdXfUUpVXZdfgWbeVdiZrXYjhWaTcblWfeffcVbebYccbZbacWXZbcWZbcTVVcVTbcfaeWYXbWVXPZab/ZhceghaZZfYbacaVVacbZYVVcelcbZbleZTYcgXhgakUkVl1vdjghoWkofgenelchVbq/WdxeZn4/lcsTgedkhnnomXQTgXdhq/Pkuofq/WTXZZaYYXYdbVTQeQZXZckYbZbRUXbYZZZUWWbXWXVWVVTZbdnYUbZVbcTeXasYZWcbjccaWelbpZXfeXVWaalTcebdaccgdZZYbZaYaWZYYcZWYSWRVYWXaXZXfRUYUUWXUddYaabcZWZWYdbWdXccaXVUWZZUWTciZUcgidbWcYkcagckaXhmx2igYWsQYeifYhcak/zhdm0mxkd1h/2coGkajYUWalrRpmkdgqtkZZ0pfm/XUVZaZbZVUcXXROaSZWaYkVbbbMdaZaUVgTWYYXdcdeXWdWZ/nWRXhafaZfXZqXcfdblgegZYob/ZahgZXZbepZbjbjaajjdaYacYeZYXWZdjZaWcZSYaZUZafZcWabaQYXXcaZcZjccgcZbhhecfXTdXlbkcXfY/gnhfadjhXeVgiheedrgdXm0vjkmjpbblgjdjde/Wqai/igr2hkmxla/Hq/lVdxWorTqOUWisPr/XppIu/WaWVYaaXQaaZWRUdXdXbZnVgYcTXYbbebeaVdVidaYbaZdXXh/cYacYbaVYPTqRUXYZjaUZSZjWkXWdaVTQZUjVVWZcTZcgZYUTXXZXcUXUXbaSTWUQWUSWTYYWcTUSXQWSPYXWQXUZZZXRYZYSbXYUYPXZdcTXRXYifZVZgZSRSUaWcbeeTYOcylio/fvMneZbWddW/nxXq/WYsfWicrqO/SRXmWbQLdiAfZ/YekZcUT/fWw6QSVUYUVYSUdVWWTbPZXUZfTZYXTSPaSWbaPRWXTYSUVRWYTQWhVOVbZieZcWcwaddcchhejUapd/YcghaaXeiqbffceYajkbdZbYcehcYebZjadbbYSXYZYZcdagcZZdXZbabebYYaeeehbgacabbgZdYdcigYaYYg/fcdemjhbeckikckngcYo1vmoffqjcckhfimifkpZunV/wyVnf/e/zWnbmmoiVvoKxXlceo/iWTwfUm/eUZcaaZdYYbbWWVgRfbcenbcdiWcageadedXZddbZcgWVaacilbXebaffZfXbsYafeilfegaerZlfb/ibadgcmafgaeZcjjedcYcXfddceXZfcaXaYUcYcZZbhgfabebWaVZdadYaafgZdYXbdabhfcgZaZeiZabkhsieaejjedZUaddkdmgfTi10/mlgsedpjhhemghsfa//hrwfd//6/goTlYvcknet8IYkiiq//qkhujZz/aVXXZdXcVYebZbVdVhZaajacXdXcdYaaZeYZaeZdfWcaYZZfajgacZYbaUaUXpTRagddXZZUYlX/aXfiVYYXYlWgWedVZbfZYbaXYaacVZV/bXXYbXVSXSVYYcWdRVUaRWTWYaVXbVWTZdbZV/XYZbWbVZcZcTYXUdjZcfZibZaSYhdZWdmZhOn1xinfeoNcladcofZxgfYgvdXuqghXok/nAU/dP/ZYYjKMdbZhiifmhkpkZ/SUZZXWaPVYYWYSRgQbWaWiUeYaRZVVZabdQUYccWVXaTUUaSejcUYbYcbTeVYsVYWYXfcWcTfiXpYdjeSUUaWoXZdaaVZegeXcRbXYWeSUVcafUUbSTSVOWWdaVdUZUYSYZUdaXaWcaZZfTcYeScbYTVWVcecVUVZ/jZYabkefYcYcebkbcXZVsx2kibWrWhhfbVndi//Wy0//crfPe/cpdN/0zMtx/J7d0btfTmb4P5fk6ehfTRXUVUUYWZdZbTTZTbXYXlXbZ/PaYYVYXeTSVUXaYVWWb/SWZkdYbcbdcXXXVqXdYZZgdYbRXmanWcaiUQUYaiWfhccZVbgbcVWYXZbbXZVWdbVWZVTVYSVXbeUfWTWWUTVXcbZXcaeYeeZbcdUYbdTdTZZXYUXXZckegZZfZdXQZeblebeafYptujjXalXZiZZdifJR////kgY/u////auQdlul//zx/m9cpkYV/9V//cqHypZUWVVXWYUWdbZVTXQYUaVibdabUZWYdVXcTUaXVdbWZYbWYXXkYSUdZcfXbScsXVabggYafaZlbnebgmXZWXbpXeecdabemgbdZYWdadWZYcfdTYTUWUbaVccdbdUZZZYYZSbcaYWbacWdWYZYVYabWbWZZcdYaXXekeaWdgjfYZecdZnXjWjgm0upnYekdidgfhioXv/eeie6X/Ve49y//Ze5sqlxbmmZv/sWh/r0Z//YtQs/YUZaZYcWXXcXcUTeWheYaiZdbbUeWjZaZgUUYbZbbXcWWbbabneaedZfhXfUascbYdfiefhZcnaraagfaZWegqWgdbYcdejYZbScZdacZYYaddbYcYTadYUagdahbXZdScaaeZZhXVcggZcabae/cfYdUjeZeVYgZcjgWXa/fZabfojjkapalZh0wljbfseafldnjhUwzdjq/w//mk//YgmS//0lyx/f/jfw3/cfr/T//P/WVwZUXdXbgZXafW/UTaUfZaXoZfagVaabeedhZZaZYdaWcVVgWbflcYgiYgfedacvggfifofdefenetbclicbZecnbfghgdbfiggbYYdhdgefaehiZYeZWcaWeecibgYacZYcYYcgcfadfhfeabhfbajhcbbegdkhYUbgsgfjfmhbZebfjmklmnebp01nubjohbddejpmEo/jnuyvcy/X///B7Z2z/k2zycUoby/oSaf/k0/Y//iifXZcdebdZXicbVWbYeefcpcgebUehhaeYkaUcZfeedabbdbdhphbjfWbbXdVYoYaZdegZaaabnWpVYfhXdXbgiZibbaUcdibaaUcVZbhXdYYdYYYYZTXZaVbeiZdUVZaUYbXXgYaaWfebbcdbXRgchXeT/YWYXTZZddZbeYofaYZTgeZhbjZdYnt/noeduTbmkkeilPvzct/wq///Y//ld/IiW9Vf//akX0k6raOk/ba7c2d2uUUad/ZXZWbgWgRSbQWWcXiabadWaYZUXbbRWXaZaeWXaTabYfkZacfXgdZeVZrYaafdkdbaZcmemdaghYXYZcnZfgghcdg/efWWaeacdbZacgabaaXSWZZXbefadVZacYXcZZdaeXZbbdhecdecefhbZWieeceabaikfcYbkebZchhejjegefZm3/lehctXVaffgjiUpvfS/////rIz3XPkD/w9my/y/v/xc00VO/8c/rV/TXvXXYZafUZYVdWcWWXYcZeZncddcZaYhfYbbXWYZbccYXXYbgYakdVceYiiXbTZuZaWdeicZeYfleoebfiZXZcc/aicddaZfiaWSXaeacdaYWcfgWWZXRXbaZVYgZdVdaYTWYXfdVdYWacedbabdcefZeaZcdabUcYge/fefcgiWaZ7rnvZu5hpjgrjkPseueiecgejp/32/58Yurqxc0/eLxO/+1ig4/Qycyt/r/Wd/S/xKpdc/VTVYWZWYYbhVYUUbQcacXkTgZaTcXeXabbTVdYccfeYVTeaXdeeUcickhWeWcucbccilieebdtgpedgidababqcidemdgglcbdUeecdeaagggeZXfaXXbZZbefifbZZcbbZageahZcbanggZeeXhedbeacedgXbjYhkghdf/dbZbu4kbjhyoVWinz/b0rpgpr3sj2/Kl/bh//Wi/sg/0vxuV/1+mz/nVfuw34tM/o3Y//V/Pu6aaeZZceeYZfdhWYcWcXdakZaagXccdaddeVWdcddbagYddabjqhefcVh/SjYWsbbaacgcWiWZnbofglhYZZecqbfdidabekgb/ZbaZdfWeZdaeXTXUTbeVXbcfadZZXcWdZUfbcabZfdZbbacddaceXdTcaciYdXcemjgcbofdadbwtfzK/jonkgqWby/vct//kmleR/8vb/qmmV/Zp/ep/Q///X/1prVa///0INZ/Zy/PveqyYXXaceefWfeeZTQcWYWafjXaaeVhYeXcicWUYaafbabZYcZddpdYfkYjfYjZa/Wdae/iddgXerepfajkbccfeocjdcdZcimfbcZcfffgYcfZhXaYaYTZddabigXjZXZYVZdYegUmVbgbZgbfehbadccaaeadgQcbcgoihaiohhZbn5foxfypnpoaomg5mmr/emirmkY1gbg8eyi8rx//X0oAip////y/1dun//Cun7//+T/Yh/aVabafagaaeceUVgWaabakceeaSbZebbddWYYYicbYZdYgaYfodYdcYacWbTVsUVYbZhbadWYnXkZTicZTZXcmYXaadUYehfbZYZVZcfXaVXcaSXZQRRbTUTdbbdRUbaTTVXbXZcZZYbVeYVWaXZbYZXUWYXYSbWVeeaZcckfXbXd/kkSa/bsfVawygujidkleUqtkWU0ET/0wh6Zpi//KmOh+vd/rrqZ/hu/fSSg/X6/X/PjhVUYVXYXZ/VcXYSTZQbWYVgWVZZUXUZadWbROWVebdeWWWbXYchYTYfUccYibWrVZTadidacYZhgneWieaWXbbnUfbddVedgbbZVYWaWXYWXbgWZVXWUWbYbXcgXZWWbZWWbTcYaZYZacdcWaafcdabXWXXccbbXZYefYZagk/ZXU/l//yuyZSZZejjdXsu/jm/epts///SV79cV/kh/9lW4R/v/S//2qzfm/yaRml/W/da/chyZTacabaWXVdXZXSYVYYcZgZXdaSaWdWYacXSaXadWXaSWdaackbWXeYgcZbUV/WUYWdgcbbWekclZZgZXYXbcpZedebcdehebeXbZXZfWWYYeUVUaQTWcTYcXXWiSSSZUYVYcYVWaYfZabdWZcYVabaWcdYafYZSXd/aZYc/fXZRltnpga/fonodrsNje6cmqrgqsZPyxGf/////6lq/ZcsBux/Rnh/n/gfz/sMaR/q//h2/qecdXWeYTfVPbjcspWWdendYVYcZS/cTXcbichYgYioiafWidfoiqjTfbgfWgcZwYdabfgdZfZcoYqbaogZcZdcpbiieibgljhegbZbccgZdcYedcZbbVbZWecdhchVbcdadbXegdcddaecedbbbbZecYadXgeeadadhocfbimifZXr1liZh/mWh/udjcltphvtnflvdZil1cn0nr/h/to4/qe2dq/d0lrhfbwU/XWu/tnqq/yc4jflZlfohVQhle/tYhghjacaeXnc/keihT/bobkghrgecTkffghqnXdachWdbYyZaVcfkgefYbrcrbaefbVaadqYecgdaafihgbYZZbbdYbYZhbYWdaWXbbXbdeWgWXbZWbWbbdaccafeagccegabXdZUXgYddYTTZdoddebkhZZVf/yZkh/YpRklkobj/0bbgw92rsfqt//q/qkidRcoppiR/khrkp/sTdhtk3brjlqqkf2xh/egfXfdgjUPZqfnvebVhmcVcXbeRvXYWkclqidklpoiWeYbkisdrkVfWdeXZVYsTXYZadbfdUeiaqWejYaYZYepecceYZdbhcaZZXZZYfWXVYdbXYaTTYbYSaXfXfSaYcaXXYbZbaXaebaffcZbXhfhX/SdXVYWWUcdgbecflfaaU/tgewbsYaeaetbhm/uljbo/hrUfvvg//pjetshvizcqalY1/anupXXT6//Ze1e/r/aipYvYbWWbVddPUalckzTYQhncZeXXkU/XcWfblfXZe/kldahXbUelYolY/WhfXbUbqXXZaYgfVeWYmZncWgfZaWZgoYefeeZecgYaZUYXeXgYYZabbVWbYVUYVWYcYaZXWabXYbabaaaafcabZUYZgaZZYdVTbcgbUZQbgiaabdhhZUZgxWfsXsbuV/SkmWiTsYbr/Ywnngickq/ygl0nqRvYjfXlh6pY/f/djVih/Owsqo/f/pmbxdYaScSffXPajgk/WgafkfVXZniS/UUbfajeciidZihRcUfZaigkiXAlmyHgSglXZZOiSagcdaLVGTlrVhTYWoYjMTA5WZZgcVIfomnHVqXXr/TweabpO/slUVdr5WfmRYZMhdiTSGYTKJHOHJONIMQLQHMROQNGQWJPQFLJCEFOMggfYYVfnccgkkhbZbWUVcknhhbRgRdjUXrmkdekUWaUQofhWkbThhlYocSYagkccYSZkYacWYYeVchdbricXkdRbQfjh/QYpcxghgcapYetceUcXhcYWehXfYPjlqGgxaOhkMnTmbQO5oPVOMYUoI/EVhdaJWRVniGijmdODRYSWZEYbhQ/oohElhU/KiScp/OXetefeRMfdGHSYQIVSMLPRJIFFJIKJVIQLKLMGOPJGNHHOGQYaKXbWghaeQdclYOaciTUaldXaJbVYjZWdhfdheTccVftemcwaclinZ/VcNZLhReRPbnXbj/XZfZlXegkRXYeYQeWUbRkQWndjUaZVZqgXnTeWagXWYVgeWiZUdiWWadWbZaTRgZZSTXTYZmTYTaZTZNSWWfeVb/aTQVcZYhjUSeeZSVXkaXYZXdVdZZWTbWXSQYSVWUUdWpZUUcYjmcRYdYgaYUbVXRWWabkaccaXrbVQVZXXSfbVVWbfhfQmgceNWUaZfRffjdVgTVdhipUagmkPfhdh/djajdhcddWnWZQSZZdkPXdfXTeZZkXmjXVjZYWVmmSbSThb/WZ/YfYkZY/mbWsaZdbjbYQanZaeXYnaVdbdbgadZZabdaXbUZWkbfYahZZVWaYdadaZdbYVfZaehcgZhecVa/aXbeXYcdbblWdZXaZZZXTWWaUqdcbfahgdWbfXfZbWcaVXdXXahZkbeXyacSbUYWdZaTiUhdefWibhjZTZmXTbohgaRedbmVWhbhijlS/iTekddcgjegekY0dcZdQefhZOcoYXtqkoXeiq2/kYaeSqew/whjdxntiW/it//jrrgp1knb7/iuliuMlXydadifbehfhafabhdeWWfochYhdZjXbZecaachdkcdiXdmmflapfURkpdeYXYYddfaTepedXbdXfhbWYbsfaejgpmfXijligYddbYdbfkdsfjgVcvZeaZggWekUaXcmkZZf/phoceildTguhhbReVcsreoqmgYpQhj/iniipvgisfwY0gXjbikZZnPffTdfy6yloz1j/N//wO06pk/slf3ivvpuUoyocp/lfkzkj/4//nm/UdndaTbeTZbcVdXdYdWWZVbVlVaVXaVXYYbbbZWcWgXWSeXZekYcUgeUXYnecTYXWXYWZaTYdaZZYXXZQQYZ/iSVdbjgdYVjceWTcXaZQWZWericQYcvXVXWXaXUdVUYWheciRahWdXQhVfbgjYhkQhbctheebkdfiObkaclecg/VRed/VubYYegeecYRgkZappwvachvz/c/zyHh//g2k/Q/dptScYr/kWv3jnznnYo/uspr/QeRsdWbdWXbXgUWiZaRbbNTdtcaWVYUeVXZbcbPZXVTbYlTUZihXgm/YUYtjZVSWXVcPdXZWVWZbaPXZPRbWiWVUaagjdXcWbhWWceZSZaYTflbWaaW/bXNYfRX/dSbcQbebbZqeUYdRXcPZdgihiXkVdjXXkfglhnWhbUajWlXphZbhfZwVVcbagafVZZaXYs+tladict/V/c/VkiYh/vub/fo0c2c/gecovbwy/bii//kkw/andtSPObYUWWTZXZfZcgZOVZnWXSeYYaXbSYYaUXXVZUXeXbdrYSagcOMSfjVWaSbadWZVbcZYTUbWUUUWYcjgRXfV/gaXZZUdXWZiUWYdWbWncVXbc/aSTTaYYUaQTkTXeXbWebkcTPYVPRcdWkZIXOfhRWcgYbZjRjdab/heYmgT/ekX/jfaXTnTYVWYkYhgokZRkLt40uidqW0VjnlmicxbXT4fTofxigqh/pheiovW/jtuIcavWVUacWZaUcQfTbZcXNXZlQcSaTZbKYVPabWaYYhWUcUSalYaY/ZROXreZadSYUaWWWZaXVSdZRWOWTbVlcaQccknbUZXUcZeUjWVYXdYTkaYRXZsabNU/YYbbVXZWfaYUkhYSaYcYZG/ZgWldTXPWhZXhdkpmcSWhTeoc/YecQdipUkUSUSOhQbbbfcWYpk6gfSXkfzmgsqTkfcjllSL/Ud/jqPq/hW/los/x/udjV/l/0UnS/cUbadVeecabgYibbbSVckZTTcebZZcaZbZbYbWYaXfYZZlaYVgZdMdsfXXdUTWegeUbhcXXaVTTaXVbbqiTYkZileNZadhWbcYeWYagbWncbhbcvgZTXaZYQfYciZcjXZZq/baWUfbQkUjibcVigd/aWhhjmncTebXTfdqfq/fuavbvWYca/gWQbXfmVX/r/cghUv/tfh/nbTqcYul///Ntufjglu/Nz/u1/wabmzqmi/meZu/bUddjdegceWdbcXYXWUcnTfcacWbcdccakWfZdWYTibYipXbXhcTRanbUYaYdbcdddjebhacZWXYXRYesfcadafohYWZZlccdcdVXbaWZjigejdtfgVWfaablbeiXbfXfRicbjXTeiVWikgfiUgUdqganjiogiRfYYagbrWicemkwS/WXXiUeejZVgkZfb/o///kx4m/j4b2/+ki/xgs31kv/3f/TeQ8Ulcsy/kj1///a/u1m/iYPadZYdWaZZeZYhbaVYkcbXeZWhXdcZcaaXYgaXZjWbgkWQVkZQUbolWdfbdShWfWdcPcaYURZcZVYU/YVXiVi/VcXeZWTedVaYUfXXfvbbXgc/eZYafYYclXVaSahajZeigZYZdeWVliXbfMhQjhbb/kmgnlVgdNanbgejeSaduYsTRZdUggcVKggZi/6k/k/Vmn3rt2//7tuV/bf4/qd3//ZotZm4dbnVw/qnwwt/u3dytyY/aZgbZcabYlabUbYWVefbcbbXXcYTSXbVYcVbWYWbYdeiZWhldTWajmWVZXfgZVcZY/bdVbXTXdbacTwlXbcZeoeUZcfjYdbcfdTZdXYqffehVtdZXd/fYMZRfgPYjaZWkaZZaSjfMTljaheYoXk/bfnfgkneRWfUebXiXsqYiendvaXadVdTecRdfTfUrw5t/cm///z3zk/ttm/vdq55n/p/Qh1iljh/m/tspVvts7//okeyYbddebYeYZZgagXWWPTb/jXTXaTaaaYWcbWccdXXPfaYeiefZhhURimZVYdYaTbWcfcdecZbVSRUZYXZndZZeVnjeaaefcWffbhXahYcWkYYYWh/ZRZZYZZZZcZbYbfaSXhbfgXOieWbfkfdnYaZYbXVmainfoXedSZpalfrmWogqWxUVPVbabgeUfhOYVyr/a/Yhq/3s/yi/itN//fy/5dnm0/esLn/Yzftqwch/1w/x4rsp/ZgWeaWYeWabZcfaYcQUXqXX/XXVbabYVheVgbcWYVgUfchbabcbUVftcXYVSadedfYZiYZYZXUVVWRTa/iZWbfsnaVYdihbXgYZUXcmai/dWdcV/WcQTXYXbbaechbiXWZhfYgSZWicYZmcffZgSddbXoZghc/YcnWXjdagphkabqY/UadbckaoUTeiSUjdr/o9Vvj4/t/uy+mtR/oK2/wph/+cemUZy/x/ku/sgo/i/lzhh/vZWWbeVXZWYRlYaUcXVU/iabbXUWdPVSQbaQXXVdTV/aTXiTTdfZXSTkbbQTTaVaVYZZY/YVTWXVTRXaSoeTQUVleeSXdbcPYZdZSPZaWZkbWTYdrUWSPaUabVcRNaldbcUaZbhMVWfbZeaggbHfSiiVZiagaYeJZiVZlegjlfWZUlSpXSTWQnVcPSYYciffp/d/c/hyqgqYv//rh/lqs/bui//Pkb/t/R/pek/ooenp39psb6ucWPfVUYbZZUefdZgYQaecSYWcbQVVUTZehYaSXWTXgVXapaXYfVbSWlZXbUWUccVUZbXVRafaXRcaZWYjaWcYYggcUVdYgUYaYeXVeeackfRZfbrbZUacZYRYTSZRZkaZXlacmVXSZcddgagfXcXdfTTidXcifRWfagefhdodUedoXzWdWbYjddTSeiWYOjq7a4ffr/gd/py/ll//oqZtzk/m3ap/mpiRVXhzxqry/m/z/3gtydabcYTaYYdahebaYYYaZqccXcdYVYYYXeYVcefeaYeWdhnZXgieWVXmgbTUXTXcXTZfhWcWWbRWWSTUYnhXdeelneQXcWfTaXZbScVbZe/dYaVWqcaYXbYZbiVbeUffXgjg/fbXbZgZeg/kfgUjZjr/SkYhcbnRagXUwhmjtbWbdnYobahXUbRbZVfbUVcqy//5XZpot///l400/5/mz//fzq/p/uqc2b/r9i/xV0t5yqykmz0",[[5,48,97],[9,57,109],[14,65,121],[18,74,133],[23,82,145],[27,91,157],[32,99,168],[37,107,175],[42,114,178],[48,121,182],[53,128,186],[58,136,189],[64,143,193],[72,150,197],[85,158,201],[97,166,205],[110,174,210],[122,182,214],[135,190,218],[147,198,222],[157,203,225],[167,208,228],[177,213,231],[187,218,234],[197,223,237],[207,228,239],[214,231,241],[220,234,242],[226,237,243],[232,240,244],[238,243,245],[244,246,246],[247,245,243],[248,240,236],[249,236,228],[250,231,220],[251,227,213],[252,223,205],[253,217,197],[251,209,186],[250,200,175],[248,192,164],[247,183,153],[246,174,142],[244,166,131],[240,155,122],[235,144,114],[230,133,106],[225,122,97],[221,111,89],[216,100,80],[211,89,74],[205,78,68],[199,66,63],[193,55,58],[188,43,52],[182,32,47],[174,23,42],[163,19,41],[151,15,39],[139,11,37],[127,8,35],[115,4,33],[103,0,31]]);
D("cm",242,242,"BBBBBBBBBBBBABBBBBBBBBBBBBBBBBBBBBBBBBBABBBBBBBBBBBBBBBBBBBBBBBBBBBBBBBBBBBBBBBBBBBBBBBBBBBBBBBABBBBBBABBBBBBBBBBBBBBBBBBBBbcYcbabTaZUfaYYaZVYabbXYaYaXbZbZXWaaWYUceilnnnnnnnnopppppopppoopppoppppppooppppppoppoopppppoppppppppppppppppppppppnkgbZBBBBBBBBBBBBBBBBBBBBBBCCBBBBBBBBBBBBBBBBBBBBBBBBBBBBBBBBBBBBBBBBBBBBBBBBBBBBBBBBBBBBBBBBBBBBBBBBBBBBBBBBBBBBBBBBBBBBBBBBBBBfgfibgdjiedfdegekgedeihjjhefgbgdfehmcfZejnqssssssssuuuuuuuuuuuuuuuuuuuuuuuuuuuuuuuuuuuuuuuuuuuuuuuuuuuuuuuuuuuuuuusplkbBBBBBBBBBBBBBBBBBBBBBBCCCBBBBBBBBBBBBBBBBBBBBBCBBBBBBBBBBBBBBBBBBCBBBBBBBBBBBBBBBBBCCBBBBBBBBBBBBCBBBBBBBBBBBBBBBBBBBBBBBBBhiigahfZjgfggggghhmgeehggffijgfddgfgdfejosvxxxxxxxxzzzzzzzzzzzzzzzzzzzzzzzzzzzzzzzzzzzyzzzzzzzzzzzzzzzzzzzzzzzzzzzxutlgBBBBBBBBBBBBBBBBBBBBBBBCBBBBBBBBBBBBBBBBABBBBBBBBBBBBBBBBBBCBBBBBCBBBBBBBBBBBBBBBBBBBBBBBCBBBBBBBCBBBBBBBBBBBBBBBBBBBBBBBBBfdfhcdceXZcfeahdbegcZbdfadZdZbZaYXgfecinswz1111111133333333333333333333333333333333333333333333333332333333333333311upkBBBBBBBBBBBBBBBBBBBBCBCCCBBBBBBBBBBBBBBBBBBBBBBBBBBBCBBBBBBCBBBBBCBBBBBBBBBBBBBBBBBBBBBBBCBBBBBBBCBCBBBBCBBBBBBBBBBBBBBBCBBPaZLQMLIILJJGEHGHEILKJGMKJDFFIIKHGFUIRlqvz24444444466666666666666666666666666666666666666666666666666666666666666671xsnBBBBBBBBBBBBBBBBBBBBBBCCBBBBBBBBBBBBBBBBBBBBBBBCBBBBCBBBBBBBBBBBBCBBBBBBBBBBBBBBBBBBBBBBBCCCBBBBBCBCBBBBBBBBBBBBBBBBBBBBBBBOdXKNKJGGJHHEDFEGDGJIHEKIHCDEGGIFEEXIPnsx146666566677787887778887887878878887887877878878777888877787888778787788/63zupBBBBBBBBBBBBBBBBBBBBBBCCCBBBBBBBBBBBBBBBBBBBBBBBBBBBBBBBBBBBBBBBBCBCBBBBBBBBBBBBBBBBBBBBBBCCBBBBBCBBBBBBBCBBBBBBBBBBBBBBCBBObaKPLKHHKIIFDGFGEHKKIFLJICEEHHKGFEZIQnsx14666656667888888778877888788777888787888788778877877878878787778877887/862zuoBBBBBBABBBBBBBBBBBBBBBCBBBBBBBBBBBBBBBBBBBBBBBBBBBBBBBBBBBBBBBBBBBBBBBBBBBBBBBBBBBBBBBBBBBBBBBBBBBBBBBBBBBBBBBBBBBBBBBBBBBBMgbHJHGEEGFEDCEDECEGGFDHGFBDDEEGEDDXHNnsx1466566666888888788787878877777887788778878888878888888878787877787888/7763zupBBBBBBBBBBBBBBBBBBBBBBBBBBBBBBBBBBBBBBBBBBBBBBBBBBBBBBBBBBBBBBBBBBBBBBBBBBBBBBBBBBBBBBBBBBBBBBBBBBBBBBBBBBBBBBBBBBBBBBBBBBBLeZHIGGEEFFFDCEDECEGGFDGFFBCCEEFEDDXHNnsx145666666688887788788778788788887887877877788787778877877878788878888+88763zuoBBBBBBBBBBBBBBBBBBBBBBCCBBBBBBBBBBBBBBBBBBBBBBBBBABBBBBBBBBBBBBBBBBBBBBBBBBBBBBBBBBBBBBBBBBBBBBBBBBBBBBBBBBBBBBBBBBBBBBBBBBMfVIKHHFFHFFDDEEEDFHGFEIGGBDDFFGEEEZHOnsx14665655668787877888787888878877878887887878888887877888887887788787/787863zupBBBBBBBBBBBBBBBBBBBBBBCCCBBBBBBBBBBBBBBBBBBBBBBBBBBBBBBBBBBBCBBBBCBBBBBBBBBBBBBBBBBBBBBBBCBCBBBBBBBBBBBBBBBBBBBBBBBBBBBBBBBNZYJNKJGGJHHEDFEFDGIIHEKIHBDEGGIFEEaIPnsx1466666666788888888777887887777787888788877778878888888888788888888/8877763zupBBBBBBBBBBBBBBBBBBBBBBCCCBBBBBBBBBBBBBBBBBBBBBCBBBBBBCBBBBBBBBBBCCCBBBBBBBBBBBBBBBBBBBBBBCBCBBBBBBBBBBBBCBBBBBBBBBBBBBBBBBBOcWKPLKHGKIIFEGFGEHKKIFLJICEEHHJGEEbIQnsx146666566678887877788878788877878888877778778878777888887788878778/87887863zupBBBBBBBBBBBBBBBBBBBBBBBCBBBBBBBBBBBBBBBBBBBBBBBBBBBBBBBBBBBBBBBBBBBBBBBBBBBBBBBBBBBBBBBBBBBBBBBBBBBBBBBBBBBBBBBBBBBBBBBBBBBNcSJMJIGGIGGEDFEFDGIIGEJHHCDDGFIFEEVIPnsx14665665667878887887878877877788877877777788888877778887878888788/888777863zupBBBBBBBBBBBBBBBBBBBBBBBBBBBBBBBBBBBBBBBBBBBBBBBBBBBBBBBBBBBBBBBBBBBBBBBBBBBBBBBBBBBBBBBBBBBBBBBBBBBBBBBBBCBBBBBBBBBBBBBBBBBMdZILIHFFHGGEDEDEDFHHGEIHGCDDFFHEDDcHOnsx1466566666888878888787788887887887778787777777878887777777778787/7788888863zupBBBBABBBBBBBBBBBABBBBBBCBBBBBBBBBBBBBBBBBBBBBBBBBBBBBBBBBBBBBBBBBBBBBBBBBBBBBBBBBBBBBBBBBBBBBBBBBBBBBBBBBBBBBBBBBBBBBBBBBBBMcTIKHHFFHFFDCEDEDFGGGDIGGBDDFFGEDDVHNnsx146666666677788777787888887878788787878778787788877877888787887/78878788763zupBBBBBBBBBBBBBBBBBBBBBBCCCBBBBBBBBBBBBBBBBBBBBBBBBBBBBBBBBBBBBBBBBBBBBBCBBBBBABBBBBCBBBBBBBBBBBBBBBBBBBBBBBBBBBBBBBBBBBBBBBBNfWJNJIGGIHHEDFEFDGIIHEKIHCDEGGIFEEcIPnsx14666666658888877888878788888778888788777887887887878788888788/787888878763yupBBBBBBBBBBBBBBBBBBBCBBBCBBBBBBBBBBBBBBBBBBBBBBBBBBBBBBBBBBBBBBBBBBBBBBBBBBBBBBBBBBBBBBBBBCBCBBBBBBBBBBBBCBCBBBBBBBBBBBBBBBBNeYJNKJGGIHHEDFEFDGIIHEKIHCDDGGIFEEZHPnsx1456656666888778777887788878777878787778888788888788878878888/8888878777763zupBBBBBBBBBBBBBBBBBBBBBBBCBBBBBBBBBBBBBBBBBBBABBBBBBBBBBBBBBBBBBBBBBBBBBBBBBBBBBBBBBBBBBBBBBBBBBBBBBBBBBBBBBBBBABBBBBBBBBBBBBMbXHKHGEEGFFDCEDECFGGFDHGFBDDFFGEDDbHNnsx146656666677878788778887777877787778787788877878777888788877/88887888887863zupBBBBBBBBBBBBBBBBBBBBBBBBBBBBBBBBBBBBBBBBBBBBBBBBBBBBBBBBBBBBBBBBBBBBBBBBBBBBBBBBBBBBBBBBBBBBBBBBBBBBBBBBBBBBBBBBBBBBBBBBBBBLaVGHFFDEFEECCDCDCDFEECFEEBCCDDFDDDVHMnsx14656666667877778788877788788778788788878887787777788877888/788888888787863zupBBBBBBBBBBBBBBBBBBBBBBCCCBBBBBBBBBBBBBBBBBBBBBBBBBBBBBCBBBBBBBBBBCBBBCBBBBBBBBBBBBCBBBBBBCBCBBBBBCBBBBBBBCCBBBBBBBBBBBBBCBBObWLPMKHHKIIFEGFGEHKKIFMJICEEIHJGFEeIQnsx1466666665887787777777787778788778888777887888878888878887/8878878888787863zupBBBBBBBBBBBBBBBBBBBBBBCCBBBBBBBBBBBBBBBBBBBBBBCBBBBBBCBBBBBBBBBBBCBCBBBBBBBBBBBBBBBCCBBBBBCBBBBBBCCBBBBBBCCBBBBBBBBBBBBBBCBOcVKPLKHHJIIFEGFGDHKJIFLJICEEHHKGFEZIQnsx146666666678888888878888877888888888788788887787878878877+77777887878788863zupBBBBBBBBBBBBBBBBBBBCBCCCCBBCBBBBBBBBBBBBBBBBBBCBBBBBCCCBBBBCBBBBBCCCBBBBBBBBBBBBBBCCBBBBCCCCBBBBBCCCBBBBCCCBBBBBBBBBBBBBCCBPbVMRNLIILJJGEHFHEILLJGNLKCEFIILHFEaISnsx14666666667877778878887787878788878877778888878787887877/888888888888788863zuoBBBBBBBBBBBBBBBBBBBBBBBBBBBBBBBBBBBBBBBBBBBBBBBBBBBBBBBBBBBBBBBBBBBBBBBBBBBBBBBBBBBBBABBBBBBBBBBBBBBBBBBBBBBBBBBBBBBBBBBBBBMdTHJHGEEGFFDCEDECEGFFDHFFBCDEEGDDDYHNnsx1466656666787878788887787777888888787788877877888887887/7788888888788788763zuoBBBBBBBBBBBBBBBBBBBBBBCCBBBBBBBBBBBBBBBBBBBBBBBBBBBBBBBBBBBBBBBBBBBBBBBBBBBBBBBBBBBBBBBBBCBBBBBBBBCBBBBBBBBBBBBBBBBBBBBBBBBOZTJNKJGGIHHEDFEFDGIIHEKIHCEEGGIFEEYIPnsx146566666588888878787788778878887877877888788787888778/78887878787877778763zupBBBBBBBBBBBBBBBBBBBBBBCCCBBBBBBBBBBBBBBBBBBBBBCBBBBBCCCBBBBBBBBBBCBBBBBCBBBBBBBBBBCCBBBBBCBCBBBBBCCBBBBBCBCBBBBBBBBBBBBBBBBObYLPMKHHKIIFEGFGEHKKIFMJICEEIHKGFEXIRnsx14666666668888878787788887788777777788878787878788887/888888777878778778763yupBBBBBBBBBBBBBBBBBBBBBBBCBBBCBBBBBBBBBBBBBBBBBBBBBBBBBBBBBBBBBBBBBBBBBBBBBBBBBBBBBBBBBBBBBBBCBBBBBBBBBBBBBBBBBBBBBBBBBBBBCBBNcWJNKJGGJHHEDFEGEGJIHFKIHCEEGGIFEEbIPnsx1466666656788887877888777887787777887887888788778877/8887887878788778887863zupBBBBBBBBBBBBBBBBBBBBBBCCCCBCBBBBBBBBBBBBBBBBBBCBBBBBBCBBBBBBBBBBBCCBBBBBBBBBBBBCBBBBCBBBBCBBBBBBBCCCBBBBBBBBBBBBCBBBBBBBCBBPfXLQMLHHLIIFEGFGEIKKJFMKJCEEIIKGFEYIRnsx145666656678778787788888787888788887888877877888777/77887878787888887878863zupBBBBBBBBBBBBBBCBBBBCCCCDCCCCBBBBCBCBBBBBBBBBBCCCCBBBCCCBBBCCCCBBBCCCBCCCBBBBBBBCBBCCCBBBCCCCBBBBBCCCBBBBCCCBBBBCCCBBBBBBCCCSeUPWRPKKOMMHFJHJFLOOMHROMCGGLKOIHFYJVnsx14666666667888787887887888877878888787778878787787/788878887788878877788863zupBBBBBBBBBBBBBCBBBBCCCCCDCCCCBCBCCBCBBBBBBBBBBCCCCBBBCCCBBBCCCCBCBCCCBCCCBCCBBBCCBBCCCBCBCCCCCCBBCCCCBBBBCCCBBBBCCCCBBBBCCCCTbZQZTRMLQONIGKIKGMRQOITQODGHMMQKHFZJXnsx1466566666888887788878888888888787878777887888887/7778887788788787787887863zupBBBBBBBBBBBBBBCBBBBBBCCCCCBCBBBBBBBBBBBBBBBBBBCCBBBBCCCBBBBBCBBBBCBCBBCBBBBBBBCBBBCCCBBBBCCCBBBBBCCCBBBBCCCBBBBCBBBBBBBCCCCQcVNTPNJJMKKGFIGIEJNMKGPMLCFFJJMHGFbITnsx146665666677887777788888878788788788788877877788/88888877877878878778788863zupBBBBBBBBBBBBBBBBBBBBBBBBBBBBBBBBBBBBBBBBBBBABBBBBBBBBBBBBBBBBBBBBBBBBBBBBBBBBBBBBBBBBBBBBBBBBBBBBBBBBBBBBBBBBBBBBBBBBBBBBBBLcXHIGFEEFEEDCDDDCEFFFDGFEBCCEEFDDDYHNnsx14666666668878888887778878888777788888888878787/787778887777887888878878863zupBBBBBBBBBBBBBBBBBBBBBBBBBBBBBBBBBBBBBBBBBBBBBBBBBBBBBBBBBBBBBBBBBBBBBBBBBBBBBBBBBBBBBBBBBBBBBBBBBBBBBBBBBBBBBBBBBBBBBBBBBBBLgZGIGFDDFEEDCDCDCDFFECFEEBCCDEEDDDZHMnsx1465666666778778787778788888888877878877888888/7888887887888788778878887862zupBBBBBBBBBBBBBBBBBBBBBBCCBBBCBBBBBBBBBBBBBBBBBBBBBBBBBBBBBBBBBBBBBCBBBBBBBBBBBBBBBBBCCBBBBBCCBBBBBBBBBBBBBCBBBBBBBBBBBBBBBBBOcVKOKJGGJHHFDFEGDGJJHEKIHCEEHGJFEEbIQnsx146666666588777788888878888877888888888878788/87887788888888888878888888863zupBBBBBBBBBBBBBBBBBBBBBBBCBBBBBBBBBBBBBBBBBBBBBBBBBBBBBBBBBBBBBBBBBBBBBBBBBBBBBBBBBBBBBBBBBBBCBBBBBBBBBBBBBBBBBBBBBBBBBBBBCBCNfXJNKJGGIHHEDFEGDGIIHEKIHCDEGGIFEEXIPnsx14566666657877888887788878887887787788778887/877888888888877877888778778863zupBBBBBBBBBBBBBBBBBBBBBBCCCBBBBBBBBBBBBBBBBBBBBBBBBBBBBBBBBBBBBBBBBBBCBBBBBBBBBBBBBBCBBBBBBBBBBBBBBBBBBBBBBBCBBBBBBBBBBBBBBBBNebJNKJGGIHHEDFEGDGJIHEKIHCDEGGIGEEZIPnsx1466566556888878787777888777788788888778887/7788778888887878878878877878763zupBBBBBBBBBBBBBBBBBBBBBBBBBBBBBBBBBBBBBBBBBAABBBBBAABABBBBBBBBBBBBBBBBBBBBBBBBBBBBBBBBBBBBBBBBBBBBBBBBBBBBBBBBBBBBBBBBBBBBBBBKdXFFEDDCDDDCCCCCCDDDDCEDDBCCDCDCCDXGLnsx146666666678878878887787888787788888888877/88887888888788878788887888877863zupBBBBBBBBBBBBBBBBBBBBBBBBBBBBBBBBBBBBBBBABABBBBBBBBBBBBBBBBBBBBBBBBBBBBBBBBBBBBBBBBBBBBBBBBBBBBBBBBBBBBBBBBBBBBBBBBBABBBBBBBKaVFGEEDDEDDCCCCDCDEEDCFEEBCCDDECCDZHLnsx14666666667877877787878878778888878778887/787888787887888788778788788888863zupBBBBBBBBBBBABBBBBBBBBBBBBBBBBBBBBBBBBBBBBBBBABBBBBBBBBBBBBBABBBBABBBBBBBBBBBBBBBBBBBBBBBBBBBBBBBBBBBABBBBBBBBBBBBBBBBBBBBBBJaTEDCCBBCCCBBBBCBCCCCBCCCBBBBBCBCDVGJnsx1466666566878777878888888888878888778787/8888878787878788888877788887887863zupBBBBBBBBBBBBBBBBBBBBBBBBBBBBBBBBBBBBBBBBBBBBBBBBBBBBBBBBBBBBBBBBBBBBBBBBBBBBBBBBBBBBBBBBBBBBBBBBBBBBBBBBBBBBBBBBBBBBBBBBBBBLcXGIGFEEFEEDCDDDCEFFEDGFFBCCEEFDDDbHMnsx146666566678877777788887888788787888788/78888878778888787878787788878877863zupBBBBBBBBBBBBBBBBBBBBBBBBBBBBBBBBBBBBBBBBBBBBBBBBBBBBBBBBBBBBBBBBBBBBBBBBBBBBBBBBBBBBBBBBBBBBBBBBBBBBBBBBBBBBBBBBBBBBBBBBBBBLfUHIGFEEFEEDCDDDCEFFEDGFEBCCEEFDDDXHMnsx14666566568788888888787878787887788877+778888878888888778778887888888878853zupBBBBBBBBBBBBBBBBBBBCCBCCCBBBBBBBBBBBBBBBBBBBBBCCBBBBBBBBBBBBCBBCBCCBBBBBBBBBBBBBBBBBCBBBBBBCBBBBBCBCBBBBCCBBBBBBBBBBBBBBCCBPcSLQNLHHKJJFEGFHEILKJFMKJCEEIIKGFEaIRnsx1456666565888788788778887888887878877/7888887788878888778778788878877787763zupBBBBBBBBBBBBBBBBBBBBBBCCCBBBBBBBBBBBBBBBBBBBBBCBBBBBBBBBBBBBBBBBBBBBBBBBBBBBBBBBBBBBBBBBBBBCBBBBBBBBBBBBBBBBBBBBBBBBBBBBCBBObRJNKJGGIHHFDFEGDGJJHEKIHCEEHGIFEEaIPnsx146665666688787787788778878888888787/87888877787788877877888878877788888763yupBBBBBBBBBBBBBBBBBBBBBBCCCBBCBBBBBBBBBBBBBBBBBBCBBBBBBCBBBBBBBBBBBCBBBBBBBBBBBBBBBBCCBBBBBBBCBBBBBCBCBBBBBCBBBBBBBBBBBBBBBBCOdXKPLKHHKIIFEGFGEHKKIFMJICEEHHJGFEcIQnsx14666656667788778888888887888778778/888887888888878888888777887778888877763zupBBBBBBBBBBBBBBBBBBBBBBCCBBBBBBBBBBBBBBBBBBBBBBBBBBBBBBCBBBBBBBBBBBBBBBBBBBBBBBBBBBCBBBBBBCBCBBBBBBBBBBBBBBBBBBBBBBBBBBBBBBBNeXJMJIGGIGHEDFEFDGIIHEJIHBDDGGIFEEZIPnsx1466665665888878878888778888788887/8788888788787888778878888777878887877763zuoBBBBBBBBBBBBBBBBBBBBBBBBBBBBBBBBBBBBBBBBBBBBBBBBBBBBBBBBBBBBBBBBBBBBBBBBBBBBBBBBBBBBBBBBBBBBBBBBBBBBBBBBBCBBBBBBBBBBBBBBBBBNdXJMJIGGIGHEDFEFDGIIGEJIHCDDGGIFEEVIPnsx146666655677878777788788888888778/87888787887888788778788888788788877787863zupBBBBBBBBBBABBBBBBBBBBBCCBBBBBBBBBBBBBBBBBBBBBBBBBBBBBBBBBBBBCBBBBBBCBBBBBBBBBBBBBBBBBBBBBCBBBBBBBCBBBBBBCBBBBBBBBBBBBBBBBBBNcXJNKJGGJHHEDFEGDGJJHEKIICEEGGIFEEWIPnsx14656666668888877888787787787877/888877778888888788788788887878878888778863zupBBBBBBBBBBBBBBBBBBBBBCCCBBBBBBBBBBBBBBBBBBBBBBBCBBBBBBBBBBBBBBBBBBBBBBBBBBBBBBBBBBBBBBBBBBBCBBBBBBBBBBBBBCCBBBBBBBBBBBBBBBBObVJOKJGGJHHFDFEGDHJJHFKIICDEGGJFEEaIQnsx1456666666888877787778877888787/7888778887788877778877877787788787888787863zupBBBBBBBBBBBBBBBBBBBBBBBBBBBBBBBBBBBBBBBBBBBBBBBBBBBBBBBBBBBBBBBBBBBBBBBBBBBBBBBBBBBBBBBBBBBCBBBBBBBBBBBBBBBBBBBBBBBBBBBBBBBNcVJMJIGFHGGEDFEFDFIHGEJHGBDDGGHFEEZHPnsx146666666687788787788877788878/77887887887888787887888877877887877788888763zupBBBBBBBBBBBBBBBBBBBCCCCCCBCBBBBBBBBBBBBBBBBBBBCBBBBBBCCBBBBCBBBBBCBCBBBCBBBBBBBCBBBCBBBBCCCCBBBBBCCCBBBBCCCBBBBBCCBBBBBBBCCPbUMRNMIILJJGEHGHEILLJGNLKCEEIILHFEYISnsx14666666668878887788787788787/888887878887887887778778878888877777888878763zupBBBBBBBBBBBBBBBBBBBBBBCCCBBBBBBBBBBBBBBBBBBBBBBCBBBBBBBBBBBBCBBBBBBCBBBBBBBBBBBBBBBBBBBBBCCCBBBBBCBBBBBBBCCBBBBBCBBBBBBBBBBObUKPLKHGJIIFEGFGEHJJIFLJICEEHHJGFEZIQnsx1466556666888788777877778787/7878788887888888887788887887878788878787887863yupBBBBBBBBBBBBBBBBBBBBBCCCCCBCBBBBBBBBBBBBBBBBBBCCBBBBBBCBBBBBBCBBBCCCBBBBBBBBBBBCBBCBCBBBBCBCBBBBBCBBBBBBCCCBBBBBCBBBBBBBCCCPZTLRNLIILJJFEHFHEILLJFNLJCEFIILHFEcISnsx146666666687888878878888878/87878878878788877887877788877877887878887888863zupBBBBBBBBBBBBBBBBBBBBBBCCCBBBBBBBBBBBBBBBBBBBBBCCBBBBCBCBBBBBBBBBBCCBBBBBBBBBABBCBBCCCBBBBCBCBBBBBCBBBBBBCCCBBBBBBBBBBBBBCBBPYULRNLIHLJIFEHFHEILLJFNKJCEEIILGFEbIRmsx14666666668788878877787877/788878888877887788878878788778878887778888778863zupBBBBBBBBBBBBBBBBBBBBBBCCCBBBBBBBBBBBBBBBBBBBBBBBBBBBBBBBBBBBBBBBBBBBBBBBBBBBBBBBBBBBBBBBBCBCBBBBBCBBBBBBCBBBBBBBBBBBBBBBBBBOdUKOKJGGJHHFEFEGDGJJIFKIIBEEHHJFEEVIQmsx1466665666788887788888887/8887788878788888788777788888787777887877887888863zupBBBBBBBBBBBBBBBBBBBBBBCCBBBBBBBBBBBBBBBBBBBBBBBBBBBBBBBBBBBBBBBBBBBBBBBBBBBBBBBBBBBBBBBBBCBBBBBBBBBBBBBBBBBBBBBBBBBBBBBBBBBNdRJMJIGFIGGEDFEFDGIIGEJIHCDDGGIFEEUIPnsx146666666687888788777877/78888887887778888878888778787888888888878888888863zupBBBBBBBBBBBBBBBBBBBBBBBBBBBBBBBBBBBBBBBBBBBBBBBBBBBBBBBBBBBBBBBBBBBBBBBBBBBBBBBBBBBBBBBBBBBBBBBBBBBBBBBBBBBBBBBBBBBBBBBBBBBLfWGIFFEDFEECCDDDCEFFEDGFEBCCEEFDDDWHMnsx14666565668888778887778/877888788888788777788877878878778878777787888788863zupBBBBBBBBBBBBBBBBBBBBBBCCCBBBBBBBBBBBBBBBBBBBBBBBBBBBBCBBBBBBBBBBBCBBBBBBBBBBBBBBBBCBBBBBBCBBBBBBBBBBBBBBBBBBBBBBBBBBBBBBCBBOcbKOLJHHJHHFDGFGDHJJHFLJICEEHHJFEEeIQmsx1466566666778788878888/8887777878788888787788888888887787778778788888787863zupBBBBBBBBBBBBBBBBBBBCCCCDCCCCBCCBBBBBBBBBBBBBBBCCCBBBCCCBBBCCCCCCBCCCBCCBBBBBBBBCBBCCCBBBCCCCBCBBBCCCBBBCCCCBBBBCCCBBBBBCCCCSbWPYSQLKPNMIFJIKFLPPMHSPNCGGLLPJHFeJVnsx146666666578878878787/87888778787788878877787787778878788887887778888787863zupBBBBBBBBBBBBBBBBBBBCCCCCCCBCBBBBBBBBBBBBBBBBBBCCBBBBCCCBBBBCBCBBBCCCBBCCBBBBBBBCBBCCCBBBBCCCBBBBBCCCBBBBCCCBBBBBCBBBBBBBCCCQfZNUPNJJNKKGFIGIFJNMKGPMLCFFJJMHGEWJTnsx14556666658888878887/788778788878787787887887778788888888878878888887887763zupBBBBBBBBBBBBBBBBBBBBBCCCBCBBBBBBBBBBBBBBBBBBBBBBBBBBBCBBBBBBBBBBBCBBBBBBBBBBABBBBBCBBBBBBBBCBBBBBBBBBBBBBBBBBBBBBBBBBBBBBBBOdUKOKJGGJHHEDFEGDHJIHEKJICEEGGIFEEbIPnsx1466666665888788888/7878788788888888787788888888888887778788888888788788763zupBBBBBBBBBBBBBBBBBBBBBBBBBBBBBBBBBBBBBBBBBBBBBBBBBBBBBBBBBBBBBBBBBBBBBBBBBBBBBBBBBBBBBBBBBBBBBBBBBBBBBBBBBBBBBBBBBBBBBBBBBBBLhWGHFEDDFEDCCDCDCDEEECFEDBCCDDEDDDcHLnsx145666666687888887/88888788878878887787787788888887777788778788788887878863zupBBBBBBBBBBBBBBBBBBBBBBCBBBBBBBBBBBBBBBBBBBBBBBBBBBBBBBBBBBBBBBBBBBBBBBBBBBBBBBBBBBBBBBBBBBBBBBBBBBBCBBBBBBBBBBBBBBBBBBBBBBBMgZHKHHFFGFFDCEDECFHGFDIGGBDDFFGEEDYHNnsx14666666658777877/788888787777778788887788788778888788778787887878888878863yupBBBBBBBBBBBBBBBBBBBBBCCCCBBCBBBBBBBBBBBBBBBBBBBBBBBBBBBBBBBBBBBBBCBBBBBBBBBBBBBBBBBBBBBBBCBCBBBBBCBBBBBBBBBBBBBBBBBBBBBBBBCOZXKOLKHHJHHFDGEGDHJJHFLJICEEHHJFFEVIQnsx1466666666778888/7888878877888778887788888788788777787887887887788788887862zupBBBBBBBBBBBBBBBBBBBBBBCCCBBBBBBBBBBBBBBBBBBBBBBBBBBBBBBBBBBCBBBBBBBBBBBBBBBBBBBBBBBBBBBBBCBBBBBBBBBBBBBBBCBBBBBBBBBBBBBBBBBOZVKOKJGGJHHEDFEGDHJJHEKJICEEHHIFEEdIQnsx146666666678788/88888888788887787788778888777877778888788777877888878888863zupBBBBBBBBBBBBBBBBBBBBBBCCCBBBBBBBBBBBBBBBBBBBBBBBBBBBCCCBBBBCBBBBBCBBBBBBBBBBBBBBBBBBCBBBBCBCBBBBBBBBBBBBCCBBBBBBBBBBBBBBBBBOaRKOLKHHJHIFEGFGEHJJIFLJICEEHHJGFEfIQnsx14666666667888/877888787888787788777787888777787888887887878778887888787763zupBBBBBBBBBBBBBBBBBBBBBBCCBBBBBBBBBBBBBBBBBBBBBBBBBBBBBBBBABBBBBBBBBBBBBBBBBBBABBBBBBBBBBBBCBBBBBBBBBBBBBBBCBBBBBBBBBBBBBBBBBNbSJMJIGGIGGEDFEFDGIIGEJIHCDDGGIFEEYIPnsx1466666666878/8888887878788888778888788888787888888878888877778878777888863zupBBBBBBBBBBBBBBBBBBBBBBCCBBBBBBBBBBBBBBBBBBBBBBBBBBBBBBBBBBBBBBBBBCBBBBBBBBBBBBBBBBBBBBBBBCBBBBBBBBBCBBBBBBBBBBBBBBBBBBBBBBBNfXJMJIGGIGGEDFEFDGIIGEJIHBDDGGIFEEYHPnsx145665666677/77888888887878788788788887788877778888788788778878887887788763zupBBBBBBBBBBBBBBBBBBBBBBCCBBBBBBBBBBBBBBBBBBBBBBBBBBBBBBBBBBBBBBBBBBBBBBBBBBBBBBBBBBBBBBBBBBBBBBBBBBBBBBBBBBBBBBBBBBBBBBBBBBBMfVILIHFFHGGEDEDFDFHHGEIHGBDDFFHEEEcHOnsx14656666668/888878788788887878888888888777888787788888887877788778878788763zupBBBBBBBBBBBBBBBBBBBBBBBBBBBBBBBBBBBBBBBBBBBBBBBBBBBBBBBBBBBBBBBBBBBBBBBBBBBBBBBBBBBBBBBBBBBBBBBBBBBBBABBBBBBBBBBBBBBBBBBBBBLcXHJGGEEFFFDCDDECEGFFDGFFBDDEEGDDDUHNnsx1466656665/7788878788788888788877888778788878877778888788778788787878877763zupBBBBBBBABBBBBBBBBBBBBBCCBBBBBBBBBBBBBBBBBBBBBBBBBBBBBBBBBBBBBBBBBBBBBBBBBBBBBBBBBBBBBBBBBBBBBBBBBBBBBBBBBBBBBBBBBBBBBBBBBBBMcVILIHFFHGGDDEEECFHHFDIGGBDDFFGEEDXHOnsx146688887/66666666666666656566666666665666656666666666565656665666656666641xsnBBBBBBBBBBBBBBBBBBBBBBBBBBBBBBBBBBBBBBBBBBBBBBBBBBBBBBBBBBBBBBBBBBBBBBBBBBBBBBBBBABBBBBBBBBBBBBBBBBBBBBBBBBBBBBBBBBBBBBBBBBLeYHIGFEEFEEDCDDDCEFFEDGFFBCCEEFDDDZHMnsx14667888/766566666666666666666666665656666666666666665665566666666666666641xsnBBBBBBBBBBBBBBBBBBBBBBBBBBBBBBBBBBBBBBBBBBBBBBBBBBBBBBBBBBBBBBBBBBBBBBBBBBBBBBBBBBBBBBBBBBBBBBBBBBBBBBBBBBBBBBBBBBBBBBBBBBBLbWGIGGEEFFFDCDDECEFFFDGFFBCCEEFDDDgHMnsx1466877/7866666556566666666665666666666666666666666665666666666666566666641xsnBBBBBBBBBBBBBBBBBBBBBBBBBBBBBBBBBBBBABBBBBBBBBBBBBBBBBBBBBBBBBBBBBBBBBBBBBBBBBBBBBBBBBBBBBBBBBBBBBBBBABBBBBBBBBBBBBBBBBBBBBKfSFGEEDDDDDCCCCCCDDEDCEDDBCCDDDCCDZGLnsx146677/87866656666666666666656656666666666666666566666666666666566666656641xsnBBBBBBBBBBBBABBBBBBBBBBBBBBBBBBABBBABBBABBBBBBBBBBBBBBBBBBBBBBBBBBBBBBBBBBBBABBBBABBBBBBBBBBBBBBBBBBBBBBBBBBBBBBBBBBBBBBBBBKfZFFEDCDDDDCBCCCBDDDDCEDDBCCCCDCCDXHKnsx14568/788766666666666666666665666566666566666665655656566656656666666666641xsnBBBBABBBBBBBBBBBBBBBBBBBBBBBBBBBBBBBBBBBBBABBBBBBBBBBBBBBBBBBBBBBBBBBBBBBBBBBBBBBBBBBBBBBBBBBBBBBBBBBBBBBBBBBBBBBBBBBBBBBBBLbbGHFEDDEEECCDCDCDEEECFEEBCCDDEDCDZHMnsx1466/8787866665666565666666566666666666666665566666666666666566656666666541xsnBBBBBBBBBBBBBBBBBBBBBBBBBBBBBBBBBBBBBABBABBBBBBBBBBBBBBBBBBBBBBBBBBBBBBBBBBBBBBBBBBBBBBBBBBBBBBBBBBBBBBBBBBBBBBBBBBBBBBBBBBKVXFGEEDDDDDCBCCCCDEEDCEDDBCCDDDCCDZHLnsx168/66666666665666666666666656666665666566665666665656666656666666665666641xsnBBBBBBBBBBBBBBBBBBBBBBBBBBBBBBBBBBBBBBBBABBBABBBBBBBBBBBBBBBBBBBBBBBBBBBBBBBBBBBBBBBBBBBBBBBBBBBBBBBBBBBBBBBBABBBBBBBBBBBBBKeYGHFEDDEDECCDCDCDEEDCFEDBCCDDECCDYHLnsx16+766666666665666666656656666566666666666665656566666565666666666666665641xsnBBBBBBBBBBBBBBBBBBBBBBBBBBBBBBBBBBBBBBBBBBBBBBBBBBBBBBBBBBBBBBBBBBBBBBBBBBBBBBBBBBBBBBBBBBBBBBBBBBBBBBBBBBBBBBBBBBBBBBBBBBBMdcHJHGFFGFFEDEDEDEGGFDHGFCDDFEGEEEcINlqvz7664444444444444444444444444444444444444444444444444444444444444444444443zvqlBBBBBBBBBBBBBBBBBBBBBCCCBBBCBBBBBBBBBBBBBBBBBBCBBBBBBBBBBBBBBBBBBCCBBBBBBBBBBBBBBBCBBBBBBBBCBBBBBCBBBBBBBCBBBBBBBBBBBBBBCBBYZYXYYTSWaUUcSUVUUZXWSYWXYXWXUUTYUXZbVkpu1z11111111111111111111111111111111111111111111111111111111111111111111111zwsniBBBBBBBBBBBBBBBBBBBBCCCCCCBCBBBBBBBBBBBBBBBBBBCCBBBBCCCBBBCCCBBBBCCBBCBBBBBBBBBBBBCCBBBBBCCCBBBBBCCCBBBBCCCBBBBBCBBBBBBBCCBcbXabXacWZVcZXWXeYZaXdUdZbbdXcaaZdcedWgltuvxxxxxxxxxxxxxxxxxxxxxxxxxxxxxxxxxxxxxxxxxxxxxxxxxxxxxxxxxxxxxxxxwxxxxxxvsojeBBBBBBBBBBBBBCBBBBCCCCCDCCCCCBBCCBCBBBBBBBBBBCCCCBBBCCCBBBCCCCCBCCCCBCCCBBBBBBCCCBCCCBCBCCCCBCBBBCCCBBBCCCCBBBBCCCBBBBBBCCCYdWVeYWRQWSSNLPNQLRVVSNYVTIMMRRVPMKXPbcklprsssssssssssssssssssssssssssssssssssssssssssssssssssssssssssssssssssssssrojfbBBBBBBBBBBBBBBBBBBBBBCCCCCBCBBBBBBBBBBBBBBBBBBCBBBBBCCBBBBBCBBCBBCCBBBBBBBBBBBBBBBCCCBBBBCCCCBBBBBCBBBBCCBCBBBBBBCCBBBBBCCBdfifccdfggifhghajbchekgdgejkhegieehhffZbgklnnmnnnnnnnnnnnnnnnnnnnnnnnnnnnnnnnnnnnnnnnnnnnnnnnnnnnnnmnnnnnnnnmnnnnnlieZUBBBBBBBBBBBBBBBBBBBBBCCCBBTROMLKLKLJKKJJJJJJKKMLLJKJMMMKJKLMLLLLKNNPOTUUUTRRQTQSWSVXOPURUVSVXVRTTXSRTUSTTVVUSURVUTNZXWTVaTVUZeilnnnnnnnnnnnnnnnnppppppppppopnkgbZgbaUNLLMLLNMOMOPPQPQOLQTWQMPQRSQSPPPPPQQRMMJLLPPQMMTXVRPRPNSQQMNPPNOPQQNNNQPRbbgWBBBBBBBBBBBBBBBBBBBBBBBBBBOMKJHGHGHGGGGGGGGGGHHHHGGGHHHGGHHHHHHHHIJKMOPNKJHHGHHHGHHHHHHHHIIIHHGHUIHHHGHHIIHHHHHHHHHHHGHJLNPZfknqssssssssssssssssuuuuuuuuuuuuspljbdPdZIHHHHHHHHHHIIIIIHHIIJIHIIIIIIIIIIIIIIHHHHHIIIHHJJJIIIIHIIIHHHIHHIIIHHHIIIajgYBBBBBBBBBBBABBABBABBBBBBBBMLIGGFFFFFFEEEEEEEEFFFFEEFFFFFFFFFFFFFFGHIKMNLIHGFEFFFFFGGGFFFFGGGFFEFTGGGFFFFGGGFFFFGFFFFFFGHJLNejosvxxxxxxxxxxxxxxxxzzzyzzzzzzzzxutlgiZYaaebZbbZYWadVXbaaUYbbaXaWXWdYZUcaVVdXeYTcabYZcXUbXcYYZTcYYdZbabacZaXcUaaaZcfhXBBABBBBBBBBBBBBBBBBBBBBBBBLIHFEDDDDDDDDDDDDDDDDDDDDDDDDDDDDDDDDDDEFHILLJGFEDDDDEDDEDEDDDDEDEDDDDOEEEDDDDEEEDDDDDDDDDDDEFHJLinswz101111111111111133333333333311upkeLaXEDDDDDDDEDEEEEEEEDEEFEDEEEEEFEEEEDEEEDDDDDEEEDDFFFEEEEDEEEDDEEDEEEEDDDEEFdhhXBBBBBBBBBBBBBBBBBBBBBBBBBBKIGEDCDCCCCCCCBCCCCCDDDCCCDDDCCCCDDCDCCEFGHKLJGFDCBCDDDCEEECDDDEEEDDCDVEEECCCDEEEDCCCDEDDCDCDFHJLlrvz2444444444444444466666666666671xsngNcbEDCDCCDDDDEEEFEEEDEGHFDEFFFFFEEEEEFEFDDCDCEEEDDGHHFEFEDFFFCEEEDEEFEEDDFEFdieaBBBBBBBBBBBBBBBBBBBBBBBBBBKIFEDCCCCBBBCBBBBCCCDDDBCBDDDCBCCDDCCCCEFGGKLJGFDCBCEEDCFEFCDDEFEFDDBCUFEECCCDFFFDDCCEEEDCDCDFIKLnsx14666566656656666677888878788+63zuodPbWEDCDCCEDEDEFFGFGEDFHJFDFFHGGHFFFFFGFGDDBDCFFFDDIKJGFGFEHGGDEFFEEFGFEDDGFHeejaBBBBBBBBBBBBBBBBBBBBCCCCCBLKHFEDDCDCCCCBBBCCCDFEECCCEEECCDDEEEDDDGGIHMNLHGFDBEFGEDHHHDFEFIHJEFCEUIHHDDDGHIHFEDDGGGEDEDEHLMOnsx1466666656666666668888887887/863zupfVaZGEEEDDFFHFHIIJIJGEJMPJFHJKLJLHJIHIJIKFFCEDIIIEFMQOKIKIGLJJEGIIGHIJIGFGJILfcgWBBBBBBBBBBBBBBBBBBBBBBCCBBKJGEDCDCCCCCCBBBBCCCEDDCCCDEDCBCDDDDCDCFFHHLMKGFEDBDEFDCFFFCDDEGGHDEBDUGFFDCCEGGFDDCCFFFDCDCDGJLNnsx146666656656666666888888887/8863zuolRaXFDDDCDEEFEFGGHGHFDGJLHEGHIIHIFHGGGHGIEEBDCGGGEEJMKIGHGEIHHDEGGFFGHGFEEHGIZibcBBBBBBBBBBBBBBBBBBBBBBCCBBKJGEDCDCDCCCCBBBBCCCEEDCCBEEDCBCDDDDCDCFFHHLMKGFEDBDEFEDGFGCDDEGGHEEBDSGFGDCCEGGFDDCDFFEECDCEGJLMnsx14665666566666666687878887/78763zupiRcYFDDDDDEEFEFGGHHHFDGJLHDGHIIHIGGHGGHHIEEBDCGGGEEJMLIHIGEIHHEFGGFFGHGFEEHHIZhedBBBBBBBBBBBBBBBBBBBBBBBBBBJHFDCBCBCBBBBBBBBBBCCCCBBBCCCBBBCCCCCCCDEFHJKIFECCBCCDCBDDDCCCCEDECCBCYDDDCCBCDDDCCBCDDCCBCBCEHIKnsx1466665666666666667887878/878862zupiMeWDCCCBCCCDCDDDEEEDCEFGECDEEEEEDEEDDEEECCBCCEEECCFHGEEEEDEEECDEDDDDEEDCDEEFhbiZBBBBABBBBBBBBBBBBBBBBBBBBBKIFECCCBCBBBBBBBBBBCCCCBBBCCCBBBCCCCCCCDEFGJKIFECCBCDDCBDDDBCCCDDECCBCTDDDBCBCDDDCCBBDDDCCCBCEHJKnsx146666666666666566878877/8887763zupgMeRDCCCCCDCDCDDDEEEDCEFGECDEFEEFDEDEDEDECDBCBEEECCFHGEEEDDFEECDDDDDDEEDDDEDFXfgaBBBBBBBBBBBBBBBBBBBBBBBBBBIGEDCBBBBBBBBBBBBBBBBBBBBBBBBBBBBBBBBBBCDEGJJHFDCBBBBBBBBCBBBBBCCCBBBBOBBBBBBBCCBBBBBBBBBBBBCDFHJnsx14666666556666666678877/78887763zupgIgXCBBBBBBBBBBCCCCCBBCCDCBCCCCCCCCCBCCCCBBBBBCCCBBCDCCCCCBCCCBBBCBBBCCCBBCCCZdkgBBBBBBBBBBBBBBBBBBBBBCCCCBLJGFDCDCDCCCCCBBCCCDEEECCCEEECCCDEEDDDDFGIHLNLHGEDBDFFEDGGGDEEFHGIEFCDRHGGDCCFHHGEECDFGFEDDCEGKMNnsx1466666666665566568878+888778862zupfTaWFDDEDDFEGFGHHIIIGEILNIEHHJJIKGIHHHIHJEECDDHIIEELOMJIJHFKIIEFHHFGHIHGFFIHJbffbBBBBBBBBBBBBBBBBBBBBBBCCCCLKGFEDECDCCCCCBBCCCDFEECCCEFECCDDEEEDDDGGIHLNLHGEDCDFGEDHHHDEEFIHJEFCESIHHDDDGHIHEEDDGGGEDEDEHLMOnsx146566656566666665888+8787877763zuojVXYGEEEDDFFHFHIIJIJGEIMPJFHJKLJLHIIIIKIKFFCEDIIIFFMQOKIKIFLJKEGIIGHIJIGFFJIKehgaBBBBBBBBBBBBBBCBBBCCCCCDCCMLHGEDEDECDCDCCCCCCDGFFCCCFGFCCDEFFFEEDHHIIMPNHHFDCEGHFEJIJDFFGKILFGCFVJIJEDDHJKJFFDEHHHFDFDFIMOPnsx14656665666666666688/87788778863zupcYaYHFEFEEGGIGIJJLKLHFKPSLGJLNNLNJKKJJMKMGGCFEKKLGGPTRNKMKHNLMFHKKHIJLKIGHLKNgbkcBBBBBBBBBBBBBBBBBBBBBBBBBBKIFEDCCCCBCBCBBBBBBCCCCBBBCDDBBCCCCCCCCDEGHKLJFEDCBCDDDCEEECDCDEEFCDBCUEEECCCDEEECCCCDDDDCCCDEIJLnsx1466565666666656667+787877787763zuphNbQDCCCCCDDDDEEEFFFDCFGHECEFFFFGEEEEEFEFDDBCCEEFCDGIHFEFEDFFFCDEEDDEFEDDDFEGbiecBBBBBBBBBBBBBBBBBBBBBBCCBBKJGEDDDCDCCCCBBBCCCDEEDBCCEEECBCDEDDDDCFGHHLNKGGEDBDFFEDGGGCEDEHGIEECDSHGGDCCFGGGEDDDFFFEDECEGKMNnsx146666666666666555/7787877888863zupgTcWFDDEDDFEGFGGGIHIGDILNIEHHJJIJGHHGHIHJEECDDHHHEEKNMJHIHFJIIEFHHFGHIHFFFIHJfdeVBBBBBBBBBBBBBBBBBBBBBCCCBBLKHFEDECDCCCCCBBCCCDFEECCCFFECCDEEEEDDDGGIHMNLHGEDBEFGFDHHHDEEGJHJEFCEUIHHDDDGIIHFEDDGGGEDEDEHLMOnsx14666566666677788+66666666666641xsnfVWTGEEEDEFFHGHIIJJJGEJMPJFHJLLJLIJIIIKJLFFCEDIJJEFMQOKJKIGLKKEGIIGHIKJHFGJJLcYjfBBBBBBBBBBBBBBBBBBBBBBCCBBLKGFEDEDDCCCCCBBBCCDFFECCCEFECCDEEEEDDDGGIHMNMHGFDBEFGFDHHHDFEFJHJEFCEXIHHDDDGIIHFEDDGGGFDEDFHLNOnsx1465566666657787/756666666666641xsniVaSGEDEDEFFGGHIIJJJGEJNPJFIJLLJLIJJHIKJLFFCEDIIJFFMROLIKJGLJKFGIIHHIJIHFGKJLcicXBBBBBBBBBBBBBBBBBBBBBCBCBBKJGEDCDCDCCBCBBBCCCCDDDCCCEDDCBCDDDDDDCFFHHLMKGFEDBCEFECFFFCDDEGFHDEBDYGFFCCCEGGFDDCCEFFECDCEGJLMnsx146666666666788/8866666666666641xsnkReWFDDDDDEEFEFGGHGHFDGJLHEGHIIHIGGGGGHGIEEBDDGGHEEJMLIGHGEIHHDEGGFFGHGFEEHGIhhgXBBBBBBBBBBBBBBBBBBBBBBBBBBJHFECCCBBBBBBBBBBBBBCCCBBBCCCBBBCCCCCBBDEGGJKIFEDBBBDCCCDDDBCCCDDECCBCTDDDBBBCDDDCCBCCCCCBCBCEHIKnsx14665666666688/78865666666666641xsniLeWDCCCBCCCDCDDDDEEDCDFGECDDEEEEDDDDDDDECCBCBDDDCCFGFEDEDCEEECDDDCDDDDDCDEDEegfVBBBBBBBBBBBBBBBBBBBBBBBCBBKIGEDCCBCBCBCBBBBBCCDDDBCBDDDCBCDDDDCCCEFHHKMJGFDCBDEEDCFEFCDDDFFGDDBDTFFFCCCDFFFDDCCEEEDCDCDFIKLnsx1466666666668/888865666666556541xsnePbUEDCDCCEDEDEFFGFGEDGIKGDFGHHGHFGFFFGGHDDBDCFGGDDIKJGGGFEHGGDEFFEFFGFEEEGFHeefcBBBBBBBBBBBBBBBBBBBBBBBBBBKIFEDCCBCBBBBBBBBBCCDCCBCBCCCBBBCCCCCCCEEGHKLJFEDCBCDDCCEDECCCDEEFCDBCQEEECCBDEEECCCCDDDDCCBDFIJLnsx146666666666/7777866666666666641xsnfNYYDCCCCCDDEDEEEFEFDCEGHFDEEFFFFEEEEEFEFDDBCCEEECDGIHFEFEDFFFCDEEDDEFEDDDFEFfifXBBBBBBBBBBBBBBBBBBBBBBBBBBKIFEDCCCCBCBCBBBBCBCDDDBCBDDDCBCDDDDCCCEFGHKLJGFDCBCDEDCFEFCDDEFEGDECDTFEFCCCEFFFDDCCEEEDCDCDFIKLouz36878888887/56565665566666665541xsmePVXECCDCCEDEDEFFGFGEDFHJFDFFHHGHFFGFFGFGDDCCCFFFDDIKJGFGFDHGGDEFFEEFGFEDDGFHdckcBBBBBBBBBBBBBBBBBBBBBBBBBBJIFDCBCBCBBBBBBABBBBCCBBBBCCCBBBCCCCCCBDEFGJKIFECBBCCDCCDDDCCCCDDDCCBCRDDDBBBCDDDCCBCCDDCCCBCEHIKpuz3688878888/856666666666666666641xsniLYYDCBCCBCCDCDDDDDDCCDEFECDDEEEEDDDDDEDECCBCBDDDCCFGFEDEDCEEECCDDCDDDDCCCEDEfegXBBBBBBBBBBBBBBBBBBBBBBBBBBKIFECCCBCBCBBBBBBBBCDDCBCBCCCBBCCCCCCCCDEGHKLJGEDCBCDDCCEDECCDDEEFCDBCTEEECCCDEEEDCCCDDDCCCCDFHJLpuz367888877/8766666566666666666641xsnZNaaDCCCCCDDDDDEEFEFDCEGIFCEFGGFGEEEEEFFFDDBCCEEEDDGIHFFFEDFFFDDEEEEEFEDDDFEGYhZeBBBBBBBBBBBBBBBBBBBBBBCCBBKJGEDCDCDCCCCBBBBCCDEEEBCCEEECCCDEDDDDCFGHHLMLGFEDBDFFEDGGGDEEFHGIEECDRHGGDCCFGHGEEDDFFFEDDCEGKLNpuz36887887/78766666666666656666541xsndSXTFDDEDDEEFFGGGHHIFEHKNHEGHJJIJGHHGGIHJEECDDHHHEEKNMJHIHFJIIEFHHFGGIHGFFIHJffggBBBBBBBBBBBBBBBBBBBBBBCCBBLJGEDDDCDCCCCBBBBCCDEEDBCCEEECCCDEDDDDDFGHHLMKGGEDBDFFECGGGCEEFHGIEECESHGGDCCFHHGEDDDFFFEDEDEGKLNpuz3688788/877856665666666665666541xsnjSfXFDDEDDEEGEGGHIHHFEHKNHEHHJJIJHHHGHIHJEECDDHHHEEKNMJHIHFJIIEFHHFGGIHFFEIHJagebBBBBBBBBBBBBBBBBBBBBBBCCCCMKHFEDECDCCCCCCBCCDDFEECCCFFECCDEEEEDDDGGIHMOLHGFDBDGGEDIHHDFFFJHJEFCEVIIHEDCGIIHFEDDGGGFDEDEHLNOpuz368878+7788866666665656666656641xsnkVbZGEEEDDGFHFHIIJJJHEJNQJFIJLLKLIJJIIKJLFFCEDIJJFFMQOKJKJGLJKEGIIGHIKJGGGKJLagfaBBBBBBBBBBBBBBBBBBBBBBBCBBKJGEDCDCCBCCCBBBCBCCDDDBCBDEDCBCCDDDCCCFFHHLMKGFECBDEEDCFFFCDDEGFGDECDUGFFDCCEFGFEDCCEEEDCDCDGJKMpuz36877/88878866666666666666666641xsncRYbEDDDDDEEFEFGGHGHEDGJLGDGGIIHIFGGGGHGIEECDDGGGDEJLKHGHGEIHHDEGGFFGHGFEEHGIdimdBBBBBBBBBBABBBBBBBBBBBCCBBLJGEDCDCCBCCCBBBBCCDEDDBCBDEECBCDDDDDCCFFHHLMKGFECBDEEDCFFGCDDEGFHDECDWGFFDCCEGGFEDCCEFEEDDCEGJLMpuz3677/887888866666656666666666641xsnhRbYFDCDDDEEFEFGGHGHFDGJLHEGHIIHIFGGGGHGIEEBDDGGHEEJMKHGHGEIHHEEGGFFFHGFEEHGIcfhXBBBBBBBBBBBBBBBBBBBBCCCCCBLKHFEDECDCCCCCBBCCCDFFECCCFFFCCCEEEEEDDGHIHMOMHHFDCEGGFDHHIDFEGJHKEFCETIHHDDDGIIIFEDDGHGFDEDEHLNOpuz367/8887887866666666666666566541xsnkWYbGEEEDEFFHGHIIJJKHEJNQJFIJLLKMIJJIIKJLFFCEDJJJFGNRPLJKJGLKKFGJIHHIKJHGGKJLcggXBBBBBBBBBBBBBBBBBBBBBBCCCCMLHFEDECDCCCCCBBCCCDGFFCDCFFFCCDEFFFEEDHHIHMPMHHFEBEGHFEJIJDFFGKILFGCFYJJIEDDHJJIFFDEHHHFDFDFINNPpuz36/78788787766566666666665666641xsneYfWHFEFDEGGIHIJJLKLHFKPSLFJKNNLNJKKJJLKMGGCEEKKKFGOTRMKMKHNLMFHKKHIJLKIGHLKMgdbZBBBBBBBBBBBBBBBBBBBCCCCDCCONIHGFGEFDEDEDCCDDEFIHHDEDIHHEDFGHGGFFFJJLIORPJJHFCGJKHFLLMFHHJOLOHIDHVMLLFFEJMNLHHFFKKKHFHFHKQQRnsx1766666666664444444444444444442zvqldeVdJHFHFGIIKJLMMOOOKHOTYOIMORROSMONMMPNQIIDGFNNOHITZWQOQNJRPPHKNNKLMPNLJJPOQdegYBBBBBBBBBBBBBBBBBBBBBBCCCBNLIGGEFEFEEEEDDDDDEFGGGDEEGGGEDEFGGFFFFHIJJNPNIIGFDFHHGFIIIFGGHJIKGGEGTJIIFFEHJJIGGFFHIHGFFEGIMOPkpu113333333333111111111111111111zwsnicVWVHGFGFFHGIHIJJKKKIGKNPKGJKLLKMJKJJJLJLHGEFFJKKGGNQOLKLJHMKLGHJJIIJKJIHHKJLfhfdBBBBBBBBBBBBBBBBBBBBBBCCCBONKIHGHFGFFFFFFFFFGGHHHFFFIHHFFGHHHHHGGJJLLPQOKJIGFGIJHGKJKGHHILKLHIFHSKKKGGGIKKKHHGGJJJHGHGIKNPQgltuxzzzzzzzzzzxxxxxxxwxxxxxxxxxxvsojefWYVVWXTSXWRSUXWZZcTWZTTXZZSTWVXWaWXWZTXUTZXaXYWYVaUaWYXXaWUXYQZZSWYTVVYZWWYYddfbBBBBBBBBBBBBBBBBBBBBBBCCBBPOLJIHIHHHHHHHGHHHHIJIIHHHJJIHHHIIIIIIHKKMMQRPLKJHGIJJIHKKKHIIJLKLJJHITLKKIHHJKLKIIIIJKJIHIHJLOQRbklpsuuuuuuuuuussssssssssssssssssrnjfZjfffafeiedcdYccfbdhbfbcdfbagdefeccZdbchecZegadbccYbZgfdddddccZabdbhccdfhfbcfdedggBBBBBBBBBBBBBBBBBBBBBBCCBBSQNMLKKJKJKJJJJJJJJKLLKJJJLLKJJKKLLKKKKMNOOSTRONLKJKLMLKNMNJLLLNNOLLJKQNMNKKKLNNNLLKKMMMLKKKLNQSTZbgknppppppppppnnnnnnnnnnnnnnnnnnlieZUbYaXMLKLKKLLMMNNNOOOMLOQSOLNOPPOPMONNNOOPLLJKKNOOLLQTRPNONMPPOLMNNMNNONMMMONPgblbQPNLKJJJJJJJJKKKJJKKKLOQQSBCBBBBBBBBBBBBBBBBBBCBBBBBBBBBBBBBBBBBBCBBBBbZeilnnnnnnnnnnnnnnnnnnnnnnnnnnnnnnnnnnnnnnnnnnnnkgbaTRQPRPOMMONNLKMLLKMOONLPONJKKNMOLLLNPVBCCBBBBBBBBBBBBBBBBBBBBCCBBBBBBBBBBBBBBBBBBBBBCBBBBBCCBBBBBBBBBBBBBBBBBBBBBBBBBBBONKJIHHHHHHHHIIHHHIIIJMOPQBBBBBBCBBBBBBBBBBBBBCCBBBBCBCBBBBBBCBBBCBCBBZfjnrssssssssssssssssssssssssssssssssssssssssssssplkbSQPORONKKMLLJIKJKILNMLJOMLHIILLMKJJLNUCCBBBBBBBBBBBBBBBBBBBBBCCBBBBCBBCBBBBBCBBBBBBBBBCBBBCCCCBBBBBBBBBBBBBBBBBBBBBBCBBMLJHGFFFFFFFFGGGFFGGHIKNNPBCBBBBBBBBBBBBBBBBBBCCBBBBCCCBBBBCBCBBBCBCBCejosvxxxxxxxxxxxxxxxxxxxxxxxxxxxxxxxxxxxxxxxxxxxxutlgQOOMQNMJJLKKHHIHJHJLLKINLKFHHJJLIHHKLWCCCBBBBBBBBBBBCBBBBCBBBCCBBBBCCBCBCBBBBBCBBBBBBBBBBCCCCBBBBCCCBBBBBBBCCBBBCBBBBBBKJHFEDEDDDDDDEEEDDEEEFHJLMBBBBBBBBBBBBBBBBBBBBBBBBBBBBBBBBBBBBBBBCBBBBinswz111111111111111111111111111111111111111111111upkNLKIKIHGGHGGEEFFFEGHHGFIHHDEEGGHFFFHJTBCBBBBBBBBBBBBBBBBBBBBBCCBBBBBBBBBBBBBBBBBBBBBBBBBBCBCBBBBBBBBBBBBBBBBBBBBBBBBBBBJHFECCCCCBCCCCCCCCCDCDFHIKBBBBBBBBBBBBBBBBBBBBBBBBBBBBBBBBBBBBBBBBBBBBlrvz2444444444444444444444444444444444444444444471xsnLJHGHFFDEEEEDCDDDCEEEEDFEECCCEEEDDEGHRBCBBBBBBBBBBBBBBBBBBBBBBBBBBBBBBBBBBBBBBBBBBBBBBBBBBBBBBBBBBBBBBBBBBBBBBBBBBBBBBBJHEDCBBBBBBBBBBBBBBBBCEGHJBBBBBBBBBBBBBBBBBBBBBBBBBBBBBBBBBBBBBBBBBBBBnsx14666666656556565666666665667888887788888778/41xsnKHGEFDDCCDCCBBCCCBCDDCCDDCBBBCCDCCDFHRBBBBBBBBBBBBBBBBBBBBBBBBBBBBBBBBBBBBBBBBBBBBBBBBBBBBBBBBBBBBBBBBBBBBBBBBBBBBBBBBBIHFDBBBBBBBBBCBCBBCCCDFGIJBBBBBBBBBBBBBBBBBBBBBBBBBBBBBABBBBBBBBBBBBBBnsx1465666666666666665666666666787888777778888/841xsnKIHGGFFDDEDECCDCDCDEEECFEDBCCDDEDDDFHSBBBBBBBBBBBBBBBBBBBBBBBBBBBBBBBBBBBBBBBBBBBBBBBBBBBBBBBBBBBBBBBBBBBBBBBBBBBBBBBBBIHEDCBBBBBBBBBBBBBBCBCEGHJBBBBBBBBBBBBBBBBBBBBBBBBBBBBBBBBBBBBBBBBBBBBnsx146656666665666666566666666677887878887788/7841xsnKIGFFDDCCDDDCBCCCBCDDDCEDDBCCCCDCCDFGYBBBBBBBBBBBBBBBBBBBBBBBBBBBBBBBBBBBBBBBBBBBBBBBBBBBBBBBBBBBBBBBBBBBBBBBBBBBBBBBBBIHFDCBBBBBBBBCCBBBCCCDFHIKBBBBBBBBBBBBBBBBBBBBBBBBBBBBBBBBBBBBBBBBBBBBnsx14665566655666656666666666667887888777877/88841xsnLJHGHFFDEFEEDCDCDCDFEEDFEEBCCDDEDDDFHSBBBBBBBBBBBBBBBBBBBBBBBBBBBBBBBBBBBBBBBBBBBBBBBBBBBBBCBBBBBBBBBBBBBBBBBBBBBBBBBBBJHFECBCCBBBBBCCCBCCDCEGIJKBBBBBBBBBBBBBBBBBBBBBBBBBBBBBBBBBBBBBBBCBCBBnsx1466666665666666556665666666888888777877/787841xsnMJJHKHGFEGFFDCEDECEGGFDHGFBDDFFGEDEFHQBCBBBBBBBBBBBBBBBBBBBBBCCBBBBBBBBBBBBBBBBBBBBBBBBBBBCCBBBBBBBBBBBBBBBBBBBBBBBBBBBJHFECCCCBBBBBCCCBBCDDEGIJLBBBBBBBBBBBBBBBBBBBBCBBBBBBBBBBBBBBBBBBBBBBBnsx146666666656656665665666666677878878788/8778841xsnMKJIKHHFFGFFDDEDECFGGFDIGGBDDFFGEDEGHRCCBBBBBBBBBBBBBBBBBBBBBCCBBBBBBBBBBBBBBBBBBBBBBBBBBCCBBBBBBCBBBBBBBBBBBBBBBBBBBBBJHFECBCCBBBBBCCCBCCDCEGIJKBBBBBBBBBBBBBBBBBBBBBCBBBBCCBBBBBCBBBBBCBBBBnsx14666666666666566666656666567887878787/88788841xsnMJJHJHGEEGFFDCEDECFGGFDHGFCDDFEGEDDGHVBCBBBBBBBBBBBBBBBCBBBBBBCBBBBBBBBBBBBBBBBBBBBBBBBBBBCCBBBBBBBCBBBBBBBBBBBBBBBBBBBJHEDCBBBBBBBBCBBBBBCBCEGHJBBBBBBBBBBBBBBBBBBBBBBBBBBBBBBBBBBBBBBBBBBBBnsx1466666666666666666656666666788787887/778887841xsnKIGFFEDCCDDDCBCCCCCDDDCDDDBBCDCDCCDFGTBBBBBBBBABBBBBBBBBBBBBBBBBBBBBBBBBBBBBBBBBBBBBBBBBBBBBBBBBBBBBABBBBBBBBBBBBBBBBBBIHEDCBBBBBBBBBBBBBBBCCEGHJBBBBBBBBBBBBBBBBBBBBBBBBBBBBBBBBBBBBBBBBBBBBnsx146666665666666666556666666677888888/8878887741xsnKIGFFDDCCDCDCBCCCBCDDDCEDCBBBCCDCCDFHUBBBBBBBBABBBBBBBBBBBBBBBBBBBBBBBBBBBBBBBBBBABBBBBBBBBBBBBBBBBBBBBBBBBBBBBBBBBBBBBIHEDCBBBBBBBBCBBBBCCCDFHIJBBBBBBBBBBBBBBBBABBBBBBBBBBBBBBBBBBBBBBBBBBBnsx14666666666666666666666665668778888/88878888841xsnKIHGGFEDDEDDCCDCDCDEEDCFEEBCCDDEDDDFHTBBBBBBBBBBBBBBBBBBBBBBBBBBBBBBBBBBBBBBBBBBBBBBBBBBBBBBBBBBBBBBBBBBBBBBBBBBBBBBBBBIHFDCBBBBBBBBCCBBBCCCDFHIKBBBBBBBBBABBBBBBBBBBBBBBBBBBBBBBBBBBBBBBBBBBnsx1466665666666666666666665666888887/888887778841xsnLIIGHFFDDFEEDCDDDCDFFEDGFEBCCEEFDDDFHSBBBBBBBBBBBBBBBBBBBBBBBBCBBBBBBBBBBBBBBBBBBBBBBBBBBBCBBBBBBBBBBBBBBBBBBBBBBBBBBBBJHFECCCCBBBBCCCCBCCDDEHJJLBCBBBBBBBBBBBBBBBBBBCBBBBBCCCBBBBBBBBBBCBCBCnsx146666656666666666666666666687888/8787778887741xsnNKKJMJIFFIGGEDFEFDFHHGEJHHBDDFGHFEEGHWCCCBBBBBBBBBBBBBBCBBBBBCCBBBCBCCCBBBBBBBBBBBBBBBBBBCCCCBBBBCBBBBBBBBBBBBBBBBBBBBBJHFECBCCCBBBBDDCBBDDDEHJKLBCBBCBCBBBBBBBBBBBBBCCCBBBCCCBBBBBBBCBBCCCBCnsx14665666566666666666666665668878/78888887788841xsnNKKJNJIGGIHHEDFEFDGIIHEJIHBDDGGIFEEGIWCCCBBBBBBBBBBBBBBCBCBBBCCCBBBCCBCBCBBBCBCBBBBBBCBBBCCCCCBBBCBCBBBCBBCCBBBBBBCCBBBJHFECCCCCBCBCCCCBCDDDEHJKLCCBBBBBBBBBBBBBBBBBBCCBBBBCCCBBBCCCCCBBCBBBBnsx1466656666666666666666666566788+887878788878841xsnNKKJMJIGGIGGEDFEFDGIHGEJHHCDDGGIFEEGHQCCCCBBBBBBBBBBBCBBBCBBBCCCBBBCCBCBBBBBBCCBBBBBBBBBBCCCBBCBBBBCBBBBBBBCBBBBCBCBBBBJHFDCBCBBBBBBCCCBBCCCDFIJKBBBBBBBBBBBBBBBBBBBBCBBBBBCCBBBBBBBBBBBBBBBBnsx146656666666666666666666666678/7888878878887741xsnLJIHJHGEEGFFDCEDECEGGFDHFFBDCEEGDDDFHVBCBBBBBBBBBBBBBBBBBBBBBBCBBBBBBBBBBBBBBBBBBBBBBBBBBBCCCBBBBBBBBBBBBBBCBBBBBBBBBBBIHFDCBBBBBBBBBBBBBBBBCEGHJBBBBBBBBBBBBBBBBBBBBBBBBBBBBBBBBBBBBBBBBBBABnsx14666566666656566666666666667/88888788888887841xsnKHGEEDDCCDCCBBCCCBCDDCCDDDBBBCCDCCDFGTBBBBBBBBBBBBBBBBBBBBBBBBBBBBBBBBBBBBBBBBBBBBBBBBBBABBBBBBBBBBBBBBBBBBBBBBBBBBBBBBIGFDCBBBBBBBBBBBBBBBBCEGHJBBBBBBBBBBBABBBBBBBBBBBABBBBBBBBBBBBBBBBBBBBnsx1465666666666666666666666566/888787887878877841xsmKHGEFDDCCDDCCCCBCBCDDCCDDDBCCCCDCCDFHVBBBBBBBBBABBBBBBBBBBBBBBBBBBBBBBBBBBBBBBBBBBBBBBBBBBBBBBBBBBBBBBBBBBBBBBBBBBBBBBBIGEDCBBBBBBBBBBBBBBCBCEGHJBBBBBBBBBBBBBBBBBBBBBBBBBBBBBBBBBBBBBBBBBBABnsx146656666666688888887887777+6666666666666665641xsnKIGFFEDCCDDDCBCCCCCDDDCEDDBBCDCDCCDFHQBBBBBBBBBBBBBBBBBBBBBBBBBBBBBBBBBBBBBBBBBBBBBBBBBBBBBBBBBBBBBBBBBBBBBBBBBBBBBBBBBJHFECBCCBBBBBDCCBBCDDEHJJLBBBBBCBBBBBBBBBBBBBBCBBBBBCBCBBBCBCCBBBCCCBCnsx14666666566667788888888888/86666666655666665641xsnNKKILJHFFHGGEDEEFDFHHGDJHGCDDGGHEEEGITBCCBBBBBBBBBBBBBBBBBBBBCCBBBBCCBCBBBBBCBBBBBBBBBBBBCCCCBBBBCBBBBBCBBBCBBBBBBBBBBBJHFECBCCBBBCBDCCBCCDDEGJJLBBBBBBBBBBBBBBBBBBBBCBBBBBCBCBBBBBCBBBBCCBBCnsx1466666665666788877887778/875666666666666666641xsnNKKIMIHFFHGGEDFEFDFHHGEJHGBDDGFHFEDGHUCCBCBBBBBBBBBBBBBCBCBBCCCBBBCCBCBBBCBBBBBBBBBBBBBBBCCCBBBBBCBBBBBBBBBCBBBBBBBBBBBJHFECCCCCBBBCDDCBCDDDEHJKLBCBBBBCBBBBBBBBBBBBBCCCBBBCBCBBBBCCCBCBCCCBBnsx146656666665688787888888/8786666666666566665641xsnNLKJMJIGGIHHEDFEFDGIIHEJIHBDDGGIFEEGISCCCBBBBBBBBBBBBBBBBBBBBCCCBBCCBCCBCBBBCBCBBBBBBCBBBCCCCCCBBCCBBBCBBBBBCBBBBBCBBBBJHEDCBBBBBBBBCCBBBCCCDFGIJBBBBBBBBBBBBBBBBBBBBBBBBBBBBBBBBBBBBBBBBBBBBnsx14666666665667777887778/88876666666666666655641xsnUUTWVSZQQWUSUVSRQRRWUUSWPUVSRURQTQSYSVBBBBBBBBBBBBBBBBBBBBBBBBBBBBBBBBBBBBBBBBBBBBBBBBBBBBBBBBBBBBBBBBBBBBBBBBBBBBBBBBBJHFDCBBBBBBBBCCBBBBCCDFHIKBBBBBBBBBBBBBBBBBBBBBBBBBBBBBBBBBBBBBBBBBBBBnsx1465666666565887877877/877886566666565666656641xsnKIHGHFEDDEDDCCDCDCDEEDCFEDBCCDDEDDDFHSBBBBBBBBBBBBBBBBBBBBBBBBBBBBBBBBBBBBBBBBBBBABBBBBBBBCBBBBBBBBBBBBBBBBBBBBBBBBBBBBIGEDBBBBBBBBBBBBBBBBBCDFHJBBBBBBBBBBBBBABBBBBBBBBBABBBBBBBBBBBBBBBBBABnsx146666666666687778788/7888876666666666666656641xsnJHFDECCCBCCCBBCBBBCCCCBCCCBBBBBCBCCFHVBBBBBBBBBBBBBBBBBBBBBBBBBBBBBBBBBBBBBBBBBBBBBBBBBBBBBBBBBBBBBBBBBBBBBBBBBBBBBBBBBJHFDCBBCBBBBBCCCBBCCCDFHIKBBBBBBBBBBBBBBBABBBBCBBBBBBBBBBBBBBBBBBBBBBBnsx14666666666668887878/88877776566666666666665641xsnLJIGIGGEEFFEDCDDECEFFEDGFFBCCEEFDDDFHXBCBBBBBBBBBBBBBBBBBBBBBBBBBBBBCBBBBBBBBBBBBBBBBBBBBBCCBBBBBBBBBBBBBBBBBBBBBBBBBBBJHFDCBBBBBBBBCBBBBCCCDFHIKBBBBBBBBBBBBBBBBBABBBBBBBBBBBBBBBBBBBBBBBBBBnsx1466666666666877788/887788886656566666666666541xsnLIHGHFFDDFEECCDCDCDFEEDFEEBCCDDEDDDFHUBBBBBBBBBBBBBBBBBBBBBBBBBBBBBBBBBBBBBBBBBBBBBABBBBBBBBBBBBBBBBBBBBBBBBBBBBBBBBBBBJIGECCCCCBBBCDDCBCDEDFIKKLCCBBCBCBBBBBBBBBBBBBCCCBBBCCCBBBBCCCBBBCCCBCnsx146666666666677877/8888888786666666666656666641xsnOLLKOLJGHJIHFDGFGDHJJIFLJICEEHHJFEEGITCDCCBBBBBBBBBBBBBCCCBBBCCBBCCCCCCBBCBCCCCBBBBBBCBBBCDCCCCBBCCCBBCBBBBCCBBBCCCCCBBJHFECBCCCBBBBDCCBCCDDEHJJLBBBBBBBBBBBBBBBBBBBBCCCBBBBCCBBBBBCCBBBCBCBBnsx14666566666668877/88887888886566666556666666641xsnNKKILIIFFHGGEDFEFDGHHGEJHHCDDFFHEEDGIWCCCBBBBBBBBBBBBBBBBCBBCCCBBBCBCBCBBBBBBBCBBBBBBBBBBCCCCBBBBCCBBBBBBBBBBBBBBBCBBBBJHGECCCCCBBCBDDCBCDDDFHKKMBCBBBBCBBBBBBBBBBBBBCCBBBBCCCBBCCCCBBBBCCCBCnsx1465665666666888/878888877886566666666566666641xsnOLLKOKJGGIHHEDFEFDGJIHEKIHCEEHGIFEEGIVCCCCBBBBBBBBBBBBBCBCBBBCCBBBCCCCCBCCBCCCCBBBBBCBCBBCCCCCCCBCCCBBBBBBBCBBBBCCCBCBBIHFDCBCCBBBBBCCCBCCCCDGIJKBBBBBBBBBBBBBBBBBBBBBBBBBBBBBBBBBBBBBBBCBBBBnsx146656665666688/8887878878875666666665566666641xsnLJIHJGGEEGEFDCDDECEGFFDHFFBCCEEGDDEFHTCBBBBBBBBBBBBBBBBBBBBBBBCBBBBBBBCBBBBBBBBBBBBBBBBBBBCCBBBBBBBBBBBBBBBBBBBBBBBBBBBIHFDCBBBBBBBBCCBBBCCCDFHIKBBBBBBBBBBBBBBBBBBBBBBBBBBBBBBBBBBBBBBBBBBBBnsx14666656666558/77887778787876665665666656666641xsnLJHGHFEDDEEECCDCDCDEEDCFEEBCCDDEDDDFHTBBBBBBBBBABBBBBBBBBBBBBBBBBBBBBBBBBBBBBBBBBBBBBBBBBBBBBBBBBBBBBBBBBBBBBBBBBBBBBBBIHFDCBBBBBBBBCCBBBCCCDFHIKBBBBBBBBBBBBBBBBBBBBBBBBBBBBBBBBBBBBBBBBBBBBnsx1466666666666/878887888778876666666666665666641xsnLIHGHFEDDEEDCCDCDCDEEECFEEBCCDDEDDDFHPBBBBBBBBBBBBBBBBBBBBBBBBBBBBBBBBBBBBBBBBBBBBBBBBBBBBBBBBBBBBBBBBBBBBBBBBBBBBBBBBBJGFDCBBBBBBBBBBBBBBBBCEGHJBBBBBBBBBBBBBBBBBBBBBBBBBBBBBBBBBBBBBBBBBBBBouz368788878888/6666666665656666666666666666655641xsnKHGFFDDCCDDDCBCCCBCDDDCDDDBCBCCDCCDFHSBBBBBBBBBBBBBBBBBBBBBBBBBBBBBBBBBBBBBBBBBBBBBBBBBBBBBBBBBBBBBBBBBBBBBBBBBBBBBBBBAJHFECCCCBBBBBDDCBCCDDEHJJLBCBBBBBBBBBBBBBBBBBBCCBBBBCCCBBBCBCBBBBCBCBCpuz36877887878/86666666656666665666666666666666641xsnNKKJMJIFFHGGEDFEFDFHHGEJHGBDDFFHEEEGHUBCCCBBBBBBBBBBBBBBCBBBBCCBBBBCBCBBBBCBBBCBBBBBBBBBBCCCBBCBBCCBBBBBBBBCBBBBCBCBBBBJHFECBCCBBBBBCCCBBCDDEGJJLBCBBBBBBBBBBBBBBBBBBCCBBBBBCBBBBBBBBBBBCBBBBpuz3678887778/776566666666666566666656655666556641xsnMKJILIHFFHGGEDEDFDFHHGEIHGBDDFFHEEEGIXCCCBBBBBBBBBBBBBBBBBBBBCCBBBBBBBCBBBBBCBCBBBBBBBBBBCCCBBBBBBBCBBBBBBBBBBBBCBBBBBBJHFECBCCBBBBBDCCBCDDDEHJJLBCBBBBBBBBBBBBBBBBBBCCBBBBCCCBBBBBBBBBBCCCBCpuz368888888/7786666666666666666666666666666666541xsnNKKIMJIFFHGGEDEEFDFIIGEJHHBDDGGHEEEGHRBCCBBBBBBBBBBBBBBBBCBBBBCBBBBCCBCBBBBBBCBBBBBBBCBBBCCCBCBBBBBCBBBBBBBCBBBBCBBBBBBIHFDCBBBBBBBBBBBBBBBCCEGHJBBBBBBBABBBBBBBBBBBBBBBBBBBBBBBBBBBBBBBBBBBBpuz36887887/78776666666665665666666666666666666641xsnKIGFFEDCCDDDCBCCCBCDDDCDDDBCBDCDCCDFHVBBBBBBBBBBBBBBBBBBBBBBBBBBBBBBBBBABBBBBBBBBBBBBBBBBBBBBBBBBBBBBBBBBBBBBBBBBBBBBBBJHFDCBBBBBBBBCCBBBCCCDFHIKBBBBBBBBBBBBBBBBBBBBBBBBBBBBBBBBBBBBBBBBBBBBpuz3678888/878876666566666666666666655666666666641xsnLIHGHFFDDEEECCDCDCDFFEDGFEBCCDEEDDDFHTBCBBBBBBBBBBBBBBBBBBBBBBBBBBBBBBBBBBBBBBBBBBBBBBBBBBCBBBBBBBBBBBBBBBBBBBBBBBBBBBBJHFECBCCBBBBBCCCBBCDDDGIJKBBBBBBBBBBBBBBBBBBBBBBBBBBBBBBBBBBCBBBBCBCBBpuz368788/8887886666666666666666666666666565566641xsnMKJHKHGEEGFFDCEDECEGGFDHGFBDDEFGDDDFHOBCCBBBBBBBBBBBBBBBBBBBBCCBBBBBBBBBBBBBBBBBBBBBBBBBBBCCBBCBBCBBBBBBBBBBBBBBBBBBBBBJHFDCBCCBBBBBCCCBBCCCDFHIKBBBBBBBBBBBBBBBBBBBBBBBBBBBBBBBBBBBCBBBCBBBBpuz26777/87787876666666666666666666666666666666641xsnLJIHJGGEEFFEDCDDECEFFFDGFFBCCEEFDDDFHRBCBBBBBBBBBBBBBBBBBBBBBBCBBBBBBBBBBBBBBBBBBBBBBBBBBBCBBBBBBBBBBBBBBBBBBBBBBBBBBBBJHFDCBBBBBBBBBBBBBCCBCEGIJBBBBBBBBBBBBBBBBBBBBBBBBBBBBBBBBBBBBBBBBBBBBpuz3687/777787876666666666666665666666666666665641xsnKIHFGEEDDEDDCCCCCCDEDDCEDDBCCDDDCCDFHVBBBBBBBBABBBBBBBBBBBBBBBBBBBBBBBBBBBBBBBBBBBBBBBBBBBBBBBBBBBBBBBBBBBBBBBBBBBBBBBBIGEDBBBBBBBBBBBBBBBBBCDFGIBBBBBABBBBBBBBBBBBBBBBBABBBBBBABBBBBBBBBBABBpuz368/7877788876656666666666666666666666666656641xsnJGFDCCCBBBBBBBBBBBBBCBBCBBBBBBBBBCDEGYBBBBBBBBBBBBBABBBBBBBBBBBBBBBBBABBBBBBBBBBBBBBBBBBBBBBBBBABBBBBBBBBBBBABBBBBBBBBBIGFDCBBBBBBBBBBBBBBCBCEGHJBBBBBBBBBBBBBBBBABBBBBBBBBBBBBBBBBBBBBBBBBBBpuz26/78878888886666666666665566666666666666666541xsnKIGFFEDCCDDDCBCCCBCDDDCDDDBBBCCDCCDFGQBBBBBBBBABBBBABBBBBBBBBBBBBBBBBBBBBBBBBBBBBBBBBBBBBBBBBBBBBBBBBBBBBBBBBBBBBBBBBBBJIFECCCCCBBCCCCCCCCDCDFHIKBBBBBBBBBBBBBBBBBBBBBBBBBBBBBBBBBBBBBBBBBBBBnsx1766666666666444444444444444444444444444444442zvqlLJHGHFFEEFEEDCDDDDDFFEDFFECDDEEEEDEGHUBBBBBBBBBBBBBBBBBBBBBBBBBBBBBBBBBBBBBBBBBBBBBBBBBBBBBBBBBBBBBBBBBBBBBBBBBBBBBBBBBKIHFEDDDDDDDDEEDDDDEEFHJKMBBBBBBBBBBBBBBBBBBBBBBBBBBBBBBBBBBBBBBBBBBBBkpu113333333333311111111111111111111111111111111zwsniNKJIJHGFFGGGEEFEFEGHGGEHGGDEEFFGFFFHJRBBBBBBBBBBBBBBBBBBBBBBBBBBBBBBBBBBBBBBBBBBBBBBBBBBBBCBBBBBBBBBBBBBBBBBCBBBBBBBBBBMKIHFFFFEEFFEFFFEEFFFGIKLNBBBBBBBBBBBBBBABBBBBBBBBBBBBBBBBBBBBBBBBBBBBgltuxzzzzzzzzzzzxxxxxxxxxxxxxxxxxxxxxxxxxxxxxxxxvsokeNLKJJIHGGHGGFFGFGFGHHGFIHHEFFGGHGGGIKUBBBBBBBBBBBBBBBBBBBBBBBBBBBBBBBBBBBBBBBBBBBBBBBBBBBBBBBBBBBBBBBBBBBBBBBBBBBBBBBBBONKJHHHHHHHHHIHHHHIIIJLNOQBBBBBBBBBBBBBBBBBBBBBCBBBBBBBBBBBBBBBBBBBBBBbklpsuuuuuuuuuuussssssssssssssssssssssssssssssssqojfbRPONPMMKKMKKJIJIJIKLMKJNLLHIIKKLJJJLNTBCBBBBBBBBBBBBBBBBBBBBBCCBBBBBCBBBBBBBBBBBBBBBBBBBBBCCBBCBBCBBBBBBBBBBBBBBBBBBBBBQPNLJJJJJJJJJKKJJJKKKLNQQSBBBBBBBBBBBBBBBBBBBBCBBBBBCCBBBBBBBBBBBCBBBBZbgknpppppppppppmnnnnnnnmnnnnnnnnnnnnnnnnnnnnnnnlieeXTRQPRPOMMOMMLKLLMKMNNNLPNNJKKMMNLLLNPVBBCBBBBBBBBBBBBBBBBBBBBCCBBBBBBBBBBCBBBBBBBBBBBBBBBBCBBBBBBBBBBBBBBBBBBBBBBBBBBBBBBBBBBBBBBBBBBBBBBBBBBCCCBcZeilnnnnnnnnnnnnnnnnnnnnnnnnnnnppppoppnkgbZBBBBBBBBBBBBCBBBBBBCBCBBBBBCCBBBBBCCBBBBBBCBBBBBBBBCBSQONOMMKKMLLKJKKKJLMMLKMLLJJJLLMKKKNOTBCBBBBBBBBBBBBBBBBBBBBBCCCBBBBCBBBBBBBBBBBBBBBBBBBBBCCBBBBBBBBBBBBBBBBBBBBBBBBBBBBBBBBBBBBBBBBBBBBBBBBBBBBBcfknqsssssssssssssssssssssssssssuuuuuuusplkbBBBBBBBBBBBBBBBBBBBBBBBBBBBBBBBABBBBBBBABBBBBBBBBBBBBOMLJIHHHHHHHHGHHHGHHHHHHHHGGGHHHHHIKMOBBBBBBBBBABBBBBBBBBBABBBBBBBBBBBBBBBBBBBBBBBBBBBBBBBBBBBBBBBBBBBBBBBBBBBBBBBBBBBBBBBBBBBBBBBBBBBBBBBBBCCCBCejosvxxxxxxxxxxxxxxxxxxxxxxxxxxxzzzzzzzxutlgBBBBBBBBBBBBCCBBBBBCCCBBBBBCCCBBBBBCCBBBBBCCBBBBBBCCBOMLJLIIHHIHHGGGGHFHIIHGIIHFFGHHIGGHJKPCCBCBBBBBBBBBBBBBBBBBBBCCBBBBCBBBBBBBBBBBBBBBBBBBBBCCCCBBBBBBCBBBBBBBCBBBBCBBBBBBBBBBBBBBBBBBBBBBBBBBCBCCCBinswz111111111111111111111111111333333211upkBBBBBBBBBCBBCBCBBBBBCCBBBBBBCCBBBBCCCBBBBBBBBBBBBBCBBNKJIJHGFFGGGEEFEFEFGGFEHGGDEEFFGFFFHJOCCCCBBBBBBBBBBBBBCBBBBBCCBBBBCCBBBBBBBBBCBBBBBBBBBBCCCBBBBBBBBBBBCBBBBBBBBBBBBBBBBBBBBBBBBBBBBCBBBBBBCCCDCClqvz2444444444444444444444444444666666671xsnBBBBBBBBBCBBCCCBBBBCCCBCBBBCCCBBBBCCCBBBBBCCBBBBBCCCBMKJHJHGFFGFFEDEDEDFGGFEHGFCDDFFGEEEGINCCCCBBBBBBBBBBBBBCCCBBBCCBBBCCCBCBBBBBCBCBBBBBBBBBBCCCCBCBBCBBBBBBBBBBBBBBCCCCBCBBBBBBBBBBBBBBBBBBBBBBBBBBBnsx14656666665666665656666656666878878/63zupBBBBBABBBBBBBBBBBBBBBBBBBBBBBBBBBBBBBBBBBBBBBBBBBBBBBKHGEFDDCCDDCBBCCCBCDDCCEDDBBBCCDCCDFGKBCBBBBBBBBBBBBBBBBBBBBBBBBBBBBBBBBBBBBBBBBBBBBBBBBBBBBBBBBBBBBBBBBBBBBBBBBBBBBBBBBBBBBBBBBBBBBBBBBBBBBBBCCBnsx1466656655666656566666666566678888/862zupBBBBBBBBBBBBBBBBBBBBBBBBBBBBBBBBBBBBBBBBBBBBBBBBBBBBBKIGFGEECDDDDCBCCCCDEDDCEDDBCCDCDCCDFHLBBBBBBBBBBBBBBBBBBBBBBBBCBBBBBBBCBBBBBBBBBBBBBBBBBBBCCBBBBBBBBBBBBBBBBBBBBBBBBBBBBBBBBBBBBBBBBBBBBBBBBBCCBBnsx146556666656666566666666666567878/8863zupBBBBBBBBBBBBBBBBBBBCBCBBBBBBBBBBBBBBBBBBBBBBBBBBBBBBBKIHFFEECCDDDCCCCCBDDEDCEDDBBCDDDCCDFHLBBBBBBBBBBBBBBBBBBBBBBBCCBBBBBBBBBBBBBBBBBBBBBBBBBBBCCBBBBBBBBBBBBBBBBBBBBBBBBBBBBBBBBBBBBBBBBBBBBBBBBBCCCCnsx14666666665666565666666656666788/78863zuoCBBBBBBBBBBBCBCBBBBCCBBBBBBBBCBBBBBBCBBBBBBBBBBBBBCBBKIHFGFEDDEEDCCCCDCDEEDCFEDBCCDDECDDFHLBCBBBBBBBBBBBBBBBBBBBBBCCBBBBCBBBBBBBBBBBBBBBBBBBBBCCCCBBBBBBBBBBBBBBBBBBBBBBBBBBBBBBBBBBBBBBBBBBBBBBBBCCCBnsx1466666666565666666666666555677/888863zupBBBBBBBBBBBBBBCBBBCCBCBBBBBCBBBBBBCCCBBBBCBBBBBBBBCBCKIHGHFEDDEDDCCCCDCDEEECFEEBCCDDEDDDFHLCCCBBBBBBBBBBBBBBBBBBBBCCCBBBCBBCBBBBBBBBBBBBBCBCBBCCCBCCBBBBBBBBBBBBBBBBBBBBBBBBBBBBBBBBBBBBBBBBBBBBBBCCCBnsx146666566666666665566656666668/8788863zupBBBBBBBBBCBBCCBBBBBBCCBBBBBCCBBBBCBCCBBBBCBBBBBBBBCCBLIHGHFEDDEEECCDCDCDEEECFEEBCCDDEDDDFHMBCCBBBBBBBBBBBBBBBBBBBBBCBBBBBBBCBBBBBBBBBBBBBBBBBBBCCCBCBBBBBBBBBBBBBBBBBBBBBBBBBBBBBBBBBBBBBBBBBBBBBBCCBBnsx14665665665666566656666566666/87888863zupBBBBBBBBBBBBBBBBBBBCBBBBBBBCBCBBBBCBBBBBBBBBBBBBBBBBBKIGFGEEDDEDDCCCCDCDDEDCEEDBCCDDECDDFHLBCBBBBBBBBBBBBBBBBBBBBBCCBBBBBBBBBBBBBBBBBBBBBBBBBBBCBBBBBBBBBBBBBBBBBBBBBBBBBBBBBBBBBBBBBBBBBBBBBBBBBBBCBBnsx1466666666666655688888888778/666666641xsnBBBBBBBBBBBBBBBBBBBBBBBBBBBBBBBBBBBBBBBBBBBBBBBBBBBBBJHGEFDDCCDCCCCCCCBCDDCCDDCBBBCCDCCDFGKBBBBBBBBBBBBBBBBBBBBBBBBBBBBBBBBBBBBBBBBBBBBBBBBBBBBBBBBBBBBBBBBBBBBBBBBBBBBBBBBBBBBBBAABABBABBBBBBBBBBBBBBnsx146666656666666668778888788/8656666641xsnBBBBBBABBBBBBBBBBBBBBBBBBBBBBBBBBBBBBBBBBBBBBBBBBBBBBJHFEDCCBBCBBBBBBBBBCCBBCBBBBBBCCBCDFGJBBBBBBBBBBBBBBBBBBBBBBBBBBBBBBBBBBBBBBBBBBBBBBBBBBBBBBBBBBBBBBBBBBBBBBBBBBBBBBBBBBBBBBBBBBBBBBBBBBBBBBBBBBBnsx14666666566666666777878788/77656666641xsnBBBBBBBBBBBBBBBBBBBBBBBBABBBBBBBBBBBBBBBBBBBBBBBBBBBBJHGEECCCBCCCBBCBCBCCCCBDCCBBBCCCBCDEHKBBBBBBBBBBBBBBBBBBBBBBBBBBBBBBBBBBBBBBBBBBBBBBBBBBBBBBBBBBBBBBBBBBBBBBBBBBBBBBBBBBBBBBBBBBBBBBBBBBBBBBBCCCBnsx1466666665566565588878788/878556566641xsnBBBBBBBBBBBBCBCBBBBCCCBBBBBCBBBBBBCCCBBBBBBBBBBBBBCBCLIHGHFFDDFEECCDCDCDEEEDFEEBCCDDEDDDFHMCCCBBBBBBBBBBBBBBBBBBBCCCBBBBCCBBBBBBBBBCBBBBBBBBBBCCCCBBBBCBBBBBBBBBBBBBBBBCBBBBBBBBBBBBBBBBBBBBBBBCBCCCCBnsx146666665666666657887877/8788666666641xsnCBBBBBBBBCBBBCCBBBBCCCBBBBBCCCBBBBCCBBBBBCBBBBBBBBCCBLJHGIGFEDFEEDCDCDCEFFEDGFEBCCEEFDDDFHMCCCBBBBBBBBBBBBBCBBBBBCCCCBBCCCBCBBBBBBBBBBBBBBBBBBCCCCBBCBBBBBBBBBBBBBBBBCBCBBBBBBBBBBBBBBBBBBBBBBBBCCCCCBnsx14665666566556665778778/88778566666641xsnCBBBBBBBBBBBCCCBBBBCBCBBBBBCCCBBBBCCCBBBBBBBBBBBBBCCCLIHGHFFEDFEECCDCDCDEFECFEEBCCDEEDDDFHMCCBCBBBBBBBBBBBBBBBBBBBCCBBBBCCBBBBBBBBBBBBBBBBBBBBCCCCBCBBBBBBBBBBBBBBBBBCBBBBBBABBBABBBBBBBBBBBBBBBBBBBBBnsx1466665655666666677887/788878666666641xsnBBBBBBBBBBBBBBBBBBBBBBBBBBBBBBBBBBBBBBBBBBBBBBBBBBBBBJHFEDCCCBCCCBBBBCBCCCCBCCCBBBCCCCCDEGJBBBBBBBBBBBBBBBBBBBBBBBBBBBBBBBBBBBBBBBBBBBBBBBBBBBBBBBBBBBBBBBBBBBBBBBBBBBBBBBBBBBBBBBBBBBBBBBBBBBBBBBBBBBnsx146666666566666668788/8888778666666641xsmBBBBBBABBBBABBBBBBBBBBBBBBBBBBBBBBBBBBBBBBBBBBBBBBBBBJHGEEDCCCCCCBBBBCBCCCCBCCCBBBCCCBCDFGKBBBBBBBBBBBBBBBBBBBBBBBBBBBBBBBBBBBBBBBBBBBBBBBBBBBBBBBBBBBBBBBBBBBBBBBBBABBBBBBBBBBBABBBBABBBBBBBBBBBBBBBBnsx14566666566666566778/88878877666666641xsnBBBBBBBBBBBBBBBBBBBBBBBBBBBBBBBBBBBBBBBBBBBBBBBBBBBBBJHFDDCCBBCCCBBBBBBBBCBBCCCBBBBCBBCDEGJBBBBBBBBBBBBBBBBBBBBBBBBBBBBBBBBBBBBBBBBBBBBBBBBBBBBBBBBBBBBBBBBBBBBBBBBBBBBBBBBBBBBBBBBBBBBBBBBBABBBBBCCBBnsx1466666666666666677/887788887666666641xsnBBBBBBBBBBBBCCBBBBBCBCBBBBBCCCBBBBCBCBBBBBBBBBBBBBBCBKIHFGFEDDEDDCBDCDCDEEECEEEBCCDDEDDDFHLCCCBBBBBBABBBBBBBBBBBBBCCBBBBBBBBBBBBBBBBBBABBBBBBBBCCBBBBBCBBBBBBBBBBBBBBBBBBBBBBBBBBBBBBBBBBCBBBBBCBCCCCBnsx145666666656666668/8787778878666666641xsnBCBBBBBBBBBBCCCBBBCCCCBBBBBBBBBBBBCCCBBBBBBBBBBBBBCBBLIHGHFFDDFEECCDDDCDEEECFEEBCCDDEDDDFHMCCCBBBBBBBBBBBBBBBBBBBBCCCBBBCBBCBCBBBBBBBBBBBBBBBBCCCCCBBBBBBBBBBBBBBBBBBBBBBBBBBBBBBBBBBBBBBBBBBBBBBCCCCCnsx14566656566666666+88788878778666565541xsnCCBBBBBBCBBBCCCBBBBCCCBBBBBCCCBBBBCCCBBBBBBCBBBBBBCCCLJIGIGFEDFEEDCDDDCEFFEDGFEBCCEDFDDDFHMCCCBBBBBBBBBBBBBCCBCBBCCCBBBCCCCCBBBBBCCCBBBBBBBBBBCCCBBBBBCCBBBBBBBBBBBBBCBCBBBBBBBBBBBBBBBBBBBBBBBBBBBCBBpuz3678888888877878/665666666666666666641xsnBBBBBBBBBBBBBBBBBBBBBBBBBBBCBBBBBBBBBBBBBBBBBBBBBBBBBKIGFFDDCCDDCCCCCCCCDDDCDDDBCCCCDCCDFHKBBBBBBBBBBBBBBBBBBBBBBBBCBBBBBBBBBBBBBBBBBBBBBBBBBBBCBBBBBBBBBBBBBBBBBBBBBBBBBBBBBBBBBBBBBBBBBBBBBBBBBBBBBBpuz368787878877888/8666666665565666666541xsmBBBBBBBBBBBBBBBBBBBBBBBBABBBBBBBBBBBBBBBBBBBBBBBBBBBBJHFEEDCCCDCCCBCBCBCCCCBDCCBBBCCCBCDFGKBBBBBBBBBBBBBBBBBBBBBBBBBBBBBBBBBBBBBBBBBBBBBBBBBBBBBBBBBBBBBBBBBBBBBBBBBBBBBBBBBBBBBBBBBBBBBBBBBBBBBBBBBBBouz36778887888788/77566656666565566666641xsnBBBBBBBBBBBBBBBBBBBBBBBBBBBBBBBBBBBBBBBBBBBBBBBABBBBBJHFEECCCBCCCBBBBBBCCCCBCCCBBBCCCBCDFGJBBBBBBBBBBBBBBBBBBBBBBBBBBBBBBBBBBBBBBBBBBBABBBBBBBBBBBBBBBBBBBBBBBBBBBBBBBBBBBBBBBBBBBBBBBBBBBBBBBBBBBBBBBpuz3687878887887/878666666656666666666641xsmBBBBBBBBBBBBBBBBBBBBBBBBBBBBBBBBBBBBBBBBBBBBBBBBBBABBJHFEDCCBBBCBBBBBBBBCCBBCCBBBBBBCBCCFGJBBBBBBBBBBBBBBBBBBBBBBBBBBBBBBBBBBBBBBBBBBBBBBBBBBBBBBBBBBBBBBBBBBBBBBBBBBBBBBBBBBBBBBBBBBBBBBBBBBBBBBBBBBBpuz368777888787/7787666666656656666566641xsnBBBBBBBBBBBBBBBBBBBBBBBBABBBBBBBBBBBBBBBBBBBBBBBBBBBBJGFDDCCBBBBBBBBBBBBBBBBCBBBBBBBBBCCEGJBBBBBBBBBBBBBBBBBBBBBBBBBBBBBBBBBBBBBBBBBBBBBBBBBBBBBBBBBBBBBBBBBBBBABBBBBBBBBBBBBBBBBBBBBBBBBABBBBBBBBBBBBpuz36878887877/88788666666666566665666641xsnBBBABBBBBBBBBBBBBBBBBBABABBBBBBBBBBBBBBBBBBBBBBBBBBBBJGFDDCCBBBBBBBBBBBBCCBBBBBBBBBBBBCDEGJBBBBBAABBBBBBBBBBBBBBBBBBBBBBBBBBABBBBBBBBBBBBBBBBBBBBBBBBBBBBBBBBBBBBBBBBBBBBBBBBBBBBBBBBBBBBBBBBBBBBBBBBBpuz3678778888/877788666666666566666666641xsnABBBBBBBBBBBBBBBBBBBBBBBBBABBBBBBBBBBBBBBBBBBBBBBBBBBJGFEDCCBCCBBBBBBBBCCCBBCCBBBBBBCBCDEGJBBBBBABBBBBBBBBBBBBBBBBBBBBBBBBBBBBBBBBBBBBBABABABBBBBBBBBABBBBBBBBBBBBBBBBBBBBBBBBBBBBBBBBBBBBBBBBBBBBBBBBpuz368877888/8778888666666665666666666641xsnBBBBBBBBBBBBBBBBBBBBBBBBBBBBBBBBBBBBBBBBABBBBBBBBBBBBJHFEDCCCCCCCCBCBCBCCCCBDCCBBBCCCBCDFGKBBBBBBBBBBBBBBBBBBBBBBBBBBBBBBBBBBBBBBBBBBBBBBBBABBBBBBBBBBBBBABBBBBBBBBBBBBBBBBBBBBBBBBBBBBBBBBBBBBBBBBBBBpuz36888878/78887887665665666666656566641xsnBBBBBBBBBBBBBBBBBBBBBBBBBBBBBBBBBBBBBBBBBBBBBBBBBBBBBJHFEDCCBBCCCBBBBCBCCCCBCCCBBBCCCBCDFGJBBBBBBBBBBBBBBBBBBBBBBBBBBBBBBBBBBBBBBBBBBBBBBBBBBBBBBBBBBBBBBBBBBBBBBBBBBBBBBBBBBBBBBBBBBBBBBBBBBBBBBBBBBBpuz3678877+788787878666666666656666666641xsnBBBBBBBBBBBBBBBBBBBBBBBBBBBBBBBBBBBBBBBBBBBBBBBBBBBBBJHFEEDCCBCCCCBCBCBCCCCBDCCBBBCCCCCDEGKBBBBBBBBBBBBBBBBBBBBBBBBBBBBBBBBBBBBBBBBBBBBBABBBBBBBBBBBBBBBBBBBBBBBBBBBBBBBBBBABABBBBBBBABBBBBBBBBBBBBBBBpuz368887/8787778888666566666656666566641xsnBBBBBBBBBBBBBBBBBBBBBBBBBBBBBBBBBBBBBBBBBBBBBBBBBBBBBJHFDDCCBBCCCBBBBBBCCCCBCCCBBBBBCBCDFHKBBBBBBBBBABBBBBBBBBBBBBBBBBBBBBBBBBBBBBBBBBBBBBBBBBBBBBBBBBBBBBBBBBBBBBBBBBBBBBBABBBBBBBBBBBBBBBBBBBBBBCCBBpuz36878/88888788888666566666666666565641xsnBBBBBBBBBBBBBBBBBBBBBCBBBBBCBBBBBBBBBBBBBBBBBBBBBBBBBKIGFFEDCCDDDCBCBCBDDDDCEDDBCCDCDCDDFGLBBBBBBBBBBBBBBBBBBBBBBBBCBBBBBBBBBBBBBBBBBBBBBBBBBBBBBBBBBBBBBBBBBBBBBBBBBBBBBBBBBBBBBBBBABBBBBBBBBBBBBBBBBpuz3688/777787878778666666656666666666641xsnBBBBBBBBBBBBBBBBBBBBBBBBBBBBBBBBBBBBBBBBBBBBBBBBBBBBBJHGEEDDCCCCCBBCBCBCCDCBDCCBBBCCCCCDFGKBBBBBBBBBBBBBBBBBBBBBBBBBBBBBBBBBBBBBBBBBBBBBBBBBBBBBBBBBBBBBBBBBBBBBBBBBBBBBBBBBBBBBBBBBBBBBBBBBBBBBBBCCBBpuz368/7778878788888666665566566666666641xsnBBBBBBBBBBBBBBBBBBBCBBBBBBBCBBBBBBBBBBBBBBBBBBBBBBBBBKIHFGEEDDEDDCCCCCCDEDDCEDDBCCDDEDCDFHLBCBCBBBBBBBBBBBBBBBBBBBBCBBBBBBBBBBBBBBBBBBBBBBBBBBBCCBBBBBBBBBBBBBBBBBBBBBBBBBBBBBBBBBBBBBBBBBBBBBBBBBBBBBpuz36/77787878877888666666666666666665641xsnBBBBBBBBBBBBBBBBBBBBBBBBABBBBBBBBBBBBBBBBBBBBBBBBBBBBJHGFEDDCCDCCCBCCCCCDDDCDDDBBBCCCCCDFGKBBBBBBBBBBABBBBBBBBBBBBBBBBBBBBBBBBBBBBBBBBBBBBBBBBBBBBBBBBBBBBBBBBBBBBBBBBBBBBBBBBBBBBBBBBBBBBBBBBBBBBBCBBnsx1766666666666666644444444444444444442zvqlBBBBBBBBBBBBBBBBBBBBBBBBBBBBBBBBBBBBBBBBBBBBBBBBBBBBBLIHFGEEDDEEDDCDCDCDEEDDEEECCCDDEDDEGHLCCBBBBBBBBBBBBBBBBBBBBBBCBBBBBBBBBBBBBBBBBBBBBBBBBBBCBBBBBBBBBBBBBBBBBBBBBBBBBBBBBBBBBBBBBBBBBBBBBBBBBBBCBBkpu113333333333333331111111111111111111zwsniBBBBBBBBBBBBBBBBBBBBBBBBBBBBBBBBBBBBBBBBBBBBBBBBBBBBBMJIHHFFEEFEEEDEEEDEFFFEFFEDDDEEFEEFHIMBBBBBBBBBBBBBBBBBBBBBBBBBBBBBBBBBBBBBBBBBBBBBBBBBBBBBBBBBBBBBBBBBBBBBBBBBBBBBBBBBBBBBBBBBBBBBBBBBBBBBBBBCBBgltuxzzzzzzzzzzzzzzzxxxxxxxxxxxxxxxxxxxvsojeBBBBBBBBBBBBBBBBBBBBBBBBBBBBBBBBBBBBBBBBBBBBBBBBBBBBBOLKIIHHGGGGGFFGFGFGHGGFHGGFFFGGGGGGIKOBCBBBBBBBBBBBBBBBBBBBBBBCBBBBBBBBBBBBBBBBBBBBBBBBBBBBCBBBBBBBBBBBBBBBBBBBBBBBBBBBBBBBBBBBBBBBBBBBBBBBBCCCCCbjlpsuuuuuuuuuuuuuuusssssssssssssssssssqnkfZCBBBBBBBBBBBCBCBBBBCCCBCBBBCCBBBBBBBCBBBBBBBBBBBBBCCCQONLMKKJJKJJIHIIJHJKKJILKJGIHJJKIIJLMRCCBBBBBBBBBBBBBBBBBBBBBCCCBBCCCCBBBBBBCBBBBBBBBBBBBCCCBBCBBCBCBBBBBBBBBBBBBBCBBBBBBBBBBBBBBBBBBBBBBBBBBCCBBbcgknpppppppppppooppnnnnnnnnnnnnnnnnnnnlieedBBBBBBBBBBBBBBBBBBBBBCBBBBBBBBBBBBBCBBBBBBBBBBBBBBBBBSPONOMLKKLLLKJKKKJKLLLKMLLIJKKKLKKLMOSBCBBBBBBBBBBBBBBBBBBBBBCBBBBBBBBCBBBBBBBBBBBBBBBBBBBCCBBBBBBBBBBBBBBBBBBBBBBBBBBBUZeilnnnnnnnnnnnnmpppnkgbZBBBBBBBBBBBBBBBBBBBBCBBBBBBBBBBBBBCCBBBCCBBBSQNMKJIJKKKJLLLJKKKLLLKKJKJLLLJJJKLLLKJJJKLKKJJJKMPQSBBBBCCCBBBBBBBBBBBBBBBBCBBBBBBBBBBBBBBCCCBBBBBBBBBBBBBBBBBBBCCCCBBBBCBCBBBBBBBBBBBBBCBBBBCCCCBBBBCBBBBBBBBBBBBBBBBCBBBBZfjnqsssssssssssssuuusplkbCCBBBBBBBBBBBBBBBBBBCCCBBBCCCBBBBCCBCBBCCCBCQOLKIHHHIJIHJJJHIIIKJKIIGIIKJJHHHIJKJIIHHJJJIHIHIKNPQBBBBCCCBBBBBBBBBBBBCCCBCBCBBBBBCBBBBBCCCCCBBBBBBBBBBBBBCBBBBCCCCBBCCCCCBBBBBBBCBBABBBCBBBCDCCCBBBCCBBBBCBCBBCBBBCCCBBBBejosvxxxxxxxxxxxxxzzzxutlgCCBCCBCBCBBBBBBBBBBCCCCBBBCCCBBBCCCCCCCCCCBCPNKJHGFGIIHGJIJGHHHKIKHHFHGJJJGGGIJJJHHGGIIIHGHGHJMOQCBCCDCCCCCCCBBCBCBCCCCBCCCBBBCCCCBBBBCCDCCBBBBBBBBBBCCCCCCBBCCDCBCCCCCCCCCBCCCCBBBBBCCCBBCDDCCCCBCCCBBCCBCCCCBBBCCCCCCBioswz111111111111133311upkCCBBBBCBBBBBBBBBBBBBCCCBBBCCCBBBCCCCCBBCCCBCNLIHFEDEFGFEHHGEFFGHHIFFEFFHGHEEEGHHHFFEEGGGFEEEFHKMOBBCCDCCCBCCCBBCBBBCCCCBCCCBBBCBCBBBBBCCDCCBBBBBBBBCBBBBCCCBBCCDCBCCCCCCCCCCCCBCBBBBBCCCBBCDCCCCCBCCCBBCCBBBCCBBBCCCCCBBlrvz2444444444444466671xsnBCBBBBBBBBBBBBBBBBBBCBBBBBBBBBBBBBBBBBBCBBBBLJGFDDCDDEDCEEECDDDFEFDDCDDEEECCCDEEEDDCCEDEDCDCDFIJLBBBCCBCBBBBBBBBBBBBCCBBCBBBBBBBCBBBBBBCCCCBBBBBBBBBBBBBBBBBBBCCBBBBCBBBBBBBBCBBBBBBBBBBBBCCCCBBBBCBCBBBBBBBBBBBBCBCBBBBnsx14656666666666688/63zupBBBBBBBBBBBBBBBBBBBBBBBBBBBBBBBBBBBBBBBCBBBBKIFECBBCCCCBDDDBCCCDDDCCBCCDDDCCBCDDDCCBCCDCCBCBCEHIKBBBBCBBBBBBBBBBBBBBBBBBCBBBBBBBBBBBBBBCCBBBBBBBBBBBBBBBBBBBBBCCBBBBBBBCBBBBBBBBBBBBBBBBBBBCBBBBBBBBBBBBBBBBBBBBBBBBBBBBnsx1466666666666667/863zupBBBBBBBBBBBBBBBBBBBBBBBBBBBCBBBBBBBBBBBCBBBBKIFECBBCCCCCDDDBCCCDDECCBCCDDDBBCCDDDCCBBCDCCBCBCEHIKBBBBCBBBBBBBBBBBBBBBBBBCBBBBBBBBBBBBABBCCBBBBBBBBBBBBBBBBBBBBCCBBBBBCBBBBBBBBBBBBBBBBBBBBCCCBBBBBBBBBBBBBBBBBBBBCBBBCBBnsx145655666666665+8863zupBBBBBBBBBBBBBBBBBBBBBBBBBBBBBBBBBBBBBBBCBBBBKIFECBBBCCCBCDDBCCCDDDCCBCCDCDCBBCCDDCCBBCCCCBCBCEGIKBBBBCBBBBBBBBBBBBBBBBBBBBBABBBBBBBBBBBBCBBBBBBBBBBBBBBBBBBBBBBBBBBBBBBBBBBBBBBBBBBBBBBBBBBBBBBBBBBBBBBBBBBBBBBBBBBBBBBBnsx14566665566588/66541xsnBBBBBBBABBBBBBBBBBBBBBBBBBBBBBBBBBBBBBBBBBBBJHEDCBBBBCBBBBCBBBBCBCBBBBBBCCBBBBBCCBBBBBCBBBBBCDFHJBBBBBBBBBBBBBBBBBBBBBBBBBBBBBBBBBBBBBBBBBBBBBBBBBBBBBBBBBBBBBBBBBBBBBBBBBBBBBBBBBBBABBBBBBBBBBBBBBBBBBBBBBBBBBBBBBBBBBBnsx1466666666658+866641xsnBBABBBBBBBBBBBBBBBBBBBBBBBBBBBBBBBBBBBBBBBBBJGFDCBBBBBBBBBBBBBBBBCBBBBBBBBBABBBBBBBBBBBBBBBBCDFGJBBBBBBBABBBBBBBABBABBBBBBBBBBBBBBBBBBBBBBBBBBBBBBBBBBBBBBBBBBBBBBBBBBBBBBBBBBBBBBBABBBBBBBBBBBBBBBBBBBBBBBBBBBBBBBBBBBBnsx146665656665+7866541xsnBBBBBBBBBBBBBBBBBBBBBBBBBBBBBBBBBBBBBBBBBBBBJHFDCBBBCCBBCCCBCBCCCCCCBBBCCCBBBCCCCBCBBCCCBBBBCDGHJBBBBBBBBBBBBBBBBBBBBBBBBBBBBBBBBBBBBABBBBBBBBBBBBBBBBBBBBBBBBBBBBBBBBBBBBBBBBBBBBBBBBBBBBBBBBBBBBBBBBBBBBBBBBBBBBBBBBBBpuz36888788788/65666641xsnBBBBBBBBBBBBBBBBBBBBBBBBBBBBBBBBBBBBBBBBBBBBKHFECBBCCCBBCCCBCCCDCDCCBCBDCCBBBCDCDCCBBCCCCBBBCEGIKBBBBBBBBBBBBBBBBBBBBBBBBBBBBBBBBBBBBBBBBCBBBBBBBBBBBBBBBBBBBBBCBBBBBBBBBBBBBBBBBBBBBBBBBBBCBBBBBBBBBBBBBBBBBBBBBBBBBBBBpuz3688887888/866666641xsnBBBBBBBBBBBBBBBBBBBBBBBBBBBBBBBBBBBBBBBCBBBBKIFECBBBCCCBDCDBCCCDDDCCBCCDDDBBBCDDDCCBBCCCCBCBDEGIKBBBCBBBBBBBBBBBBBBBBBBBBBBBBBBBBBBBBBBBCBBBBBBBBBBBBBBBBBBBBBBCBBBBBBBBBBBBBBBBBBBBBBBBBBBBBBBBBBBBBBBBBBBBBBBBBBBBBBBBpuz368788878/8766666641xsnBBBBBBBBBABBBBBBBBBBBBBBBBBBBBBBBBBBBBBBBBBBJGFDCBBBBBBBBCCBBBBCBCBBBBBCBBBBBBCBCBBBBBBBBBBBCDFHJBBBBBBBBBBBBBBBBBBBBBBABBBBBBBBBBBBBBBBBBBBBBBBBBBBBBBBBBBBBBBBBBBBBBBBBBBBBBBBBBBBBBBBBBBBBBBBBBBBBBBBBBBBBBBBBBBBBBBBouz36888877/88766656641xsnBBBBBBBBBBBBABBABBABBBBBBBBBBBBBBBBBBBBBBBBBJHEDCBBBBBBBBBBBBBBBBCBBBBBBBBBBBBBBBBBBBBBBBBBBCDFHJBBBBBBBBBBBBBBBBBBBBBBBBBBBBBBBBBBABBBBBBBBBBBABBBBBBBBBBBBBBBBBBBBBBBBBBBBBBBBBBABBBBBBBBBBBBBBBBBBBBBBBBBBBBBBBBBBBBBpuz3677877/778766666641xsnBBBBBBBBBBBBABBBBABBBBBBBBBBBBBBBBBBBBBBBBBBJHEDCBBBBBBBBBBBBBBBBBBBBBBCBBBBBBBBBBBBBBBBBBBBBDFHJBBBBBBBBBBBBBBBBBBBBBBBBBBBBBBBBBBBBBBBBBBBBBBBBABBBBABBBBBBBBBBBBBBBBBBBBBBBBBBBABBBBBBBBBBBBBBBBBBBBBBBBBBBBABBBBBABBouz368778/8777866666541xsnBBBBBBBBBBBBBBBBBBBBBBBBABBBBABBBBBBBBBBBBBBJHFDCBABBBBBBBBBBBBBBBBBBBBCBBBBBBBBBBBBBBBBBBBBCDFHJBBBBBBBBBBBBBBBBBBBBBBBBBBBBBBBBBABBBBBBBBBBBBBBBBBBBBBBBBBBBBBBBBBBBBBBBBBBBBBBBABBBBBBBBBBBBBBBBABBBBBBBBBBBBBBBBBBBBpuz36878/77878866656641xsnBBBBBBBBBBBBBBBBBBBBBBBBBBBBBBBBBBBBBBBBBBBBJHEDCBBBBBBBCBBBBBBCBCBBBBBCBCBBBBCBCBBBBCBBBBBBCDFHJBBBBBBBBBBBBBBBBBBBBBBBBBBBBBBBBBBBBBBBBBBBBBBBBBBBBBBBBBBBBBBBBBBBBBBBBBBBBBBBBBBBBBBBBBBBBBBBBBBBBBBBBBBBBBBBBBBBBBBBouz3687/788787856666641xsnBBBBBBBBBBBBBBBBBBBBBBBBBBBBBBBBBBBBBBBBBBBBJHFDCBBBBCBBCCCBBCCCCCBBBBBCCCBBBCCCCBBBBBCCBBBBCDFHJBBBBBBBBBBBBBBBBBBBBBBBBBBBBBBBBBBBBBBBBBBBBBBBBBBBBBBBBBBBBBBBBBBBBBBBBBBBBBBBBBBBBBBBBBBBBBBBBBBBBBBBBBBBBBBBBBBBBBBBpuz368/8778787866666641xsnBBBBBBBBBBBBBBBBBBBBBBBBBBBBBBBBBBBBBBBBBBBBJHFDCBBBCCBBCCCBBBCCCCCBBBBCCCBBBBCCCBBBBCCCBBBBCDFHJBBBBBBBBBBBBBBBBBBBBBBBBBBBBBBBBBBBBBBBBBBBABBBBBBBBBBBBBBBBBBBBBBBBBBBBBBBBBBBBBBBBBBBBBBBBBBBBBBBBBBBBBBBBBBBBBBBBBBBpuz36/78788878866666641xsnBBBBBBBBBBBBBBBBBBBBBBBBBBBBBBBBBBBBBBBBBBBBJHEDCBBBBBBBCBBBBBBCBCBBBBBCBBBBBBBCCBBBBBCBBBBBCDFHJBBBBBBBBBBBBBBBBBBBBBBBBBBBBBBBBBBBBBBBBBBBBBBBBBBBBBBBBBBBBBBBBBBBBBBBBBBBBBBBBBBBBBBBBBBBBBBBBBBBBBBBBBBBBBBBBBBBBBBBnsx1766666666664444442zvqlBBBBBBBBBBBBBBBABABBBBBBBBBBBBBBBBBBBABBBBBBKHFECBCCCCCBCCCBCCCCCDCCBCCCCCCCCCCCCCCCCCCCCCCCCEGIKBBBBBBBBBBBBBBABBBBBBBBBBBABBBBBBBBBBBBBBBBABBBBBBBBABBBBBBBBBBBBBBBBBBBBBBBBBBBBBBBBBBBBBBBBBBBBBBBBBBBBBBBBBBBBBBBBBBkpu113333333333111111zwsniBBBBBBBBBBBBBBBBBBBBBBBBBBBBBBBBBBBBBBBBBBBBLJGFEDDDDDDDEEEDDDDEEEDDDDDEEEDDDDEEEDDDDEEEDDDDEFHJLBBBBBBBBBBBBBBBBBBBBBBBBBBABBBBBBBBBBBBBBBBBBBBBBBBBBBBBBBBBBBBBBBBBBBBBBBBBBBBBBBBBBBBBBBBBBBBBBBBBBBBBBBBBBBBBBBBBBBBgltuxzzzzzzzzzzxxxxxxvsojeBBBBBBBBBBBBBBBBBBBBBBBBBBBBBBBABBBBBBBBBBBBMKIHFEEFFFFFFFFEFFFFFGFFEFFGFFFEFFFFFFFFFFFFFFFFFHJLNBBBBBBBBBBBBBBBBBBBBBBBBBBBBBBBBBBBBBBBBBBBBBBBBBBBBBBBBBBBBBBBBBBBBBBBBBBBBBBBBBBBBBBBBBBBBBBBBBBBBBBBBBBBBBBBBBBBBBBBbklpsuuuuuuuuuussssssqnjfZBBBBBBBBBBBBBABBBBBBBBBBBBBBBBBBBBBBBBBBBBBBONKJHGGGHHGGHHHGHHHIHIHHGHHHHHHGGHHIHHHGGHHHHHHGHJLNOBBBBBBBBBBBBBBBBBBBBBBBBBBBBBBBBBBBBBBBBBBBBBBBABBBBBBBBBBBBBBBBBBBBBBBBBBBBBBBBBBBBBBBBBBBBBBBBBBBBBBBBBBBBBBBBBBBBBBBZbgknopoppppooonnmnnnlieZUBBBBBBBBBBBBBABBABBBBBBBBBBBBBABBBBBBBBBBBBBQOMLJIIJJJJJJJJIJIJJJJJJJJJJJJJIJJJJJJIIJJJJJIIIJKMOQBBBBBBABBBBBBBBBBBBBBBBBBBBBBBBBBABBABBBBBBBBBBBBBBBBBBBBBBBBBBBBBBBBBBBBBBBBBBBBBBBBBBBBBBBBBBBBBBBBBBBBBBBBBBBBBBBBBB",[[5,48,97],[9,57,109],[14,65,121],[18,74,133],[23,82,145],[27,91,157],[32,99,168],[37,107,175],[42,114,178],[48,121,182],[53,128,186],[58,136,189],[64,143,193],[72,150,197],[85,158,201],[97,166,205],[110,174,210],[122,182,214],[135,190,218],[147,198,222],[157,203,225],[167,208,228],[177,213,231],[187,218,234],[197,223,237],[207,228,239],[214,231,241],[220,234,242],[226,237,243],[232,240,244],[238,243,245],[244,246,246],[247,245,243],[248,240,236],[249,236,228],[250,231,220],[251,227,213],[252,223,205],[253,217,197],[251,209,186],[250,200,175],[248,192,164],[247,183,153],[246,174,142],[244,166,131],[240,155,122],[235,144,114],[230,133,106],[225,122,97],[221,111,89],[216,100,80],[211,89,74],[205,78,68],[199,66,63],[193,55,58],[188,43,52],[182,32,47],[174,23,42],[163,19,41],[151,15,39],[139,11,37],[127,8,35],[115,4,33],[103,0,31]]);
</script>
</body></html>
